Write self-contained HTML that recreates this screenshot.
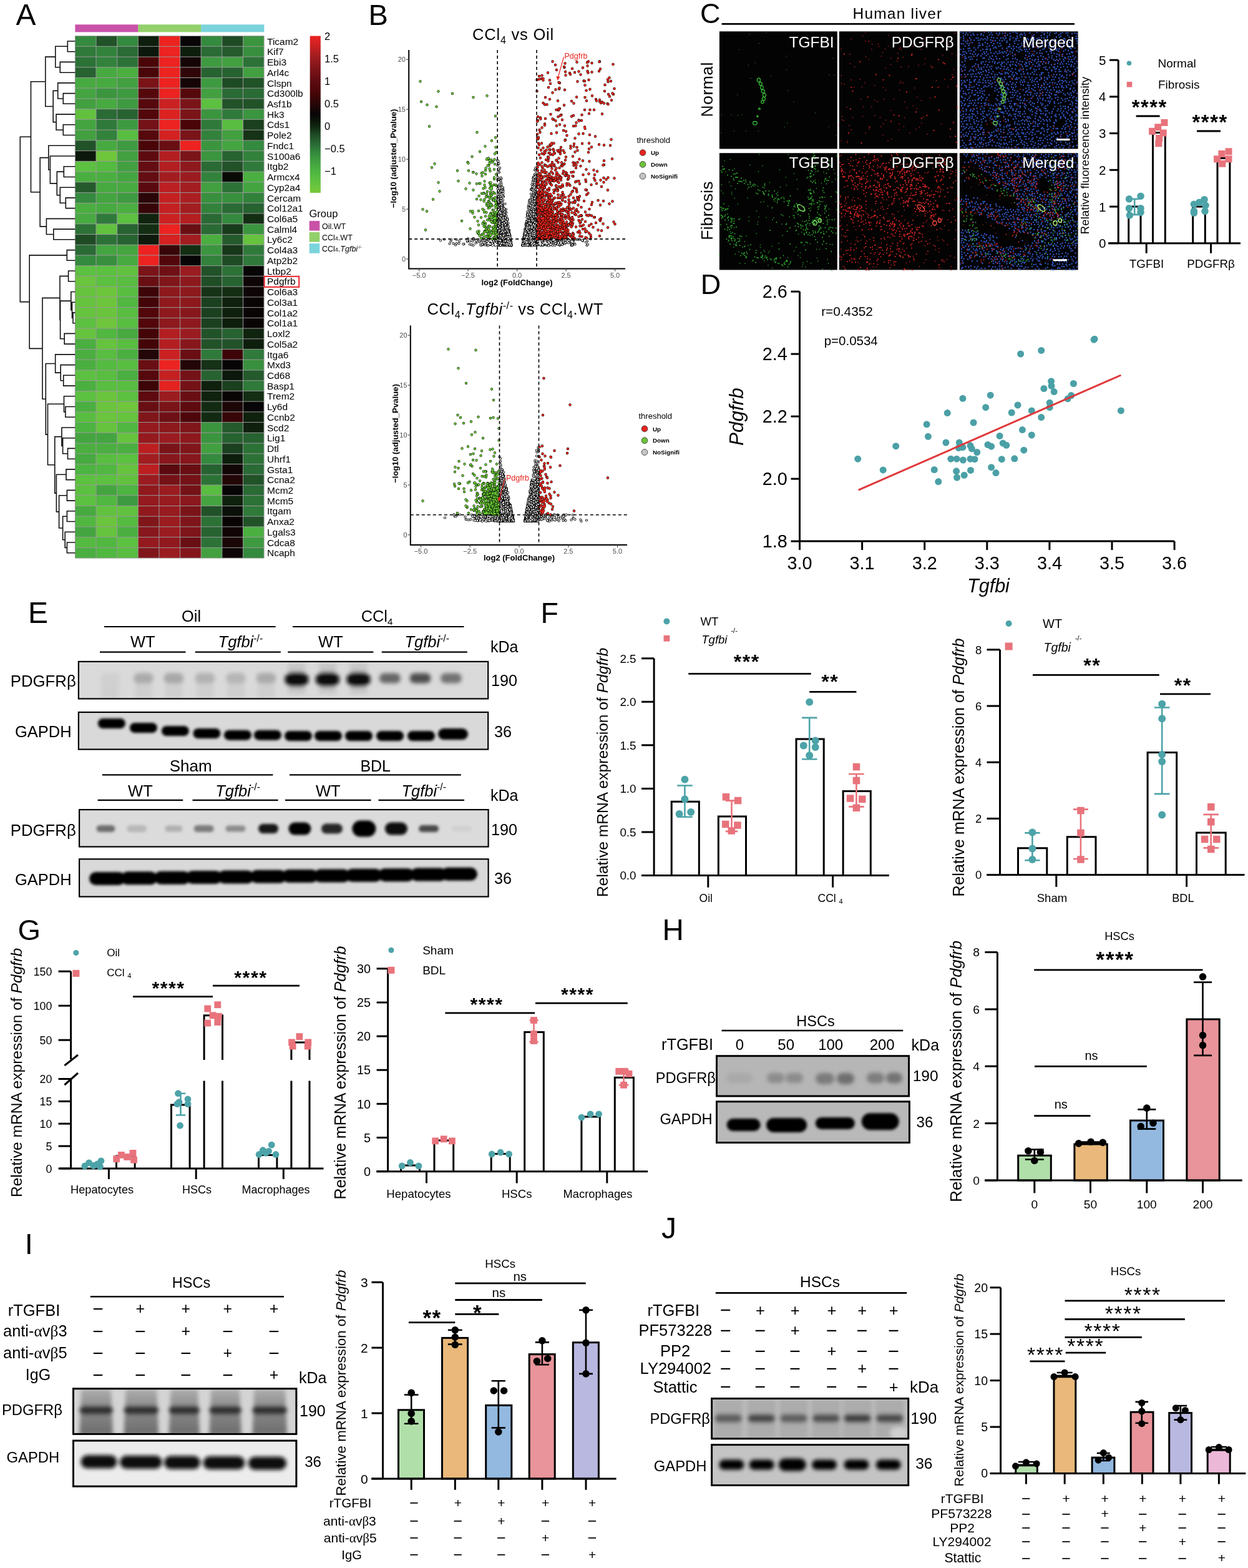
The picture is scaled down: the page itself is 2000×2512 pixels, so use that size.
<!DOCTYPE html>
<html><head><meta charset="utf-8"><title>Figure</title>
<style>html,body{margin:0;padding:0;background:#fff;}svg{display:block;}text{font-family:'Liberation Sans', Arial, sans-serif;}</style>
</head><body>
<svg width="2000" height="2512" viewBox="0 0 2000 2512" font-family="'Liberation Sans', Arial, sans-serif">
<rect width="2000" height="2512" fill="#fff"/>
<text x="25.4" y="40.3" font-size="48">A</text>
<rect x="120.4" y="39.3" width="101.2" height="12.1" fill="#c952a8"/>
<rect x="221.3" y="39.3" width="101.2" height="12.1" fill="#92d06a"/>
<rect x="322.2" y="39.3" width="101.2" height="12.1" fill="#7bd3dc"/>
<g shape-rendering="crispEdges">
<rect x="120.4" y="57.6" width="33.8" height="16.9" fill="#348a3e"/>
<rect x="154" y="57.6" width="33.8" height="16.9" fill="#215228"/>
<rect x="187.7" y="57.6" width="33.8" height="16.9" fill="#348a3e"/>
<rect x="221.3" y="57.6" width="33.8" height="16.9" fill="#0e1e0d"/>
<rect x="254.9" y="57.6" width="33.8" height="16.9" fill="#ec2320"/>
<rect x="288.6" y="57.6" width="33.8" height="16.9" fill="#070505"/>
<rect x="322.2" y="57.6" width="33.8" height="16.9" fill="#348a3e"/>
<rect x="355.8" y="57.6" width="33.8" height="16.9" fill="#1e4a24"/>
<rect x="389.5" y="57.6" width="33.8" height="16.9" fill="#3b953f"/>
<rect x="120.4" y="74.3" width="33.8" height="16.9" fill="#2f7a3a"/>
<rect x="154" y="74.3" width="33.8" height="16.9" fill="#32823c"/>
<rect x="187.7" y="74.3" width="33.8" height="16.9" fill="#2a6a35"/>
<rect x="221.3" y="74.3" width="33.8" height="16.9" fill="#0c180b"/>
<rect x="254.9" y="74.3" width="33.8" height="16.9" fill="#ec2320"/>
<rect x="288.6" y="74.3" width="33.8" height="16.9" fill="#0e1e0d"/>
<rect x="322.2" y="74.3" width="33.8" height="16.9" fill="#2a6a35"/>
<rect x="355.8" y="74.3" width="33.8" height="16.9" fill="#245a2c"/>
<rect x="389.5" y="74.3" width="33.8" height="16.9" fill="#38903e"/>
<rect x="120.4" y="91.1" width="33.8" height="16.9" fill="#2c7237"/>
<rect x="154" y="91.1" width="33.8" height="16.9" fill="#32823c"/>
<rect x="187.7" y="91.1" width="33.8" height="16.9" fill="#2c7237"/>
<rect x="221.3" y="91.1" width="33.8" height="16.9" fill="#4a0508"/>
<rect x="254.9" y="91.1" width="33.8" height="16.9" fill="#ec2320"/>
<rect x="288.6" y="91.1" width="33.8" height="16.9" fill="#150506"/>
<rect x="322.2" y="91.1" width="33.8" height="16.9" fill="#3e9a40"/>
<rect x="355.8" y="91.1" width="33.8" height="16.9" fill="#42a040"/>
<rect x="389.5" y="91.1" width="33.8" height="16.9" fill="#2c7237"/>
<rect x="120.4" y="107.8" width="33.8" height="16.9" fill="#276231"/>
<rect x="154" y="107.8" width="33.8" height="16.9" fill="#47aa40"/>
<rect x="187.7" y="107.8" width="33.8" height="16.9" fill="#4aaf40"/>
<rect x="221.3" y="107.8" width="33.8" height="16.9" fill="#4a0508"/>
<rect x="254.9" y="107.8" width="33.8" height="16.9" fill="#ec2320"/>
<rect x="288.6" y="107.8" width="33.8" height="16.9" fill="#300608"/>
<rect x="322.2" y="107.8" width="33.8" height="16.9" fill="#276231"/>
<rect x="355.8" y="107.8" width="33.8" height="16.9" fill="#276231"/>
<rect x="389.5" y="107.8" width="33.8" height="16.9" fill="#42a040"/>
<rect x="120.4" y="124.5" width="33.8" height="16.9" fill="#47aa40"/>
<rect x="154" y="124.5" width="33.8" height="16.9" fill="#47aa40"/>
<rect x="187.7" y="124.5" width="33.8" height="16.9" fill="#42a040"/>
<rect x="221.3" y="124.5" width="33.8" height="16.9" fill="#7a1419"/>
<rect x="254.9" y="124.5" width="33.8" height="16.9" fill="#ec2320"/>
<rect x="288.6" y="124.5" width="33.8" height="16.9" fill="#150506"/>
<rect x="322.2" y="124.5" width="33.8" height="16.9" fill="#3e9a40"/>
<rect x="355.8" y="124.5" width="33.8" height="16.9" fill="#1e4a24"/>
<rect x="389.5" y="124.5" width="33.8" height="16.9" fill="#215228"/>
<rect x="120.4" y="141.2" width="33.8" height="16.9" fill="#44a540"/>
<rect x="154" y="141.2" width="33.8" height="16.9" fill="#3b953f"/>
<rect x="187.7" y="141.2" width="33.8" height="16.9" fill="#3e9a40"/>
<rect x="221.3" y="141.2" width="33.8" height="16.9" fill="#56090d"/>
<rect x="254.9" y="141.2" width="33.8" height="16.9" fill="#ec2320"/>
<rect x="288.6" y="141.2" width="33.8" height="16.9" fill="#56090d"/>
<rect x="322.2" y="141.2" width="33.8" height="16.9" fill="#42a040"/>
<rect x="355.8" y="141.2" width="33.8" height="16.9" fill="#2a6a35"/>
<rect x="389.5" y="141.2" width="33.8" height="16.9" fill="#2a6a35"/>
<rect x="120.4" y="158" width="33.8" height="16.9" fill="#42a040"/>
<rect x="154" y="158" width="33.8" height="16.9" fill="#47aa40"/>
<rect x="187.7" y="158" width="33.8" height="16.9" fill="#3e9a40"/>
<rect x="221.3" y="158" width="33.8" height="16.9" fill="#56090d"/>
<rect x="254.9" y="158" width="33.8" height="16.9" fill="#cc2122"/>
<rect x="288.6" y="158" width="33.8" height="16.9" fill="#7a1419"/>
<rect x="322.2" y="158" width="33.8" height="16.9" fill="#5cc040"/>
<rect x="355.8" y="158" width="33.8" height="16.9" fill="#215228"/>
<rect x="389.5" y="158" width="33.8" height="16.9" fill="#215228"/>
<rect x="120.4" y="174.7" width="33.8" height="16.9" fill="#61c13f"/>
<rect x="154" y="174.7" width="33.8" height="16.9" fill="#2a6a35"/>
<rect x="187.7" y="174.7" width="33.8" height="16.9" fill="#276231"/>
<rect x="221.3" y="174.7" width="33.8" height="16.9" fill="#52070b"/>
<rect x="254.9" y="174.7" width="33.8" height="16.9" fill="#dc2221"/>
<rect x="288.6" y="174.7" width="33.8" height="16.9" fill="#7a1419"/>
<rect x="322.2" y="174.7" width="33.8" height="16.9" fill="#3b953f"/>
<rect x="355.8" y="174.7" width="33.8" height="16.9" fill="#2f7a3a"/>
<rect x="389.5" y="174.7" width="33.8" height="16.9" fill="#3b953f"/>
<rect x="120.4" y="191.4" width="33.8" height="16.9" fill="#44a540"/>
<rect x="154" y="191.4" width="33.8" height="16.9" fill="#2f7a3a"/>
<rect x="187.7" y="191.4" width="33.8" height="16.9" fill="#3e9a40"/>
<rect x="221.3" y="191.4" width="33.8" height="16.9" fill="#741217"/>
<rect x="254.9" y="191.4" width="33.8" height="16.9" fill="#ec2320"/>
<rect x="288.6" y="191.4" width="33.8" height="16.9" fill="#4a0508"/>
<rect x="322.2" y="191.4" width="33.8" height="16.9" fill="#2f7a3a"/>
<rect x="355.8" y="191.4" width="33.8" height="16.9" fill="#58bd40"/>
<rect x="389.5" y="191.4" width="33.8" height="16.9" fill="#1a401f"/>
<rect x="120.4" y="208.2" width="33.8" height="16.9" fill="#42a040"/>
<rect x="154" y="208.2" width="33.8" height="16.9" fill="#32823c"/>
<rect x="187.7" y="208.2" width="33.8" height="16.9" fill="#58bd40"/>
<rect x="221.3" y="208.2" width="33.8" height="16.9" fill="#56090d"/>
<rect x="254.9" y="208.2" width="33.8" height="16.9" fill="#d42121"/>
<rect x="288.6" y="208.2" width="33.8" height="16.9" fill="#7a1419"/>
<rect x="322.2" y="208.2" width="33.8" height="16.9" fill="#32823c"/>
<rect x="355.8" y="208.2" width="33.8" height="16.9" fill="#42a040"/>
<rect x="389.5" y="208.2" width="33.8" height="16.9" fill="#163317"/>
<rect x="120.4" y="224.9" width="33.8" height="16.9" fill="#215228"/>
<rect x="154" y="224.9" width="33.8" height="16.9" fill="#47aa40"/>
<rect x="187.7" y="224.9" width="33.8" height="16.9" fill="#3e9a40"/>
<rect x="221.3" y="224.9" width="33.8" height="16.9" fill="#4a0508"/>
<rect x="254.9" y="224.9" width="33.8" height="16.9" fill="#690f14"/>
<rect x="288.6" y="224.9" width="33.8" height="16.9" fill="#ec2320"/>
<rect x="322.2" y="224.9" width="33.8" height="16.9" fill="#3b953f"/>
<rect x="355.8" y="224.9" width="33.8" height="16.9" fill="#44a540"/>
<rect x="389.5" y="224.9" width="33.8" height="16.9" fill="#348a3e"/>
<rect x="120.4" y="241.6" width="33.8" height="16.9" fill="#0c180b"/>
<rect x="154" y="241.6" width="33.8" height="16.9" fill="#6fc63c"/>
<rect x="187.7" y="241.6" width="33.8" height="16.9" fill="#42a040"/>
<rect x="221.3" y="241.6" width="33.8" height="16.9" fill="#5e0b10"/>
<rect x="254.9" y="241.6" width="33.8" height="16.9" fill="#b31e21"/>
<rect x="288.6" y="241.6" width="33.8" height="16.9" fill="#7a1419"/>
<rect x="322.2" y="241.6" width="33.8" height="16.9" fill="#3b953f"/>
<rect x="355.8" y="241.6" width="33.8" height="16.9" fill="#276231"/>
<rect x="389.5" y="241.6" width="33.8" height="16.9" fill="#32823c"/>
<rect x="120.4" y="258.4" width="33.8" height="16.9" fill="#5cc040"/>
<rect x="154" y="258.4" width="33.8" height="16.9" fill="#54ba40"/>
<rect x="187.7" y="258.4" width="33.8" height="16.9" fill="#42a040"/>
<rect x="221.3" y="258.4" width="33.8" height="16.9" fill="#640d12"/>
<rect x="254.9" y="258.4" width="33.8" height="16.9" fill="#b31e21"/>
<rect x="288.6" y="258.4" width="33.8" height="16.9" fill="#8d191d"/>
<rect x="322.2" y="258.4" width="33.8" height="16.9" fill="#2a6a35"/>
<rect x="355.8" y="258.4" width="33.8" height="16.9" fill="#215228"/>
<rect x="389.5" y="258.4" width="33.8" height="16.9" fill="#2f7a3a"/>
<rect x="120.4" y="275.1" width="33.8" height="16.9" fill="#4aaf40"/>
<rect x="154" y="275.1" width="33.8" height="16.9" fill="#4aaf40"/>
<rect x="187.7" y="275.1" width="33.8" height="16.9" fill="#44a540"/>
<rect x="221.3" y="275.1" width="33.8" height="16.9" fill="#640d12"/>
<rect x="254.9" y="275.1" width="33.8" height="16.9" fill="#a21d20"/>
<rect x="288.6" y="275.1" width="33.8" height="16.9" fill="#9a1c20"/>
<rect x="322.2" y="275.1" width="33.8" height="16.9" fill="#32823c"/>
<rect x="355.8" y="275.1" width="33.8" height="16.9" fill="#090b07"/>
<rect x="389.5" y="275.1" width="33.8" height="16.9" fill="#4aaf40"/>
<rect x="120.4" y="291.8" width="33.8" height="16.9" fill="#245a2c"/>
<rect x="154" y="291.8" width="33.8" height="16.9" fill="#47aa40"/>
<rect x="187.7" y="291.8" width="33.8" height="16.9" fill="#47aa40"/>
<rect x="221.3" y="291.8" width="33.8" height="16.9" fill="#5a0a0e"/>
<rect x="254.9" y="291.8" width="33.8" height="16.9" fill="#bc1f22"/>
<rect x="288.6" y="291.8" width="33.8" height="16.9" fill="#a21d20"/>
<rect x="322.2" y="291.8" width="33.8" height="16.9" fill="#42a040"/>
<rect x="355.8" y="291.8" width="33.8" height="16.9" fill="#2c7237"/>
<rect x="389.5" y="291.8" width="33.8" height="16.9" fill="#44a540"/>
<rect x="120.4" y="308.6" width="33.8" height="16.9" fill="#348a3e"/>
<rect x="154" y="308.6" width="33.8" height="16.9" fill="#44a540"/>
<rect x="187.7" y="308.6" width="33.8" height="16.9" fill="#3e9a40"/>
<rect x="221.3" y="308.6" width="33.8" height="16.9" fill="#2a0608"/>
<rect x="254.9" y="308.6" width="33.8" height="16.9" fill="#c42022"/>
<rect x="288.6" y="308.6" width="33.8" height="16.9" fill="#ab1e21"/>
<rect x="322.2" y="308.6" width="33.8" height="16.9" fill="#38903e"/>
<rect x="355.8" y="308.6" width="33.8" height="16.9" fill="#38903e"/>
<rect x="389.5" y="308.6" width="33.8" height="16.9" fill="#32823c"/>
<rect x="120.4" y="325.3" width="33.8" height="16.9" fill="#4aaf40"/>
<rect x="154" y="325.3" width="33.8" height="16.9" fill="#47aa40"/>
<rect x="187.7" y="325.3" width="33.8" height="16.9" fill="#4aaf40"/>
<rect x="221.3" y="325.3" width="33.8" height="16.9" fill="#370608"/>
<rect x="254.9" y="325.3" width="33.8" height="16.9" fill="#c42022"/>
<rect x="288.6" y="325.3" width="33.8" height="16.9" fill="#a21d20"/>
<rect x="322.2" y="325.3" width="33.8" height="16.9" fill="#32823c"/>
<rect x="355.8" y="325.3" width="33.8" height="16.9" fill="#2a6a35"/>
<rect x="389.5" y="325.3" width="33.8" height="16.9" fill="#276231"/>
<rect x="120.4" y="342" width="33.8" height="16.9" fill="#47aa40"/>
<rect x="154" y="342" width="33.8" height="16.9" fill="#2f7a3a"/>
<rect x="187.7" y="342" width="33.8" height="16.9" fill="#5cc040"/>
<rect x="221.3" y="342" width="33.8" height="16.9" fill="#10240f"/>
<rect x="254.9" y="342" width="33.8" height="16.9" fill="#cc2122"/>
<rect x="288.6" y="342" width="33.8" height="16.9" fill="#b31e21"/>
<rect x="322.2" y="342" width="33.8" height="16.9" fill="#2a6a35"/>
<rect x="355.8" y="342" width="33.8" height="16.9" fill="#348a3e"/>
<rect x="389.5" y="342" width="33.8" height="16.9" fill="#142e14"/>
<rect x="120.4" y="358.7" width="33.8" height="16.9" fill="#2c7237"/>
<rect x="154" y="358.7" width="33.8" height="16.9" fill="#61c13f"/>
<rect x="187.7" y="358.7" width="33.8" height="16.9" fill="#276231"/>
<rect x="221.3" y="358.7" width="33.8" height="16.9" fill="#142e14"/>
<rect x="254.9" y="358.7" width="33.8" height="16.9" fill="#ec2320"/>
<rect x="288.6" y="358.7" width="33.8" height="16.9" fill="#690f14"/>
<rect x="322.2" y="358.7" width="33.8" height="16.9" fill="#2a6a35"/>
<rect x="355.8" y="358.7" width="33.8" height="16.9" fill="#183b1c"/>
<rect x="389.5" y="358.7" width="33.8" height="16.9" fill="#3b953f"/>
<rect x="120.4" y="375.5" width="33.8" height="16.9" fill="#1e4a24"/>
<rect x="154" y="375.5" width="33.8" height="16.9" fill="#2c7237"/>
<rect x="187.7" y="375.5" width="33.8" height="16.9" fill="#276231"/>
<rect x="221.3" y="375.5" width="33.8" height="16.9" fill="#0d1a0c"/>
<rect x="254.9" y="375.5" width="33.8" height="16.9" fill="#d42121"/>
<rect x="288.6" y="375.5" width="33.8" height="16.9" fill="#a21d20"/>
<rect x="322.2" y="375.5" width="33.8" height="16.9" fill="#4aaf40"/>
<rect x="355.8" y="375.5" width="33.8" height="16.9" fill="#245a2c"/>
<rect x="389.5" y="375.5" width="33.8" height="16.9" fill="#66c33e"/>
<rect x="120.4" y="392.2" width="33.8" height="16.9" fill="#2a6a35"/>
<rect x="154" y="392.2" width="33.8" height="16.9" fill="#44a540"/>
<rect x="187.7" y="392.2" width="33.8" height="16.9" fill="#44a540"/>
<rect x="221.3" y="392.2" width="33.8" height="16.9" fill="#ec2320"/>
<rect x="254.9" y="392.2" width="33.8" height="16.9" fill="#370608"/>
<rect x="288.6" y="392.2" width="33.8" height="16.9" fill="#142e14"/>
<rect x="322.2" y="392.2" width="33.8" height="16.9" fill="#3b953f"/>
<rect x="355.8" y="392.2" width="33.8" height="16.9" fill="#17371a"/>
<rect x="389.5" y="392.2" width="33.8" height="16.9" fill="#2f7a3a"/>
<rect x="120.4" y="408.9" width="33.8" height="16.9" fill="#348a3e"/>
<rect x="154" y="408.9" width="33.8" height="16.9" fill="#38903e"/>
<rect x="187.7" y="408.9" width="33.8" height="16.9" fill="#47aa40"/>
<rect x="221.3" y="408.9" width="33.8" height="16.9" fill="#ec2320"/>
<rect x="254.9" y="408.9" width="33.8" height="16.9" fill="#52070b"/>
<rect x="288.6" y="408.9" width="33.8" height="16.9" fill="#070505"/>
<rect x="322.2" y="408.9" width="33.8" height="16.9" fill="#32823c"/>
<rect x="355.8" y="408.9" width="33.8" height="16.9" fill="#1e4a24"/>
<rect x="389.5" y="408.9" width="33.8" height="16.9" fill="#2f7a3a"/>
<rect x="120.4" y="425.7" width="33.8" height="16.9" fill="#5cc040"/>
<rect x="154" y="425.7" width="33.8" height="16.9" fill="#5cc040"/>
<rect x="187.7" y="425.7" width="33.8" height="16.9" fill="#61c13f"/>
<rect x="221.3" y="425.7" width="33.8" height="16.9" fill="#7a1419"/>
<rect x="254.9" y="425.7" width="33.8" height="16.9" fill="#6f1015"/>
<rect x="288.6" y="425.7" width="33.8" height="16.9" fill="#9a1c20"/>
<rect x="322.2" y="425.7" width="33.8" height="16.9" fill="#215228"/>
<rect x="355.8" y="425.7" width="33.8" height="16.9" fill="#2c7237"/>
<rect x="389.5" y="425.7" width="33.8" height="16.9" fill="#070505"/>
<rect x="120.4" y="442.4" width="33.8" height="16.9" fill="#6ac43d"/>
<rect x="154" y="442.4" width="33.8" height="16.9" fill="#5cc040"/>
<rect x="187.7" y="442.4" width="33.8" height="16.9" fill="#58bd40"/>
<rect x="221.3" y="442.4" width="33.8" height="16.9" fill="#690f14"/>
<rect x="254.9" y="442.4" width="33.8" height="16.9" fill="#80161a"/>
<rect x="288.6" y="442.4" width="33.8" height="16.9" fill="#8d191d"/>
<rect x="322.2" y="442.4" width="33.8" height="16.9" fill="#1f4d26"/>
<rect x="355.8" y="442.4" width="33.8" height="16.9" fill="#276231"/>
<rect x="389.5" y="442.4" width="33.8" height="16.9" fill="#0e0506"/>
<rect x="120.4" y="459.1" width="33.8" height="16.9" fill="#66c33e"/>
<rect x="154" y="459.1" width="33.8" height="16.9" fill="#6dc53c"/>
<rect x="187.7" y="459.1" width="33.8" height="16.9" fill="#58bd40"/>
<rect x="221.3" y="459.1" width="33.8" height="16.9" fill="#3d0508"/>
<rect x="254.9" y="459.1" width="33.8" height="16.9" fill="#8d191d"/>
<rect x="288.6" y="459.1" width="33.8" height="16.9" fill="#8d191d"/>
<rect x="322.2" y="459.1" width="33.8" height="16.9" fill="#163317"/>
<rect x="355.8" y="459.1" width="33.8" height="16.9" fill="#142e14"/>
<rect x="389.5" y="459.1" width="33.8" height="16.9" fill="#0e0506"/>
<rect x="120.4" y="475.9" width="33.8" height="16.9" fill="#66c33e"/>
<rect x="154" y="475.9" width="33.8" height="16.9" fill="#6dc53c"/>
<rect x="187.7" y="475.9" width="33.8" height="16.9" fill="#50b740"/>
<rect x="221.3" y="475.9" width="33.8" height="16.9" fill="#440508"/>
<rect x="254.9" y="475.9" width="33.8" height="16.9" fill="#90191e"/>
<rect x="288.6" y="475.9" width="33.8" height="16.9" fill="#8d191d"/>
<rect x="322.2" y="475.9" width="33.8" height="16.9" fill="#1a401f"/>
<rect x="355.8" y="475.9" width="33.8" height="16.9" fill="#0f200e"/>
<rect x="389.5" y="475.9" width="33.8" height="16.9" fill="#0a0505"/>
<rect x="120.4" y="492.6" width="33.8" height="16.9" fill="#66c33e"/>
<rect x="154" y="492.6" width="33.8" height="16.9" fill="#6ac43d"/>
<rect x="187.7" y="492.6" width="33.8" height="16.9" fill="#58bd40"/>
<rect x="221.3" y="492.6" width="33.8" height="16.9" fill="#52070b"/>
<rect x="254.9" y="492.6" width="33.8" height="16.9" fill="#8d191d"/>
<rect x="288.6" y="492.6" width="33.8" height="16.9" fill="#87171c"/>
<rect x="322.2" y="492.6" width="33.8" height="16.9" fill="#1a401f"/>
<rect x="355.8" y="492.6" width="33.8" height="16.9" fill="#0f200e"/>
<rect x="389.5" y="492.6" width="33.8" height="16.9" fill="#0a0505"/>
<rect x="120.4" y="509.3" width="33.8" height="16.9" fill="#5cc040"/>
<rect x="154" y="509.3" width="33.8" height="16.9" fill="#6fc63c"/>
<rect x="187.7" y="509.3" width="33.8" height="16.9" fill="#58bd40"/>
<rect x="221.3" y="509.3" width="33.8" height="16.9" fill="#52070b"/>
<rect x="254.9" y="509.3" width="33.8" height="16.9" fill="#8d191d"/>
<rect x="288.6" y="509.3" width="33.8" height="16.9" fill="#8d191d"/>
<rect x="322.2" y="509.3" width="33.8" height="16.9" fill="#1a401f"/>
<rect x="355.8" y="509.3" width="33.8" height="16.9" fill="#0e1e0d"/>
<rect x="389.5" y="509.3" width="33.8" height="16.9" fill="#0a0505"/>
<rect x="120.4" y="526" width="33.8" height="16.9" fill="#66c33e"/>
<rect x="154" y="526" width="33.8" height="16.9" fill="#50b740"/>
<rect x="187.7" y="526" width="33.8" height="16.9" fill="#47aa40"/>
<rect x="221.3" y="526" width="33.8" height="16.9" fill="#440508"/>
<rect x="254.9" y="526" width="33.8" height="16.9" fill="#b31e21"/>
<rect x="288.6" y="526" width="33.8" height="16.9" fill="#9a1c20"/>
<rect x="322.2" y="526" width="33.8" height="16.9" fill="#215228"/>
<rect x="355.8" y="526" width="33.8" height="16.9" fill="#276231"/>
<rect x="389.5" y="526" width="33.8" height="16.9" fill="#10240f"/>
<rect x="120.4" y="542.8" width="33.8" height="16.9" fill="#4aaf40"/>
<rect x="154" y="542.8" width="33.8" height="16.9" fill="#66c33e"/>
<rect x="187.7" y="542.8" width="33.8" height="16.9" fill="#58bd40"/>
<rect x="221.3" y="542.8" width="33.8" height="16.9" fill="#440508"/>
<rect x="254.9" y="542.8" width="33.8" height="16.9" fill="#b31e21"/>
<rect x="288.6" y="542.8" width="33.8" height="16.9" fill="#87171c"/>
<rect x="322.2" y="542.8" width="33.8" height="16.9" fill="#215228"/>
<rect x="355.8" y="542.8" width="33.8" height="16.9" fill="#215228"/>
<rect x="389.5" y="542.8" width="33.8" height="16.9" fill="#0e1e0d"/>
<rect x="120.4" y="559.5" width="33.8" height="16.9" fill="#4aaf40"/>
<rect x="154" y="559.5" width="33.8" height="16.9" fill="#58bd40"/>
<rect x="187.7" y="559.5" width="33.8" height="16.9" fill="#4aaf40"/>
<rect x="221.3" y="559.5" width="33.8" height="16.9" fill="#230607"/>
<rect x="254.9" y="559.5" width="33.8" height="16.9" fill="#cc2122"/>
<rect x="288.6" y="559.5" width="33.8" height="16.9" fill="#690f14"/>
<rect x="322.2" y="559.5" width="33.8" height="16.9" fill="#2f7a3a"/>
<rect x="355.8" y="559.5" width="33.8" height="16.9" fill="#3d0508"/>
<rect x="389.5" y="559.5" width="33.8" height="16.9" fill="#2f7a3a"/>
<rect x="120.4" y="576.2" width="33.8" height="16.9" fill="#4aaf40"/>
<rect x="154" y="576.2" width="33.8" height="16.9" fill="#54ba40"/>
<rect x="187.7" y="576.2" width="33.8" height="16.9" fill="#58bd40"/>
<rect x="221.3" y="576.2" width="33.8" height="16.9" fill="#690f14"/>
<rect x="254.9" y="576.2" width="33.8" height="16.9" fill="#ec2320"/>
<rect x="288.6" y="576.2" width="33.8" height="16.9" fill="#230607"/>
<rect x="322.2" y="576.2" width="33.8" height="16.9" fill="#153116"/>
<rect x="355.8" y="576.2" width="33.8" height="16.9" fill="#070505"/>
<rect x="389.5" y="576.2" width="33.8" height="16.9" fill="#38903e"/>
<rect x="120.4" y="593" width="33.8" height="16.9" fill="#5cc040"/>
<rect x="154" y="593" width="33.8" height="16.9" fill="#58bd40"/>
<rect x="187.7" y="593" width="33.8" height="16.9" fill="#4aaf40"/>
<rect x="221.3" y="593" width="33.8" height="16.9" fill="#56090d"/>
<rect x="254.9" y="593" width="33.8" height="16.9" fill="#c42022"/>
<rect x="288.6" y="593" width="33.8" height="16.9" fill="#741217"/>
<rect x="322.2" y="593" width="33.8" height="16.9" fill="#276231"/>
<rect x="355.8" y="593" width="33.8" height="16.9" fill="#0c180b"/>
<rect x="389.5" y="593" width="33.8" height="16.9" fill="#245a2c"/>
<rect x="120.4" y="609.7" width="33.8" height="16.9" fill="#4aaf40"/>
<rect x="154" y="609.7" width="33.8" height="16.9" fill="#58bd40"/>
<rect x="187.7" y="609.7" width="33.8" height="16.9" fill="#58bd40"/>
<rect x="221.3" y="609.7" width="33.8" height="16.9" fill="#3d0508"/>
<rect x="254.9" y="609.7" width="33.8" height="16.9" fill="#e42220"/>
<rect x="288.6" y="609.7" width="33.8" height="16.9" fill="#741217"/>
<rect x="322.2" y="609.7" width="33.8" height="16.9" fill="#0f200e"/>
<rect x="355.8" y="609.7" width="33.8" height="16.9" fill="#1a401f"/>
<rect x="389.5" y="609.7" width="33.8" height="16.9" fill="#2f7a3a"/>
<rect x="120.4" y="626.4" width="33.8" height="16.9" fill="#5cc040"/>
<rect x="154" y="626.4" width="33.8" height="16.9" fill="#6ac43d"/>
<rect x="187.7" y="626.4" width="33.8" height="16.9" fill="#5cc040"/>
<rect x="221.3" y="626.4" width="33.8" height="16.9" fill="#5e0b10"/>
<rect x="254.9" y="626.4" width="33.8" height="16.9" fill="#9a1c20"/>
<rect x="288.6" y="626.4" width="33.8" height="16.9" fill="#690f14"/>
<rect x="322.2" y="626.4" width="33.8" height="16.9" fill="#0f220e"/>
<rect x="355.8" y="626.4" width="33.8" height="16.9" fill="#0a0505"/>
<rect x="389.5" y="626.4" width="33.8" height="16.9" fill="#142e14"/>
<rect x="120.4" y="643.2" width="33.8" height="16.9" fill="#4aaf40"/>
<rect x="154" y="643.2" width="33.8" height="16.9" fill="#6ac43d"/>
<rect x="187.7" y="643.2" width="33.8" height="16.9" fill="#6fc63c"/>
<rect x="221.3" y="643.2" width="33.8" height="16.9" fill="#690f14"/>
<rect x="254.9" y="643.2" width="33.8" height="16.9" fill="#7a1419"/>
<rect x="288.6" y="643.2" width="33.8" height="16.9" fill="#5e0b10"/>
<rect x="322.2" y="643.2" width="33.8" height="16.9" fill="#122a12"/>
<rect x="355.8" y="643.2" width="33.8" height="16.9" fill="#1c0607"/>
<rect x="389.5" y="643.2" width="33.8" height="16.9" fill="#070505"/>
<rect x="120.4" y="659.9" width="33.8" height="16.9" fill="#58bd40"/>
<rect x="154" y="659.9" width="33.8" height="16.9" fill="#6ac43d"/>
<rect x="187.7" y="659.9" width="33.8" height="16.9" fill="#66c33e"/>
<rect x="221.3" y="659.9" width="33.8" height="16.9" fill="#80161a"/>
<rect x="254.9" y="659.9" width="33.8" height="16.9" fill="#6f1015"/>
<rect x="288.6" y="659.9" width="33.8" height="16.9" fill="#4e060a"/>
<rect x="322.2" y="659.9" width="33.8" height="16.9" fill="#122a12"/>
<rect x="355.8" y="659.9" width="33.8" height="16.9" fill="#370608"/>
<rect x="389.5" y="659.9" width="33.8" height="16.9" fill="#0f220e"/>
<rect x="120.4" y="676.6" width="33.8" height="16.9" fill="#4cb440"/>
<rect x="154" y="676.6" width="33.8" height="16.9" fill="#66c33e"/>
<rect x="187.7" y="676.6" width="33.8" height="16.9" fill="#50b740"/>
<rect x="221.3" y="676.6" width="33.8" height="16.9" fill="#941a1f"/>
<rect x="254.9" y="676.6" width="33.8" height="16.9" fill="#8d191d"/>
<rect x="288.6" y="676.6" width="33.8" height="16.9" fill="#80161a"/>
<rect x="322.2" y="676.6" width="33.8" height="16.9" fill="#3b953f"/>
<rect x="355.8" y="676.6" width="33.8" height="16.9" fill="#245a2c"/>
<rect x="389.5" y="676.6" width="33.8" height="16.9" fill="#0f200e"/>
<rect x="120.4" y="693.3" width="33.8" height="16.9" fill="#44a540"/>
<rect x="154" y="693.3" width="33.8" height="16.9" fill="#44a540"/>
<rect x="187.7" y="693.3" width="33.8" height="16.9" fill="#66c33e"/>
<rect x="221.3" y="693.3" width="33.8" height="16.9" fill="#941a1f"/>
<rect x="254.9" y="693.3" width="33.8" height="16.9" fill="#9a1c20"/>
<rect x="288.6" y="693.3" width="33.8" height="16.9" fill="#8d191d"/>
<rect x="322.2" y="693.3" width="33.8" height="16.9" fill="#3b953f"/>
<rect x="355.8" y="693.3" width="33.8" height="16.9" fill="#276231"/>
<rect x="389.5" y="693.3" width="33.8" height="16.9" fill="#276231"/>
<rect x="120.4" y="710.1" width="33.8" height="16.9" fill="#4aaf40"/>
<rect x="154" y="710.1" width="33.8" height="16.9" fill="#4aaf40"/>
<rect x="187.7" y="710.1" width="33.8" height="16.9" fill="#4aaf40"/>
<rect x="221.3" y="710.1" width="33.8" height="16.9" fill="#bc1f22"/>
<rect x="254.9" y="710.1" width="33.8" height="16.9" fill="#7a1419"/>
<rect x="288.6" y="710.1" width="33.8" height="16.9" fill="#80161a"/>
<rect x="322.2" y="710.1" width="33.8" height="16.9" fill="#42a040"/>
<rect x="355.8" y="710.1" width="33.8" height="16.9" fill="#1a401f"/>
<rect x="389.5" y="710.1" width="33.8" height="16.9" fill="#2c7237"/>
<rect x="120.4" y="726.8" width="33.8" height="16.9" fill="#47aa40"/>
<rect x="154" y="726.8" width="33.8" height="16.9" fill="#58bd40"/>
<rect x="187.7" y="726.8" width="33.8" height="16.9" fill="#5cc040"/>
<rect x="221.3" y="726.8" width="33.8" height="16.9" fill="#a21d20"/>
<rect x="254.9" y="726.8" width="33.8" height="16.9" fill="#87171c"/>
<rect x="288.6" y="726.8" width="33.8" height="16.9" fill="#87171c"/>
<rect x="322.2" y="726.8" width="33.8" height="16.9" fill="#348a3e"/>
<rect x="355.8" y="726.8" width="33.8" height="16.9" fill="#0e1e0d"/>
<rect x="389.5" y="726.8" width="33.8" height="16.9" fill="#2c7237"/>
<rect x="120.4" y="743.5" width="33.8" height="16.9" fill="#4cb440"/>
<rect x="154" y="743.5" width="33.8" height="16.9" fill="#50b740"/>
<rect x="187.7" y="743.5" width="33.8" height="16.9" fill="#66c33e"/>
<rect x="221.3" y="743.5" width="33.8" height="16.9" fill="#bc1f22"/>
<rect x="254.9" y="743.5" width="33.8" height="16.9" fill="#5a0a0e"/>
<rect x="288.6" y="743.5" width="33.8" height="16.9" fill="#690f14"/>
<rect x="322.2" y="743.5" width="33.8" height="16.9" fill="#276231"/>
<rect x="355.8" y="743.5" width="33.8" height="16.9" fill="#110506"/>
<rect x="389.5" y="743.5" width="33.8" height="16.9" fill="#2a6a35"/>
<rect x="120.4" y="760.3" width="33.8" height="16.9" fill="#5cc040"/>
<rect x="154" y="760.3" width="33.8" height="16.9" fill="#5cc040"/>
<rect x="187.7" y="760.3" width="33.8" height="16.9" fill="#61c13f"/>
<rect x="221.3" y="760.3" width="33.8" height="16.9" fill="#9a1c20"/>
<rect x="254.9" y="760.3" width="33.8" height="16.9" fill="#741217"/>
<rect x="288.6" y="760.3" width="33.8" height="16.9" fill="#741217"/>
<rect x="322.2" y="760.3" width="33.8" height="16.9" fill="#2c7237"/>
<rect x="355.8" y="760.3" width="33.8" height="16.9" fill="#230607"/>
<rect x="389.5" y="760.3" width="33.8" height="16.9" fill="#215228"/>
<rect x="120.4" y="777" width="33.8" height="16.9" fill="#5cc040"/>
<rect x="154" y="777" width="33.8" height="16.9" fill="#44a540"/>
<rect x="187.7" y="777" width="33.8" height="16.9" fill="#4cb440"/>
<rect x="221.3" y="777" width="33.8" height="16.9" fill="#90191e"/>
<rect x="254.9" y="777" width="33.8" height="16.9" fill="#9a1c20"/>
<rect x="288.6" y="777" width="33.8" height="16.9" fill="#741217"/>
<rect x="322.2" y="777" width="33.8" height="16.9" fill="#58bd40"/>
<rect x="355.8" y="777" width="33.8" height="16.9" fill="#070505"/>
<rect x="389.5" y="777" width="33.8" height="16.9" fill="#2a6a35"/>
<rect x="120.4" y="793.7" width="33.8" height="16.9" fill="#5cc040"/>
<rect x="154" y="793.7" width="33.8" height="16.9" fill="#50b740"/>
<rect x="187.7" y="793.7" width="33.8" height="16.9" fill="#3e9a40"/>
<rect x="221.3" y="793.7" width="33.8" height="16.9" fill="#941a1f"/>
<rect x="254.9" y="793.7" width="33.8" height="16.9" fill="#971b1f"/>
<rect x="288.6" y="793.7" width="33.8" height="16.9" fill="#8b181d"/>
<rect x="322.2" y="793.7" width="33.8" height="16.9" fill="#44a540"/>
<rect x="355.8" y="793.7" width="33.8" height="16.9" fill="#0f220e"/>
<rect x="389.5" y="793.7" width="33.8" height="16.9" fill="#2c7237"/>
<rect x="120.4" y="810.5" width="33.8" height="16.9" fill="#47aa40"/>
<rect x="154" y="810.5" width="33.8" height="16.9" fill="#61c13f"/>
<rect x="187.7" y="810.5" width="33.8" height="16.9" fill="#61c13f"/>
<rect x="221.3" y="810.5" width="33.8" height="16.9" fill="#90191e"/>
<rect x="254.9" y="810.5" width="33.8" height="16.9" fill="#971b1f"/>
<rect x="288.6" y="810.5" width="33.8" height="16.9" fill="#7a1419"/>
<rect x="322.2" y="810.5" width="33.8" height="16.9" fill="#215228"/>
<rect x="355.8" y="810.5" width="33.8" height="16.9" fill="#0b1109"/>
<rect x="389.5" y="810.5" width="33.8" height="16.9" fill="#2f7a3a"/>
<rect x="120.4" y="827.2" width="33.8" height="16.9" fill="#50b740"/>
<rect x="154" y="827.2" width="33.8" height="16.9" fill="#6ac43d"/>
<rect x="187.7" y="827.2" width="33.8" height="16.9" fill="#54ba40"/>
<rect x="221.3" y="827.2" width="33.8" height="16.9" fill="#80161a"/>
<rect x="254.9" y="827.2" width="33.8" height="16.9" fill="#9a1c20"/>
<rect x="288.6" y="827.2" width="33.8" height="16.9" fill="#7e151a"/>
<rect x="322.2" y="827.2" width="33.8" height="16.9" fill="#2c7237"/>
<rect x="355.8" y="827.2" width="33.8" height="16.9" fill="#0a0505"/>
<rect x="389.5" y="827.2" width="33.8" height="16.9" fill="#215228"/>
<rect x="120.4" y="843.9" width="33.8" height="16.9" fill="#44a540"/>
<rect x="154" y="843.9" width="33.8" height="16.9" fill="#66c33e"/>
<rect x="187.7" y="843.9" width="33.8" height="16.9" fill="#4aaf40"/>
<rect x="221.3" y="843.9" width="33.8" height="16.9" fill="#87171c"/>
<rect x="254.9" y="843.9" width="33.8" height="16.9" fill="#9a1c20"/>
<rect x="288.6" y="843.9" width="33.8" height="16.9" fill="#7e151a"/>
<rect x="322.2" y="843.9" width="33.8" height="16.9" fill="#276231"/>
<rect x="355.8" y="843.9" width="33.8" height="16.9" fill="#110506"/>
<rect x="389.5" y="843.9" width="33.8" height="16.9" fill="#4aaf40"/>
<rect x="120.4" y="860.6" width="33.8" height="16.9" fill="#54ba40"/>
<rect x="154" y="860.6" width="33.8" height="16.9" fill="#50b740"/>
<rect x="187.7" y="860.6" width="33.8" height="16.9" fill="#5cc040"/>
<rect x="221.3" y="860.6" width="33.8" height="16.9" fill="#941a1f"/>
<rect x="254.9" y="860.6" width="33.8" height="16.9" fill="#90191e"/>
<rect x="288.6" y="860.6" width="33.8" height="16.9" fill="#690f14"/>
<rect x="322.2" y="860.6" width="33.8" height="16.9" fill="#2c7237"/>
<rect x="355.8" y="860.6" width="33.8" height="16.9" fill="#190607"/>
<rect x="389.5" y="860.6" width="33.8" height="16.9" fill="#3e9a40"/>
<rect x="120.4" y="877.4" width="33.8" height="16.9" fill="#4aaf40"/>
<rect x="154" y="877.4" width="33.8" height="16.9" fill="#50b740"/>
<rect x="187.7" y="877.4" width="33.8" height="16.9" fill="#58bd40"/>
<rect x="221.3" y="877.4" width="33.8" height="16.9" fill="#80161a"/>
<rect x="254.9" y="877.4" width="33.8" height="16.9" fill="#9a1c20"/>
<rect x="288.6" y="877.4" width="33.8" height="16.9" fill="#83161b"/>
<rect x="322.2" y="877.4" width="33.8" height="16.9" fill="#42a040"/>
<rect x="355.8" y="877.4" width="33.8" height="16.9" fill="#0e0506"/>
<rect x="389.5" y="877.4" width="33.8" height="16.9" fill="#348a3e"/>
</g>
<g stroke="#9a9a9a" stroke-width="1">
<line x1="120.4" y1="57.6" x2="120.4" y2="894.1"/>
<line x1="154" y1="57.6" x2="154" y2="894.1"/>
<line x1="187.7" y1="57.6" x2="187.7" y2="894.1"/>
<line x1="221.3" y1="57.6" x2="221.3" y2="894.1"/>
<line x1="254.9" y1="57.6" x2="254.9" y2="894.1"/>
<line x1="288.6" y1="57.6" x2="288.6" y2="894.1"/>
<line x1="322.2" y1="57.6" x2="322.2" y2="894.1"/>
<line x1="355.8" y1="57.6" x2="355.8" y2="894.1"/>
<line x1="389.5" y1="57.6" x2="389.5" y2="894.1"/>
<line x1="423.1" y1="57.6" x2="423.1" y2="894.1"/>
<line x1="120.4" y1="57.6" x2="423.1" y2="57.6"/>
<line x1="120.4" y1="74.3" x2="423.1" y2="74.3"/>
<line x1="120.4" y1="91.1" x2="423.1" y2="91.1"/>
<line x1="120.4" y1="107.8" x2="423.1" y2="107.8"/>
<line x1="120.4" y1="124.5" x2="423.1" y2="124.5"/>
<line x1="120.4" y1="141.2" x2="423.1" y2="141.2"/>
<line x1="120.4" y1="158" x2="423.1" y2="158"/>
<line x1="120.4" y1="174.7" x2="423.1" y2="174.7"/>
<line x1="120.4" y1="191.4" x2="423.1" y2="191.4"/>
<line x1="120.4" y1="208.2" x2="423.1" y2="208.2"/>
<line x1="120.4" y1="224.9" x2="423.1" y2="224.9"/>
<line x1="120.4" y1="241.6" x2="423.1" y2="241.6"/>
<line x1="120.4" y1="258.4" x2="423.1" y2="258.4"/>
<line x1="120.4" y1="275.1" x2="423.1" y2="275.1"/>
<line x1="120.4" y1="291.8" x2="423.1" y2="291.8"/>
<line x1="120.4" y1="308.6" x2="423.1" y2="308.6"/>
<line x1="120.4" y1="325.3" x2="423.1" y2="325.3"/>
<line x1="120.4" y1="342" x2="423.1" y2="342"/>
<line x1="120.4" y1="358.7" x2="423.1" y2="358.7"/>
<line x1="120.4" y1="375.5" x2="423.1" y2="375.5"/>
<line x1="120.4" y1="392.2" x2="423.1" y2="392.2"/>
<line x1="120.4" y1="408.9" x2="423.1" y2="408.9"/>
<line x1="120.4" y1="425.7" x2="423.1" y2="425.7"/>
<line x1="120.4" y1="442.4" x2="423.1" y2="442.4"/>
<line x1="120.4" y1="459.1" x2="423.1" y2="459.1"/>
<line x1="120.4" y1="475.9" x2="423.1" y2="475.9"/>
<line x1="120.4" y1="492.6" x2="423.1" y2="492.6"/>
<line x1="120.4" y1="509.3" x2="423.1" y2="509.3"/>
<line x1="120.4" y1="526" x2="423.1" y2="526"/>
<line x1="120.4" y1="542.8" x2="423.1" y2="542.8"/>
<line x1="120.4" y1="559.5" x2="423.1" y2="559.5"/>
<line x1="120.4" y1="576.2" x2="423.1" y2="576.2"/>
<line x1="120.4" y1="593" x2="423.1" y2="593"/>
<line x1="120.4" y1="609.7" x2="423.1" y2="609.7"/>
<line x1="120.4" y1="626.4" x2="423.1" y2="626.4"/>
<line x1="120.4" y1="643.2" x2="423.1" y2="643.2"/>
<line x1="120.4" y1="659.9" x2="423.1" y2="659.9"/>
<line x1="120.4" y1="676.6" x2="423.1" y2="676.6"/>
<line x1="120.4" y1="693.3" x2="423.1" y2="693.3"/>
<line x1="120.4" y1="710.1" x2="423.1" y2="710.1"/>
<line x1="120.4" y1="726.8" x2="423.1" y2="726.8"/>
<line x1="120.4" y1="743.5" x2="423.1" y2="743.5"/>
<line x1="120.4" y1="760.3" x2="423.1" y2="760.3"/>
<line x1="120.4" y1="777" x2="423.1" y2="777"/>
<line x1="120.4" y1="793.7" x2="423.1" y2="793.7"/>
<line x1="120.4" y1="810.5" x2="423.1" y2="810.5"/>
<line x1="120.4" y1="827.2" x2="423.1" y2="827.2"/>
<line x1="120.4" y1="843.9" x2="423.1" y2="843.9"/>
<line x1="120.4" y1="860.6" x2="423.1" y2="860.6"/>
<line x1="120.4" y1="877.4" x2="423.1" y2="877.4"/>
<line x1="120.4" y1="894.1" x2="423.1" y2="894.1"/>
</g>
<g font-size="15.5">
<text x="428" y="71.6">Ticam2</text>
<text x="428" y="88.3">Kif7</text>
<text x="428" y="105">Ebi3</text>
<text x="428" y="121.8">Arl4c</text>
<text x="428" y="138.5">Clspn</text>
<text x="428" y="155.2">Cd300lb</text>
<text x="428" y="171.9">Asf1b</text>
<text x="428" y="188.7">Hk3</text>
<text x="428" y="205.4">Cds1</text>
<text x="428" y="222.1">Pole2</text>
<text x="428" y="238.9">Fndc1</text>
<text x="428" y="255.6">S100a6</text>
<text x="428" y="272.3">Itgb2</text>
<text x="428" y="289.1">Armcx4</text>
<text x="428" y="305.8">Cyp2a4</text>
<text x="428" y="322.5">Cercam</text>
<text x="428" y="339.2">Col12a1</text>
<text x="428" y="356">Col6a5</text>
<text x="428" y="372.7">Calml4</text>
<text x="428" y="389.4">Ly6c2</text>
<text x="428" y="406.2">Col4a3</text>
<text x="428" y="422.9">Atp2b2</text>
<text x="428" y="439.6">Ltbp2</text>
<text x="428" y="456.4">Pdgfrb</text>
<text x="428" y="473.1">Col6a3</text>
<text x="428" y="489.8">Col3a1</text>
<text x="428" y="506.5">Col1a2</text>
<text x="428" y="523.3">Col1a1</text>
<text x="428" y="540">Loxl2</text>
<text x="428" y="556.7">Col5a2</text>
<text x="428" y="573.5">Itga6</text>
<text x="428" y="590.2">Mxd3</text>
<text x="428" y="606.9">Cd68</text>
<text x="428" y="623.7">Basp1</text>
<text x="428" y="640.4">Trem2</text>
<text x="428" y="657.1">Ly6d</text>
<text x="428" y="673.8">Ccnb2</text>
<text x="428" y="690.6">Scd2</text>
<text x="428" y="707.3">Lig1</text>
<text x="428" y="724">Dtl</text>
<text x="428" y="740.8">Uhrf1</text>
<text x="428" y="757.5">Gsta1</text>
<text x="428" y="774.2">Ccna2</text>
<text x="428" y="791">Mcm2</text>
<text x="428" y="807.7">Mcm5</text>
<text x="428" y="824.4">Itgam</text>
<text x="428" y="841.1">Anxa2</text>
<text x="428" y="857.9">Lgals3</text>
<text x="428" y="874.6">Cdca8</text>
<text x="428" y="891.3">Ncaph</text>
</g>
<rect x="423.6" y="442.8" width="55.6" height="17" fill="none" stroke="#e8202a" stroke-width="2"/>
<path d="M120.4 66H108.3V82.7H120.4M120.4 99.4H96.3V116.2H120.4M108.3 74.3H88.8V107.8H96.3M120.4 149.6H101.3V166.3H120.4M120.4 132.9H92.7V158H101.3M120.4 199.8H101.3V216.5H120.4M120.4 183.1H90.1V208.2H101.3M92.7 145.4H85.2V195.6H90.1M88.8 91.1H72.8V170.5H85.2M120.4 266.7H102.3V283.5H120.4M120.4 316.9H105.3V333.6H120.4M120.4 300.2H96.3V325.3H105.3M102.3 275.1H91.3V312.7H96.3M120.4 250H80.4V293.9H91.3M120.4 233.3H77.8V272H80.4M120.4 367.1H85.8V383.8H120.4M120.4 350.4H74.4V375.5H85.8M77.8 252.6H64.2V362.9H74.4M72.8 130.8H49.5V307.8H64.2M120.4 400.6H107.3V417.3H120.4M120.4 434H109.6V450.8H120.4M120.4 500.9H117V517.7H120.4M120.4 484.2H115.5V509.3H117M120.4 467.5H113.8V496.8H115.5M120.4 534.4H103.2V551.1H120.4M113.8 482.1H96.6V542.8H103.2M109.6 442.4H96V512.4H96.6M120.4 601.3H101.7V618.1H120.4M120.4 584.6H97.2V609.7H101.7M120.4 567.9H88.7V597.1H97.2M120.4 651.5H104.9V668.2H120.4M120.4 634.8H102.5V659.9H104.9M120.4 718.4H108.5V735.2H120.4M120.4 701.7H100.6V726.8H108.5M120.4 685H98.9V714.3H100.6M120.4 751.9H106V768.6H120.4M120.4 785.4H107.4V802.1H120.4M120.4 818.8H107.4V835.5H120.4M120.4 869H107.4V885.7H120.4M120.4 852.3H104.2V877.4H107.4M107.4 827.2H100.6V864.8H104.2M107.4 793.7H94.6V846H100.6M106 760.3H90.4V819.9H94.6M98.9 699.6H87.8V790.1H90.4M102.5 647.3H76.5V744.8H87.8M88.7 582.5H73.3V696.1H76.5M96 477.4H68V639.3H73.3M107.3 408.9H47.2V558.4H68M49.5 219.3H32.3V483.6H47.2" fill="none" stroke="#111" stroke-width="1.6"/>
<defs><linearGradient id="cbar" x1="0" y1="1" x2="0" y2="0">
<stop offset="0.000" stop-color="#78c83a"/>
<stop offset="0.083" stop-color="#5cc040"/>
<stop offset="0.140" stop-color="#4cb440"/>
<stop offset="0.198" stop-color="#42a040"/>
<stop offset="0.255" stop-color="#348a3e"/>
<stop offset="0.312" stop-color="#2a6a35"/>
<stop offset="0.370" stop-color="#1e4a24"/>
<stop offset="0.427" stop-color="#10240f"/>
<stop offset="0.499" stop-color="#070505"/>
<stop offset="0.570" stop-color="#2a0608"/>
<stop offset="0.642" stop-color="#4a0508"/>
<stop offset="0.713" stop-color="#5e0b10"/>
<stop offset="0.785" stop-color="#7a1419"/>
<stop offset="0.857" stop-color="#9a1c20"/>
<stop offset="0.928" stop-color="#c42022"/>
<stop offset="1.000" stop-color="#ec2320"/>
</linearGradient></defs>
<rect x="496.7" y="57.6" width="17.1" height="251.3" fill="url(#cbar)"/>
<text x="520" y="63.8" font-size="16.5">2</text>
<text x="520" y="99.8" font-size="16.5">1.5</text>
<text x="520" y="135.8" font-size="16.5">1</text>
<text x="520" y="171.8" font-size="16.5">0.5</text>
<text x="520" y="207.8" font-size="16.5">0</text>
<text x="520" y="243.8" font-size="16.5">−0.5</text>
<text x="520" y="279.8" font-size="16.5">−1</text>
<text x="495.5" y="347.5" font-size="16.5">Group</text>
<rect x="495.7" y="353.9" width="16.6" height="15.6" fill="#c952a8"/>
<text x="516" y="366.5" font-size="12.5">Oil.WT</text>
<rect x="495.7" y="372" width="16.6" height="15.6" fill="#92d06a"/>
<text x="516" y="384.6" font-size="12.5">CCl<tspan font-size="9">4</tspan>.WT</text>
<rect x="495.7" y="390.1" width="16.6" height="15.6" fill="#7bd3dc"/>
<text x="516" y="402.7" font-size="12.5">CCl<tspan font-size="9">4</tspan>.<tspan font-style="italic">Tgfbi</tspan><tspan font-size="7" dy="-5">-/-</tspan></text>
<text x="590.4" y="40" font-size="47">B</text>
<text x="757" y="63.6" font-size="25.5" letter-spacing="0.8">CCl<tspan font-size="16" dy="6">4</tspan><tspan dy="-6"> vs Oil</tspan></text>
<g fill="none" stroke-linecap="round">
<path d="M808 371h0m50.5-4.5h0m-52 1h0m36.5 13.5h0m-39-40.5h0m37 48h0m-24.5-10.5h0m22.5 4h0m-35.5-21.5h0m39 32.5h0m-36.5-1.5h0m37.5-3h0m-25-1.5h0m30.5-43.5h0m-42.5 19.5h0m44-1.5h0m-43 23h0m52.5-116.5h0m-57.5 111.5h0m42 7h0m-27.5-0.5h0m40-12.5h0m-59-62h0m39.5 81.5h0m-30-32h0m32.5 20h0m-38.5 0.5h0m39 6.5h0m-42.5-56.5h0m43.5 57.5h0m-25.5 3.5h0m40-6.5h0m-50.5-11h0m38-5h0m-28 7.5h0m26 8h0m-28 2h0m46-65.5h0m-48.5 23.5h0m33 38.5h0" stroke="#000" stroke-width="4.2"/><path d="M808 371h0m50.5-4.5h0m-52 1h0m36.5 13.5h0m-39-40.5h0m37 48h0m-24.5-10.5h0m22.5 4h0m-35.5-21.5h0m39 32.5h0m-36.5-1.5h0m37.5-3h0m-25-1.5h0m30.5-43.5h0m-42.5 19.5h0m44-1.5h0m-43 23h0m52.5-116.5h0m-57.5 111.5h0m42 7h0m-27.5-0.5h0m40-12.5h0m-59-62h0m39.5 81.5h0m-30-32h0m32.5 20h0m-38.5 0.5h0m39 6.5h0m-42.5-56.5h0m43.5 57.5h0m-25.5 3.5h0m40-6.5h0m-50.5-11h0m38-5h0m-28 7.5h0m26 8h0m-28 2h0m46-65.5h0m-48.5 23.5h0m33 38.5h0" stroke="#f4f4f4" stroke-width="2.4"/>
<path d="M800 352h0m41 36.5h0m-29-25.5h0m34.5 22h0m-29.5 7h0m35-7.5h0m-47-6.5h0m44.5-23h0m-44-25.5h0m37.5 61h0m-44-69h0m46 67.5h0m-43-100h0m41.5 68.5h0m-39 18h0m36.5 17.5h0m-43-11.5h0m56.5 1h0m-54-25h0m45.5 31.5h0m-43.5 1.5h0m42-13h0m-44.5-22.5h0m45.5-15h0m-32 53h0m32-12h0m-28 10h0m30-18.5h0m-32 14h0m42.5-83h0m-55 58.5h0m39 31h0m-23-4h0m40.5 3.5h0m-55.5-21.5h0m51 8.5h0m-58 10.5h0m54.5-37.5h0m-52.5-15h0m55.5-0.5h0" stroke="#000" stroke-width="4.2"/><path d="M800 352h0m41 36.5h0m-29-25.5h0m34.5 22h0m-29.5 7h0m35-7.5h0m-47-6.5h0m44.5-23h0m-44-25.5h0m37.5 61h0m-44-69h0m46 67.5h0m-43-100h0m41.5 68.5h0m-39 18h0m36.5 17.5h0m-43-11.5h0m56.5 1h0m-54-25h0m45.5 31.5h0m-43.5 1.5h0m42-13h0m-44.5-22.5h0m45.5-15h0m-32 53h0m32-12h0m-28 10h0m30-18.5h0m-32 14h0m42.5-83h0m-55 58.5h0m39 31h0m-23-4h0m40.5 3.5h0m-55.5-21.5h0m51 8.5h0m-58 10.5h0m54.5-37.5h0m-52.5-15h0m55.5-0.5h0" stroke="#f4f4f4" stroke-width="2.4"/>
<path d="M799 375h0m55-63h0m-54.5 59h0m56.5-54.5h0m-50.5 46h0m42.5 9h0m-43.5 19h0m48.5-89h0m-50.5 74h0m52.5-14h0m-47-17.5h0m32.5 31h0m-22 14h0m26-19h0m-37.5-4.5h0m51.5 15.5h0m-39.5 9h0m35-4.5h0m-39.5-16h0m34.5-36.5h0m-38.5 35h0m33 15h0m-42.5-85.5h0m57 76h0m-53 7.5h0m37 1.5h0m-42-64.5h0m54.5-32.5h0m-43 104h0m38-5h0m-36.5-1h0m40-13h0m-42-18.5h0m48.5 14.5h0m-42.5 26.5h0m40.5-1.5h0m-55-28.5h0m43.5-5h0m-27 34h0m30.5 0.5h0" stroke="#000" stroke-width="4.2"/><path d="M799 375h0m55-63h0m-54.5 59h0m56.5-54.5h0m-50.5 46h0m42.5 9h0m-43.5 19h0m48.5-89h0m-50.5 74h0m52.5-14h0m-47-17.5h0m32.5 31h0m-22 14h0m26-19h0m-37.5-4.5h0m51.5 15.5h0m-39.5 9h0m35-4.5h0m-39.5-16h0m34.5-36.5h0m-38.5 35h0m33 15h0m-42.5-85.5h0m57 76h0m-53 7.5h0m37 1.5h0m-42-64.5h0m54.5-32.5h0m-43 104h0m38-5h0m-36.5-1h0m40-13h0m-42-18.5h0m48.5 14.5h0m-42.5 26.5h0m40.5-1.5h0m-55-28.5h0m43.5-5h0m-27 34h0m30.5 0.5h0" stroke="#f4f4f4" stroke-width="2.4"/>
<path d="M800.5 382.5h0m41.5 10h0m-38-19h0m49-16h0m-52-88.5h0m53 116.5h0m-46.5 2.5h0m30.5 2.5h0m-24-2.5h0m33-23h0m-40.5 0h0m49 9.5h0m-54.5-72.5h0m39.5 76h0m-25 6h0m37.5-71h0m-43.5 59.5h0m48.5-45h0m-60 39h0m55.5 19h0m-51-54h0m50.5 19h0m-40 0h0m46.5-36h0m-58.5 64h0m57.5-67h0m-48.5 80h0m39-20h0m-47.5-3.5h0m37 25h0m-37.5-7h0m46-29h0m-32 34h0m35.5-36h0m-50.5-8.5h0m59 17.5h0m-61 25.5h0m46-10.5h0m-32.5-14h0m41.5 3.5h0" stroke="#000" stroke-width="4.2"/><path d="M800.5 382.5h0m41.5 10h0m-38-19h0m49-16h0m-52-88.5h0m53 116.5h0m-46.5 2.5h0m30.5 2.5h0m-24-2.5h0m33-23h0m-40.5 0h0m49 9.5h0m-54.5-72.5h0m39.5 76h0m-25 6h0m37.5-71h0m-43.5 59.5h0m48.5-45h0m-60 39h0m55.5 19h0m-51-54h0m50.5 19h0m-40 0h0m46.5-36h0m-58.5 64h0m57.5-67h0m-48.5 80h0m39-20h0m-47.5-3.5h0m37 25h0m-37.5-7h0m46-29h0m-32 34h0m35.5-36h0m-50.5-8.5h0m59 17.5h0m-61 25.5h0m46-10.5h0m-32.5-14h0m41.5 3.5h0" stroke="#f4f4f4" stroke-width="2.4"/>
<path d="M800 360.5h0m46.5 22h0m-46.5-82h0m44 57.5h0m-46 2.5h0m54 25.5h0m-46-14h0m46.5 20.5h0m-54.5-31h0m50.5-9.5h0m-43 20h0m48.5 19h0m-48-14h0m53-95.5h0m-47 98.5h0m29.5 5h0m-41-82.5h0m49.5 80h0m-36-6.5h0m44.5 11.5h0m-57 5h0m42-4h0m-40.5-9h0m44.5-9.5h0m-31.5 5h0m25.5 7.5h0m-29 6.5h0m38.5-13h0m-41.5 4h0m41.5 8h0m-37.5-13h0m39.5-7h0m-53-13h0m57.5 27.5h0m-55.5-50.5h0m56 45.5h0m-47-42h0m33 18.5h0m-28.5 35h0m39.5-6.5h0" stroke="#000" stroke-width="4.2"/><path d="M800 360.5h0m46.5 22h0m-46.5-82h0m44 57.5h0m-46 2.5h0m54 25.5h0m-46-14h0m46.5 20.5h0m-54.5-31h0m50.5-9.5h0m-43 20h0m48.5 19h0m-48-14h0m53-95.5h0m-47 98.5h0m29.5 5h0m-41-82.5h0m49.5 80h0m-36-6.5h0m44.5 11.5h0m-57 5h0m42-4h0m-40.5-9h0m44.5-9.5h0m-31.5 5h0m25.5 7.5h0m-29 6.5h0m38.5-13h0m-41.5 4h0m41.5 8h0m-37.5-13h0m39.5-7h0m-53-13h0m57.5 27.5h0m-55.5-50.5h0m56 45.5h0m-47-42h0m33 18.5h0m-28.5 35h0m39.5-6.5h0" stroke="#f4f4f4" stroke-width="2.4"/>
<path d="M816.5 383.5h0m39.5 4.5h0m-47-24.5h0m29.5 27.5h0m-35.5-83h0m56.5 80h0m-53-36.5h0m44 8h0m-36.5 32.5h0m27 1h0m-35-22h0m46 17.5h0m-38 1h0m43-117h0m-40.5 120h0m42.5-26h0m-57.5 12h0m48-5.5h0m-41-4h0m29.5 20.5h0m-24-6.5h0m41-9h0m-41.5 16h0m37 3h0m-51.5-67h0m55.5-3.5h0m-50.5 53.5h0m48.5-5.5h0m-55-49.5h0m47.5 23h0m-43-6.5h0m54.5 35.5h0m-57.5-68h0m55.5 36.5h0m-53 32h0m53.5 17h0m-45-12h0m28 12.5h0m-33.5-6.5h0m54.5-38.5h0" stroke="#000" stroke-width="4.2"/><path d="M816.5 383.5h0m39.5 4.5h0m-47-24.5h0m29.5 27.5h0m-35.5-83h0m56.5 80h0m-53-36.5h0m44 8h0m-36.5 32.5h0m27 1h0m-35-22h0m46 17.5h0m-38 1h0m43-117h0m-40.5 120h0m42.5-26h0m-57.5 12h0m48-5.5h0m-41-4h0m29.5 20.5h0m-24-6.5h0m41-9h0m-41.5 16h0m37 3h0m-51.5-67h0m55.5-3.5h0m-50.5 53.5h0m48.5-5.5h0m-55-49.5h0m47.5 23h0m-43-6.5h0m54.5 35.5h0m-57.5-68h0m55.5 36.5h0m-53 32h0m53.5 17h0m-45-12h0m28 12.5h0m-33.5-6.5h0m54.5-38.5h0" stroke="#f4f4f4" stroke-width="2.4"/>
<path d="M810.5 368h0m41.5 1.5h0m-43-21.5h0m45.5-6h0m-57 50.5h0m55-43.5h0m-40.5 34h0m27.5 8h0m-30 0h0m35.5-45.5h0m-39 26h0m53.5-15h0m-62-8.5h0m59 42h0m-51.5-43h0m34.5 44.5h0m-32-3.5h0m43-22h0m-33 21h0m33.5-21h0m-41.5 19h0m44-20h0m-42 1.5h0m34.5 26.5h0m-33.5-0.5h0m30-22h0m-33.5-35h0m46.5 56h0m-58-126.5h0m42.5 120.5h0m-32.5-12.5h0m43.5-62.5h0m-48.5 60h0m57-52h0m-55 71h0m48.5-16.5h0m-39.5 19.5h0m37.5-3h0m-43-26h0m41.5 21.5h0" stroke="#000" stroke-width="4.2"/><path d="M810.5 368h0m41.5 1.5h0m-43-21.5h0m45.5-6h0m-57 50.5h0m55-43.5h0m-40.5 34h0m27.5 8h0m-30 0h0m35.5-45.5h0m-39 26h0m53.5-15h0m-62-8.5h0m59 42h0m-51.5-43h0m34.5 44.5h0m-32-3.5h0m43-22h0m-33 21h0m33.5-21h0m-41.5 19h0m44-20h0m-42 1.5h0m34.5 26.5h0m-33.5-0.5h0m30-22h0m-33.5-35h0m46.5 56h0m-58-126.5h0m42.5 120.5h0m-32.5-12.5h0m43.5-62.5h0m-48.5 60h0m57-52h0m-55 71h0m48.5-16.5h0m-39.5 19.5h0m37.5-3h0m-43-26h0m41.5 21.5h0" stroke="#f4f4f4" stroke-width="2.4"/>
<path d="M805 376h0m51-11.5h0m-59-107.5h0m58 126.5h0m-39-11h0m37 6h0m-41-9.5h0m39.5-3.5h0m-47.5-19h0m39.5 41.5h0m-46-104h0m60.5 107.5h0m-40.5-2h0m31.5-22h0m-33 15h0m24 9.5h0m-36.5-26.5h0m49.5 12h0m-45.5 9h0m39.5-25.5h0m-47 29h0m41.5-21h0m-37-24.5h0m39.5 38.5h0m-32-23.5h0m35.5 8h0m-50 8.5h0m54-25h0m-53 18.5h0m49 21.5h0m-48-1h0m41-7.5h0m-33.5-22.5h0m39 0.5h0m-29 30h0m36.5 0h0m-42.5-26h0m43.5 17h0m-39.5 5h0m40-10h0" stroke="#000" stroke-width="4.2"/><path d="M805 376h0m51-11.5h0m-59-107.5h0m58 126.5h0m-39-11h0m37 6h0m-41-9.5h0m39.5-3.5h0m-47.5-19h0m39.5 41.5h0m-46-104h0m60.5 107.5h0m-40.5-2h0m31.5-22h0m-33 15h0m24 9.5h0m-36.5-26.5h0m49.5 12h0m-45.5 9h0m39.5-25.5h0m-47 29h0m41.5-21h0m-37-24.5h0m39.5 38.5h0m-32-23.5h0m35.5 8h0m-50 8.5h0m54-25h0m-53 18.5h0m49 21.5h0m-48-1h0m41-7.5h0m-33.5-22.5h0m39 0.5h0m-29 30h0m36.5 0h0m-42.5-26h0m43.5 17h0m-39.5 5h0m40-10h0" stroke="#f4f4f4" stroke-width="2.4"/>
<path d="M815.5 375.5h0m36.5-61h0m-53.5-26.5h0m50.5 61.5h0m-38 35.5h0m37-61.5h0m-49 58h0m48.5 1h0m-37.5-1.5h0m38 7h0m-42.5-44.5h0m45.5-5.5h0m-45.5 49.5h0m50-74h0m-44 79.5h0m39-23h0m-45-38.5h0m51 59.5h0m-50.5-45.5h0m34.5 46.5h0m-38.5-83h0m38.5 71h0m-25.5-8.5h0m38.5 12h0m-40.5-17.5h0m38-16h0m-42 33h0m50.5-38.5h0m-52.5 26.5h0m48-22.5h0m-56 22.5h0m58-21h0m-57-23h0m57-21h0m-59 43h0m53 7.5h0m-50 15.5h0m47.5 17h0m-46.5-40h0m41 40.5h0" stroke="#000" stroke-width="4.2"/><path d="M815.5 375.5h0m36.5-61h0m-53.5-26.5h0m50.5 61.5h0m-38 35.5h0m37-61.5h0m-49 58h0m48.5 1h0m-37.5-1.5h0m38 7h0m-42.5-44.5h0m45.5-5.5h0m-45.5 49.5h0m50-74h0m-44 79.5h0m39-23h0m-45-38.5h0m51 59.5h0m-50.5-45.5h0m34.5 46.5h0m-38.5-83h0m38.5 71h0m-25.5-8.5h0m38.5 12h0m-40.5-17.5h0m38-16h0m-42 33h0m50.5-38.5h0m-52.5 26.5h0m48-22.5h0m-56 22.5h0m58-21h0m-57-23h0m57-21h0m-59 43h0m53 7.5h0m-50 15.5h0m47.5 17h0m-46.5-40h0m41 40.5h0" stroke="#f4f4f4" stroke-width="2.4"/>
<path d="M808.5 384h0m51 6.5h0m-48.5 0h0m42.5-48h0m-39.5 49.5h0m35.5-23h0m-50.5 23h0m42-1.5h0m-28-2h0m41.5-28h0m-41.5 29h0m32.5 0h0m-44-10h0m50-38.5h0m-44 43.5h0m50.5-93h0m-48 83h0m49-10h0m-46 28h0m46-69h0m-49.5 51h0m41 9.5h0m-53-38.5h0m47 47.5h0m-37-13h0m48.5-35h0m-51.5 42.5h0m38-0.5h0m-30.5-35.5h0m38.5 12h0m-53 16h0m53.5 9h0m-49.5 5h0m55-74h0m-56 70.5h0m45-23h0m-29 17.5h0m33-39h0m-49.5 33h0m56-6h0" stroke="#000" stroke-width="4.2"/><path d="M808.5 384h0m51 6.5h0m-48.5 0h0m42.5-48h0m-39.5 49.5h0m35.5-23h0m-50.5 23h0m42-1.5h0m-28-2h0m41.5-28h0m-41.5 29h0m32.5 0h0m-44-10h0m50-38.5h0m-44 43.5h0m50.5-93h0m-48 83h0m49-10h0m-46 28h0m46-69h0m-49.5 51h0m41 9.5h0m-53-38.5h0m47 47.5h0m-37-13h0m48.5-35h0m-51.5 42.5h0m38-0.5h0m-30.5-35.5h0m38.5 12h0m-53 16h0m53.5 9h0m-49.5 5h0m55-74h0m-56 70.5h0m45-23h0m-29 17.5h0m33-39h0m-49.5 33h0m56-6h0" stroke="#f4f4f4" stroke-width="2.4"/>
<path d="M798.5 389.5h0m58.5-5.5h0m-51-13.5h0m36.5-6.5h0m-31.5 21h0m29.5 3.5h0m-33-30.5h0m40 7h0m-31.5 21.5h0m33.5-60h0m-46 66.5h0m44.5-30.5h0m-35.5 14.5h0m37 16h0m-52-71.5h0m46.5 54h0m-32.5 7.5h0m39.5-0.5h0m-40.5-1h0m43 1.5h0m-40-13.5h0m33-11h0m-44 20h0m54.5 11h0m-42 2.5h0m39-41.5h0m-40 34h0m43-27h0m-40.5 32.5h0m26 1h0m-33.5 0.5h0m49.5-22h0m-52-7h0m49-34h0m-46 54.5h0m39 10h0m-39.5-30.5h0m50.5-38h0m-56 36.5h0m35 28.5h0" stroke="#000" stroke-width="4.2"/><path d="M798.5 389.5h0m58.5-5.5h0m-51-13.5h0m36.5-6.5h0m-31.5 21h0m29.5 3.5h0m-33-30.5h0m40 7h0m-31.5 21.5h0m33.5-60h0m-46 66.5h0m44.5-30.5h0m-35.5 14.5h0m37 16h0m-52-71.5h0m46.5 54h0m-32.5 7.5h0m39.5-0.5h0m-40.5-1h0m43 1.5h0m-40-13.5h0m33-11h0m-44 20h0m54.5 11h0m-42 2.5h0m39-41.5h0m-40 34h0m43-27h0m-40.5 32.5h0m26 1h0m-33.5 0.5h0m49.5-22h0m-52-7h0m49-34h0m-46 54.5h0m39 10h0m-39.5-30.5h0m50.5-38h0m-56 36.5h0m35 28.5h0" stroke="#f4f4f4" stroke-width="2.4"/>
<path d="M810 368.5h0m31 18h0m-34.5-39h0m50.5 8.5h0m-42.5 13.5h0m43.5-9.5h0m-48 16.5h0m32-3h0m-44.5-12.5h0m57-33h0m-41 39.5h0m30 24.5h0m-31-16h0m42 3h0m-56-5h0m51 15.5h0m-52-2.5h0m60.5-26.5h0m-52.5 7h0m39.5-24h0m-47.5-26h0m55 71.5h0m-52-9h0m57.5 2h0m-52.5-45h0m38 42.5h0m-26.5 13.5h0m26-35.5h0m-39.5 23h0m50.5-33.5h0m-44.5 24h0m47 21.5h0m-43-10.5h0m28.5 3.5h0m-36.5 2h0m45.5-3.5h0m-45.5-3.5h0m47.5 11.5h0m-49.5-4h0m56-34.5h0" stroke="#000" stroke-width="4.2"/><path d="M810 368.5h0m31 18h0m-34.5-39h0m50.5 8.5h0m-42.5 13.5h0m43.5-9.5h0m-48 16.5h0m32-3h0m-44.5-12.5h0m57-33h0m-41 39.5h0m30 24.5h0m-31-16h0m42 3h0m-56-5h0m51 15.5h0m-52-2.5h0m60.5-26.5h0m-52.5 7h0m39.5-24h0m-47.5-26h0m55 71.5h0m-52-9h0m57.5 2h0m-52.5-45h0m38 42.5h0m-26.5 13.5h0m26-35.5h0m-39.5 23h0m50.5-33.5h0m-44.5 24h0m47 21.5h0m-43-10.5h0m28.5 3.5h0m-36.5 2h0m45.5-3.5h0m-45.5-3.5h0m47.5 11.5h0m-49.5-4h0m56-34.5h0" stroke="#f4f4f4" stroke-width="2.4"/>
<path d="M807.5 378.5h0m45.5-24h0m-51.5-13.5h0m48.5-18h0m-50 49h0m49-1h0m-50-9h0m52 14.5h0m-52 0.5h0m40.5 3h0m-37.5-20h0m53.5 20h0m-50.5 11h0m36.5-6.5h0m-34.5-6h0m32.5 1h0m-33 5.5h0m39.5-3h0m-33.5 10h0m46-91h0m-59 70h0m57 12.5h0m-54.5-21h0m56 26.5h0m-57-1h0m50 5.5h0m-38.5-7h0m34 5.5h0m-47.5-69h0m49 59h0m-43 10h0m34-1.5h0m-32-76h0m52.5 50.5h0m-46 22h0m45-90h0m-45 63.5h0m33.5 17.5h0m-32.5-20.5h0m45.5 25.5h0" stroke="#000" stroke-width="4.2"/><path d="M807.5 378.5h0m45.5-24h0m-51.5-13.5h0m48.5-18h0m-50 49h0m49-1h0m-50-9h0m52 14.5h0m-52 0.5h0m40.5 3h0m-37.5-20h0m53.5 20h0m-50.5 11h0m36.5-6.5h0m-34.5-6h0m32.5 1h0m-33 5.5h0m39.5-3h0m-33.5 10h0m46-91h0m-59 70h0m57 12.5h0m-54.5-21h0m56 26.5h0m-57-1h0m50 5.5h0m-38.5-7h0m34 5.5h0m-47.5-69h0m49 59h0m-43 10h0m34-1.5h0m-32-76h0m52.5 50.5h0m-46 22h0m45-90h0m-45 63.5h0m33.5 17.5h0m-32.5-20.5h0m45.5 25.5h0" stroke="#f4f4f4" stroke-width="2.4"/>
<path d="M804 386h0m54 5h0m-42-16h0m30.5-33.5h0m-47 0.5h0m42.5 33h0m-43.5-7h0m42 22h0m-29.5-24.5h0m32.5 24h0m-31-17.5h0m43.5 3.5h0m-52.5-56.5h0m48.5 66h0m-41-30h0m34.5 16.5h0m-29 12h0m34.5-13h0m-33 12.5h0m27.5 4h0m-44.5 3h0m44.5-27h0m-33 24h0m39 0h0m-52.5 1.5h0m50.5-34h0m-40-28h0m41 61h0m-45-26.5h0m42 6.5h0m-46.5-2h0m49.5-27h0m-47.5 29h0m56 17.5h0m-57.5 1.5h0m51-2h0m-44.5-31.5h0m48-20h0m-43.5 47h0m31.5-3h0" stroke="#000" stroke-width="4.2"/><path d="M804 386h0m54 5h0m-42-16h0m30.5-33.5h0m-47 0.5h0m42.5 33h0m-43.5-7h0m42 22h0m-29.5-24.5h0m32.5 24h0m-31-17.5h0m43.5 3.5h0m-52.5-56.5h0m48.5 66h0m-41-30h0m34.5 16.5h0m-29 12h0m34.5-13h0m-33 12.5h0m27.5 4h0m-44.5 3h0m44.5-27h0m-33 24h0m39 0h0m-52.5 1.5h0m50.5-34h0m-40-28h0m41 61h0m-45-26.5h0m42 6.5h0m-46.5-2h0m49.5-27h0m-47.5 29h0m56 17.5h0m-57.5 1.5h0m51-2h0m-44.5-31.5h0m48-20h0m-43.5 47h0m31.5-3h0" stroke="#f4f4f4" stroke-width="2.4"/>
<path d="M807 392.5h0m45.5-40h0m-47-24.5h0m37.5 62.5h0m-24 0h0m30-5.5h0m-48 5.5h0m57.5-32.5h0m-52.5-12.5h0m38.5 44.5h0m-33.5 2.5h0m35.5-21h0m-40 12.5h0m45.5 6.5h0m-51.5-4.5h0m44.5 4h0m-42-59.5h0m53 60.5h0m-47.5-9.5h0m35.5 10h0m-37-39.5h0m52.5 34.5h0m-51.5-31h0m31 35h0m-40-3.5h0m49-2.5h0m-39.5 6.5h0m30.5-5.5h0m-37-2h0m43-6.5h0m-32.5 4h0m46.5-7h0m-48.5-19h0m28.5 33h0m-35 3.5h0m43-26h0m-47.5-8.5h0m58.5 10.5h0m-49-21.5h0m39 9.5h0" stroke="#000" stroke-width="4.2"/><path d="M807 392.5h0m45.5-40h0m-47-24.5h0m37.5 62.5h0m-24 0h0m30-5.5h0m-48 5.5h0m57.5-32.5h0m-52.5-12.5h0m38.5 44.5h0m-33.5 2.5h0m35.5-21h0m-40 12.5h0m45.5 6.5h0m-51.5-4.5h0m44.5 4h0m-42-59.5h0m53 60.5h0m-47.5-9.5h0m35.5 10h0m-37-39.5h0m52.5 34.5h0m-51.5-31h0m31 35h0m-40-3.5h0m49-2.5h0m-39.5 6.5h0m30.5-5.5h0m-37-2h0m43-6.5h0m-32.5 4h0m46.5-7h0m-48.5-19h0m28.5 33h0m-35 3.5h0m43-26h0m-47.5-8.5h0m58.5 10.5h0m-49-21.5h0m39 9.5h0" stroke="#f4f4f4" stroke-width="2.4"/>
<path d="M813 385.5h0m30-6h0m-28.5 10h0m29.5-8h0m-33-1.5h0m49-37.5h0m-60.5 41.5h0m48.5 7.5h0m-45-14h0m42.5 15.5h0m-31.5-5h0m34-60h0m-45.5 54h0m45 7.5h0m-49-15.5h0m57-29h0m-56.5 47.5h0m47.5-10.5h0m-30 4.5h0m39-21h0m-38 22h0m27 5h0m-29.5-13.5h0m24 10.5h0m-30.5-17h0m33.5 2h0m-30-7.5h0m41.5 21h0m-40-0.5h0m41-13h0m-45.5-32h0m35.5 44h0m-34.5 1h0m29 5.5h0m-35-27.5h0m52.5-10h0m-53-49.5h0m40.5 65.5h0m-40.5-85.5h0m54 96.5h0" stroke="#000" stroke-width="4.2"/><path d="M813 385.5h0m30-6h0m-28.5 10h0m29.5-8h0m-33-1.5h0m49-37.5h0m-60.5 41.5h0m48.5 7.5h0m-45-14h0m42.5 15.5h0m-31.5-5h0m34-60h0m-45.5 54h0m45 7.5h0m-49-15.5h0m57-29h0m-56.5 47.5h0m47.5-10.5h0m-30 4.5h0m39-21h0m-38 22h0m27 5h0m-29.5-13.5h0m24 10.5h0m-30.5-17h0m33.5 2h0m-30-7.5h0m41.5 21h0m-40-0.5h0m41-13h0m-45.5-32h0m35.5 44h0m-34.5 1h0m29 5.5h0m-35-27.5h0m52.5-10h0m-53-49.5h0m40.5 65.5h0m-40.5-85.5h0m54 96.5h0" stroke="#f4f4f4" stroke-width="2.4"/>
<path d="M804 390h0m45-10h0m-31.5 7.5h0m29-10h0m-35 12h0m37-13h0m-34-1.5h0m30 16.5h0m-34.5-11h0m32.5-1h0m-39.5-15h0m51.5 28h0m-45.5-10.5h0m31 5h0m-22.5-1.5h0m34.5-12.5h0m-41.5 13.5h0m28 2.5h0m-39.5-30.5h0m46 12h0m-31 11.5h0m38.5-25.5h0m-47-53.5h0m50.5 53h0m-51.5 20h0m44 9h0m-48-76h0m47.5 24h0m-30 59h0m32.5-9.5h0m-40.5 1h0m33.5 5h0m-40.5-4.5h0m34.5 9h0m-25-13h0m41-13.5h0m-49-0.5h0m52.5-15.5h0m-47-9h0m36.5 23.5h0" stroke="#000" stroke-width="4.2"/><path d="M804 390h0m45-10h0m-31.5 7.5h0m29-10h0m-35 12h0m37-13h0m-34-1.5h0m30 16.5h0m-34.5-11h0m32.5-1h0m-39.5-15h0m51.5 28h0m-45.5-10.5h0m31 5h0m-22.5-1.5h0m34.5-12.5h0m-41.5 13.5h0m28 2.5h0m-39.5-30.5h0m46 12h0m-31 11.5h0m38.5-25.5h0m-47-53.5h0m50.5 53h0m-51.5 20h0m44 9h0m-48-76h0m47.5 24h0m-30 59h0m32.5-9.5h0m-40.5 1h0m33.5 5h0m-40.5-4.5h0m34.5 9h0m-25-13h0m41-13.5h0m-49-0.5h0m52.5-15.5h0m-47-9h0m36.5 23.5h0" stroke="#f4f4f4" stroke-width="2.4"/>
<path d="M803 352h0m56.5-35h0m-45 60.5h0m35.5-8h0m-40.5 15.5h0m46-20h0m-43 22.5h0m34 1.5h0m-40 0.5h0m33.5 3h0m-24-16h0m25.5 8h0m-40-16h0m41-8.5h0m-43 31h0m45.5-12h0m-44-5h0m53.5 9h0m-52-4h0m44.5-19h0m-47-37.5h0m52 53.5h0m-49.5-17.5h0m54.5-29.5h0m-41.5 57h0m38.5-2h0m-40 9h0m38-90h0m-54.5 84h0m56.5-13h0m-50 2.5h0m55 10h0m-56.5 2.5h0m36.5 0.5h0m-37-10h0m44.5 13h0m-40.5-19.5h0m41.5 11h0m-46.5-61.5h0m44.5 60h0" stroke="#000" stroke-width="4.2"/><path d="M803 352h0m56.5-35h0m-45 60.5h0m35.5-8h0m-40.5 15.5h0m46-20h0m-43 22.5h0m34 1.5h0m-40 0.5h0m33.5 3h0m-24-16h0m25.5 8h0m-40-16h0m41-8.5h0m-43 31h0m45.5-12h0m-44-5h0m53.5 9h0m-52-4h0m44.5-19h0m-47-37.5h0m52 53.5h0m-49.5-17.5h0m54.5-29.5h0m-41.5 57h0m38.5-2h0m-40 9h0m38-90h0m-54.5 84h0m56.5-13h0m-50 2.5h0m55 10h0m-56.5 2.5h0m36.5 0.5h0m-37-10h0m44.5 13h0m-40.5-19.5h0m41.5 11h0m-46.5-61.5h0m44.5 60h0" stroke="#f4f4f4" stroke-width="2.4"/>
<path d="M804.5 345.5h0m55 26h0m-56.5-6h0m53.5 21.5h0m-42.5 4.5h0m45-10.5h0m-52 8.5h0m39.5 3.5h0m-41-4.5h0m47.5-6h0m-40-2h0m34.5 5.5h0m-30 6.5h0m40.5-14.5h0m-41 12.5h0m33-14h0m-50.5-10h0m49-16.5h0m-39.5 42h0m42.5-31.5h0m-47 22h0m54.5-75h0m-61.5 59.5h0m59.5-25h0m-43 51h0m29-2h0m-26-3.5h0m38.5-8h0m-49 13.5h0m37.5 0h0m-37.5-49.5h0m49.5-1.5h0m-47 9.5h0m48-16h0m-59.5 53h0m61.5-17.5h0m-56.5 12h0m56 9.5h0m-53-7.5h0m42.5-3.5h0" stroke="#000" stroke-width="4.2"/><path d="M804.5 345.5h0m55 26h0m-56.5-6h0m53.5 21.5h0m-42.5 4.5h0m45-10.5h0m-52 8.5h0m39.5 3.5h0m-41-4.5h0m47.5-6h0m-40-2h0m34.5 5.5h0m-30 6.5h0m40.5-14.5h0m-41 12.5h0m33-14h0m-50.5-10h0m49-16.5h0m-39.5 42h0m42.5-31.5h0m-47 22h0m54.5-75h0m-61.5 59.5h0m59.5-25h0m-43 51h0m29-2h0m-26-3.5h0m38.5-8h0m-49 13.5h0m37.5 0h0m-37.5-49.5h0m49.5-1.5h0m-47 9.5h0m48-16h0m-59.5 53h0m61.5-17.5h0m-56.5 12h0m56 9.5h0m-53-7.5h0m42.5-3.5h0" stroke="#f4f4f4" stroke-width="2.4"/>
<path d="M803.5 336h0m44 32.5h0m-37.5 17h0m48.5-8.5h0m-42 11h0m38.5-3.5h0m-53-20.5h0m52 22.5h0m-38 4.5h0m31-11h0m-27.5 12h0m27-16.5h0m-48.5 8h0m60-6h0m-56 11.5h0m58-20.5h0m-62 14h0m50.5-21h0m-34.5 26.5h0m40-98h0m-43.5 98.5h0m37-5h0m-43.5-6h0m49.5 7.5h0m-49-64h0m53 32h0m-51 16h0m35-2h0m-38.5 5h0m50.5 2.5h0m-44 12.5h0m43-21.5h0m-46 27h0m46.5-19h0m-48-9.5h0m54 22.5h0m-51.5-53.5h0m39 30.5h0m-49 7h0m60 17.5h0" stroke="#000" stroke-width="4.2"/><path d="M803.5 336h0m44 32.5h0m-37.5 17h0m48.5-8.5h0m-42 11h0m38.5-3.5h0m-53-20.5h0m52 22.5h0m-38 4.5h0m31-11h0m-27.5 12h0m27-16.5h0m-48.5 8h0m60-6h0m-56 11.5h0m58-20.5h0m-62 14h0m50.5-21h0m-34.5 26.5h0m40-98h0m-43.5 98.5h0m37-5h0m-43.5-6h0m49.5 7.5h0m-49-64h0m53 32h0m-51 16h0m35-2h0m-38.5 5h0m50.5 2.5h0m-44 12.5h0m43-21.5h0m-46 27h0m46.5-19h0m-48-9.5h0m54 22.5h0m-51.5-53.5h0m39 30.5h0m-49 7h0m60 17.5h0" stroke="#f4f4f4" stroke-width="2.4"/>
<path d="M797.5 363.5h0m47-6h0m-40.5-58.5h0m53 31h0m-50.5 57.5h0m51-45h0m-45 17.5h0m37 12h0m-50 12.5h0m46-13h0m-28.5 11.5h0m39-15.5h0m-43.5-6h0m45-28h0m-51.5-13h0m50 66.5h0m-46.5 3.5h0m29.5-1.5h0m-39.5-69h0m42 70.5h0m-32.5-45h0m44-29h0m-36 73h0m36-66h0m-50.5 62h0m51.5-11.5h0m-35 15.5h0m27.5-18.5h0m-35 2.5h0m43 13h0m-39-11h0m34 14h0m-33.5-12.5h0m31.5 11h0m-50-47h0m57.5 36h0m-44 4.5h0m31-4h0m-33.5-29.5h0m40 29.5h0" stroke="#000" stroke-width="4.2"/><path d="M797.5 363.5h0m47-6h0m-40.5-58.5h0m53 31h0m-50.5 57.5h0m51-45h0m-45 17.5h0m37 12h0m-50 12.5h0m46-13h0m-28.5 11.5h0m39-15.5h0m-43.5-6h0m45-28h0m-51.5-13h0m50 66.5h0m-46.5 3.5h0m29.5-1.5h0m-39.5-69h0m42 70.5h0m-32.5-45h0m44-29h0m-36 73h0m36-66h0m-50.5 62h0m51.5-11.5h0m-35 15.5h0m27.5-18.5h0m-35 2.5h0m43 13h0m-39-11h0m34 14h0m-33.5-12.5h0m31.5 11h0m-50-47h0m57.5 36h0m-44 4.5h0m31-4h0m-33.5-29.5h0m40 29.5h0" stroke="#f4f4f4" stroke-width="2.4"/>
<path d="M806.5 310h0m40.5 54.5h0m-34.5 12h0m33-27.5h0m-34 3h0m42.5 20h0m-55.5 0.5h0m56.5-13h0m-47 32h0m40.5-7h0m-40.5-14h0m46.5-17h0m-42 29.5h0m29.5 3h0m-33.5-3.5h0m48-64h0m-51.5 49.5h0m36 23h0m-31.5-9h0m45.5-29h0m-45-13.5h0m49 53h0m-55-20.5h0m43.5 6h0m-36.5-10h0m41.5-72.5h0m-55 75.5h0m59.5-19.5h0m-54 34.5h0m46.5-7h0m-46 6h0m56.5-2h0m-50.5 6.5h0m38.5-30.5h0m-31.5 32h0m37-31h0m-51.5 22.5h0m54.5-40.5h0m-55 46.5h0m48 4.5h0" stroke="#000" stroke-width="4.2"/><path d="M806.5 310h0m40.5 54.5h0m-34.5 12h0m33-27.5h0m-34 3h0m42.5 20h0m-55.5 0.5h0m56.5-13h0m-47 32h0m40.5-7h0m-40.5-14h0m46.5-17h0m-42 29.5h0m29.5 3h0m-33.5-3.5h0m48-64h0m-51.5 49.5h0m36 23h0m-31.5-9h0m45.5-29h0m-45-13.5h0m49 53h0m-55-20.5h0m43.5 6h0m-36.5-10h0m41.5-72.5h0m-55 75.5h0m59.5-19.5h0m-54 34.5h0m46.5-7h0m-46 6h0m56.5-2h0m-50.5 6.5h0m38.5-30.5h0m-31.5 32h0m37-31h0m-51.5 22.5h0m54.5-40.5h0m-55 46.5h0m48 4.5h0" stroke="#f4f4f4" stroke-width="2.4"/>
<path d="M800 276h0m58 116.5h0m-48-17.5h0m41 15h0m-50-10.5h0m49.5 10h0m-45-0.5h0m35-5h0m-29-23.5h0m33.5 22h0m-27.5 8h0m32-19.5h0m-42-30.5h0m33.5 49h0m-43.5-29h0m51 8.5h0m-49-30.5h0m38.5 53.5h0m-37.5-51h0m54 46h0m-48.5 5.5h0m35.5-4.5h0m-43.5-40h0m59 43.5h0m-48.5-0.5h0m36.5 0h0m-46.5-14.5h0m51.5-13.5h0m-50.5-91h0m52.5 99.5h0m-53 1h0m47-9h0m-34 20.5h0m37-8h0m-39 3.5h0m39.5 12.5h0m-49.5-1h0m51-21.5h0m-42 17.5h0m32 0h0" stroke="#000" stroke-width="4.2"/><path d="M800 276h0m58 116.5h0m-48-17.5h0m41 15h0m-50-10.5h0m49.5 10h0m-45-0.5h0m35-5h0m-29-23.5h0m33.5 22h0m-27.5 8h0m32-19.5h0m-42-30.5h0m33.5 49h0m-43.5-29h0m51 8.5h0m-49-30.5h0m38.5 53.5h0m-37.5-51h0m54 46h0m-48.5 5.5h0m35.5-4.5h0m-43.5-40h0m59 43.5h0m-48.5-0.5h0m36.5 0h0m-46.5-14.5h0m51.5-13.5h0m-50.5-91h0m52.5 99.5h0m-53 1h0m47-9h0m-34 20.5h0m37-8h0m-39 3.5h0m39.5 12.5h0m-49.5-1h0m51-21.5h0m-42 17.5h0m32 0h0" stroke="#f4f4f4" stroke-width="2.4"/>
<path d="M811 378.5h0m33.5-12h0m-37.5 26.5h0m41.5 0h0m-43.5-35.5h0m47.5 21h0m-41.5-6h0m41 8.5h0m-45-9h0m48.5 19.5h0m-39-2h0m29-29.5h0m-37-19h0m40 43.5h0m-45.5 5.5h0m56.5-75.5h0m-49 70h0m46-52.5h0m-52.5 59.5h0m51.5 0h0m-51-25h0m54-16.5h0m-40 38h0m33.5 5h0m-50-19.5h0m52-81h0m-37 92.5h0m38.5-9.5h0m-47.5 2h0m33.5 10h0m-39.5 3h0m39.5-23.5h0m-38-1h0m38 25.5h0m-30.5-31h0m47.5 22.5h0m-50-10h0m48.5 15h0m-57.5-21h0m39.5 20.5h0" stroke="#000" stroke-width="4.2"/><path d="M811 378.5h0m33.5-12h0m-37.5 26.5h0m41.5 0h0m-43.5-35.5h0m47.5 21h0m-41.5-6h0m41 8.5h0m-45-9h0m48.5 19.5h0m-39-2h0m29-29.5h0m-37-19h0m40 43.5h0m-45.5 5.5h0m56.5-75.5h0m-49 70h0m46-52.5h0m-52.5 59.5h0m51.5 0h0m-51-25h0m54-16.5h0m-40 38h0m33.5 5h0m-50-19.5h0m52-81h0m-37 92.5h0m38.5-9.5h0m-47.5 2h0m33.5 10h0m-39.5 3h0m39.5-23.5h0m-38-1h0m38 25.5h0m-30.5-31h0m47.5 22.5h0m-50-10h0m48.5 15h0m-57.5-21h0m39.5 20.5h0" stroke="#f4f4f4" stroke-width="2.4"/>
<path d="M809.5 365.5h0m49-1h0m-55.5 11.5h0m53 13h0m-54-2.5h0m50-0.5h0m-42 3h0m37-17h0m-40.5 6.5h0m45.5-43.5h0m-42 37h0m40-6h0m-47 18h0m42-17.5h0m-39.5 17.5h0m34.5 3h0m-37.5-14h0m50.5-7h0m-55.5-78.5h0m52 87.5h0m-36.5-9h0m28 22h0m-41 4h0m54.5-28.5h0m-48.5 17.5h0m36.5-13h0m-41.5 21.5h0m55-5.5h0m-42.5-4.5h0m39 9.5h0m-51-28.5h0m56.5-75h0m-55 92h0m56-39h0m-47.5 12.5h0m43.5 31h0m-42.5 11h0m38.5-8.5h0m-39.5 2.5h0m30.5-4h0" stroke="#000" stroke-width="4.2"/><path d="M809.5 365.5h0m49-1h0m-55.5 11.5h0m53 13h0m-54-2.5h0m50-0.5h0m-42 3h0m37-17h0m-40.5 6.5h0m45.5-43.5h0m-42 37h0m40-6h0m-47 18h0m42-17.5h0m-39.5 17.5h0m34.5 3h0m-37.5-14h0m50.5-7h0m-55.5-78.5h0m52 87.5h0m-36.5-9h0m28 22h0m-41 4h0m54.5-28.5h0m-48.5 17.5h0m36.5-13h0m-41.5 21.5h0m55-5.5h0m-42.5-4.5h0m39 9.5h0m-51-28.5h0m56.5-75h0m-55 92h0m56-39h0m-47.5 12.5h0m43.5 31h0m-42.5 11h0m38.5-8.5h0m-39.5 2.5h0m30.5-4h0" stroke="#f4f4f4" stroke-width="2.4"/>
<path d="M812 386.5h0m33.5-8.5h0m-46 8h0m58-71h0m-53 52.5h0m50.5-2.5h0m-51.5-58h0m52.5 75h0m-38.5 6h0m38.5-5h0m-48-2.5h0m47-92.5h0m-48.5 81h0m40.5 18h0m-49 1.5h0m61-41h0m-42 44h0m34.5-2h0m-54-12.5h0m60 13.5h0m-54 0.5h0m35-6.5h0m-41-42.5h0m60-11h0m-51 60h0m44.5-4h0m-44.5-7h0m44 7h0m-48-13h0m47.5 17h0m-43-21h0m52.5-13h0m-44 31h0m31.5-23h0m-48.5-107h0m60 52h0m-60 82.5h0m51.5-25h0m-47-7.5h0m49.5-55.5h0" stroke="#000" stroke-width="4.2"/><path d="M812 386.5h0m33.5-8.5h0m-46 8h0m58-71h0m-53 52.5h0m50.5-2.5h0m-51.5-58h0m52.5 75h0m-38.5 6h0m38.5-5h0m-48-2.5h0m47-92.5h0m-48.5 81h0m40.5 18h0m-49 1.5h0m61-41h0m-42 44h0m34.5-2h0m-54-12.5h0m60 13.5h0m-54 0.5h0m35-6.5h0m-41-42.5h0m60-11h0m-51 60h0m44.5-4h0m-44.5-7h0m44 7h0m-48-13h0m47.5 17h0m-43-21h0m52.5-13h0m-44 31h0m31.5-23h0m-48.5-107h0m60 52h0m-60 82.5h0m51.5-25h0m-47-7.5h0m49.5-55.5h0" stroke="#f4f4f4" stroke-width="2.4"/>
<path d="M816.5 383.5h0m43 8.5h0m-43.5-23.5h0m22.5 24.5h0m-38-46h0m50.5 20.5h0m-49.5-36h0m36 61.5h0m-40-78.5h0m51 68h0m-38.5 10.5h0m45.5-11h0m-50.5-12.5h0m42-2.5h0m-39 19h0m50-0.5h0m-43 3h0m35-38.5h0m-39.5 37h0m43-4h0m-47 1.5h0m51 0.5h0m-44.5 1.5h0m33.5-23h0m-43-24.5h0m47.5 52h0m-49.5-8h0m42.5 0h0m-46.5-10.5h0m50-37.5h0m-50 36.5h0m44.5-2h0m-41 8h0m55-2.5h0m-44.5-1h0m43.5-4.5h0m-54.5 23.5h0m50-13.5h0m-33 11.5h0m26.5-36.5h0" stroke="#000" stroke-width="4.2"/><path d="M816.5 383.5h0m43 8.5h0m-43.5-23.5h0m22.5 24.5h0m-38-46h0m50.5 20.5h0m-49.5-36h0m36 61.5h0m-40-78.5h0m51 68h0m-38.5 10.5h0m45.5-11h0m-50.5-12.5h0m42-2.5h0m-39 19h0m50-0.5h0m-43 3h0m35-38.5h0m-39.5 37h0m43-4h0m-47 1.5h0m51 0.5h0m-44.5 1.5h0m33.5-23h0m-43-24.5h0m47.5 52h0m-49.5-8h0m42.5 0h0m-46.5-10.5h0m50-37.5h0m-50 36.5h0m44.5-2h0m-41 8h0m55-2.5h0m-44.5-1h0m43.5-4.5h0m-54.5 23.5h0m50-13.5h0m-33 11.5h0m26.5-36.5h0" stroke="#f4f4f4" stroke-width="2.4"/>
<path d="M798 276.5h0m49 54h0m-32 43h0m44 10.5h0m-44-8h0m43-36h0m-60 27h0m49.5 23h0m-35.5-0.5h0m31-3.5h0m-25 3h0m25 2h0m-36.5-21h0m45.5-22h0m-45.5-43h0m34 85h0m-23.5-1.5h0m38.5-92h0m-49 91.5h0m40-14h0m-35-15h0m48 7h0m-55-33.5h0m45 55h0m-51.5 2.5h0m57.5-16h0m-38 17.5h0m25.5-21h0m-29.5 22.5h0m30.5-30h0m-37-0.5h0m42.5 25h0m-30.5 2.5h0m20 0h0m-34.5-12h0m45.5-12.5h0m-39 18h0m47-26h0m-49.5 15.5h0m41 9h0" stroke="#000" stroke-width="4.2"/><path d="M798 276.5h0m49 54h0m-32 43h0m44 10.5h0m-44-8h0m43-36h0m-60 27h0m49.5 23h0m-35.5-0.5h0m31-3.5h0m-25 3h0m25 2h0m-36.5-21h0m45.5-22h0m-45.5-43h0m34 85h0m-23.5-1.5h0m38.5-92h0m-49 91.5h0m40-14h0m-35-15h0m48 7h0m-55-33.5h0m45 55h0m-51.5 2.5h0m57.5-16h0m-38 17.5h0m25.5-21h0m-29.5 22.5h0m30.5-30h0m-37-0.5h0m42.5 25h0m-30.5 2.5h0m20 0h0m-34.5-12h0m45.5-12.5h0m-39 18h0m47-26h0m-49.5 15.5h0m41 9h0" stroke="#f4f4f4" stroke-width="2.4"/>
<path d="M799 382h0m60-71h0m-59.5 75h0m51-18h0m-36 3.5h0m30 4.5h0m-30 7.5h0m26.5-6h0m-31-3.5h0m40.5-55h0m-44 60h0m31 14h0m-32-31.5h0m44 29h0m-42.5-16.5h0m46-10h0m-45 27h0m48.5-8h0m-56-53h0m44.5 16h0m-38.5 31h0m45-74h0m-44.5 71.5h0m39-21h0m-39 27.5h0m36.5 8h0m-43-60.5h0m59-45h0m-56.5 53.5h0m51.5-3.5h0m-53.5 52.5h0m55.5-7h0m-44 13h0m38-11h0m-49.5-24h0m57.5-77.5h0m-54.5 111.5h0m49.5-1.5h0m-56-87h0m49 86h0" stroke="#000" stroke-width="4.2"/><path d="M799 382h0m60-71h0m-59.5 75h0m51-18h0m-36 3.5h0m30 4.5h0m-30 7.5h0m26.5-6h0m-31-3.5h0m40.5-55h0m-44 60h0m31 14h0m-32-31.5h0m44 29h0m-42.5-16.5h0m46-10h0m-45 27h0m48.5-8h0m-56-53h0m44.5 16h0m-38.5 31h0m45-74h0m-44.5 71.5h0m39-21h0m-39 27.5h0m36.5 8h0m-43-60.5h0m59-45h0m-56.5 53.5h0m51.5-3.5h0m-53.5 52.5h0m55.5-7h0m-44 13h0m38-11h0m-49.5-24h0m57.5-77.5h0m-54.5 111.5h0m49.5-1.5h0m-56-87h0m49 86h0" stroke="#f4f4f4" stroke-width="2.4"/>
<path d="M803 343h0m56.5 7h0m-44 24h0m24 7.5h0m-38.5-67.5h0m51-11h0m-48 67.5h0m44 12h0m-29.5 9h0m37.5-8h0m-52.5-41h0m51 25h0m-43.5 18.5h0m32.5-11h0m-40.5-82h0m43.5 39.5h0m-47.5 46.5h0m60-27.5h0m-61-23h0m49 57h0m-40.5-12h0m32.5 14.5h0m-31.5-33h0m37.5 34h0m-40-4.5h0m41.5 7h0m-29-3h0m33.5-84.5h0m-47 71.5h0m44.5 11h0m-41-3h0m41.5-21h0m-47.5 0.5h0m51.5-64h0m-54 82h0m52-36h0m-37 22.5h0m25.5 24h0m-33.5-8h0m49-37.5h0" stroke="#000" stroke-width="4.2"/><path d="M803 343h0m56.5 7h0m-44 24h0m24 7.5h0m-38.5-67.5h0m51-11h0m-48 67.5h0m44 12h0m-29.5 9h0m37.5-8h0m-52.5-41h0m51 25h0m-43.5 18.5h0m32.5-11h0m-40.5-82h0m43.5 39.5h0m-47.5 46.5h0m60-27.5h0m-61-23h0m49 57h0m-40.5-12h0m32.5 14.5h0m-31.5-33h0m37.5 34h0m-40-4.5h0m41.5 7h0m-29-3h0m33.5-84.5h0m-47 71.5h0m44.5 11h0m-41-3h0m41.5-21h0m-47.5 0.5h0m51.5-64h0m-54 82h0m52-36h0m-37 22.5h0m25.5 24h0m-33.5-8h0m49-37.5h0" stroke="#f4f4f4" stroke-width="2.4"/>
<path d="M810.5 360h0m43-8.5h0m-46 26h0m33.5 6.5h0m-43-86h0m41.5 94.5h0m-27.5-24h0m37 21h0m-40.5-19h0m46.5 3.5h0m-51-19.5h0m48.5 37.5h0m-50-3.5h0m37-2.5h0m-20.5 6.5h0m29-15h0m-32-5.5h0m34-4h0m-39 18h0m35 2h0m-46.5-23.5h0m49 15.5h0m-49 1h0m56.5-35h0m-48 35h0m41-4h0m-38-6h0m37.5 13h0m-47-13.5h0m48.5-37h0m-42 47h0m50-95h0m-49 79h0m46 16h0m-52.5-96h0m51 71h0m-45.5 9.5h0m36.5 0h0m-38.5-3h0m48.5 30.5h0" stroke="#000" stroke-width="4.2"/><path d="M810.5 360h0m43-8.5h0m-46 26h0m33.5 6.5h0m-43-86h0m41.5 94.5h0m-27.5-24h0m37 21h0m-40.5-19h0m46.5 3.5h0m-51-19.5h0m48.5 37.5h0m-50-3.5h0m37-2.5h0m-20.5 6.5h0m29-15h0m-32-5.5h0m34-4h0m-39 18h0m35 2h0m-46.5-23.5h0m49 15.5h0m-49 1h0m56.5-35h0m-48 35h0m41-4h0m-38-6h0m37.5 13h0m-47-13.5h0m48.5-37h0m-42 47h0m50-95h0m-49 79h0m46 16h0m-52.5-96h0m51 71h0m-45.5 9.5h0m36.5 0h0m-38.5-3h0m48.5 30.5h0" stroke="#f4f4f4" stroke-width="2.4"/>
<path d="M808.5 355h0m36.5 19h0m-32 9.5h0m47 0h0m-61 7h0m53-52h0m-52 35h0m52-20h0m-50.5-12h0m50.5 42.5h0m-49.5-20h0m49 17h0m-50-2.5h0m53.5-95h0m-43 92h0m39-2.5h0m-36.5 4h0m43.5-29h0m-46.5 10h0m37 31h0m-44-16h0m46.5-31h0m-53 32.5h0m57.5 16h0m-44.5-23h0m43-36.5h0m-44.5 54.5h0m38-11h0m-29 14h0m35-0.5h0m-42.5-41h0m48 34h0m-45 10h0m26.5-18.5h0m-38.5 9.5h0m48-23h0m-31.5 27h0m25.5-15.5h0m-41 8h0m55 4.5h0" stroke="#000" stroke-width="4.2"/><path d="M808.5 355h0m36.5 19h0m-32 9.5h0m47 0h0m-61 7h0m53-52h0m-52 35h0m52-20h0m-50.5-12h0m50.5 42.5h0m-49.5-20h0m49 17h0m-50-2.5h0m53.5-95h0m-43 92h0m39-2.5h0m-36.5 4h0m43.5-29h0m-46.5 10h0m37 31h0m-44-16h0m46.5-31h0m-53 32.5h0m57.5 16h0m-44.5-23h0m43-36.5h0m-44.5 54.5h0m38-11h0m-29 14h0m35-0.5h0m-42.5-41h0m48 34h0m-45 10h0m26.5-18.5h0m-38.5 9.5h0m48-23h0m-31.5 27h0m25.5-15.5h0m-41 8h0m55 4.5h0" stroke="#f4f4f4" stroke-width="2.4"/>
<path d="M807.5 382.5h0m41.5-34.5h0m-43.5 15.5h0m54.5 18.5h0m-47-7h0m29.5 7h0m-34.5-4h0m49-82.5h0m-53.5 91.5h0m44-23h0m-34.5-11h0m44.5 30h0m-48 4h0m45 4.5h0m-51.5-0.5h0m54-29h0m-52 28h0m34.5-1.5h0m-42-36h0m60 38h0m-41.5 2.5h0m38.5-6.5h0m-42.5-16.5h0m42.5 9.5h0m-47 4.5h0m44-4.5h0m-41.5 7h0m36 0.5h0m-27 3h0m33.5-6.5h0m-36.5-2.5h0m34.5 1.5h0m-51-47.5h0m53.5 22.5h0m-50 11h0m45.5 12h0m-42-5.5h0m44.5-4.5h0m-50-63h0m43 85.5h0" stroke="#000" stroke-width="4.2"/><path d="M807.5 382.5h0m41.5-34.5h0m-43.5 15.5h0m54.5 18.5h0m-47-7h0m29.5 7h0m-34.5-4h0m49-82.5h0m-53.5 91.5h0m44-23h0m-34.5-11h0m44.5 30h0m-48 4h0m45 4.5h0m-51.5-0.5h0m54-29h0m-52 28h0m34.5-1.5h0m-42-36h0m60 38h0m-41.5 2.5h0m38.5-6.5h0m-42.5-16.5h0m42.5 9.5h0m-47 4.5h0m44-4.5h0m-41.5 7h0m36 0.5h0m-27 3h0m33.5-6.5h0m-36.5-2.5h0m34.5 1.5h0m-51-47.5h0m53.5 22.5h0m-50 11h0m45.5 12h0m-42-5.5h0m44.5-4.5h0m-50-63h0m43 85.5h0" stroke="#f4f4f4" stroke-width="2.4"/>
<path d="M811 392.5h0m45-36.5h0m-44.5 33h0m46-69.5h0m-54.5 32.5h0m52 19h0m-46 1.5h0m49-103h0m-58 120.5h0m45-23h0m-38.5 15.5h0m51-19h0m-60 26.5h0m62.5 2.5h0m-45-7h0m38 4h0m-47.5-83.5h0m43.5 48.5h0m-44 10.5h0m38 17.5h0m-44-36h0m45 35.5h0m-38-1h0m46-19.5h0m-33 29.5h0m34.5-6h0m-36.5-9.5h0m30-17h0m-31 21h0m29-21h0m-42.5-17h0m37 51.5h0m-38.5-5.5h0m42.5 5.5h0m-29-10.5h0m44.5-6h0m-47-19h0m31 18h0m-38.5-72.5h0m34.5 81h0" stroke="#000" stroke-width="4.2"/><path d="M811 392.5h0m45-36.5h0m-44.5 33h0m46-69.5h0m-54.5 32.5h0m52 19h0m-46 1.5h0m49-103h0m-58 120.5h0m45-23h0m-38.5 15.5h0m51-19h0m-60 26.5h0m62.5 2.5h0m-45-7h0m38 4h0m-47.5-83.5h0m43.5 48.5h0m-44 10.5h0m38 17.5h0m-44-36h0m45 35.5h0m-38-1h0m46-19.5h0m-33 29.5h0m34.5-6h0m-36.5-9.5h0m30-17h0m-31 21h0m29-21h0m-42.5-17h0m37 51.5h0m-38.5-5.5h0m42.5 5.5h0m-29-10.5h0m44.5-6h0m-47-19h0m31 18h0m-38.5-72.5h0m34.5 81h0" stroke="#f4f4f4" stroke-width="2.4"/>
<path d="M809.5 350h0m35.5 18h0m-31 13.5h0m45.5 0h0m-48-41h0m42.5 50.5h0m-40-2.5h0m32-35.5h0m-43-35h0m50 59h0m-50.5-8.5h0m37 17h0m-30-11h0m30 18.5h0m-42-20h0m49 16.5h0m-41.5-75.5h0m38 67.5h0m-36-30.5h0m44.5 34h0m-37.5-14.5h0m26.5 22h0m-26.5-10.5h0m43-27.5h0m-55-14.5h0m53 51.5h0m-54.5-4.5h0m42 5.5h0m-24-2.5h0m22 2.5h0m-40.5-36h0m58.5 35h0m-42.5-3h0m27.5 2.5h0m-30-16.5h0m29.5 15.5h0m-37-11h0m36.5 1h0m-36-1h0m43.5 13h0" stroke="#000" stroke-width="4.2"/><path d="M809.5 350h0m35.5 18h0m-31 13.5h0m45.5 0h0m-48-41h0m42.5 50.5h0m-40-2.5h0m32-35.5h0m-43-35h0m50 59h0m-50.5-8.5h0m37 17h0m-30-11h0m30 18.5h0m-42-20h0m49 16.5h0m-41.5-75.5h0m38 67.5h0m-36-30.5h0m44.5 34h0m-37.5-14.5h0m26.5 22h0m-26.5-10.5h0m43-27.5h0m-55-14.5h0m53 51.5h0m-54.5-4.5h0m42 5.5h0m-24-2.5h0m22 2.5h0m-40.5-36h0m58.5 35h0m-42.5-3h0m27.5 2.5h0m-30-16.5h0m29.5 15.5h0m-37-11h0m36.5 1h0m-36-1h0m43.5 13h0" stroke="#f4f4f4" stroke-width="2.4"/>
<path d="M804.5 386h0m42.5 7h0m-47.5-36.5h0m48.5 17h0m-49.5 13.5h0m49.5-24.5h0m-38.5 0.5h0m49 28.5h0m-47-5.5h0m44-50h0m-52.5-35h0m40.5 83.5h0m-43.5-50h0m41.5 39.5h0m-42 1h0m53-71.5h0m-47.5 20h0m55-12h0m-56.5 66.5h0m45-6h0m-33-2h0m24.5 11.5h0m-28.5 3.5h0m41 1.5h0m-44.5-46.5h0m52 40h0m-50.5-15.5h0m34-4.5h0m-30 18.5h0m33.5 15h0m-27.5 0h0m27-7.5h0m-49-38h0m42.5 30h0m-27 2.5h0m42-58h0m-56.5 47.5h0m48 12h0m-35.5-19h0m38.5-2h0" stroke="#000" stroke-width="4.2"/><path d="M804.5 386h0m42.5 7h0m-47.5-36.5h0m48.5 17h0m-49.5 13.5h0m49.5-24.5h0m-38.5 0.5h0m49 28.5h0m-47-5.5h0m44-50h0m-52.5-35h0m40.5 83.5h0m-43.5-50h0m41.5 39.5h0m-42 1h0m53-71.5h0m-47.5 20h0m55-12h0m-56.5 66.5h0m45-6h0m-33-2h0m24.5 11.5h0m-28.5 3.5h0m41 1.5h0m-44.5-46.5h0m52 40h0m-50.5-15.5h0m34-4.5h0m-30 18.5h0m33.5 15h0m-27.5 0h0m27-7.5h0m-49-38h0m42.5 30h0m-27 2.5h0m42-58h0m-56.5 47.5h0m48 12h0m-35.5-19h0m38.5-2h0" stroke="#f4f4f4" stroke-width="2.4"/>
<path d="M815 368.5h0m44.5 15h0m-55 4h0m34.5 0h0m-25-17h0m38-12.5h0m-54 32.5h0m43 2.5h0m-33.5-48h0m46.5 20.5h0m-54 9h0m41.5 4h0m-23 12h0m20.5 1h0m-21.5-7.5h0m24.5-4.5h0m-41.5-3h0m41 0.5h0m-39-62.5h0m49 52h0m-52-19h0m60 31h0m-58-23h0m48 37.5h0m-42-8.5h0m45-14.5h0m-46 21.5h0m35.5-12.5h0m-39-73h0m43 74h0m-39.5-34.5h0m41.5-16.5h0m-41 50h0m43 1.5h0m-53 10.5h0m51 0h0m-45-3.5h0m39.5-3h0m-38-38h0m44.5 37.5h0" stroke="#000" stroke-width="4.2"/><path d="M815 368.5h0m44.5 15h0m-55 4h0m34.5 0h0m-25-17h0m38-12.5h0m-54 32.5h0m43 2.5h0m-33.5-48h0m46.5 20.5h0m-54 9h0m41.5 4h0m-23 12h0m20.5 1h0m-21.5-7.5h0m24.5-4.5h0m-41.5-3h0m41 0.5h0m-39-62.5h0m49 52h0m-52-19h0m60 31h0m-58-23h0m48 37.5h0m-42-8.5h0m45-14.5h0m-46 21.5h0m35.5-12.5h0m-39-73h0m43 74h0m-39.5-34.5h0m41.5-16.5h0m-41 50h0m43 1.5h0m-53 10.5h0m51 0h0m-45-3.5h0m39.5-3h0m-38-38h0m44.5 37.5h0" stroke="#f4f4f4" stroke-width="2.4"/>
<path d="M809.5 339.5h0m34.5 53.5h0m-44.5-27h0m42.5 25h0m-43-55h0m41 43.5h0m-27 3h0m39.5 9h0m-54-15.5h0m43.5-6.5h0m-26 23.5h0m37.5-21.5h0m-54.5-43.5h0m45 64.5h0m-39.5-20h0m41.5-34h0m-32.5 36h0m26.5 1h0m-35.5 5h0m50.5-72.5h0m-54 83.5h0m49.5-2.5h0m-44.5-87.5h0m51.5 80h0m-51.5 0h0m37-11h0m-41.5 7.5h0m47-16h0m-46 8.5h0m39 21.5h0m-27-28h0m36-0.5h0m-41 18.5h0m33.5-11h0m-27.5 4h0m37-12.5h0m-51-4.5h0m56-19.5h0m-53.5 39h0m44.5 4h0" stroke="#000" stroke-width="4.2"/><path d="M809.5 339.5h0m34.5 53.5h0m-44.5-27h0m42.5 25h0m-43-55h0m41 43.5h0m-27 3h0m39.5 9h0m-54-15.5h0m43.5-6.5h0m-26 23.5h0m37.5-21.5h0m-54.5-43.5h0m45 64.5h0m-39.5-20h0m41.5-34h0m-32.5 36h0m26.5 1h0m-35.5 5h0m50.5-72.5h0m-54 83.5h0m49.5-2.5h0m-44.5-87.5h0m51.5 80h0m-51.5 0h0m37-11h0m-41.5 7.5h0m47-16h0m-46 8.5h0m39 21.5h0m-27-28h0m36-0.5h0m-41 18.5h0m33.5-11h0m-27.5 4h0m37-12.5h0m-51-4.5h0m56-19.5h0m-53.5 39h0m44.5 4h0" stroke="#f4f4f4" stroke-width="2.4"/>
<path d="M804 378.5h0m43-30h0m-46 1h0m56 24.5h0m-53 9.5h0m42.5 7.5h0m-45.5-96h0m45 88h0m-30.5 8h0m37.5-72.5h0m-36.5 71h0m39-6h0m-56-8h0m50.5 11.5h0m-38.5-5.5h0m34-16h0m-27 20.5h0m28 2.5h0m-31 3.5h0m40.5-34.5h0m-37 32.5h0m27.5 2.5h0m-38-10.5h0m51-8.5h0m-61-66.5h0m53.5 82h0m-51.5 0.5h0m51 0.5h0m-35-4h0m26-12.5h0m-43.5-111h0m56.5 92h0m-48-3.5h0m46.5 36.5h0m-48-10.5h0m44.5-20.5h0m-47.5 7h0m53-37h0m-39.5 64.5h0m23 0.5h0" stroke="#000" stroke-width="4.2"/><path d="M804 378.5h0m43-30h0m-46 1h0m56 24.5h0m-53 9.5h0m42.5 7.5h0m-45.5-96h0m45 88h0m-30.5 8h0m37.5-72.5h0m-36.5 71h0m39-6h0m-56-8h0m50.5 11.5h0m-38.5-5.5h0m34-16h0m-27 20.5h0m28 2.5h0m-31 3.5h0m40.5-34.5h0m-37 32.5h0m27.5 2.5h0m-38-10.5h0m51-8.5h0m-61-66.5h0m53.5 82h0m-51.5 0.5h0m51 0.5h0m-35-4h0m26-12.5h0m-43.5-111h0m56.5 92h0m-48-3.5h0m46.5 36.5h0m-48-10.5h0m44.5-20.5h0m-47.5 7h0m53-37h0m-39.5 64.5h0m23 0.5h0" stroke="#f4f4f4" stroke-width="2.4"/>
<path d="M798 377h0m51-0.5h0m-43.5 6.5h0m50.5-5h0m-56-50h0m37.5 65.5h0m-38-3h0m46-27.5h0m-40.5-5h0m43.5 16h0m-35 8h0m31.5-11.5h0m-29 20.5h0m27.5-11.5h0m-38.5 13.5h0m55-80h0m-50.5 76h0m47.5-18.5h0m-55.5-41h0m57.5 54h0m-43.5 7h0m29-42h0m-45.5 18h0m42.5 20.5h0m-29-14.5h0m42.5-33.5h0m-47 38h0m41.5 3.5h0m-41.5-19h0m46.5 17.5h0m-49 9.5h0m34-0.5h0m-29.5 4.5h0m30.5-6.5h0m-42-71h0m40.5 74.5h0m-29.5-5.5h0m32.5-4.5h0m-42-5.5h0m43 17.5h0" stroke="#000" stroke-width="4.2"/><path d="M798 377h0m51-0.5h0m-43.5 6.5h0m50.5-5h0m-56-50h0m37.5 65.5h0m-38-3h0m46-27.5h0m-40.5-5h0m43.5 16h0m-35 8h0m31.5-11.5h0m-29 20.5h0m27.5-11.5h0m-38.5 13.5h0m55-80h0m-50.5 76h0m47.5-18.5h0m-55.5-41h0m57.5 54h0m-43.5 7h0m29-42h0m-45.5 18h0m42.5 20.5h0m-29-14.5h0m42.5-33.5h0m-47 38h0m41.5 3.5h0m-41.5-19h0m46.5 17.5h0m-49 9.5h0m34-0.5h0m-29.5 4.5h0m30.5-6.5h0m-42-71h0m40.5 74.5h0m-29.5-5.5h0m32.5-4.5h0m-42-5.5h0m43 17.5h0" stroke="#f4f4f4" stroke-width="2.4"/>
<path d="M819 392h0m36-55.5h0m-38.5 54h0m30-30.5h0m-44.5 20h0m47.5 1.5h0m-42-32.5h0m37.5 10h0m-46.5-4.5h0m61-82.5h0m-45 114h0m42 2.5h0m-45.5-8h0m46-33h0m-43.5 4h0m44 12.5h0m-40 25.5h0m28.5-8h0m-48-27h0m58.5 36h0m-44-23.5h0m34.5 20.5h0m-29.5 5h0m31-20h0m-39.5-0.5h0m37 21h0m-42.5-14h0m46.5 0.5h0m-38 12.5h0m34-6.5h0m-30 7.5h0m34 0h0m-50.5-18h0m49.5-2h0m-30.5 19.5h0m37.5-30.5h0m-49 19h0m48.5-13.5h0m-54.5-44h0m57 16h0" stroke="#000" stroke-width="4.2"/><path d="M819 392h0m36-55.5h0m-38.5 54h0m30-30.5h0m-44.5 20h0m47.5 1.5h0m-42-32.5h0m37.5 10h0m-46.5-4.5h0m61-82.5h0m-45 114h0m42 2.5h0m-45.5-8h0m46-33h0m-43.5 4h0m44 12.5h0m-40 25.5h0m28.5-8h0m-48-27h0m58.5 36h0m-44-23.5h0m34.5 20.5h0m-29.5 5h0m31-20h0m-39.5-0.5h0m37 21h0m-42.5-14h0m46.5 0.5h0m-38 12.5h0m34-6.5h0m-30 7.5h0m34 0h0m-50.5-18h0m49.5-2h0m-30.5 19.5h0m37.5-30.5h0m-49 19h0m48.5-13.5h0m-54.5-44h0m57 16h0" stroke="#f4f4f4" stroke-width="2.4"/>
<path d="M803.5 372h0m47.5-5h0m-44.5-25h0m51 49h0m-55.5-33.5h0m50.5-41.5h0m-34.5 70h0m29.5-4h0m-42 6.5h0m50-20.5h0m-53.5 12h0m56 13h0m-45-25h0m45-36.5h0m-46 60h0m42.5-45.5h0m-37 39h0m21.5 1.5h0m-28.5 4h0m47.5-110h0m-42.5 104h0m30-14.5h0m-29.5 17.5h0m32.5-11h0m-40.5-7.5h0m51-91h0m-60 41h0m45.5 69h0m-37-23.5h0m45 15h0m-55-3h0m41 16h0m-25-23.5h0m43.5 22.5h0m-44.5-3.5h0m43.5-82h0m-44 85h0m47.5-102h0m-52 65.5h0m48 12h0" stroke="#000" stroke-width="4.2"/><path d="M803.5 372h0m47.5-5h0m-44.5-25h0m51 49h0m-55.5-33.5h0m50.5-41.5h0m-34.5 70h0m29.5-4h0m-42 6.5h0m50-20.5h0m-53.5 12h0m56 13h0m-45-25h0m45-36.5h0m-46 60h0m42.5-45.5h0m-37 39h0m21.5 1.5h0m-28.5 4h0m47.5-110h0m-42.5 104h0m30-14.5h0m-29.5 17.5h0m32.5-11h0m-40.5-7.5h0m51-91h0m-60 41h0m45.5 69h0m-37-23.5h0m45 15h0m-55-3h0m41 16h0m-25-23.5h0m43.5 22.5h0m-44.5-3.5h0m43.5-82h0m-44 85h0m47.5-102h0m-52 65.5h0m48 12h0" stroke="#f4f4f4" stroke-width="2.4"/>
<path d="M812 377.5h0m41.5 2.5h0m-49.5 8h0m55.5-5h0m-46.5-33h0m45.5-35h0m-58.5 9h0m51.5 67h0m-49.5-64h0m55 64.5h0m-39.5-14h0m32.5-48.5h0m-52.5 38h0m56.5-12h0m-51 22h0m50 14h0m-54-51.5h0m57.5 29.5h0m-43 13.5h0m40.5-17h0m-38 28h0m32-7.5h0m-35 2.5h0m35.5-26.5h0m-49.5-16.5h0m39.5 43.5h0m-36.5-30.5h0m45 25h0m-30-3.5h0m22.5 0h0m-40.5-33h0m53.5-7.5h0m-54.5-19h0m62 45.5h0m-41 24h0m38.5-35h0m-48 38h0m47.5-38.5h0m-59.5-1h0m60-20h0" stroke="#000" stroke-width="4.2"/><path d="M812 377.5h0m41.5 2.5h0m-49.5 8h0m55.5-5h0m-46.5-33h0m45.5-35h0m-58.5 9h0m51.5 67h0m-49.5-64h0m55 64.5h0m-39.5-14h0m32.5-48.5h0m-52.5 38h0m56.5-12h0m-51 22h0m50 14h0m-54-51.5h0m57.5 29.5h0m-43 13.5h0m40.5-17h0m-38 28h0m32-7.5h0m-35 2.5h0m35.5-26.5h0m-49.5-16.5h0m39.5 43.5h0m-36.5-30.5h0m45 25h0m-30-3.5h0m22.5 0h0m-40.5-33h0m53.5-7.5h0m-54.5-19h0m62 45.5h0m-41 24h0m38.5-35h0m-48 38h0m47.5-38.5h0m-59.5-1h0m60-20h0" stroke="#f4f4f4" stroke-width="2.4"/>
<path d="M797.5 365.5h0m60.5 6.5h0m-39 18h0m28-22.5h0m-35 1h0m29 20h0m-32 1.5h0m43.5-14.5h0m-51.5 1.5h0m58.5 6.5h0m-53.5 2h0m32 4.5h0m-39-11h0m51-7h0m-38 5.5h0m28 10.5h0m-28.5-31h0m44-9.5h0m-50.5-19h0m50 62.5h0m-39.5-18.5h0m41.5-80h0m-42.5 87h0m38.5-17h0m-37.5 15.5h0m30-5h0m-28.5 6.5h0m28 9h0m-34-16h0m35.5-4h0m-47.5-98h0m59.5 110.5h0m-58 8.5h0m51.5 1.5h0m-36-0.5h0m38.5-24.5h0m-35 27.5h0m38.5-71h0m-51 53.5h0m31.5 17h0" stroke="#000" stroke-width="4.2"/><path d="M797.5 365.5h0m60.5 6.5h0m-39 18h0m28-22.5h0m-35 1h0m29 20h0m-32 1.5h0m43.5-14.5h0m-51.5 1.5h0m58.5 6.5h0m-53.5 2h0m32 4.5h0m-39-11h0m51-7h0m-38 5.5h0m28 10.5h0m-28.5-31h0m44-9.5h0m-50.5-19h0m50 62.5h0m-39.5-18.5h0m41.5-80h0m-42.5 87h0m38.5-17h0m-37.5 15.5h0m30-5h0m-28.5 6.5h0m28 9h0m-34-16h0m35.5-4h0m-47.5-98h0m59.5 110.5h0m-58 8.5h0m51.5 1.5h0m-36-0.5h0m38.5-24.5h0m-35 27.5h0m38.5-71h0m-51 53.5h0m31.5 17h0" stroke="#f4f4f4" stroke-width="2.4"/>
<path d="M806.5 315.5h0m47.5 73.5h0m-51.5-39.5h0m44 9.5h0m-41.5 17.5h0m46 7h0m-39.5-37.5h0m35.5 12h0m-37.5 30h0m28 4.5h0m-40-38.5h0m42.5 37h0m-22-8.5h0m35-19.5h0m-40 25.5h0m29.5 4.5h0m-35.5-15.5h0m40.5-5.5h0m-47-9h0m40.5 30h0m-36.5-67.5h0m35 64.5h0m-36.5-60h0m52 53h0m-40.5-20.5h0m44-2.5h0m-41 28h0m41 2.5h0m-47 2h0m46.5-17h0m-41.5 12h0m27-4.5h0m-39-25h0m36.5 25h0m-23.5 3.5h0m39-5h0m-56 1h0m47.5-29h0m-28.5 39h0m35-106h0" stroke="#000" stroke-width="4.2"/><path d="M806.5 315.5h0m47.5 73.5h0m-51.5-39.5h0m44 9.5h0m-41.5 17.5h0m46 7h0m-39.5-37.5h0m35.5 12h0m-37.5 30h0m28 4.5h0m-40-38.5h0m42.5 37h0m-22-8.5h0m35-19.5h0m-40 25.5h0m29.5 4.5h0m-35.5-15.5h0m40.5-5.5h0m-47-9h0m40.5 30h0m-36.5-67.5h0m35 64.5h0m-36.5-60h0m52 53h0m-40.5-20.5h0m44-2.5h0m-41 28h0m41 2.5h0m-47 2h0m46.5-17h0m-41.5 12h0m27-4.5h0m-39-25h0m36.5 25h0m-23.5 3.5h0m39-5h0m-56 1h0m47.5-29h0m-28.5 39h0m35-106h0" stroke="#f4f4f4" stroke-width="2.4"/>
<path d="M803 384.5h0m40.5-3h0m-32-5.5h0m29 1.5h0m-32 14.5h0m33-22h0m-42 3h0m60 12h0m-57-95.5h0m41.5 103.5h0m-28.5-1h0m41-35h0m-49 33h0m46-1.5h0m-38-9h0m38-41h0m-53 49h0m45.5 2.5h0m-39 2.5h0m50.5-46h0m-57 20.5h0m58-49.5h0m-58 11h0m43.5 57h0m-26.5 0.5h0m42.5-8h0m-51.5-38.5h0m51-8h0m-60-44.5h0m46 86h0m-28 6.5h0m41.5-17h0m-44 17.5h0m25 6h0m-23 0.5h0m39.5-46h0m-56.5 28h0m49 23.5h0m-48-31h0m47.5 28.5h0" stroke="#000" stroke-width="4.2"/><path d="M803 384.5h0m40.5-3h0m-32-5.5h0m29 1.5h0m-32 14.5h0m33-22h0m-42 3h0m60 12h0m-57-95.5h0m41.5 103.5h0m-28.5-1h0m41-35h0m-49 33h0m46-1.5h0m-38-9h0m38-41h0m-53 49h0m45.5 2.5h0m-39 2.5h0m50.5-46h0m-57 20.5h0m58-49.5h0m-58 11h0m43.5 57h0m-26.5 0.5h0m42.5-8h0m-51.5-38.5h0m51-8h0m-60-44.5h0m46 86h0m-28 6.5h0m41.5-17h0m-44 17.5h0m25 6h0m-23 0.5h0m39.5-46h0m-56.5 28h0m49 23.5h0m-48-31h0m47.5 28.5h0" stroke="#f4f4f4" stroke-width="2.4"/>
<path d="M807.5 391.5h0m34 0.5h0m-33-2.5h0m48.5-33.5h0m-57.5 4.5h0m43 27.5h0m-42.5-30h0m53.5 1.5h0m-35.5 31.5h0m31-47.5h0m-51 11.5h0m47 37.5h0m-39.5-15.5h0m53 6.5h0m-45 9.5h0m25-7.5h0m-23.5 7.5h0m37-8.5h0m-47.5-71h0m51 67.5h0m-51 1h0m51 0h0m-56-35h0m58.5 28.5h0m-60-20h0m47 16.5h0m-34 18.5h0m28-7.5h0m-26.5 8h0m43.5-3.5h0m-54-6h0m45.5-54h0m-47-5.5h0m59 30.5h0m-61-1h0m53.5 29.5h0m-42.5-8.5h0m35.5 0.5h0m-45.5-31.5h0m44.5 51.5h0" stroke="#000" stroke-width="4.2"/><path d="M807.5 391.5h0m34 0.5h0m-33-2.5h0m48.5-33.5h0m-57.5 4.5h0m43 27.5h0m-42.5-30h0m53.5 1.5h0m-35.5 31.5h0m31-47.5h0m-51 11.5h0m47 37.5h0m-39.5-15.5h0m53 6.5h0m-45 9.5h0m25-7.5h0m-23.5 7.5h0m37-8.5h0m-47.5-71h0m51 67.5h0m-51 1h0m51 0h0m-56-35h0m58.5 28.5h0m-60-20h0m47 16.5h0m-34 18.5h0m28-7.5h0m-26.5 8h0m43.5-3.5h0m-54-6h0m45.5-54h0m-47-5.5h0m59 30.5h0m-61-1h0m53.5 29.5h0m-42.5-8.5h0m35.5 0.5h0m-45.5-31.5h0m44.5 51.5h0" stroke="#f4f4f4" stroke-width="2.4"/>
<path d="M809.5 379.5h0m47.5-18h0m-50.5 4h0m45-7h0m-46 10h0m39 22h0m-36.5-56h0m51 44h0m-53.5-8.5h0m44 18h0m-48.5 2h0m43.5-3h0m-31 2.5h0m27-5.5h0m-26-8h0m38-14.5h0m-45.5 5h0m39 13h0m-43 5.5h0m52-24h0m-57.5-10h0m54-2.5h0m-40 35h0m37.5-25.5h0m-46.5 28h0m56.5-64h0m-61.5 28h0m50.5 41h0m-29-2h0m33.5-46h0m-44.5 14h0m44.5 3.5h0m-46.5-1h0m45.5 31h0m-48-39.5h0m45.5 6h0m-34.5 24.5h0m33 7.5h0m-48.5-4h0m55.5 1.5h0" stroke="#000" stroke-width="4.2"/><path d="M809.5 379.5h0m47.5-18h0m-50.5 4h0m45-7h0m-46 10h0m39 22h0m-36.5-56h0m51 44h0m-53.5-8.5h0m44 18h0m-48.5 2h0m43.5-3h0m-31 2.5h0m27-5.5h0m-26-8h0m38-14.5h0m-45.5 5h0m39 13h0m-43 5.5h0m52-24h0m-57.5-10h0m54-2.5h0m-40 35h0m37.5-25.5h0m-46.5 28h0m56.5-64h0m-61.5 28h0m50.5 41h0m-29-2h0m33.5-46h0m-44.5 14h0m44.5 3.5h0m-46.5-1h0m45.5 31h0m-48-39.5h0m45.5 6h0m-34.5 24.5h0m33 7.5h0m-48.5-4h0m55.5 1.5h0" stroke="#f4f4f4" stroke-width="2.4"/>
<path d="M806.5 385.5h0m51 7.5h0m-60-105h0m52 77.5h0m-42 23h0m40-9h0m-48 9h0m51.5-14.5h0m-45.5-29h0m47 35.5h0m-54.5-27h0m47.5 23h0m-46 15h0m54-21h0m-42 19h0m33-7.5h0m-36-13h0m37 4h0m-38-24.5h0m49 34.5h0m-59-24.5h0m49.5 28h0m-44.5-14h0m51.5 10.5h0m-54-2h0m57.5-11.5h0m-48.5 1.5h0m42-1.5h0m-45.5-69.5h0m49.5 89.5h0m-57.5 3h0m42-3h0m-21 2h0m32-52h0m-31.5 52h0m19 1.5h0m-27-15h0m48.5-30.5h0m-59.5 9.5h0m58.5-11h0" stroke="#000" stroke-width="4.2"/><path d="M806.5 385.5h0m51 7.5h0m-60-105h0m52 77.5h0m-42 23h0m40-9h0m-48 9h0m51.5-14.5h0m-45.5-29h0m47 35.5h0m-54.5-27h0m47.5 23h0m-46 15h0m54-21h0m-42 19h0m33-7.5h0m-36-13h0m37 4h0m-38-24.5h0m49 34.5h0m-59-24.5h0m49.5 28h0m-44.5-14h0m51.5 10.5h0m-54-2h0m57.5-11.5h0m-48.5 1.5h0m42-1.5h0m-45.5-69.5h0m49.5 89.5h0m-57.5 3h0m42-3h0m-21 2h0m32-52h0m-31.5 52h0m19 1.5h0m-27-15h0m48.5-30.5h0m-59.5 9.5h0m58.5-11h0" stroke="#f4f4f4" stroke-width="2.4"/>
<path d="M812.5 384h0m37.5 6h0m-51.5-24.5h0m45 15.5h0m-42.5 0h0m51 9h0m-39.5-1h0m38-30h0m-37.5 12h0m39-22h0m-54.5 26h0m62.5-9h0m-53.5 21.5h0m34-8h0m-24.5 13.5h0m24.5-10h0m-27 5h0m42-17h0m-40.5 4h0m45-25h0m-52 22.5h0m46.5-44.5h0m-53.5 54.5h0m55 6.5h0m-40.5-6.5h0m27.5-3.5h0m-31.5-9.5h0m45-90h0m-48.5 73.5h0m42 25.5h0m-34.5-1h0m43-33.5h0m-47.5 32.5h0m36.5 5h0m-46 11.5h0m48.5-20h0m-35-0.5h0m30 10.5h0m-32.5-8h0m36.5-12.5h0" stroke="#000" stroke-width="4.2"/><path d="M812.5 384h0m37.5 6h0m-51.5-24.5h0m45 15.5h0m-42.5 0h0m51 9h0m-39.5-1h0m38-30h0m-37.5 12h0m39-22h0m-54.5 26h0m62.5-9h0m-53.5 21.5h0m34-8h0m-24.5 13.5h0m24.5-10h0m-27 5h0m42-17h0m-40.5 4h0m45-25h0m-52 22.5h0m46.5-44.5h0m-53.5 54.5h0m55 6.5h0m-40.5-6.5h0m27.5-3.5h0m-31.5-9.5h0m45-90h0m-48.5 73.5h0m42 25.5h0m-34.5-1h0m43-33.5h0m-47.5 32.5h0m36.5 5h0m-46 11.5h0m48.5-20h0m-35-0.5h0m30 10.5h0m-32.5-8h0m36.5-12.5h0" stroke="#f4f4f4" stroke-width="2.4"/>
<path d="M808.5 352.5h0m43 37.5h0m-44.5-5h0m39-19h0m-44 21h0m51 2h0m-40 1.5h0m25.5-4.5h0m-29 7h0m45.5-39.5h0m-37 39h0m26.5-28.5h0m-43 19.5h0m49-37.5h0m-46 23h0m39 23h0m-29.5-12h0m38.5-6.5h0m-48.5-8h0m49.5 10h0m-53.5-12.5h0m58-81.5h0m-56.5 67.5h0m50 35.5h0m-35.5-6h0m29-4h0m-39-10h0m43 21.5h0m-38-19h0m47 10.5h0m-47 2.5h0m38-13.5h0m-47.5-28h0m55 4.5h0m-59 24h0m52-2.5h0m-38.5-11h0m37.5 18.5h0m-42 8h0m31.5 10.5h0" stroke="#000" stroke-width="4.2"/><path d="M808.5 352.5h0m43 37.5h0m-44.5-5h0m39-19h0m-44 21h0m51 2h0m-40 1.5h0m25.5-4.5h0m-29 7h0m45.5-39.5h0m-37 39h0m26.5-28.5h0m-43 19.5h0m49-37.5h0m-46 23h0m39 23h0m-29.5-12h0m38.5-6.5h0m-48.5-8h0m49.5 10h0m-53.5-12.5h0m58-81.5h0m-56.5 67.5h0m50 35.5h0m-35.5-6h0m29-4h0m-39-10h0m43 21.5h0m-38-19h0m47 10.5h0m-47 2.5h0m38-13.5h0m-47.5-28h0m55 4.5h0m-59 24h0m52-2.5h0m-38.5-11h0m37.5 18.5h0m-42 8h0m31.5 10.5h0" stroke="#f4f4f4" stroke-width="2.4"/>
<path d="M807.5 382h0m50.5-97.5h0m-46.5 108.5h0m46.5-2.5h0m-47-35.5h0m46-32.5h0m-43 58.5h0m27 6h0m-34-43h0m39 25.5h0m-31 19h0m24.5-5.5h0m-34.5-29.5h0m43.5-33h0m-46 42.5h0m55 22h0m-46-9h0m41-50h0m-34.5 61.5h0m26-20.5h0m-40-38h0m47.5 55h0m-44-8.5h0m39.5-3h0m-32 16h0m26.5 4.5h0m-35-40h0m42-19.5h0m-44 24.5h0m41-14h0m-35.5 5h0m34.5 11.5h0m-30.5 10h0m28.5 15h0m-33-2.5h0m38 6h0m-38.5 2h0m47-14.5h0m-53.5-3.5h0m57-73h0" stroke="#000" stroke-width="4.2"/><path d="M807.5 382h0m50.5-97.5h0m-46.5 108.5h0m46.5-2.5h0m-47-35.5h0m46-32.5h0m-43 58.5h0m27 6h0m-34-43h0m39 25.5h0m-31 19h0m24.5-5.5h0m-34.5-29.5h0m43.5-33h0m-46 42.5h0m55 22h0m-46-9h0m41-50h0m-34.5 61.5h0m26-20.5h0m-40-38h0m47.5 55h0m-44-8.5h0m39.5-3h0m-32 16h0m26.5 4.5h0m-35-40h0m42-19.5h0m-44 24.5h0m41-14h0m-35.5 5h0m34.5 11.5h0m-30.5 10h0m28.5 15h0m-33-2.5h0m38 6h0m-38.5 2h0m47-14.5h0m-53.5-3.5h0m57-73h0" stroke="#f4f4f4" stroke-width="2.4"/>
<path d="M802.5 327.5h0m56-46.5h0m-50 89h0m31.5 17.5h0m-29.5-16.5h0m27.5 22h0m-29.5-17h0m48.5-23h0m-42 23h0m29.5-1.5h0m-36-14.5h0m37 25.5h0m-47.5-11h0m46.5 3.5h0m-41-82.5h0m37 92.5h0m-38-19.5h0m51.5-15h0m-37.5 39h0m26.5-5.5h0m-29 0.5h0m27.5 5.5h0m-35-42h0m36 40.5h0m-40-1h0m39.5-7.5h0m-31-23.5h0m39.5 12h0m-41 21h0m47-18.5h0m-56 15h0m48.5-16.5h0m-34.5 19.5h0m44.5-118.5h0m-62 84.5h0m58 1.5h0m-47.5 28.5h0m46-14.5h0m-50.5 18.5h0m43-1.5h0" stroke="#000" stroke-width="4.2"/><path d="M802.5 327.5h0m56-46.5h0m-50 89h0m31.5 17.5h0m-29.5-16.5h0m27.5 22h0m-29.5-17h0m48.5-23h0m-42 23h0m29.5-1.5h0m-36-14.5h0m37 25.5h0m-47.5-11h0m46.5 3.5h0m-41-82.5h0m37 92.5h0m-38-19.5h0m51.5-15h0m-37.5 39h0m26.5-5.5h0m-29 0.5h0m27.5 5.5h0m-35-42h0m36 40.5h0m-40-1h0m39.5-7.5h0m-31-23.5h0m39.5 12h0m-41 21h0m47-18.5h0m-56 15h0m48.5-16.5h0m-34.5 19.5h0m44.5-118.5h0m-62 84.5h0m58 1.5h0m-47.5 28.5h0m46-14.5h0m-50.5 18.5h0m43-1.5h0" stroke="#f4f4f4" stroke-width="2.4"/>
<path d="M801.5 369h0m44-8.5h0m-39 22.5h0m41.5 10.5h0m-30.5-0.5h0m42-91.5h0m-53.5 5h0m45 52h0m-35 27h0m36.5-9.5h0m-49 3h0m50 6.5h0m-46.5-8.5h0m44 14.5h0m-38.5-23h0m30.5 14h0m-45.5-31h0m57.5-12.5h0m-57 33h0m50-14.5h0m-29.5 29.5h0m27-10.5h0m-43.5-55.5h0m48.5 38h0m-33.5 20.5h0m41.5-27h0m-51.5 20h0m41.5 15.5h0m-35-23h0m37 27h0m-46-57h0m49 51.5h0m-55.5-2h0m52.5-9.5h0m-36 13h0m29 2h0m-25.5-8h0m35.5 1.5h0m-55.5-14h0m51.5-48.5h0" stroke="#000" stroke-width="4.2"/><path d="M801.5 369h0m44-8.5h0m-39 22.5h0m41.5 10.5h0m-30.5-0.5h0m42-91.5h0m-53.5 5h0m45 52h0m-35 27h0m36.5-9.5h0m-49 3h0m50 6.5h0m-46.5-8.5h0m44 14.5h0m-38.5-23h0m30.5 14h0m-45.5-31h0m57.5-12.5h0m-57 33h0m50-14.5h0m-29.5 29.5h0m27-10.5h0m-43.5-55.5h0m48.5 38h0m-33.5 20.5h0m41.5-27h0m-51.5 20h0m41.5 15.5h0m-35-23h0m37 27h0m-46-57h0m49 51.5h0m-55.5-2h0m52.5-9.5h0m-36 13h0m29 2h0m-25.5-8h0m35.5 1.5h0m-55.5-14h0m51.5-48.5h0" stroke="#f4f4f4" stroke-width="2.4"/>
<path d="M804 372h0m51.5-29h0m-44.5 48.5h0m44-48.5h0m-50 46.5h0m50-3.5h0m-54-30.5h0m52 35h0m-43.5-29.5h0m32 32h0m-33-49.5h0m44.5 41h0m-36-8h0m37.5 8.5h0m-52.5 8h0m41-6h0m-45 5h0m44.5-20.5h0m-41 10h0m39-6.5h0m-41.5-17h0m41.5 17.5h0m-36.5-43h0m51.5 34.5h0m-58-1h0m51.5-0.5h0m-48-6h0m58 20h0m-60-74h0m48 87h0m-42-30.5h0m54.5-4.5h0m-57-16h0m40.5 33.5h0m-35 11.5h0m37.5-2.5h0m-43.5-20h0m44.5 28h0m-45.5-52.5h0m56-7.5h0" stroke="#000" stroke-width="4.2"/><path d="M804 372h0m51.5-29h0m-44.5 48.5h0m44-48.5h0m-50 46.5h0m50-3.5h0m-54-30.5h0m52 35h0m-43.5-29.5h0m32 32h0m-33-49.5h0m44.5 41h0m-36-8h0m37.5 8.5h0m-52.5 8h0m41-6h0m-45 5h0m44.5-20.5h0m-41 10h0m39-6.5h0m-41.5-17h0m41.5 17.5h0m-36.5-43h0m51.5 34.5h0m-58-1h0m51.5-0.5h0m-48-6h0m58 20h0m-60-74h0m48 87h0m-42-30.5h0m54.5-4.5h0m-57-16h0m40.5 33.5h0m-35 11.5h0m37.5-2.5h0m-43.5-20h0m44.5 28h0m-45.5-52.5h0m56-7.5h0" stroke="#f4f4f4" stroke-width="2.4"/>
<path d="M817.5 389.5h0m32-6h0m-49 1h0m37.5 8.5h0m-19.5-5h0m32.5 3h0m-45.5-20.5h0m40.5 17h0m-31.5-5h0m33-10.5h0m-44 10h0m49 1.5h0m-50.5 1.5h0m50.5-34.5h0m-51.5 13.5h0m57.5-81h0m-48.5 103h0m43 2.5h0m-39 3h0m39.5-15h0m-55-53h0m52.5 57.5h0m-40.5 11h0m31-6.5h0m-22 6.5h0m36.5-21.5h0m-58 19h0m52-25.5h0m-31.5 26.5h0m35.5 0h0m-37 1.5h0m39-108h0m-57.5 77.5h0m42 11.5h0m-34-24.5h0m46.5 17h0m-38.5 25h0m26-4.5h0m-29 4.5h0m44-2h0" stroke="#000" stroke-width="4.2"/><path d="M817.5 389.5h0m32-6h0m-49 1h0m37.5 8.5h0m-19.5-5h0m32.5 3h0m-45.5-20.5h0m40.5 17h0m-31.5-5h0m33-10.5h0m-44 10h0m49 1.5h0m-50.5 1.5h0m50.5-34.5h0m-51.5 13.5h0m57.5-81h0m-48.5 103h0m43 2.5h0m-39 3h0m39.5-15h0m-55-53h0m52.5 57.5h0m-40.5 11h0m31-6.5h0m-22 6.5h0m36.5-21.5h0m-58 19h0m52-25.5h0m-31.5 26.5h0m35.5 0h0m-37 1.5h0m39-108h0m-57.5 77.5h0m42 11.5h0m-34-24.5h0m46.5 17h0m-38.5 25h0m26-4.5h0m-29 4.5h0m44-2h0" stroke="#f4f4f4" stroke-width="2.4"/>
<path d="M816 388h0m36.5-23h0m-43.5 17.5h0m33-8h0m-32.5-4h0m47 19.5h0m-48-8h0m50.5-30h0m-45.5 30.5h0m24.5 10.5h0m-23-10.5h0m36 3.5h0m-46-4.5h0m49.5 10h0m-54.5-22h0m43 18h0m-39 2.5h0m54.5-7h0m-50 8.5h0m41-13h0m-35.5 1h0m39 8.5h0m-40-12h0m31.5 17h0m-41.5-71.5h0m53.5-3.5h0m-43 68.5h0m39-24h0m-48 4h0m40 21.5h0m-28 4.5h0m35.5-2h0m-52.5-128.5h0m43 111.5h0m-23 19h0m26.5-0.5h0m-33.5 1h0m37-17.5h0m-36.5-23.5h0m37.5-6h0" stroke="#000" stroke-width="4.2"/><path d="M816 388h0m36.5-23h0m-43.5 17.5h0m33-8h0m-32.5-4h0m47 19.5h0m-48-8h0m50.5-30h0m-45.5 30.5h0m24.5 10.5h0m-23-10.5h0m36 3.5h0m-46-4.5h0m49.5 10h0m-54.5-22h0m43 18h0m-39 2.5h0m54.5-7h0m-50 8.5h0m41-13h0m-35.5 1h0m39 8.5h0m-40-12h0m31.5 17h0m-41.5-71.5h0m53.5-3.5h0m-43 68.5h0m39-24h0m-48 4h0m40 21.5h0m-28 4.5h0m35.5-2h0m-52.5-128.5h0m43 111.5h0m-23 19h0m26.5-0.5h0m-33.5 1h0m37-17.5h0m-36.5-23.5h0m37.5-6h0" stroke="#f4f4f4" stroke-width="2.4"/>
<path d="M810 360h0m46 17h0m-54 0.5h0m41 6.5h0m-27-9h0m29 4.5h0m-44.5-22h0m58-18.5h0m-55.5 6.5h0m51-41h0m-49 54h0m46.5 11.5h0m-53 8h0m45 3h0m-32.5-16h0m42 28.5h0m-39.5-18h0m34.5-11.5h0m-40.5 26h0m46.5-7h0m-86 3.5h0m3 1h0m-59-4h0m81.5 5h0m-12.5-4h0m-22.5-2.5h0m21 8.5h0m9-6.5h0m-9.5 4h0m9-4.5h0m2.5 0h0m-30.5-0.5h0m-24.5 7h0m22-3.5h0m39 3.5h0m-23-7h0m4 9.5h0m-55-6h0m70-1.5h0m-66 5h0" stroke="#000" stroke-width="4.2"/><path d="M810 360h0m46 17h0m-54 0.5h0m41 6.5h0m-27-9h0m29 4.5h0m-44.5-22h0m58-18.5h0m-55.5 6.5h0m51-41h0m-49 54h0m46.5 11.5h0m-53 8h0m45 3h0m-32.5-16h0m42 28.5h0m-39.5-18h0m34.5-11.5h0m-40.5 26h0m46.5-7h0m-86 3.5h0m3 1h0m-59-4h0m81.5 5h0m-12.5-4h0m-22.5-2.5h0m21 8.5h0m9-6.5h0m-9.5 4h0m9-4.5h0m2.5 0h0m-30.5-0.5h0m-24.5 7h0m22-3.5h0m39 3.5h0m-23-7h0m4 9.5h0m-55-6h0m70-1.5h0m-66 5h0" stroke="#f4f4f4" stroke-width="2.4"/>
<path d="M783 390.5h0m4-3.5h0m3 5.5h0m-7-7h0m8.5 2h0m-7.5-5h0m-9 2h0m-4.5 8.5h0m-7.5-8h0m-0.5 4.5h0m-32.5 3h0m63.5 0h0m-40.5-1h0m-9.5-0.5h0m5.5-4h0m36-1h0m-5.5 1h0m11.5-2h0m-4 5h0m3.5-1.5h0m-2 4h0m-6.5-6.5h0m-23-3h0m26.5 9h0m-8.5-8h0m2.5 2.5h0m-29.5-4h0m6 9.5h0m30-5h0m6.5 4h0m-3.5 2h0m-17-9.5h0m9.5 4h0m0 5h0m9.5-0.5h0m-38-5.5h0m20 6h0m-1-2.5h0m-8.5-4h0m23-3h0" stroke="#000" stroke-width="4.2"/><path d="M783 390.5h0m4-3.5h0m3 5.5h0m-7-7h0m8.5 2h0m-7.5-5h0m-9 2h0m-4.5 8.5h0m-7.5-8h0m-0.5 4.5h0m-32.5 3h0m63.5 0h0m-40.5-1h0m-9.5-0.5h0m5.5-4h0m36-1h0m-5.5 1h0m11.5-2h0m-4 5h0m3.5-1.5h0m-2 4h0m-6.5-6.5h0m-23-3h0m26.5 9h0m-8.5-8h0m2.5 2.5h0m-29.5-4h0m6 9.5h0m30-5h0m6.5 4h0m-3.5 2h0m-17-9.5h0m9.5 4h0m0 5h0m9.5-0.5h0m-38-5.5h0m20 6h0m-1-2.5h0m-8.5-4h0m23-3h0" stroke="#f4f4f4" stroke-width="2.4"/>
<path d="M784 391h0m-9.5-6h0m9.5 6h0m-1-2.5h0m-1.5-4.5h0m-10.5 4h0m7.5 0.5h0m8-3.5h0m-16 5.5h0m11-0.5h0m6-3h0m-6.5 6h0m14.5-1.5h0m-20.5-7.5h0m-1 8h0m-31.5-1h0m41.5-7h0m-18 0h0m28 9h0m-1-3.5h0m1.5 0h0m1.5 2.5h0m-12.5-2h0m0 1.5h0m5.5-3h0m-3 2.5h0m9-5.5h0m-89-0.5h0m43.5-2.5h0m-13.5 3.5h0m60 1h0m-7.5 1h0m-57-4h0m-11 6.5h0m38 2.5h0m35-2h0m-45-6h0m36 1h0m-53 4h0m56-5.5h0" stroke="#000" stroke-width="4.2"/><path d="M784 391h0m-9.5-6h0m9.5 6h0m-1-2.5h0m-1.5-4.5h0m-10.5 4h0m7.5 0.5h0m8-3.5h0m-16 5.5h0m11-0.5h0m6-3h0m-6.5 6h0m14.5-1.5h0m-20.5-7.5h0m-1 8h0m-31.5-1h0m41.5-7h0m-18 0h0m28 9h0m-1-3.5h0m1.5 0h0m1.5 2.5h0m-12.5-2h0m0 1.5h0m5.5-3h0m-3 2.5h0m9-5.5h0m-89-0.5h0m43.5-2.5h0m-13.5 3.5h0m60 1h0m-7.5 1h0m-57-4h0m-11 6.5h0m38 2.5h0m35-2h0m-45-6h0m36 1h0m-53 4h0m56-5.5h0" stroke="#f4f4f4" stroke-width="2.4"/>
<path d="M765.5 387.5h0m23.5-4.5h0m-6 1h0m-10 7.5h0m9.5 1.5h0m-5.5-4h0m-54-5h0m73 4h0m-19-3.5h0m12 5.5h0m98.5-3h0m-9 5h0m10-7h0m-0.5 4h0m-4-4h0m-22.5 7.5h0m32.5-1h0m-14-7.5h0m-7.5-0.5h0m-1.5-1h0m23 3h0m9.5 1.5h0m-23-3h0m-3 0.5h0m-6.5 2.5h0m-7-1.5h0m-2.5-2h0m5 1h0m0 4h0m21-4.5h0m14.5 1.5h0m-14 2.5h0m14.5-4.5h0m-29.5 7.5h0m9-3h0m-7.5-3h0m54.5-1h0m-65.5-1.5h0m2 10h0m45.5-3.5h0" stroke="#000" stroke-width="4.2"/><path d="M765.5 387.5h0m23.5-4.5h0m-6 1h0m-10 7.5h0m9.5 1.5h0m-5.5-4h0m-54-5h0m73 4h0m-19-3.5h0m12 5.5h0m98.5-3h0m-9 5h0m10-7h0m-0.5 4h0m-4-4h0m-22.5 7.5h0m32.5-1h0m-14-7.5h0m-7.5-0.5h0m-1.5-1h0m23 3h0m9.5 1.5h0m-23-3h0m-3 0.5h0m-6.5 2.5h0m-7-1.5h0m-2.5-2h0m5 1h0m0 4h0m21-4.5h0m14.5 1.5h0m-14 2.5h0m14.5-4.5h0m-29.5 7.5h0m9-3h0m-7.5-3h0m54.5-1h0m-65.5-1.5h0m2 10h0m45.5-3.5h0" stroke="#f4f4f4" stroke-width="2.4"/>
<path d="M875 383h0m-14 6h0m-0.5-1.5h0m12.5 2h0m29-1h0m-28 3h0m31.5-5h0m-31 1.5h0m18-5h0m-31 9.5h0m5-2.5h0m49-0.5h0m-31.5-4.5h0m-13 7.5h0m35.5-3h0m-29.5-4.5h0m10 7h0m7.5-2h0m5.5-2h0m-24 5h0m45-2.5h0m-45.5 0.5h0m1 1h0m-1 0.5h0m30.5-8h0m0 2h0m-3 4h0m0-1.5h0m31-3h0m-61.5 0.5h0m-5 3h0m4 1h0m19.5-4h0m3-3.5h0m-12.5 9h0m-21.5-3h0m30-4.5h0m-12 7h0m16.5-1.5h0m10-5h0" stroke="#000" stroke-width="4.2"/><path d="M875 383h0m-14 6h0m-0.5-1.5h0m12.5 2h0m29-1h0m-28 3h0m31.5-5h0m-31 1.5h0m18-5h0m-31 9.5h0m5-2.5h0m49-0.5h0m-31.5-4.5h0m-13 7.5h0m35.5-3h0m-29.5-4.5h0m10 7h0m7.5-2h0m5.5-2h0m-24 5h0m45-2.5h0m-45.5 0.5h0m1 1h0m-1 0.5h0m30.5-8h0m0 2h0m-3 4h0m0-1.5h0m31-3h0m-61.5 0.5h0m-5 3h0m4 1h0m19.5-4h0m3-3.5h0m-12.5 9h0m-21.5-3h0m30-4.5h0m-12 7h0m16.5-1.5h0m10-5h0" stroke="#f4f4f4" stroke-width="2.4"/>
<path d="M897 393h0m-10-3.5h0m3.5 0.5h0m-27.5-8h0m38 6h0m-15-1.5h0m-6.5 3.5h0m-3.5 1h0m-11.5 1h0m8-4.5h0m42-1.5h0m-51-1h0m6.5 8h0m26-5.5h0m-21 4.5h0m-12-2.5h0m19 3h0m-18.5-0.5h0m83-9h0m-58.5 9h0m-8.5 1h0m42-1.5h0m-13.5-8.5h0m17.5 1h0m-44.5-1h0m25.5 0.5h0m6 1h0m-43 1h0m27-2.5h0m-17.5 4h0m15-3.5h0m-28.5 2h0m67.5-0.5h0m-65 6h0m11 2.5h0m41.5-10.5h0m-5 10h0m-30-3.5h0m-18-3.5h0m13.5-1.5h0" stroke="#000" stroke-width="4.2"/><path d="M897 393h0m-10-3.5h0m3.5 0.5h0m-27.5-8h0m38 6h0m-15-1.5h0m-6.5 3.5h0m-3.5 1h0m-11.5 1h0m8-4.5h0m42-1.5h0m-51-1h0m6.5 8h0m26-5.5h0m-21 4.5h0m-12-2.5h0m19 3h0m-18.5-0.5h0m83-9h0m-58.5 9h0m-8.5 1h0m42-1.5h0m-13.5-8.5h0m17.5 1h0m-44.5-1h0m25.5 0.5h0m6 1h0m-43 1h0m27-2.5h0m-17.5 4h0m15-3.5h0m-28.5 2h0m67.5-0.5h0m-65 6h0m11 2.5h0m41.5-10.5h0m-5 10h0m-30-3.5h0m-18-3.5h0m13.5-1.5h0" stroke="#f4f4f4" stroke-width="2.4"/>
<path d="M900.5 392h0m15-2h0m-10-5h0m-13-3h0m-5.5 3h0m0.5-1h0m19.5 0h0m-41 0h0m-1.5 1.5h0m2-1.5h0m16 1h0m34.5 6.5h0m-31-5h0m12 5h0m-19.5-7.5h0m-6.5-1.5h0m23.5 4.5h0m-2-4h0m-3 7.5h0m-19.5-6.5h0m18.5 9h0m33-9.5h0m-12.5-1h0m-44 7h0m21.5 3h0m-10-8.5h0m39 9h0m-54.5-1.5h0m5.5 1.5h0m50 0h0m-35-9h0m-1-0.5h0m-18 6h0m48-4.5h0m-45 3h0m3.5 0.5h0m28.5-3h0m-28.5 3.5h0m48.5-3.5h0m-51.5 5.5h0" stroke="#000" stroke-width="4.2"/><path d="M900.5 392h0m15-2h0m-10-5h0m-13-3h0m-5.5 3h0m0.5-1h0m19.5 0h0m-41 0h0m-1.5 1.5h0m2-1.5h0m16 1h0m34.5 6.5h0m-31-5h0m12 5h0m-19.5-7.5h0m-6.5-1.5h0m23.5 4.5h0m-2-4h0m-3 7.5h0m-19.5-6.5h0m18.5 9h0m33-9.5h0m-12.5-1h0m-44 7h0m21.5 3h0m-10-8.5h0m39 9h0m-54.5-1.5h0m5.5 1.5h0m50 0h0m-35-9h0m-1-0.5h0m-18 6h0m48-4.5h0m-45 3h0m3.5 0.5h0m28.5-3h0m-28.5 3.5h0m48.5-3.5h0m-51.5 5.5h0" stroke="#f4f4f4" stroke-width="2.4"/>
<path d="M876 382.5h0m3 6.5h0m40-3.5h0m-3 3.5h0m-55-6.5h0m36 5h0m-6-1h0m5 5h0m-6-6h0m-16-1h0m-6 6h0m21-8h0m5.5 0h0m-32.5 2h0m21.5 7.5h0m5.5-3h0m-1.5-0.5h0m-11.5-0.5h0m22.5 3.5h0m-33 0h0m10.5-3h0m18-0.5h0m6-1.5h0m-14.5 6.5h0m-1.5-6h0m-23.5 1h0m5-3h0m75.5 1.5h0m-65.5-1.5h0m-15 6h0m29.5-0.5h0m-1.5-7h0m52 9.5h0m-56.5-5h0m-6-2h0m19 0.5h0m-5.5 2.5h0m-19-4h0m11-2h0m-15 8h0" stroke="#000" stroke-width="4.2"/><path d="M876 382.5h0m3 6.5h0m40-3.5h0m-3 3.5h0m-55-6.5h0m36 5h0m-6-1h0m5 5h0m-6-6h0m-16-1h0m-6 6h0m21-8h0m5.5 0h0m-32.5 2h0m21.5 7.5h0m5.5-3h0m-1.5-0.5h0m-11.5-0.5h0m22.5 3.5h0m-33 0h0m10.5-3h0m18-0.5h0m6-1.5h0m-14.5 6.5h0m-1.5-6h0m-23.5 1h0m5-3h0m75.5 1.5h0m-65.5-1.5h0m-15 6h0m29.5-0.5h0m-1.5-7h0m52 9.5h0m-56.5-5h0m-6-2h0m19 0.5h0m-5.5 2.5h0m-19-4h0m11-2h0m-15 8h0" stroke="#f4f4f4" stroke-width="2.4"/>
<path d="M895 383h0m-17.5 1h0m0 3.5h0m22 2.5h0m-22-6h0m11.5 3h0m27 0h0m-49.5-0.5h0m53-2.5h0m-25.5 7.5h0m4.5-2h0m-11-4.5h0m15 2.5h0m-19.5-1h0m35 1.5h0m-26.5 1h0m-21.5 3.5h0m35.5-5h0m-37 4h0m36-1.5h0m-44-3h0m25-3.5h0m3 1.5h0m6.5 4h0m6 2h0m-21-6h0m37 7.5h0m-26-9.5h0m-28.5 3.5h0m14 3h0m2-2h0m20.5 0h0m4.5-3h0m-40.5 1h0m13 2.5h0m40.5-2h0m-46.5 2.5h0m-1.5-3h0m-1 4.5h0m71.5-2h0" stroke="#000" stroke-width="4.2"/><path d="M895 383h0m-17.5 1h0m0 3.5h0m22 2.5h0m-22-6h0m11.5 3h0m27 0h0m-49.5-0.5h0m53-2.5h0m-25.5 7.5h0m4.5-2h0m-11-4.5h0m15 2.5h0m-19.5-1h0m35 1.5h0m-26.5 1h0m-21.5 3.5h0m35.5-5h0m-37 4h0m36-1.5h0m-44-3h0m25-3.5h0m3 1.5h0m6.5 4h0m6 2h0m-21-6h0m37 7.5h0m-26-9.5h0m-28.5 3.5h0m14 3h0m2-2h0m20.5 0h0m4.5-3h0m-40.5 1h0m13 2.5h0m40.5-2h0m-46.5 2.5h0m-1.5-3h0m-1 4.5h0m71.5-2h0" stroke="#f4f4f4" stroke-width="2.4"/>
<path d="M942 391.5h0m-65.5-1h0m3.5-1h0m2 2.5h0m7.5-5h0m-12.5 3.5h0m-3.5-5h0m-7.5 7h0m21.5-10h0m-22 6h0m-1.5 2h0m2.5-8h0m-0.5 8h0m0.5-1h0m24 0.5h0m-25-2h0m14-0.5h0m-15.5-0.5h0m42 1.5h0m-23 2.5h0m-8.5-1h0m-9-1.5h0m13-5h0m-7 6.5h0m29.5 2h0m-28.5-3.5h0m14-3.5h0m2.5-1h0m-14.5 4h0m-9-2h0" stroke="#000" stroke-width="4.2"/><path d="M942 391.5h0m-65.5-1h0m3.5-1h0m2 2.5h0m7.5-5h0m-12.5 3.5h0m-3.5-5h0m-7.5 7h0m21.5-10h0m-22 6h0m-1.5 2h0m2.5-8h0m-0.5 8h0m0.5-1h0m24 0.5h0m-25-2h0m14-0.5h0m-15.5-0.5h0m42 1.5h0m-23 2.5h0m-8.5-1h0m-9-1.5h0m13-5h0m-7 6.5h0m29.5 2h0m-28.5-3.5h0m14-3.5h0m2.5-1h0m-14.5 4h0m-9-2h0" stroke="#f4f4f4" stroke-width="2.4"/>
</g>
<g fill="none" stroke-linecap="round">
<path d="M791.5 369h0m-27.5-74.5h0m18.5 39h0m1-68.5h0m0.5 86.5h0m-3-44.5h0m14.5 49.5h0m-19-66h0m18 42.5h0m-0.5-147h0m-89.5 120.5h0m72 13h0m19 11.5h0m-2 32.5h0m0-18h0m-16.5 24.5h0m17-149.5h0m-15.5 49h0m-11.5 68.5h0m18 33h0m11.5-43.5h0m-29 43h0m13-217h0m5 223.5h0m-0.5 0.5h0m6.5 3h0m0-84.5h0m-89-149.5h0m-27.5 16.5h0m120 219.5h0m-12-20h0m8.5 10.5h0m-3-2.5h0m2 0h0m1-27.5h0m-99.5-74.5h0m74 105.5h0m24.5-66h0m-0.5-49.5h0m-7.5 115h0" stroke="#000" stroke-width="4.3"/><path d="M791.5 369h0m-27.5-74.5h0m18.5 39h0m1-68.5h0m0.5 86.5h0m-3-44.5h0m14.5 49.5h0m-19-66h0m18 42.5h0m-0.5-147h0m-89.5 120.5h0m72 13h0m19 11.5h0m-2 32.5h0m0-18h0m-16.5 24.5h0m17-149.5h0m-15.5 49h0m-11.5 68.5h0m18 33h0m11.5-43.5h0m-29 43h0m13-217h0m5 223.5h0m-0.5 0.5h0m6.5 3h0m0-84.5h0m-89-149.5h0m-27.5 16.5h0m120 219.5h0m-12-20h0m8.5 10.5h0m-3-2.5h0m2 0h0m1-27.5h0m-99.5-74.5h0m74 105.5h0m24.5-66h0m-0.5-49.5h0m-7.5 115h0" stroke="#66c832" stroke-width="3.4"/>
<path d="M794.5 351.5h0m-16.5-5h0m17.5-20h0m-23.5 49.5h0m23.5-132h0m-2 123.5h0m-15.5-88.5h0m6 99h0m11.5-6h0m-15-57h0m13 51.5h0m1 6.5h0m-98-110.5h0m86-8h0m8.5 92.5h0m2-25.5h0m0-75h0m-6.5 53.5h0m-11 22.5h0m-11-110.5h0m13.5 146h0m12-37h0m-14 50.5h0m2.5-7.5h0m9.5-138.5h0m-5 105h0m6.5 6h0m4 40.5h0m-10 3h0m-1-1.5h0m-8-4h0m19.5-15h0m-3.5 7h0m-20-46.5h0m18-22h0m-2.5 9.5h0m2.5 22.5h0m2 37h0m-13-66.5h0m14.5-13.5h0" stroke="#000" stroke-width="4.3"/><path d="M794.5 351.5h0m-16.5-5h0m17.5-20h0m-23.5 49.5h0m23.5-132h0m-2 123.5h0m-15.5-88.5h0m6 99h0m11.5-6h0m-15-57h0m13 51.5h0m1 6.5h0m-98-110.5h0m86-8h0m8.5 92.5h0m2-25.5h0m0-75h0m-6.5 53.5h0m-11 22.5h0m-11-110.5h0m13.5 146h0m12-37h0m-14 50.5h0m2.5-7.5h0m9.5-138.5h0m-5 105h0m6.5 6h0m4 40.5h0m-10 3h0m-1-1.5h0m-8-4h0m19.5-15h0m-3.5 7h0m-20-46.5h0m18-22h0m-2.5 9.5h0m2.5 22.5h0m2 37h0m-13-66.5h0m14.5-13.5h0" stroke="#66c832" stroke-width="3.4"/>
<path d="M781 380h0m9-60.5h0m-14.5-10h0m10.5-13.5h0m-6 30h0m8 30h0m-27.5-8h0m30 8.5h0m-5-4.5h0m-8-117.5h0m14.5 106h0m1.5-24h0m-44-56.5h0m25.5 121.5h0m9.5-56.5h0m2 16.5h0m7.5-20h0m-7-65.5h0m-1 55h0m-10.5 26h0m13.5 35.5h0m-9-117h0m2.5 74h0m2-72h0m-8.5 82.5h0m-5 8.5h0m-2.5 29h0m11-11h0m15-7h0m-17 1h0m15-105h0m-8 6h0m-2.5 116h0m14.5-27.5h0m-11.5 19.5h0m4-15h0m-89.5-183.5h0m58 170.5h0m23-87h0m9.5 93h0" stroke="#000" stroke-width="4.3"/><path d="M781 380h0m9-60.5h0m-14.5-10h0m10.5-13.5h0m-6 30h0m8 30h0m-27.5-8h0m30 8.5h0m-5-4.5h0m-8-117.5h0m14.5 106h0m1.5-24h0m-44-56.5h0m25.5 121.5h0m9.5-56.5h0m2 16.5h0m7.5-20h0m-7-65.5h0m-1 55h0m-10.5 26h0m13.5 35.5h0m-9-117h0m2.5 74h0m2-72h0m-8.5 82.5h0m-5 8.5h0m-2.5 29h0m11-11h0m15-7h0m-17 1h0m15-105h0m-8 6h0m-2.5 116h0m14.5-27.5h0m-11.5 19.5h0m4-15h0m-89.5-183.5h0m58 170.5h0m23-87h0m9.5 93h0" stroke="#66c832" stroke-width="3.4"/>
<path d="M778.5 371.5h0m16.5-92h0m-1.5 50h0m-22.5 52h0m19-16.5h0m-1-8.5h0m7 19h0m-8-3h0m-8.5-32h0m9.5 42.5h0m-11-110h0m3 79.5h0m15 17h0m-2.5-14.5h0m-25-61h0m6 82.5h0m1-13.5h0m10 0h0m-83-70.5h0m71.5 65.5h0m-7 15.5h0m13.5-60h0m14 11h0m-11.5-71h0m-25.5 85h0m37 43.5h0m-11.5-59.5h0m11.5-86.5h0m-13 29.5h0m10.5 86.5h0m-4.5-8.5h0m4 13.5h0m2.5-12h0m-28.5 9.5h0m-92-224h0m85 145.5h0m-8-14.5h0m35 12.5h0m-2 89.5h0m-2.5 14.5h0" stroke="#000" stroke-width="4.3"/><path d="M778.5 371.5h0m16.5-92h0m-1.5 50h0m-22.5 52h0m19-16.5h0m-1-8.5h0m7 19h0m-8-3h0m-8.5-32h0m9.5 42.5h0m-11-110h0m3 79.5h0m15 17h0m-2.5-14.5h0m-25-61h0m6 82.5h0m1-13.5h0m10 0h0m-83-70.5h0m71.5 65.5h0m-7 15.5h0m13.5-60h0m14 11h0m-11.5-71h0m-25.5 85h0m37 43.5h0m-11.5-59.5h0m11.5-86.5h0m-13 29.5h0m10.5 86.5h0m-4.5-8.5h0m4 13.5h0m2.5-12h0m-28.5 9.5h0m-92-224h0m85 145.5h0m-8-14.5h0m35 12.5h0m-2 89.5h0m-2.5 14.5h0" stroke="#66c832" stroke-width="3.4"/>
<path d="M688 202.5h0m46.5 87.5h0m29.5 29h0m21.5-0.5h0m-39-16h0m39.5 9h0m1.5 43.5h0m0.5-54.5h0m-11.5-4h0m6 78h0m2.5 4h0m2-64.5h0m-13.5 44.5h0m5.5-43h0m0 63h0m9-75.5h0m-16.5-25.5h0m13.5 24.5h0m7 54h0m0.5-4.5h0m0.5-88.5h0m1 80h0m-5.5 6h0m4.5-39h0m-6.5 38.5h0m-1.5-16h0m6 4.5h0m-8 30.5h0m1.5-74.5h0m-10 9h0m-7 12h0m6 21h0m-40.5-61.5h0m7 80.5h0m47.5-26.5h0m-7.5 1.5h0m14.5-32h0m-112.5 71.5h0m101.5-45.5h0m5-11h0" stroke="#000" stroke-width="4.3"/><path d="M688 202.5h0m46.5 87.5h0m29.5 29h0m21.5-0.5h0m-39-16h0m39.5 9h0m1.5 43.5h0m0.5-54.5h0m-11.5-4h0m6 78h0m2.5 4h0m2-64.5h0m-13.5 44.5h0m5.5-43h0m0 63h0m9-75.5h0m-16.5-25.5h0m13.5 24.5h0m7 54h0m0.5-4.5h0m0.5-88.5h0m1 80h0m-5.5 6h0m4.5-39h0m-6.5 38.5h0m-1.5-16h0m6 4.5h0m-8 30.5h0m1.5-74.5h0m-10 9h0m-7 12h0m6 21h0m-40.5-61.5h0m7 80.5h0m47.5-26.5h0m-7.5 1.5h0m14.5-32h0m-112.5 71.5h0m101.5-45.5h0m5-11h0" stroke="#66c832" stroke-width="3.4"/>
<path d="M780.5 370.5h0m12.5-16.5h0m1-4h0m-18.5 31h0m21-42.5h0m-21 16.5h0m19.5-14h0m-36.5-36.5h0m-4.5 34h0m41 24.5h0m-3.5-13h0m-107.5-11.5h0m68.5-45h0m37.5 24.5h0m-11 49h0m16 2h0m-1.5-20.5h0m-42.5-75h0m44 23h0m-25.5-2.5h0m22.5 87h0m-28.5-102.5h0m22 65h0m-2 3.5h0m-16.5 13.5h0m-42-210.5h0m33 126h0m29 37.5h0m-109.5 22h0m113.5 28h0m-19-53.5h0m12 52h0m8-12h0m0-78.5h0m-2.5 71h0m-10-31.5h0m-10.5-68h0m-84.5-75h0m99.5 178.5h0m2.5-18h0" stroke="#000" stroke-width="4.3"/><path d="M780.5 370.5h0m12.5-16.5h0m1-4h0m-18.5 31h0m21-42.5h0m-21 16.5h0m19.5-14h0m-36.5-36.5h0m-4.5 34h0m41 24.5h0m-3.5-13h0m-107.5-11.5h0m68.5-45h0m37.5 24.5h0m-11 49h0m16 2h0m-1.5-20.5h0m-42.5-75h0m44 23h0m-25.5-2.5h0m22.5 87h0m-28.5-102.5h0m22 65h0m-2 3.5h0m-16.5 13.5h0m-42-210.5h0m33 126h0m29 37.5h0m-109.5 22h0m113.5 28h0m-19-53.5h0m12 52h0m8-12h0m0-78.5h0m-2.5 71h0m-10-31.5h0m-10.5-68h0m-84.5-75h0m99.5 178.5h0m2.5-18h0" stroke="#66c832" stroke-width="3.4"/>
<path d="M791 373.5h0m0-53h0m-7-4.5h0m8-31.5h0m-3.5-24.5h0m-3.5 65h0m-26.5-169h0m34 227h0m-20-101h0m-19 84.5h0m-59.5-47h0m91.5 57h0m-20.5-5h0m21.5-79h0m-2-22h0m-0.5 82h0m-9-42.5h0m12.5 66.5h0m-31-125.5h0m17.5 25.5h0" stroke="#000" stroke-width="4.3"/><path d="M791 373.5h0m0-53h0m-7-4.5h0m8-31.5h0m-3.5-24.5h0m-3.5 65h0m-26.5-169h0m34 227h0m-20-101h0m-19 84.5h0m-59.5-47h0m91.5 57h0m-20.5-5h0m21.5-79h0m-2-22h0m-0.5 82h0m-9-42.5h0m12.5 66.5h0m-31-125.5h0m17.5 25.5h0" stroke="#66c832" stroke-width="3.4"/>
</g>
<g fill="none" stroke-linecap="round">
<path d="M897 356h0m-6.5-0.5h0m-9.5-39.5h0m-18.5-2h0m14 65.5h0m23-114h0m-37.5 99h0m11.5-57h0m20.5 53.5h0m-19-23.5h0m15-48.5h0m26.5 91h0m-54-53h0m45 52h0m27-165h0m-45.5 165.5h0m-15.5-65.5h0m-11 6.5h0m10.5 21h0m44.5 17h0m-19-30.5h0m-17.5 34h0m-15 17h0m3.5-44h0m1.5 19h0m-1.5 12h0m66-236.5h0m-41 251h0m4-45h0m29 17.5h0m-39 27h0m19-9.5h0m18-110.5h0m-50-19.5h0m-3 96.5h0m28 22h0m0-6.5h0m-16-25.5h0m0.5 38h0m21 10h0" stroke="#000" stroke-width="4.4"/><path d="M897 356h0m-6.5-0.5h0m-9.5-39.5h0m-18.5-2h0m14 65.5h0m23-114h0m-37.5 99h0m11.5-57h0m20.5 53.5h0m-19-23.5h0m15-48.5h0m26.5 91h0m-54-53h0m45 52h0m27-165h0m-45.5 165.5h0m-15.5-65.5h0m-11 6.5h0m10.5 21h0m44.5 17h0m-19-30.5h0m-17.5 34h0m-15 17h0m3.5-44h0m1.5 19h0m-1.5 12h0m66-236.5h0m-41 251h0m4-45h0m29 17.5h0m-39 27h0m19-9.5h0m18-110.5h0m-50-19.5h0m-3 96.5h0m28 22h0m0-6.5h0m-16-25.5h0m0.5 38h0m21 10h0" stroke="#f0261c" stroke-width="3.5"/>
<path d="M920 301h0m-54-2h0m-1 27.5h0m6.5 50.5h0m-1-42.5h0m15-13h0m21.5 37.5h0m-44.5-63h0m24.5 32.5h0m3.5 23h0m12.5 14.5h0m-34.5-73h0m6 46h0m38.5 38h0m-44.5-172.5h0m15 141.5h0m30-49h0m-39.5 49h0m-8.5 23.5h0m19.5-109.5h0m8.5 117.5h0m80.5-250h0m-35.5 253h0m-45-90h0m-14.5 59h0m4.5-12.5h0m-7 25h0m18-75h0m-4.5-14.5h0m38.5-17.5h0m46 29.5h0m-38.5 37.5h0m-68.5 28.5h0m29.5 17.5h0m-18-228h0m-17.5 133h0m26 92.5h0m25.5-32h0m-42.5 30.5h0m16.5 14h0" stroke="#000" stroke-width="4.4"/><path d="M920 301h0m-54-2h0m-1 27.5h0m6.5 50.5h0m-1-42.5h0m15-13h0m21.5 37.5h0m-44.5-63h0m24.5 32.5h0m3.5 23h0m12.5 14.5h0m-34.5-73h0m6 46h0m38.5 38h0m-44.5-172.5h0m15 141.5h0m30-49h0m-39.5 49h0m-8.5 23.5h0m19.5-109.5h0m8.5 117.5h0m80.5-250h0m-35.5 253h0m-45-90h0m-14.5 59h0m4.5-12.5h0m-7 25h0m18-75h0m-4.5-14.5h0m38.5-17.5h0m46 29.5h0m-38.5 37.5h0m-68.5 28.5h0m29.5 17.5h0m-18-228h0m-17.5 133h0m26 92.5h0m25.5-32h0m-42.5 30.5h0m16.5 14h0" stroke="#f0261c" stroke-width="3.5"/>
<path d="M910 287.5h0m73.5 68h0m-107.5-12h0m-11.5 30h0m81-197.5h0m-84 92h0m25.5 109.5h0m-5-21h0m9-13.5h0m-0.5 26.5h0m-11.5-40.5h0m35.5-17.5h0m-44.5-2h0m38 46h0m-2-32.5h0m11 58.5h0m-27-54.5h0m-10.5-8h0m46.5 53h0m-32-68h0m-29 41h0m78-101h0m-65.5 42.5h0m-7 64.5h0m30 22h0m0.5-36h0m-6 16h0m8 12h0m2-221h0m-36.5 200h0m15-11h0m23-52.5h0m16 63.5h0m-3.5-68.5h0m34 4.5h0m-10.5 29.5h0m-61-17h0m5 74.5h0m-17-98h0m2.5 74h0" stroke="#000" stroke-width="4.4"/><path d="M910 287.5h0m73.5 68h0m-107.5-12h0m-11.5 30h0m81-197.5h0m-84 92h0m25.5 109.5h0m-5-21h0m9-13.5h0m-0.5 26.5h0m-11.5-40.5h0m35.5-17.5h0m-44.5-2h0m38 46h0m-2-32.5h0m11 58.5h0m-27-54.5h0m-10.5-8h0m46.5 53h0m-32-68h0m-29 41h0m78-101h0m-65.5 42.5h0m-7 64.5h0m30 22h0m0.5-36h0m-6 16h0m8 12h0m2-221h0m-36.5 200h0m15-11h0m23-52.5h0m16 63.5h0m-3.5-68.5h0m34 4.5h0m-10.5 29.5h0m-61-17h0m5 74.5h0m-17-98h0m2.5 74h0" stroke="#f0261c" stroke-width="3.5"/>
<path d="M870 341.5h0m31.5 38.5h0m-2-81h0m11 43h0m-24.5 37.5h0m54-218h0m-26.5 216.5h0m-1.5-30h0m20-2.5h0m-37.5 15.5h0m-17.5-51.5h0m44 33.5h0m-39-55.5h0m-8 76.5h0m39.5 11.5h0m-27.5-22h0m2-4h0m-16.5 20.5h0m108-146.5h0m-89 139.5h0m-6-79.5h0m34-23h0m-19 103.5h0m-30-1h0m11.5-72h0m83 78.5h0m-91-37.5h0m26.5-19h0m-27.5 69h0m-1.5-36h0m26.5-6.5h0m-12.5-16h0m-7.5-12.5h0m44-195h0m-45.5 177h0m32 88.5h0m23-115.5h0m-51.5 22.5h0m-11 52.5h0m-1 36.5h0" stroke="#000" stroke-width="4.4"/><path d="M870 341.5h0m31.5 38.5h0m-2-81h0m11 43h0m-24.5 37.5h0m54-218h0m-26.5 216.5h0m-1.5-30h0m20-2.5h0m-37.5 15.5h0m-17.5-51.5h0m44 33.5h0m-39-55.5h0m-8 76.5h0m39.5 11.5h0m-27.5-22h0m2-4h0m-16.5 20.5h0m108-146.5h0m-89 139.5h0m-6-79.5h0m34-23h0m-19 103.5h0m-30-1h0m11.5-72h0m83 78.5h0m-91-37.5h0m26.5-19h0m-27.5 69h0m-1.5-36h0m26.5-6.5h0m-12.5-16h0m-7.5-12.5h0m44-195h0m-45.5 177h0m32 88.5h0m23-115.5h0m-51.5 22.5h0m-11 52.5h0m-1 36.5h0" stroke="#f0261c" stroke-width="3.5"/>
<path d="M878 343h0m5.5-77h0m-14 53.5h0m12.5-34h0m62.5 49.5h0m-80.5 10h0m29.5-20.5h0m12-223h0m-36.5 281.5h0m27.5-57.5h0m-14.5 16.5h0m-5.5-4.5h0m-9-38h0m6 55h0m-4-69h0m3 77.5h0m-5.5 17h0m9.5-31.5h0m24.5 32h0m-4-181h0m1.5 101h0m47-157.5h0m-73 236.5h0m3-40h0m-9 14h0m23 24.5h0m-3-139h0m95 83.5h0m-77-60h0m12 117.5h0m-36.5-9.5h0m6-41.5h0m27.5 29.5h0m-8.5-157h0m56 176.5h0m-95.5-47.5h0m18.5-4.5h0m-9.5 15h0m8.5-109h0m-6.5 109h0" stroke="#000" stroke-width="4.4"/><path d="M878 343h0m5.5-77h0m-14 53.5h0m12.5-34h0m62.5 49.5h0m-80.5 10h0m29.5-20.5h0m12-223h0m-36.5 281.5h0m27.5-57.5h0m-14.5 16.5h0m-5.5-4.5h0m-9-38h0m6 55h0m-4-69h0m3 77.5h0m-5.5 17h0m9.5-31.5h0m24.5 32h0m-4-181h0m1.5 101h0m47-157.5h0m-73 236.5h0m3-40h0m-9 14h0m23 24.5h0m-3-139h0m95 83.5h0m-77-60h0m12 117.5h0m-36.5-9.5h0m6-41.5h0m27.5 29.5h0m-8.5-157h0m56 176.5h0m-95.5-47.5h0m18.5-4.5h0m-9.5 15h0m8.5-109h0m-6.5 109h0" stroke="#f0261c" stroke-width="3.5"/>
<path d="M912.5 336h0m-2 40h0m-28.5-128.5h0m0.5 47.5h0m57.5 49.5h0m-45.5-4.5h0m-31.5 16.5h0m12.5-18.5h0m27 41h0m-40-156.5h0m14 158.5h0m6.5-5h0m-5.5-22.5h0m2.5 21.5h0m-9.5 4h0m16.5-21h0m9 23.5h0m-22-48.5h0m25.5-149h0m-37.5 180.5h0m6.5-32.5h0m33 34.5h0m63.5-203h0m-69-21h0m7 66.5h0m-20.5-26h0m-20 187h0m24.5-178.5h0m10.5 125.5h0m33 39h0m-28.5-57.5h0m-33.5 68h0m28.5-84.5h0m-8 23h0m-3.5-15.5h0m100 69.5h0m-120-147h0m16.5 155.5h0m-1.5-89h0m-12-32.5h0" stroke="#000" stroke-width="4.4"/><path d="M912.5 336h0m-2 40h0m-28.5-128.5h0m0.5 47.5h0m57.5 49.5h0m-45.5-4.5h0m-31.5 16.5h0m12.5-18.5h0m27 41h0m-40-156.5h0m14 158.5h0m6.5-5h0m-5.5-22.5h0m2.5 21.5h0m-9.5 4h0m16.5-21h0m9 23.5h0m-22-48.5h0m25.5-149h0m-37.5 180.5h0m6.5-32.5h0m33 34.5h0m63.5-203h0m-69-21h0m7 66.5h0m-20.5-26h0m-20 187h0m24.5-178.5h0m10.5 125.5h0m33 39h0m-28.5-57.5h0m-33.5 68h0m28.5-84.5h0m-8 23h0m-3.5-15.5h0m100 69.5h0m-120-147h0m16.5 155.5h0m-1.5-89h0m-12-32.5h0" stroke="#f0261c" stroke-width="3.5"/>
<path d="M882 377h0m-2.5-58h0m4-44h0m77.5-112.5h0m-85.5 204.5h0m8.5 3h0m-20-122h0m21.5 117h0m7-63h0m47.5 2.5h0m-11-10h0m29.5 74h0m-11-9.5h0m-69-6.5h0m36-118.5h0m-8 47.5h0m-19 68.5h0m1.5-64h0m54-187.5h0m-37.5 249.5h0m-20-7h0m53-53h0m-24.5 64h0m55-206h0m-90 210h0m104-205h0m-122 71h0m59.5 119.5h0m-2.5-91h0m-39 125.5h0m-8-43h0m-9-3h0m6.5-209h0m9 251.5h0m40.5 1h0m-22-130.5h0m-23 56.5h0m12.5 60.5h0m9 15h0m-18.5-9.5h0" stroke="#000" stroke-width="4.4"/><path d="M882 377h0m-2.5-58h0m4-44h0m77.5-112.5h0m-85.5 204.5h0m8.5 3h0m-20-122h0m21.5 117h0m7-63h0m47.5 2.5h0m-11-10h0m29.5 74h0m-11-9.5h0m-69-6.5h0m36-118.5h0m-8 47.5h0m-19 68.5h0m1.5-64h0m54-187.5h0m-37.5 249.5h0m-20-7h0m53-53h0m-24.5 64h0m55-206h0m-90 210h0m104-205h0m-122 71h0m59.5 119.5h0m-2.5-91h0m-39 125.5h0m-8-43h0m-9-3h0m6.5-209h0m9 251.5h0m40.5 1h0m-22-130.5h0m-23 56.5h0m12.5 60.5h0m9 15h0m-18.5-9.5h0" stroke="#f0261c" stroke-width="3.5"/>
<path d="M941.5 105.5h0m-66 190h0m-2.5-31h0m-9 99h0m30-16.5h0m-7.5 32.5h0m2.5 0h0m4-7h0m27-142h0m-11 50.5h0m-30.5-23h0m29 107h0m-44.5-135.5h0m102-47h0m-48.5 158h0m15-8.5h0m-37 34h0m-13.5-37h0m-0.5-36.5h0m9 34.5h0m8.5 53h0m-29.5-119.5h0m70 43.5h0m-68.5 39h0m17.5-113.5h0m18.5 27h0m-37.5 122h0m49.5 4.5h0m-55.5-11h0m28.5-17.5h0m47.5 17h0m-28-3h0m-33-58.5h0m23 55h0m-22-50.5h0m59.5 40.5h0m-70-81.5h0m-5 53h0m11 45.5h0m-12.5-38h0" stroke="#000" stroke-width="4.4"/><path d="M941.5 105.5h0m-66 190h0m-2.5-31h0m-9 99h0m30-16.5h0m-7.5 32.5h0m2.5 0h0m4-7h0m27-142h0m-11 50.5h0m-30.5-23h0m29 107h0m-44.5-135.5h0m102-47h0m-48.5 158h0m15-8.5h0m-37 34h0m-13.5-37h0m-0.5-36.5h0m9 34.5h0m8.5 53h0m-29.5-119.5h0m70 43.5h0m-68.5 39h0m17.5-113.5h0m18.5 27h0m-37.5 122h0m49.5 4.5h0m-55.5-11h0m28.5-17.5h0m47.5 17h0m-28-3h0m-33-58.5h0m23 55h0m-22-50.5h0m59.5 40.5h0m-70-81.5h0m-5 53h0m11 45.5h0m-12.5-38h0" stroke="#f0261c" stroke-width="3.5"/>
<path d="M903 373h0m-39-141h0m38 79.5h0m-27-2h0m4 6.5h0m-9.5-10h0m-8.5-13h0m56.5 31.5h0m-35.5 52h0m20.5-42h0m-11.5 0h0m35.5 5h0m-37.5 10h0m-5 26.5h0m-4.5-64h0m26.5 34h0m-44-159h0m33 185.5h0m-25-58h0m108-81.5h0m-75 123.5h0m-29-42.5h0m-8-33.5h0m82.5-179.5h0m-62 267h0m57-240h0m-61.5 183h0m35 37h0m2-146h0m11.5-82.5h0m21.5 56.5h0m-45.5 187h0m-11 8.5h0m-4-91h0m5.5 70.5h0m-5-73.5h0m-31.5 103.5h0m10-144h0m49-71.5h0m-37 172h0" stroke="#000" stroke-width="4.4"/><path d="M903 373h0m-39-141h0m38 79.5h0m-27-2h0m4 6.5h0m-9.5-10h0m-8.5-13h0m56.5 31.5h0m-35.5 52h0m20.5-42h0m-11.5 0h0m35.5 5h0m-37.5 10h0m-5 26.5h0m-4.5-64h0m26.5 34h0m-44-159h0m33 185.5h0m-25-58h0m108-81.5h0m-75 123.5h0m-29-42.5h0m-8-33.5h0m82.5-179.5h0m-62 267h0m57-240h0m-61.5 183h0m35 37h0m2-146h0m11.5-82.5h0m21.5 56.5h0m-45.5 187h0m-11 8.5h0m-4-91h0m5.5 70.5h0m-5-73.5h0m-31.5 103.5h0m10-144h0m49-71.5h0m-37 172h0" stroke="#f0261c" stroke-width="3.5"/>
<path d="M862.5 347.5h0m11.5 9h0m-1-158h0m17-94.5h0m6.5 37h0m-34.5 52h0m85 187h0m-82-72.5h0m1 8.5h0m105.5-28.5h0m-23.5 58h0m-71.5 26h0m-12-10h0m33.5-77h0m-23.5 47.5h0m87.5-221.5h0m-56 113.5h0m-20.5 139h0m-9.5-10.5h0m6 23h0m-18.5-58.5h0m80.5 44.5h0m-42.5-40.5h0m28 52.5h0m-29.5-113h0m-3-127.5h0m24.5 110.5h0m-42 71h0m-18.5-14h0m2.5-23h0m31 49h0m4.5 20.5h0m-26 26.5h0m-3 6h0m70.5 2h0m-11-24.5h0m-64.5-46.5h0m2-70h0m6 60h0m-6.5 29h0" stroke="#000" stroke-width="4.4"/><path d="M862.5 347.5h0m11.5 9h0m-1-158h0m17-94.5h0m6.5 37h0m-34.5 52h0m85 187h0m-82-72.5h0m1 8.5h0m105.5-28.5h0m-23.5 58h0m-71.5 26h0m-12-10h0m33.5-77h0m-23.5 47.5h0m87.5-221.5h0m-56 113.5h0m-20.5 139h0m-9.5-10.5h0m6 23h0m-18.5-58.5h0m80.5 44.5h0m-42.5-40.5h0m28 52.5h0m-29.5-113h0m-3-127.5h0m24.5 110.5h0m-42 71h0m-18.5-14h0m2.5-23h0m31 49h0m4.5 20.5h0m-26 26.5h0m-3 6h0m70.5 2h0m-11-24.5h0m-64.5-46.5h0m2-70h0m6 60h0m-6.5 29h0" stroke="#f0261c" stroke-width="3.5"/>
<path d="M868 381.5h0m17.5-233h0m-19.5 204.5h0m-4.5-66h0m5.5 86.5h0m7.5-20h0m76 10.5h0m-79-14h0m-1-7.5h0m18.5-97h0m-11.5 115h0m-2.5-32.5h0m1.5-4.5h0m20.5-149.5h0m-22.5 168h0m62.5-166h0m-74.5 115.5h0m31.5 80h0m33.5-179h0m-20 174h0m60.5-102.5h0m-94 109h0m-8-184.5h0m15.5 152.5h0m-2.5 16.5h0m-16-7.5h0m74.5 16.5h0m-76 8h0m71.5-144.5h0m-27 135h0m49-8h0m-81-167h0m-8 137.5h0m32 35.5h0m-7-2.5h0m23.5-123h0m-49 114.5h0m53.5 28.5h0m-57-7h0m28 0.5h0" stroke="#000" stroke-width="4.4"/><path d="M868 381.5h0m17.5-233h0m-19.5 204.5h0m-4.5-66h0m5.5 86.5h0m7.5-20h0m76 10.5h0m-79-14h0m-1-7.5h0m18.5-97h0m-11.5 115h0m-2.5-32.5h0m1.5-4.5h0m20.5-149.5h0m-22.5 168h0m62.5-166h0m-74.5 115.5h0m31.5 80h0m33.5-179h0m-20 174h0m60.5-102.5h0m-94 109h0m-8-184.5h0m15.5 152.5h0m-2.5 16.5h0m-16-7.5h0m74.5 16.5h0m-76 8h0m71.5-144.5h0m-27 135h0m49-8h0m-81-167h0m-8 137.5h0m32 35.5h0m-7-2.5h0m23.5-123h0m-49 114.5h0m53.5 28.5h0m-57-7h0m28 0.5h0" stroke="#f0261c" stroke-width="3.5"/>
<path d="M885 339.5h0m1-91.5h0m10.5 132.5h0m37.5-13.5h0m-17.5-5h0m6-160.5h0m10-17.5h0m-39.5 182.5h0m-1-254.5h0m26.5 240h0m-56.5-37h0m4 46h0m22.5-9.5h0m-1-106h0m-8.5 8.5h0m0.5-9h0m21.5-53h0m17.5 90.5h0m-33-184h0m54 46.5h0m-35 219h0m-9.5-187.5h0m9 205h0m-38-29.5h0m45 7.5h0m-49-40.5h0m100 9.5h0m-55.5-208h0m-3.5 244h0m70.5-198.5h0m-102.5 183.5h0m-0.5-51h0m14.5 70.5h0m-11-213h0m35 219.5h0m-35.5-56h0m-8.5-10.5h0m-2-89h0m8 102h0m-0.5-19h0" stroke="#000" stroke-width="4.4"/><path d="M885 339.5h0m1-91.5h0m10.5 132.5h0m37.5-13.5h0m-17.5-5h0m6-160.5h0m10-17.5h0m-39.5 182.5h0m-1-254.5h0m26.5 240h0m-56.5-37h0m4 46h0m22.5-9.5h0m-1-106h0m-8.5 8.5h0m0.5-9h0m21.5-53h0m17.5 90.5h0m-33-184h0m54 46.5h0m-35 219h0m-9.5-187.5h0m9 205h0m-38-29.5h0m45 7.5h0m-49-40.5h0m100 9.5h0m-55.5-208h0m-3.5 244h0m70.5-198.5h0m-102.5 183.5h0m-0.5-51h0m14.5 70.5h0m-11-213h0m35 219.5h0m-35.5-56h0m-8.5-10.5h0m-2-89h0m8 102h0m-0.5-19h0" stroke="#f0261c" stroke-width="3.5"/>
<path d="M868.5 266.5h0m10.5 113h0m-12-7.5h0m61-178.5h0m-47 91h0m3 29.5h0m16 66h0m15-20.5h0m-14 4h0m-24.5-27h0m21.5-90h0m-5.5 98.5h0m-4.5-81h0m96.5 21.5h0m-102 61h0m41-9.5h0m46-201h0m-109 204h0m50.5 1h0m-41.5-28.5h0m74.5-130.5h0m-7-52h0m37 174.5h0m-103.5-139.5h0m97.5 92.5h0m-5.5 31h0m-102 7.5h0m43.5 84.5h0m-43.5-252.5h0m12 114.5h0m-10.5 93h0m62.5-236h0m-58.5 189h0m11.5 52.5h0m10.5-8h0m78.5 25.5h0m-104.5-24.5h0m42.5-226h0m-17 178.5h0m-23-78.5h0" stroke="#000" stroke-width="4.4"/><path d="M868.5 266.5h0m10.5 113h0m-12-7.5h0m61-178.5h0m-47 91h0m3 29.5h0m16 66h0m15-20.5h0m-14 4h0m-24.5-27h0m21.5-90h0m-5.5 98.5h0m-4.5-81h0m96.5 21.5h0m-102 61h0m41-9.5h0m46-201h0m-109 204h0m50.5 1h0m-41.5-28.5h0m74.5-130.5h0m-7-52h0m37 174.5h0m-103.5-139.5h0m97.5 92.5h0m-5.5 31h0m-102 7.5h0m43.5 84.5h0m-43.5-252.5h0m12 114.5h0m-10.5 93h0m62.5-236h0m-58.5 189h0m11.5 52.5h0m10.5-8h0m78.5 25.5h0m-104.5-24.5h0m42.5-226h0m-17 178.5h0m-23-78.5h0" stroke="#f0261c" stroke-width="3.5"/>
<path d="M916.5 353.5h0m-44-55.5h0m72.5-82h0m-82 124.5h0m45-63h0m-28 71h0m17 23h0m9-256.5h0m5 170.5h0m28 5.5h0m-5-182.5h0m-61 245h0m28.5-5.5h0m-9-13.5h0m-3.5 28.5h0m-5-42.5h0m56.5 50h0m-72-52.5h0m-2-6h0m25-136h0m75 88.5h0m-9.5 10h0m-75.5 108h0m14.5-2h0m-19.5-18h0m4-22.5h0m-10.5-27.5h0m6.5 27h0m-9.5-7.5h0m31.5 19h0m-33-18.5h0m26.5-75.5h0m-8.5 66h0m55 47.5h0m-44-110.5h0m-24 96h0m8-27.5h0m-8.5 20h0m-5.5-45.5h0m20.5 44.5h0" stroke="#000" stroke-width="4.4"/><path d="M916.5 353.5h0m-44-55.5h0m72.5-82h0m-82 124.5h0m45-63h0m-28 71h0m17 23h0m9-256.5h0m5 170.5h0m28 5.5h0m-5-182.5h0m-61 245h0m28.5-5.5h0m-9-13.5h0m-3.5 28.5h0m-5-42.5h0m56.5 50h0m-72-52.5h0m-2-6h0m25-136h0m75 88.5h0m-9.5 10h0m-75.5 108h0m14.5-2h0m-19.5-18h0m4-22.5h0m-10.5-27.5h0m6.5 27h0m-9.5-7.5h0m31.5 19h0m-33-18.5h0m26.5-75.5h0m-8.5 66h0m55 47.5h0m-44-110.5h0m-24 96h0m8-27.5h0m-8.5 20h0m-5.5-45.5h0m20.5 44.5h0" stroke="#f0261c" stroke-width="3.5"/>
<path d="M877.5 267h0m1.5 78.5h0m27.5-69.5h0m-34 97h0m55-83h0m46.5 74.5h0m-105.5-82h0m112.5-28h0m-78.5 83h0m-2 14h0m4 13h0m-17-46.5h0m16.5-211h0m-18.5 83.5h0m0 160h0m66-78h0m-80 49.5h0m32.5 44.5h0m-15-62h0m-6 50h0m-9.5 7h0m24.5-176.5h0m-19.5 187.5h0m85.5-73.5h0m-90.5 41h0m7.5-9h0m7 33h0m6-202.5h0m90.5-19.5h0m-124 4h0m83.5 92.5h0m-78 138.5h0m-0.5-9.5h0m7-22h0m88.5-247h0m-94.5 251h0m8.5-61h0m-13.5 52h0m17.5 30.5h0m5-74.5h0" stroke="#000" stroke-width="4.4"/><path d="M877.5 267h0m1.5 78.5h0m27.5-69.5h0m-34 97h0m55-83h0m46.5 74.5h0m-105.5-82h0m112.5-28h0m-78.5 83h0m-2 14h0m4 13h0m-17-46.5h0m16.5-211h0m-18.5 83.5h0m0 160h0m66-78h0m-80 49.5h0m32.5 44.5h0m-15-62h0m-6 50h0m-9.5 7h0m24.5-176.5h0m-19.5 187.5h0m85.5-73.5h0m-90.5 41h0m7.5-9h0m7 33h0m6-202.5h0m90.5-19.5h0m-124 4h0m83.5 92.5h0m-78 138.5h0m-0.5-9.5h0m7-22h0m88.5-247h0m-94.5 251h0m8.5-61h0m-13.5 52h0m17.5 30.5h0m5-74.5h0" stroke="#f0261c" stroke-width="3.5"/>
<path d="M982.5 103h0m-83.5 245.5h0m24.5-46h0m-55.5-6.5h0m26.5-109h0m-27 169.5h0m5.5-11.5h0m21.5-14.5h0m-14-44h0m-15 38.5h0m26 21.5h0m20-9.5h0m-25 9.5h0m-5-112.5h0m34.5-72h0m-34.5 197.5h0m25.5-108h0m-9-11h0m-33 112.5h0m-4-34.5h0m22 20h0m-20 15h0m55 4h0m-54-235.5h0m7.5 125h0m14.5 31h0m-24 105h0m19.5-17h0m95-241.5h0m-103.5 202.5h0m50-58h0m-17.5-44h0m-18.5 65h0m16-26.5h0m45.5-148h0m6.5 43.5h0m-79 205.5h0m24.5 7.5h0m-1-45.5h0m-25.5-49.5h0" stroke="#000" stroke-width="4.4"/><path d="M982.5 103h0m-83.5 245.5h0m24.5-46h0m-55.5-6.5h0m26.5-109h0m-27 169.5h0m5.5-11.5h0m21.5-14.5h0m-14-44h0m-15 38.5h0m26 21.5h0m20-9.5h0m-25 9.5h0m-5-112.5h0m34.5-72h0m-34.5 197.5h0m25.5-108h0m-9-11h0m-33 112.5h0m-4-34.5h0m22 20h0m-20 15h0m55 4h0m-54-235.5h0m7.5 125h0m14.5 31h0m-24 105h0m19.5-17h0m95-241.5h0m-103.5 202.5h0m50-58h0m-17.5-44h0m-18.5 65h0m16-26.5h0m45.5-148h0m6.5 43.5h0m-79 205.5h0m24.5 7.5h0m-1-45.5h0m-25.5-49.5h0" stroke="#f0261c" stroke-width="3.5"/>
<path d="M862 336.5h0m13.5-60.5h0m53.5 102.5h0m-53.5-36h0m1.5-38.5h0m42.5-69.5h0m-20.5 129.5h0m-35-237h0m7 218h0m-0.5-18h0m-5 51.5h0m7.5-96h0m31-114h0m-22.5 77h0m11.5 92.5h0m-20-73.5h0m1 86h0m11.5 8h0m67.5-10.5h0m-59.5-42h0m-29 49.5h0m16.5-227h0m75 33h0m-65 190h0m-8.5-31.5h0m36.5 13.5h0m-54-20h0m4.5 59h0m32-29h0m43 1h0m-79 14h0m61-30h0m-26 16h0m-0.5 10h0m-20-51.5h0m52 59h0m-59.5-61.5h0m95.5-135h0m-76.5 91h0m12.5 79.5h0" stroke="#000" stroke-width="4.4"/><path d="M862 336.5h0m13.5-60.5h0m53.5 102.5h0m-53.5-36h0m1.5-38.5h0m42.5-69.5h0m-20.5 129.5h0m-35-237h0m7 218h0m-0.5-18h0m-5 51.5h0m7.5-96h0m31-114h0m-22.5 77h0m11.5 92.5h0m-20-73.5h0m1 86h0m11.5 8h0m67.5-10.5h0m-59.5-42h0m-29 49.5h0m16.5-227h0m75 33h0m-65 190h0m-8.5-31.5h0m36.5 13.5h0m-54-20h0m4.5 59h0m32-29h0m43 1h0m-79 14h0m61-30h0m-26 16h0m-0.5 10h0m-20-51.5h0m52 59h0m-59.5-61.5h0m95.5-135h0m-76.5 91h0m12.5 79.5h0" stroke="#f0261c" stroke-width="3.5"/>
<path d="M908.5 294h0m-24.5-63h0m-5.5 88.5h0m11.5 25h0m36.5-28h0m34.5-156.5h0m-93.5 125.5h0m109.5-131h0m-95.5 219.5h0m-8-17.5h0m64-150.5h0m-49 167h0m86.5-222h0m-56 34h0m-17.5 189h0m-33.5-36.5h0m35-63.5h0m5 101h0m-46-65h0m33-67h0m-29 69.5h0m73.5-41h0m-65 80.5h0m-9-30.5h0m71.5-118h0m-39 39h0m26 48h0m-41 87.5h0m-5.5-35h0m-10.5 11h0m48.5-18.5h0m10.5-16h0m16.5-203h0m-65 260.5h0m101.5-247h0m-118.5 222h0m19-47h0m22.5 32.5h0m-10 18h0m-20.5-64.5h0" stroke="#000" stroke-width="4.4"/><path d="M908.5 294h0m-24.5-63h0m-5.5 88.5h0m11.5 25h0m36.5-28h0m34.5-156.5h0m-93.5 125.5h0m109.5-131h0m-95.5 219.5h0m-8-17.5h0m64-150.5h0m-49 167h0m86.5-222h0m-56 34h0m-17.5 189h0m-33.5-36.5h0m35-63.5h0m5 101h0m-46-65h0m33-67h0m-29 69.5h0m73.5-41h0m-65 80.5h0m-9-30.5h0m71.5-118h0m-39 39h0m26 48h0m-41 87.5h0m-5.5-35h0m-10.5 11h0m48.5-18.5h0m10.5-16h0m16.5-203h0m-65 260.5h0m101.5-247h0m-118.5 222h0m19-47h0m22.5 32.5h0m-10 18h0m-20.5-64.5h0" stroke="#f0261c" stroke-width="3.5"/>
<path d="M884 375h0m11.5-47h0m6-20h0m6 59.5h0m-45-130.5h0m50.5-120h0m-35 236.5h0m-16.5-72h0m29 81.5h0m25-87h0m-16 8.5h0m40.5 27.5h0m-65.5-47h0m32 72.5h0m-34-37h0m-9 9h0m116.5-149h0m-98.5 205h0m25-15.5h0m-44-11h0m10-66.5h0m-10 42h0m2 36h0m2-160h0m7.5 145h0m37.5 14.5h0m-34.5-15.5h0m21 8h0m24-51h0m-42 25h0m41-55.5h0m-36 117.5h0m69-160h0m-81 96h0m8.5-32h0m-6 91.5h0m42.5-68h0m49.5-14h0m-69 36.5h0m45.5-99h0" stroke="#000" stroke-width="4.4"/><path d="M884 375h0m11.5-47h0m6-20h0m6 59.5h0m-45-130.5h0m50.5-120h0m-35 236.5h0m-16.5-72h0m29 81.5h0m25-87h0m-16 8.5h0m40.5 27.5h0m-65.5-47h0m32 72.5h0m-34-37h0m-9 9h0m116.5-149h0m-98.5 205h0m25-15.5h0m-44-11h0m10-66.5h0m-10 42h0m2 36h0m2-160h0m7.5 145h0m37.5 14.5h0m-34.5-15.5h0m21 8h0m24-51h0m-42 25h0m41-55.5h0m-36 117.5h0m69-160h0m-81 96h0m8.5-32h0m-6 91.5h0m42.5-68h0m49.5-14h0m-69 36.5h0m45.5-99h0" stroke="#f0261c" stroke-width="3.5"/>
<path d="M891 297.5h0m83.5-166.5h0m-87 223.5h0m26.5-235.5h0m-11 193h0m4 47h0m5-30.5h0m-37-72.5h0m8.5-42h0m-22.5 167h0m33.5 1h0m12.5-171.5h0m-25.5 21.5h0m-15 117.5h0m108-182.5h0m-96.5 189.5h0m38-170h0m-42 196.5h0m-11-66.5h0m27.5 45.5h0m-9.5-45h0m6-31.5h0m-19-159.5h0m6 206.5h0m-3.5 42h0m25.5-75.5h0m50.5 77.5h0m-47-38.5h0m24.5-32.5h0m-58.5 48h0m30-61h0m37.5 59h0m-52.5-16.5h0m-4 45h0m29.5-44.5h0m15 46.5h0m-9.5-38h0m3 12.5h0m-10-112h0m13 37.5h0" stroke="#000" stroke-width="4.4"/><path d="M891 297.5h0m83.5-166.5h0m-87 223.5h0m26.5-235.5h0m-11 193h0m4 47h0m5-30.5h0m-37-72.5h0m8.5-42h0m-22.5 167h0m33.5 1h0m12.5-171.5h0m-25.5 21.5h0m-15 117.5h0m108-182.5h0m-96.5 189.5h0m38-170h0m-42 196.5h0m-11-66.5h0m27.5 45.5h0m-9.5-45h0m6-31.5h0m-19-159.5h0m6 206.5h0m-3.5 42h0m25.5-75.5h0m50.5 77.5h0m-47-38.5h0m24.5-32.5h0m-58.5 48h0m30-61h0m37.5 59h0m-52.5-16.5h0m-4 45h0m29.5-44.5h0m15 46.5h0m-9.5-38h0m3 12.5h0m-10-112h0m13 37.5h0" stroke="#f0261c" stroke-width="3.5"/>
<path d="M934 257.5h0m-7 60.5h0m-44.5-32h0m8 96h0m-0.5-97.5h0m20 48h0m-35.5 47h0m-9.5-116h0m34 36h0m-18.5 35h0m45-204h0m-38 214.5h0m-8-22h0m3 23h0m-15.5-32h0m23.5 67.5h0m-21-90.5h0m-4.5 45.5h0m56.5-15h0m-23.5 42.5h0m-22.5 3.5h0m22-51h0m-29.5 49.5h0m42.5 6h0m-34-90.5h0m1.5-165h0m63.5-2.5h0m-47.5 249.5h0m-1-78h0m-29 21h0m-2.5 43h0m31.5 33h0m-12-47h0m-16-2.5h0m28 13.5h0m-5.5-37.5h0m15 44.5h0m-28-4.5h0m88.5 1h0m-95.5 13h0" stroke="#000" stroke-width="4.4"/><path d="M934 257.5h0m-7 60.5h0m-44.5-32h0m8 96h0m-0.5-97.5h0m20 48h0m-35.5 47h0m-9.5-116h0m34 36h0m-18.5 35h0m45-204h0m-38 214.5h0m-8-22h0m3 23h0m-15.5-32h0m23.5 67.5h0m-21-90.5h0m-4.5 45.5h0m56.5-15h0m-23.5 42.5h0m-22.5 3.5h0m22-51h0m-29.5 49.5h0m42.5 6h0m-34-90.5h0m1.5-165h0m63.5-2.5h0m-47.5 249.5h0m-1-78h0m-29 21h0m-2.5 43h0m31.5 33h0m-12-47h0m-16-2.5h0m28 13.5h0m-5.5-37.5h0m15 44.5h0m-28-4.5h0m88.5 1h0m-95.5 13h0" stroke="#f0261c" stroke-width="3.5"/>
<path d="M879 353h0m-4-6h0m54.5 15h0m-55.5-31h0m47.5-109.5h0m26.5 14h0m-29 81.5h0m-31.5-12.5h0m-3 64.5h0m-11.5-168.5h0m13.5 176.5h0m-15.5-24h0m7.5-23h0m69.5-2h0m-13 32.5h0m-38-5h0m-2-13.5h0m-0.5-30h0m-13.5 32.5h0m43.5-37h0m-55.5 11h0m13-31.5h0m-12.5 36h0m8 1h0m4.5 38h0m-5-14h0m3.5-82.5h0m43.5 70h0m-17.5 40h0m-25-135.5h0m2.5 134.5h0m-5.5 0h0m-15-27.5h0m49.5-22.5h0m-3 22.5h0m-41 8h0m25-70h0m-24.5 75.5h0m8-17.5h0m18-168.5h0" stroke="#000" stroke-width="4.4"/><path d="M879 353h0m-4-6h0m54.5 15h0m-55.5-31h0m47.5-109.5h0m26.5 14h0m-29 81.5h0m-31.5-12.5h0m-3 64.5h0m-11.5-168.5h0m13.5 176.5h0m-15.5-24h0m7.5-23h0m69.5-2h0m-13 32.5h0m-38-5h0m-2-13.5h0m-0.5-30h0m-13.5 32.5h0m43.5-37h0m-55.5 11h0m13-31.5h0m-12.5 36h0m8 1h0m4.5 38h0m-5-14h0m3.5-82.5h0m43.5 70h0m-17.5 40h0m-25-135.5h0m2.5 134.5h0m-5.5 0h0m-15-27.5h0m49.5-22.5h0m-3 22.5h0m-41 8h0m25-70h0m-24.5 75.5h0m8-17.5h0m18-168.5h0" stroke="#f0261c" stroke-width="3.5"/>
<path d="M923.5 196.5h0m39.5-31.5h0m-90.5 208.5h0m31.5-14.5h0m-23.5-37.5h0m34 36h0m-21-116.5h0m-7.5 98.5h0m-8.5-104h0m84.5 118h0m-37-37.5h0m-1-160.5h0m-42-21.5h0m-21.5 189.5h0m0.5-129h0m8.5 98h0m32 3.5h0m-13-30h0m-4 4h0m-6.5-18.5h0m22.5 92h0m66.5-21.5h0m1-89.5h0m-80.5 8.5h0m-5.5 91.5h0m-7 48.5h0m59.5-101h0m-70 3.5h0m-1.5 11h0m-0.5 13.5h0m82-49.5h0m4.5-105h0m-88 61.5h0m50.5 105h0m-49.5 52.5h0m76-33h0m-67-44h0m54.5-54.5h0m-60.5 137.5h0m111.5-52h0" stroke="#000" stroke-width="4.4"/><path d="M923.5 196.5h0m39.5-31.5h0m-90.5 208.5h0m31.5-14.5h0m-23.5-37.5h0m34 36h0m-21-116.5h0m-7.5 98.5h0m-8.5-104h0m84.5 118h0m-37-37.5h0m-1-160.5h0m-42-21.5h0m-21.5 189.5h0m0.5-129h0m8.5 98h0m32 3.5h0m-13-30h0m-4 4h0m-6.5-18.5h0m22.5 92h0m66.5-21.5h0m1-89.5h0m-80.5 8.5h0m-5.5 91.5h0m-7 48.5h0m59.5-101h0m-70 3.5h0m-1.5 11h0m-0.5 13.5h0m82-49.5h0m4.5-105h0m-88 61.5h0m50.5 105h0m-49.5 52.5h0m76-33h0m-67-44h0m54.5-54.5h0m-60.5 137.5h0m111.5-52h0" stroke="#f0261c" stroke-width="3.5"/>
<path d="M868.5 275.5h0m14.5-11.5h0m25.5-47h0m-40 159h0m33.5-98h0m-35.5 19h0m44 64.5h0m-36.5-1h0m14-96.5h0m1 53h0m-2 56h0m-19-143.5h0m54 108.5h0m38.5-239h0m-84.5 256h0m-5.5 11.5h0m-9-31h0m90.5-50h0m-69 2.5h0m-21 71.5h0m-0.5-86.5h0m40 101h0m57-53h0m-31-106.5h0m-64.5 147.5h0m17-83h0m16.5 45h0m-32-8h0m87.5 32h0m-90.5-28.5h0m20.5 60h0m-12-42h0m37 42h0m-4-22.5h0m-16-7.5h0m21.5-52.5h0m-26.5 28h0m17-89h0m44.5 42.5h0m-15 91.5h0" stroke="#000" stroke-width="4.4"/><path d="M868.5 275.5h0m14.5-11.5h0m25.5-47h0m-40 159h0m33.5-98h0m-35.5 19h0m44 64.5h0m-36.5-1h0m14-96.5h0m1 53h0m-2 56h0m-19-143.5h0m54 108.5h0m38.5-239h0m-84.5 256h0m-5.5 11.5h0m-9-31h0m90.5-50h0m-69 2.5h0m-21 71.5h0m-0.5-86.5h0m40 101h0m57-53h0m-31-106.5h0m-64.5 147.5h0m17-83h0m16.5 45h0m-32-8h0m87.5 32h0m-90.5-28.5h0m20.5 60h0m-12-42h0m37 42h0m-4-22.5h0m-16-7.5h0m21.5-52.5h0m-26.5 28h0m17-89h0m44.5 42.5h0m-15 91.5h0" stroke="#f0261c" stroke-width="3.5"/>
<path d="M882.5 289h0m29 25.5h0m-50 64.5h0m16.5-30h0m-12-96h0m1.5 103.5h0m61.5-42h0m2 31h0m-50-186.5h0m63 214.5h0m-73.5-245h0m25 202.5h0m37 48h0m-41-22.5h0m6.5-71.5h0m-8 2.5h0m26.5 20h0m-14-66.5h0m-7-109h0m5 246h0m27-263.5h0m-33 165.5h0m13.5 59h0m-5.5-22.5h0m-12-173h0m-16.5 220.5h0m-3-73h0m8.5 46h0m12.5-35h0m-20.5 70h0m-9-12.5h0m97.5-245.5h0m-22.5 22.5h0m-16 186.5h0m-51-197h0m49 139h0m-56.5 72h0m31-20h0m19.5 59h0m-30.5-33.5h0" stroke="#000" stroke-width="4.4"/><path d="M882.5 289h0m29 25.5h0m-50 64.5h0m16.5-30h0m-12-96h0m1.5 103.5h0m61.5-42h0m2 31h0m-50-186.5h0m63 214.5h0m-73.5-245h0m25 202.5h0m37 48h0m-41-22.5h0m6.5-71.5h0m-8 2.5h0m26.5 20h0m-14-66.5h0m-7-109h0m5 246h0m27-263.5h0m-33 165.5h0m13.5 59h0m-5.5-22.5h0m-12-173h0m-16.5 220.5h0m-3-73h0m8.5 46h0m12.5-35h0m-20.5 70h0m-9-12.5h0m97.5-245.5h0m-22.5 22.5h0m-16 186.5h0m-51-197h0m49 139h0m-56.5 72h0m31-20h0m19.5 59h0m-30.5-33.5h0" stroke="#f0261c" stroke-width="3.5"/>
<path d="M868.5 306.5h0m22.5 60h0m-18.5-22h0m55-24h0m-54-75.5h0m-8 33.5h0m31.5-38h0m-7 129.5h0m8.5-12h0m62.5-6h0m-95.5 6.5h0m-0.5-2h0m-1.5-38h0m42.5 26.5h0m-33.5 23h0m-10-107h0m48.5 99.5h0m21-167.5h0m-51.5 171h0m7.5-29h0m33-10.5h0m-30.5-131h0m65.5 100.5h0m-75 58.5h0m30.5-28h0m4 39h0m-46.5-61.5h0m-6.5-38h0m58.5-1h0m-57.5 114.5h0m1.5-9.5h0m77.5-22.5h0m-25.5 14.5h0m-27.5 17h0m2-79.5h0m-3.5-7.5h0m-21.5 19.5h0m25.5-97h0m9 52.5h0m-5.5-11.5h0" stroke="#000" stroke-width="4.4"/><path d="M868.5 306.5h0m22.5 60h0m-18.5-22h0m55-24h0m-54-75.5h0m-8 33.5h0m31.5-38h0m-7 129.5h0m8.5-12h0m62.5-6h0m-95.5 6.5h0m-0.5-2h0m-1.5-38h0m42.5 26.5h0m-33.5 23h0m-10-107h0m48.5 99.5h0m21-167.5h0m-51.5 171h0m7.5-29h0m33-10.5h0m-30.5-131h0m65.5 100.5h0m-75 58.5h0m30.5-28h0m4 39h0m-46.5-61.5h0m-6.5-38h0m58.5-1h0m-57.5 114.5h0m1.5-9.5h0m77.5-22.5h0m-25.5 14.5h0m-27.5 17h0m2-79.5h0m-3.5-7.5h0m-21.5 19.5h0m25.5-97h0m9 52.5h0m-5.5-11.5h0" stroke="#f0261c" stroke-width="3.5"/>
<path d="M863.5 352.5h0m-3 30h0m5-49.5h0m33.5-44.5h0m-20.5 76h0m25-4h0m-25.5-36.5h0m2.5-84.5h0m5.5 25h0m33 110.5h0m-44.5-14.5h0m15.5-35h0m21.5-40h0m-40.5 80.5h0m21.5 1h0m24-18h0m-37.5-97h0m-13 89h0m30.5-72h0m-16 66h0m31-40.5h0m-35.5 84.5h0m16-177.5h0m12.5 159h0m18.5 3h0m-17-47.5h0m-25.5 21h0m0.5 42.5h0m-13-45h0m56.5-98.5h0m-62 86.5h0m4 11.5h0m56.5 10h0m-22.5 22.5h0m-40 2h0m42.5 6h0m-11.5-42h0m-29.5-42.5h0m4-2.5h0m11.5-4.5h0" stroke="#000" stroke-width="4.4"/><path d="M863.5 352.5h0m-3 30h0m5-49.5h0m33.5-44.5h0m-20.5 76h0m25-4h0m-25.5-36.5h0m2.5-84.5h0m5.5 25h0m33 110.5h0m-44.5-14.5h0m15.5-35h0m21.5-40h0m-40.5 80.5h0m21.5 1h0m24-18h0m-37.5-97h0m-13 89h0m30.5-72h0m-16 66h0m31-40.5h0m-35.5 84.5h0m16-177.5h0m12.5 159h0m18.5 3h0m-17-47.5h0m-25.5 21h0m0.5 42.5h0m-13-45h0m56.5-98.5h0m-62 86.5h0m4 11.5h0m56.5 10h0m-22.5 22.5h0m-40 2h0m42.5 6h0m-11.5-42h0m-29.5-42.5h0m4-2.5h0m11.5-4.5h0" stroke="#f0261c" stroke-width="3.5"/>
<path d="M884 229.5h0m7.5 113.5h0m0.5 6h0m-17.5-3h0m9-114h0m-10 112.5h0m-6 31.5h0m1.5-57h0m-7 12.5h0m6-2.5h0m7 25h0m17.5-77.5h0m-22.5 22.5h0m1.5 60h0m45.5-249h0m-48.5 227h0m0.5-24h0m31 54h0m37.5-211h0m-36.5 110h0m-4 74.5h0m8 33h0m-32-206h0m18.5 181h0m30-25h0m-3 53.5h0m-44-6.5h0m23.5 12h0m13.5-100.5h0m-6-1h0m48 8h0m-56.5 89h0m30.5-31h0m-40.5 11h0m-15-82h0m26 105h0m-31.5-22.5h0m38.5 10.5h0m42.5-73h0m-76.5 25h0" stroke="#000" stroke-width="4.4"/><path d="M884 229.5h0m7.5 113.5h0m0.5 6h0m-17.5-3h0m9-114h0m-10 112.5h0m-6 31.5h0m1.5-57h0m-7 12.5h0m6-2.5h0m7 25h0m17.5-77.5h0m-22.5 22.5h0m1.5 60h0m45.5-249h0m-48.5 227h0m0.5-24h0m31 54h0m37.5-211h0m-36.5 110h0m-4 74.5h0m8 33h0m-32-206h0m18.5 181h0m30-25h0m-3 53.5h0m-44-6.5h0m23.5 12h0m13.5-100.5h0m-6-1h0m48 8h0m-56.5 89h0m30.5-31h0m-40.5 11h0m-15-82h0m26 105h0m-31.5-22.5h0m38.5 10.5h0m42.5-73h0m-76.5 25h0" stroke="#f0261c" stroke-width="3.5"/>
<path d="M909 332.5h0m-38.5 18.5h0m59 3.5h0m-28.5-34h0m4.5 59h0m-15-35h0m-25.5-28.5h0m65.5 29h0m37-60h0m-7.5-53.5h0m-90.5 143.5h0m-1-38.5h0m-1-52.5h0m81.5 40h0m-73 53h0m105.5-227.5h0m-84.5 221.5h0m-29-21h0m12 32h0m61-282h0m-68 227.5h0m7-26h0m-3.5-134h0m-5.5 181.5h0m5.5 31h0m15-110.5h0m-10.5 99h0m45.5-49.5h0m-3-54.5h0m-50 117h0" stroke="#000" stroke-width="4.4"/><path d="M909 332.5h0m-38.5 18.5h0m59 3.5h0m-28.5-34h0m4.5 59h0m-15-35h0m-25.5-28.5h0m65.5 29h0m37-60h0m-7.5-53.5h0m-90.5 143.5h0m-1-38.5h0m-1-52.5h0m81.5 40h0m-73 53h0m105.5-227.5h0m-84.5 221.5h0m-29-21h0m12 32h0m61-282h0m-68 227.5h0m7-26h0m-3.5-134h0m-5.5 181.5h0m5.5 31h0m15-110.5h0m-10.5 99h0m45.5-49.5h0m-3-54.5h0m-50 117h0" stroke="#f0261c" stroke-width="3.5"/>
</g>
<line x1="797.2" y1="80" x2="797.2" y2="430.5" stroke="#000" stroke-width="1.6" stroke-dasharray="5,4"/>
<line x1="860" y1="80" x2="860" y2="430.5" stroke="#000" stroke-width="1.6" stroke-dasharray="5,4"/>
<line x1="655.2" y1="382.9" x2="1002" y2="382.9" stroke="#000" stroke-width="1.6" stroke-dasharray="5,4"/>
<path d="M655.2 80V430.5H1002" fill="none" stroke="#000" stroke-width="2"/>
<line x1="651.2" y1="414.9" x2="655.2" y2="414.9" stroke="#444" stroke-width="1.2" />
<text x="650" y="418.9" font-size="11" text-anchor="end" fill="#4d4d4d">0</text>
<line x1="651.2" y1="335" x2="655.2" y2="335" stroke="#444" stroke-width="1.2" />
<text x="650" y="339" font-size="11" text-anchor="end" fill="#4d4d4d">5</text>
<line x1="651.2" y1="255.1" x2="655.2" y2="255.1" stroke="#444" stroke-width="1.2" />
<text x="650" y="259.1" font-size="11" text-anchor="end" fill="#4d4d4d">10</text>
<line x1="651.2" y1="175.2" x2="655.2" y2="175.2" stroke="#444" stroke-width="1.2" />
<text x="650" y="179.2" font-size="11" text-anchor="end" fill="#4d4d4d">15</text>
<line x1="651.2" y1="95.3" x2="655.2" y2="95.3" stroke="#444" stroke-width="1.2" />
<text x="650" y="99.3" font-size="11" text-anchor="end" fill="#4d4d4d">20</text>
<line x1="671.6" y1="430.5" x2="671.6" y2="434.5" stroke="#444" stroke-width="1.2" />
<text x="671.6" y="444.5" font-size="11" text-anchor="middle" fill="#4d4d4d">−5.0</text>
<line x1="750.1" y1="430.5" x2="750.1" y2="434.5" stroke="#444" stroke-width="1.2" />
<text x="750.1" y="444.5" font-size="11" text-anchor="middle" fill="#4d4d4d">−2.5</text>
<line x1="828.6" y1="430.5" x2="828.6" y2="434.5" stroke="#444" stroke-width="1.2" />
<text x="828.6" y="444.5" font-size="11" text-anchor="middle" fill="#4d4d4d">0.0</text>
<line x1="907.1" y1="430.5" x2="907.1" y2="434.5" stroke="#444" stroke-width="1.2" />
<text x="907.1" y="444.5" font-size="11" text-anchor="middle" fill="#4d4d4d">2.5</text>
<line x1="985.6" y1="430.5" x2="985.6" y2="434.5" stroke="#444" stroke-width="1.2" />
<text x="985.6" y="444.5" font-size="11" text-anchor="middle" fill="#4d4d4d">5.0</text>
<text x="904.5" y="94" font-size="12.5" fill="#e8231e">Pdgfrb</text>
<line x1="903.5" y1="91" x2="894" y2="125" stroke="#e8231e" stroke-width="1.2" />
<path d="M891.5 122 L893.5 129 L897.5 123 Z" fill="#e8231e"/>
<text x="635.3" y="253.9" font-size="13.2" font-weight="bold" text-anchor="middle" transform="rotate(-90 635.3 253.9)">−log10 (adjusted_Pvalue)</text>
<text x="828.5" y="456.5" font-size="13" text-anchor="middle" font-weight="bold">log2 (FoldChange)</text>
<text x="1020.5" y="229" font-size="13">threshold</text>
<circle cx="1030" cy="244.6" r="4.9" fill="#e8231e" stroke="#333" stroke-width="0.8"/>
<text x="1043" y="248.2" font-size="9.8" font-weight="bold">Up</text>
<circle cx="1030" cy="263.4" r="4.9" fill="#6cc33a" stroke="#333" stroke-width="0.8"/>
<text x="1043" y="267" font-size="9.8" font-weight="bold">Down</text>
<circle cx="1030" cy="282.2" r="4.9" fill="#c4c4c4" stroke="#333" stroke-width="0.8"/>
<text x="1043" y="285.8" font-size="9.8" font-weight="bold">NoSignifi</text>
<text x="684.5" y="503.6" font-size="25.5" letter-spacing="0.6">CCl<tspan font-size="16" dy="6">4</tspan><tspan dy="-6">.</tspan><tspan font-style="italic">Tgfbi</tspan><tspan font-size="16" dy="-9">-/-</tspan><tspan dy="9"> vs CCl</tspan><tspan font-size="16" dy="6">4</tspan><tspan dy="-6">.WT</tspan></text>
<g fill="none" stroke-linecap="round">
<path d="M802 734.5h0m59.5 97.5h0m-53-11h0m46 10.5h0m-37.5-5.5h0m30.5-1.5h0m-25.5 10h0m36-17.5h0m-48-14h0m41 31h0m-46.5-26h0m52.5-3.5h0m-56 15h0m58 0h0m-50.5-12h0m41.5 26h0m-39.5-27.5h0m45 11.5h0m-48 12h0m39-0.5h0m-42.5-0.5h0m41 5.5h0m-23.5-2h0m34-47h0m-41.5 41.5h0m35 1.5h0m-44.5-17h0m44 22h0m-44-35.5h0m56 28h0m-51.5-53h0m46.5-24h0m-37.5 85h0m34 1h0m-48-35.5h0m59-30h0m-61.5 39.5h0m62-29.5h0m-50 38h0m33.5 17h0" stroke="#000" stroke-width="4.2"/><path d="M802 734.5h0m59.5 97.5h0m-53-11h0m46 10.5h0m-37.5-5.5h0m30.5-1.5h0m-25.5 10h0m36-17.5h0m-48-14h0m41 31h0m-46.5-26h0m52.5-3.5h0m-56 15h0m58 0h0m-50.5-12h0m41.5 26h0m-39.5-27.5h0m45 11.5h0m-48 12h0m39-0.5h0m-42.5-0.5h0m41 5.5h0m-23.5-2h0m34-47h0m-41.5 41.5h0m35 1.5h0m-44.5-17h0m44 22h0m-44-35.5h0m56 28h0m-51.5-53h0m46.5-24h0m-37.5 85h0m34 1h0m-48-35.5h0m59-30h0m-61.5 39.5h0m62-29.5h0m-50 38h0m33.5 17h0" stroke="#f4f4f4" stroke-width="2.4"/>
<path d="M811 830h0m51.5-113h0m-46 116.5h0m38-3.5h0m-45-36.5h0m39 31.5h0m-46-9.5h0m48-29.5h0m-46.5-21.5h0m53.5 53.5h0m-51-33.5h0m50 42h0m-42-1h0m45-18.5h0m-50.5-16h0m35.5 30.5h0m-30.5-2h0m46.5 5.5h0m-59 7.5h0m53.5-20h0m-39 9h0m37-2h0m-47 15.5h0m45-35.5h0m-32.5 31h0m39-1.5h0m-46.5-6h0m33-3h0m-33.5-12h0m44 4.5h0m-45 14h0m52 5.5h0m-58.5-62h0m51 25h0m-47.5 14h0m43 18.5h0m-36 0.5h0m49.5-9.5h0m-50.5 5.5h0m47.5-12.5h0" stroke="#000" stroke-width="4.2"/><path d="M811 830h0m51.5-113h0m-46 116.5h0m38-3.5h0m-45-36.5h0m39 31.5h0m-46-9.5h0m48-29.5h0m-46.5-21.5h0m53.5 53.5h0m-51-33.5h0m50 42h0m-42-1h0m45-18.5h0m-50.5-16h0m35.5 30.5h0m-30.5-2h0m46.5 5.5h0m-59 7.5h0m53.5-20h0m-39 9h0m37-2h0m-47 15.5h0m45-35.5h0m-32.5 31h0m39-1.5h0m-46.5-6h0m33-3h0m-33.5-12h0m44 4.5h0m-45 14h0m52 5.5h0m-58.5-62h0m51 25h0m-47.5 14h0m43 18.5h0m-36 0.5h0m49.5-9.5h0m-50.5 5.5h0m47.5-12.5h0" stroke="#f4f4f4" stroke-width="2.4"/>
<path d="M809 828h0m40 5.5h0m-32.5-3h0m44.5-21h0m-41.5 18h0m25.5-4h0m-33.5-32h0m37 7h0m-32.5 13.5h0m26.5 20.5h0m-29.5-0.5h0m47.5-0.5h0m-55-11h0m52 3.5h0m-37.5 1.5h0m26.5-20h0m-29 29.5h0m38.5-4.5h0m-50.5-14h0m52.5-9h0m-53-24.5h0m51 25.5h0m-42 24h0m30-1.5h0m-32.5-4h0m45-15h0m-53.5 4.5h0m48-5h0m-45.5-53.5h0m44 31.5h0m-48.5 31.5h0m50.5-20.5h0m-48 33.5h0m48-29.5h0m-46.5 7.5h0m42.5 14h0m-26.5 5h0m31.5-38.5h0m-44 29h0m39.5 6.5h0" stroke="#000" stroke-width="4.2"/><path d="M809 828h0m40 5.5h0m-32.5-3h0m44.5-21h0m-41.5 18h0m25.5-4h0m-33.5-32h0m37 7h0m-32.5 13.5h0m26.5 20.5h0m-29.5-0.5h0m47.5-0.5h0m-55-11h0m52 3.5h0m-37.5 1.5h0m26.5-20h0m-29 29.5h0m38.5-4.5h0m-50.5-14h0m52.5-9h0m-53-24.5h0m51 25.5h0m-42 24h0m30-1.5h0m-32.5-4h0m45-15h0m-53.5 4.5h0m48-5h0m-45.5-53.5h0m44 31.5h0m-48.5 31.5h0m50.5-20.5h0m-48 33.5h0m48-29.5h0m-46.5 7.5h0m42.5 14h0m-26.5 5h0m31.5-38.5h0m-44 29h0m39.5 6.5h0" stroke="#f4f4f4" stroke-width="2.4"/>
<path d="M806.5 818.5h0m40-11h0m-38-11h0m48 21.5h0m-48.5-49.5h0m55 23h0m-51.5 42.5h0m49-17h0m-48 17h0m30-4h0m-41.5-42h0m57 10.5h0m-43 33.5h0m41 1.5h0m-47.5-17h0m46 15h0m-34-3.5h0m25-8h0m-31-3h0m44.5-14h0m-49.5 27h0m41-10.5h0m-35.5 3.5h0m40-32h0m-40.5 43.5h0m45-29h0m-57 24h0m55-90h0m-50.5 92.5h0m55-10.5h0m-58.5 11h0m40.5-10.5h0m-42.5-21.5h0m52.5 26h0m-45.5-37.5h0m52.5 38h0m-55.5-30.5h0m38 36h0m-27 1.5h0m40.5-3.5h0" stroke="#000" stroke-width="4.2"/><path d="M806.5 818.5h0m40-11h0m-38-11h0m48 21.5h0m-48.5-49.5h0m55 23h0m-51.5 42.5h0m49-17h0m-48 17h0m30-4h0m-41.5-42h0m57 10.5h0m-43 33.5h0m41 1.5h0m-47.5-17h0m46 15h0m-34-3.5h0m25-8h0m-31-3h0m44.5-14h0m-49.5 27h0m41-10.5h0m-35.5 3.5h0m40-32h0m-40.5 43.5h0m45-29h0m-57 24h0m55-90h0m-50.5 92.5h0m55-10.5h0m-58.5 11h0m40.5-10.5h0m-42.5-21.5h0m52.5 26h0m-45.5-37.5h0m52.5 38h0m-55.5-30.5h0m38 36h0m-27 1.5h0m40.5-3.5h0" stroke="#f4f4f4" stroke-width="2.4"/>
<path d="M801 835h0m59-51h0m-51.5 29.5h0m51.5-14.5h0m-41.5 14.5h0m32 2h0m-40.5-37h0m42 10h0m-32 42h0m37.5-25.5h0m-54 23h0m56.5-49.5h0m-41.5 54.5h0m37-51.5h0m-44 38h0m48.5-11h0m-50.5 4.5h0m53-41h0m-59 53.5h0m52.5-42.5h0m-50-26.5h0m39 68.5h0m-32 5.5h0m41-54.5h0m-34.5 55.5h0m31.5-46h0m-40 46h0m44-4.5h0m-33.5 0h0m38-38.5h0m-41.5 35h0m38.5-32.5h0m-45 43h0m50.5-11h0m-56.5-6.5h0m54 4.5h0m-39.5 7.5h0m33.5-35h0m-41.5 18.5h0m39-7.5h0" stroke="#000" stroke-width="4.2"/><path d="M801 835h0m59-51h0m-51.5 29.5h0m51.5-14.5h0m-41.5 14.5h0m32 2h0m-40.5-37h0m42 10h0m-32 42h0m37.5-25.5h0m-54 23h0m56.5-49.5h0m-41.5 54.5h0m37-51.5h0m-44 38h0m48.5-11h0m-50.5 4.5h0m53-41h0m-59 53.5h0m52.5-42.5h0m-50-26.5h0m39 68.5h0m-32 5.5h0m41-54.5h0m-34.5 55.5h0m31.5-46h0m-40 46h0m44-4.5h0m-33.5 0h0m38-38.5h0m-41.5 35h0m38.5-32.5h0m-45 43h0m50.5-11h0m-56.5-6.5h0m54 4.5h0m-39.5 7.5h0m33.5-35h0m-41.5 18.5h0m39-7.5h0" stroke="#f4f4f4" stroke-width="2.4"/>
<path d="M817.5 809h0m24.5 21h0m-35.5 2h0m52-46.5h0m-51-23.5h0m49-7h0m-38 75.5h0m36-16h0m-53-14h0m55 5h0m-55 12h0m57-13.5h0m-46.5 22.5h0m34 8.5h0m-32.5-6.5h0m30.5-1.5h0m-30.5-29.5h0m43.5-22h0m-42 57.5h0m41-5.5h0m-55-12h0m60.5 9h0m-41.5-1.5h0m37.5 2.5h0m-55.5-63h0m61 53h0m-57.5-20.5h0m53 26h0m-49-8h0m51 20.5h0m-47.5-6h0m46.5 3.5h0m-39 3h0m24.5-6.5h0m-42-6.5h0m41.5-0.5h0m-30.5-1.5h0m45-4.5h0m-53.5-8h0m55.5-24.5h0" stroke="#000" stroke-width="4.2"/><path d="M817.5 809h0m24.5 21h0m-35.5 2h0m52-46.5h0m-51-23.5h0m49-7h0m-38 75.5h0m36-16h0m-53-14h0m55 5h0m-55 12h0m57-13.5h0m-46.5 22.5h0m34 8.5h0m-32.5-6.5h0m30.5-1.5h0m-30.5-29.5h0m43.5-22h0m-42 57.5h0m41-5.5h0m-55-12h0m60.5 9h0m-41.5-1.5h0m37.5 2.5h0m-55.5-63h0m61 53h0m-57.5-20.5h0m53 26h0m-49-8h0m51 20.5h0m-47.5-6h0m46.5 3.5h0m-39 3h0m24.5-6.5h0m-42-6.5h0m41.5-0.5h0m-30.5-1.5h0m45-4.5h0m-53.5-8h0m55.5-24.5h0" stroke="#f4f4f4" stroke-width="2.4"/>
<path d="M802.5 789.5h0m46.5 31.5h0m-44.5-32.5h0m54-16h0m-55 38h0m53 23.5h0m-46-29h0m51.5-43h0m-50.5 67.5h0m50-35h0m-44.5 40h0m44.5-32h0m-42 21.5h0m39.5-45.5h0m-43.5 44h0m31-2.5h0m-35-19.5h0m33.5 31.5h0m-32.5 3h0m39.5-56.5h0m-34.5 30h0m30 22h0m-40-5h0m39.5 8h0m-29.5-1.5h0m44.5 1.5h0m-52.5-4h0m49 5.5h0m-45.5-27h0m29 22h0m-28-7.5h0m42.5 10h0m-53.5-7.5h0m56.5 5h0m-39.5 2.5h0m24-1h0m-25.5 2.5h0m42.5-26.5h0m-51 11h0m50 15h0" stroke="#000" stroke-width="4.2"/><path d="M802.5 789.5h0m46.5 31.5h0m-44.5-32.5h0m54-16h0m-55 38h0m53 23.5h0m-46-29h0m51.5-43h0m-50.5 67.5h0m50-35h0m-44.5 40h0m44.5-32h0m-42 21.5h0m39.5-45.5h0m-43.5 44h0m31-2.5h0m-35-19.5h0m33.5 31.5h0m-32.5 3h0m39.5-56.5h0m-34.5 30h0m30 22h0m-40-5h0m39.5 8h0m-29.5-1.5h0m44.5 1.5h0m-52.5-4h0m49 5.5h0m-45.5-27h0m29 22h0m-28-7.5h0m42.5 10h0m-53.5-7.5h0m56.5 5h0m-39.5 2.5h0m24-1h0m-25.5 2.5h0m42.5-26.5h0m-51 11h0m50 15h0" stroke="#f4f4f4" stroke-width="2.4"/>
<path d="M821.5 835h0m32.5-26.5h0m-50.5 26.5h0m48.5-9h0m-43.5 8.5h0m50.5-58h0m-52 8.5h0m53.5-13h0m-50 61h0m49-64h0m-53.5 55.5h0m57-28.5h0m-49 10h0m33.5 24.5h0m-45.5 3h0m59-17.5h0m-52.5-11h0m53 20.5h0m-41.5 1h0m27.5-1h0m-28 8.5h0m35.5-0.5h0m-39.5-7h0m29-9.5h0m-23 17h0m37-1h0m-53.5-78h0m43.5 77h0m-35-35.5h0m46 32.5h0m-57-38.5h0m60 24h0m-57 20h0m41.5-12h0m-31 8.5h0m35-9.5h0m-49-15.5h0m53-7h0m-38 11.5h0m42-33.5h0" stroke="#000" stroke-width="4.2"/><path d="M821.5 835h0m32.5-26.5h0m-50.5 26.5h0m48.5-9h0m-43.5 8.5h0m50.5-58h0m-52 8.5h0m53.5-13h0m-50 61h0m49-64h0m-53.5 55.5h0m57-28.5h0m-49 10h0m33.5 24.5h0m-45.5 3h0m59-17.5h0m-52.5-11h0m53 20.5h0m-41.5 1h0m27.5-1h0m-28 8.5h0m35.5-0.5h0m-39.5-7h0m29-9.5h0m-23 17h0m37-1h0m-53.5-78h0m43.5 77h0m-35-35.5h0m46 32.5h0m-57-38.5h0m60 24h0m-57 20h0m41.5-12h0m-31 8.5h0m35-9.5h0m-49-15.5h0m53-7h0m-38 11.5h0m42-33.5h0" stroke="#f4f4f4" stroke-width="2.4"/>
<path d="M811 817.5h0m32.5 10.5h0m-36.5-63.5h0m43.5 39.5h0m-47.5-36h0m47 22.5h0m-27.5 43h0m39-35h0m-44.5 34h0m25.5-4.5h0m-29.5 2h0m42-1h0m-45.5-4h0m40.5-15h0m-34.5 18.5h0m39.5-75.5h0m-37 77h0m31-2h0m-38.5-33h0m36 19.5h0m-35 2h0m42.5-6.5h0m-36.5 11h0m34.5-22.5h0m-44 23h0m55.5 5.5h0m-41 7h0m35-2h0m-52 0.5h0m44-17.5h0m-27.5 15h0m36.5-11.5h0m-56.5-11.5h0m58 13h0m-47.5-10h0m46.5-15.5h0m-41 33h0m32 2h0m-31-12h0m26.5 11h0" stroke="#000" stroke-width="4.2"/><path d="M811 817.5h0m32.5 10.5h0m-36.5-63.5h0m43.5 39.5h0m-47.5-36h0m47 22.5h0m-27.5 43h0m39-35h0m-44.5 34h0m25.5-4.5h0m-29.5 2h0m42-1h0m-45.5-4h0m40.5-15h0m-34.5 18.5h0m39.5-75.5h0m-37 77h0m31-2h0m-38.5-33h0m36 19.5h0m-35 2h0m42.5-6.5h0m-36.5 11h0m34.5-22.5h0m-44 23h0m55.5 5.5h0m-41 7h0m35-2h0m-52 0.5h0m44-17.5h0m-27.5 15h0m36.5-11.5h0m-56.5-11.5h0m58 13h0m-47.5-10h0m46.5-15.5h0m-41 33h0m32 2h0m-31-12h0m26.5 11h0" stroke="#f4f4f4" stroke-width="2.4"/>
<path d="M822 832.5h0m22-14.5h0m-39-32h0m53 48.5h0m-43-4h0m27 1h0m-29-24h0m35 21.5h0m-29 3h0m41.5-22h0m-55-34.5h0m51.5 45.5h0m-56 11.5h0m51-50h0m-45.5 40.5h0m54-39.5h0m-55 42.5h0m52-25.5h0m-54 11.5h0m58.5-26.5h0m-45.5 36h0m30.5-2.5h0m-33 0.5h0m45.5-48.5h0m-46.5 46h0m35 9.5h0m-36.5-19h0m42.5 23h0m-47-15.5h0m47.5 4h0m-51.5-18.5h0m54 12.5h0m-45 10.5h0m45.5-7h0m-37 16h0m22.5 2h0m-30-9h0m40 4h0m-37-4h0m33.5 3.5h0" stroke="#000" stroke-width="4.2"/><path d="M822 832.5h0m22-14.5h0m-39-32h0m53 48.5h0m-43-4h0m27 1h0m-29-24h0m35 21.5h0m-29 3h0m41.5-22h0m-55-34.5h0m51.5 45.5h0m-56 11.5h0m51-50h0m-45.5 40.5h0m54-39.5h0m-55 42.5h0m52-25.5h0m-54 11.5h0m58.5-26.5h0m-45.5 36h0m30.5-2.5h0m-33 0.5h0m45.5-48.5h0m-46.5 46h0m35 9.5h0m-36.5-19h0m42.5 23h0m-47-15.5h0m47.5 4h0m-51.5-18.5h0m54 12.5h0m-45 10.5h0m45.5-7h0m-37 16h0m22.5 2h0m-30-9h0m40 4h0m-37-4h0m33.5 3.5h0" stroke="#f4f4f4" stroke-width="2.4"/>
<path d="M810.5 801h0m32.5 34h0m-31.5-50.5h0m45 36.5h0m-55.5-25.5h0m59.5-27.5h0m-39 65h0m38-15.5h0m-57 15.5h0m60-36h0m-50.5 0h0m42.5 21h0m-37-6h0m28 18h0m-25.5 5h0m29.5-0.5h0m-38.5-9h0m30.5 8h0m-25.5-11h0m34 11.5h0m-48-24h0m55-2.5h0m-41.5 14.5h0m33 7h0m-37.5 5h0m37-31h0m-34 17h0m47 1h0m-58.5-6h0m58.5 14.5h0m-48.5-3h0m47-62h0m-41 63.5h0m28 6h0m-28 0h0m31-10.5h0m-47.5-23.5h0m57 21.5h0m-45 3.5h0m34 10h0" stroke="#000" stroke-width="4.2"/><path d="M810.5 801h0m32.5 34h0m-31.5-50.5h0m45 36.5h0m-55.5-25.5h0m59.5-27.5h0m-39 65h0m38-15.5h0m-57 15.5h0m60-36h0m-50.5 0h0m42.5 21h0m-37-6h0m28 18h0m-25.5 5h0m29.5-0.5h0m-38.5-9h0m30.5 8h0m-25.5-11h0m34 11.5h0m-48-24h0m55-2.5h0m-41.5 14.5h0m33 7h0m-37.5 5h0m37-31h0m-34 17h0m47 1h0m-58.5-6h0m58.5 14.5h0m-48.5-3h0m47-62h0m-41 63.5h0m28 6h0m-28 0h0m31-10.5h0m-47.5-23.5h0m57 21.5h0m-45 3.5h0m34 10h0" stroke="#f4f4f4" stroke-width="2.4"/>
<path d="M815 833h0m39-5h0m-49 6h0m49-34h0m-43 31.5h0m50.5 3h0m-59.5-57h0m59.5-18.5h0m-48.5 56h0m40-2.5h0m-40.5-17h0m37 22.5h0m-29 16.5h0m41-16h0m-48.5-20h0m33 24.5h0m-35.5-9.5h0m38.5 15.5h0m-47.5-25h0m53.5-2.5h0m-50 28h0m54.5-17.5h0m-41.5 18h0m45.5-71h0m-61 53h0m54 7.5h0m-51-7h0m45.5-7h0m-29.5 29h0m27.5-11.5h0m-32.5 2.5h0m36-9.5h0m-45.5-12.5h0m36 28.5h0m-24-2h0m34-44h0m-30.5 48.5h0m36-63.5h0m-57.5 34h0m42 26.5h0" stroke="#000" stroke-width="4.2"/><path d="M815 833h0m39-5h0m-49 6h0m49-34h0m-43 31.5h0m50.5 3h0m-59.5-57h0m59.5-18.5h0m-48.5 56h0m40-2.5h0m-40.5-17h0m37 22.5h0m-29 16.5h0m41-16h0m-48.5-20h0m33 24.5h0m-35.5-9.5h0m38.5 15.5h0m-47.5-25h0m53.5-2.5h0m-50 28h0m54.5-17.5h0m-41.5 18h0m45.5-71h0m-61 53h0m54 7.5h0m-51-7h0m45.5-7h0m-29.5 29h0m27.5-11.5h0m-32.5 2.5h0m36-9.5h0m-45.5-12.5h0m36 28.5h0m-24-2h0m34-44h0m-30.5 48.5h0m36-63.5h0m-57.5 34h0m42 26.5h0" stroke="#f4f4f4" stroke-width="2.4"/>
<path d="M811.5 810.5h0m51.5-59.5h0m-42.5 82.5h0m36.5-5.5h0m-48.5-11h0m46.5 6h0m-53 0.5h0m49 7.5h0m-36 1.5h0m41.5 2h0m-40.5-27h0m45 12.5h0m-55.5-34h0m51.5 18.5h0m-52 19h0m45 5.5h0m-34-5.5h0m38.5 6h0m-34.5 5.5h0m27.5-3h0m-40-41.5h0m47 15.5h0m-42.5 27.5h0m47-48h0m-40.5 44.5h0m39-34.5h0m-39.5 32.5h0m33.5-11.5h0m-47.5 13.5h0m47-54h0m-33.5 56.5h0m42-32h0m-49 20.5h0m33 2.5h0m-28 1.5h0m46.5-16.5h0m-49.5 17.5h0m36.5-10h0m-43 15.5h0m35 3.5h0" stroke="#000" stroke-width="4.2"/><path d="M811.5 810.5h0m51.5-59.5h0m-42.5 82.5h0m36.5-5.5h0m-48.5-11h0m46.5 6h0m-53 0.5h0m49 7.5h0m-36 1.5h0m41.5 2h0m-40.5-27h0m45 12.5h0m-55.5-34h0m51.5 18.5h0m-52 19h0m45 5.5h0m-34-5.5h0m38.5 6h0m-34.5 5.5h0m27.5-3h0m-40-41.5h0m47 15.5h0m-42.5 27.5h0m47-48h0m-40.5 44.5h0m39-34.5h0m-39.5 32.5h0m33.5-11.5h0m-47.5 13.5h0m47-54h0m-33.5 56.5h0m42-32h0m-49 20.5h0m33 2.5h0m-28 1.5h0m46.5-16.5h0m-49.5 17.5h0m36.5-10h0m-43 15.5h0m35 3.5h0" stroke="#f4f4f4" stroke-width="2.4"/>
<path d="M808 830.5h0m46-12.5h0m-53 3.5h0m47.5 6h0m-41.5 0h0m41-15.5h0m-38.5 21.5h0m51-3.5h0m-46-9.5h0m38.5-22.5h0m-34.5 22.5h0m28 12.5h0m-40.5-40.5h0m38.5 42.5h0m-27.5-13h0m25.5 13h0m-37-48.5h0m46 9h0m-34 17.5h0m38-33.5h0m-51 8h0m56.5 36.5h0m-39 9.5h0m37-23h0m-48.5 9.5h0m31.5 11h0m-33.5-13.5h0m53-6.5h0m-52-15.5h0m36 13h0m-38 16h0m38.5-0.5h0m-31.5 11h0m46-50h0m-58 2.5h0m49.5-11.5h0m-36 54h0m37-24.5h0m-33.5 29h0m42.5 0h0" stroke="#000" stroke-width="4.2"/><path d="M808 830.5h0m46-12.5h0m-53 3.5h0m47.5 6h0m-41.5 0h0m41-15.5h0m-38.5 21.5h0m51-3.5h0m-46-9.5h0m38.5-22.5h0m-34.5 22.5h0m28 12.5h0m-40.5-40.5h0m38.5 42.5h0m-27.5-13h0m25.5 13h0m-37-48.5h0m46 9h0m-34 17.5h0m38-33.5h0m-51 8h0m56.5 36.5h0m-39 9.5h0m37-23h0m-48.5 9.5h0m31.5 11h0m-33.5-13.5h0m53-6.5h0m-52-15.5h0m36 13h0m-38 16h0m38.5-0.5h0m-31.5 11h0m46-50h0m-58 2.5h0m49.5-11.5h0m-36 54h0m37-24.5h0m-33.5 29h0m42.5 0h0" stroke="#f4f4f4" stroke-width="2.4"/>
<path d="M805.5 816.5h0m57.5-60h0m-52 60.5h0m47 8.5h0m-36 7h0m38-25h0m-39.5 26.5h0m27.5-33h0m-33.5 23.5h0m48.5-17.5h0m-49 14h0m32.5 1h0m-26 5h0m24 7.5h0m-39.5-20.5h0m41 13.5h0m-43.5-7h0m46.5 2h0m-46.5-19h0m51 6h0m-40 12.5h0m34 1.5h0m-43.5-34.5h0m53 46h0m-53-75h0m41 72h0m-28.5 1h0m29-8.5h0m-39.5-7h0m48.5-15h0m-51-35h0m50.5 66h0m-39.5-2h0m48.5-48.5h0m-44 46.5h0m33-18.5h0m-51 10h0m57-3.5h0m-55.5-5.5h0m56.5-7h0" stroke="#000" stroke-width="4.2"/><path d="M805.5 816.5h0m57.5-60h0m-52 60.5h0m47 8.5h0m-36 7h0m38-25h0m-39.5 26.5h0m27.5-33h0m-33.5 23.5h0m48.5-17.5h0m-49 14h0m32.5 1h0m-26 5h0m24 7.5h0m-39.5-20.5h0m41 13.5h0m-43.5-7h0m46.5 2h0m-46.5-19h0m51 6h0m-40 12.5h0m34 1.5h0m-43.5-34.5h0m53 46h0m-53-75h0m41 72h0m-28.5 1h0m29-8.5h0m-39.5-7h0m48.5-15h0m-51-35h0m50.5 66h0m-39.5-2h0m48.5-48.5h0m-44 46.5h0m33-18.5h0m-51 10h0m57-3.5h0m-55.5-5.5h0m56.5-7h0" stroke="#f4f4f4" stroke-width="2.4"/>
<path d="M805.5 794h0m46 27.5h0m-44-20h0m48 20.5h0m-45-3.5h0m41 7.5h0m-31 8.5h0m25.5-0.5h0m-33-19h0m49-25h0m-60 9.5h0m60.5-29.5h0m-42.5 65h0m43-16.5h0m-56-62h0m47.5 67.5h0m-46-20h0m35.5 31h0m-31.5-38.5h0m49-36.5h0m-58.5 55.5h0m49.5 3.5h0m-42.5 10.5h0m41-9.5h0m-29 15h0m33-1.5h0m-37.5-7.5h0m41.5-73.5h0m-55 64.5h0m50-3.5h0m-53-44h0m40.5 62.5h0m-39-85h0m49 75.5h0m-35.5 9h0m45.5-47.5h0m-58 39h0m55.5 11.5h0m-49-8h0m39.5 8.5h0" stroke="#000" stroke-width="4.2"/><path d="M805.5 794h0m46 27.5h0m-44-20h0m48 20.5h0m-45-3.5h0m41 7.5h0m-31 8.5h0m25.5-0.5h0m-33-19h0m49-25h0m-60 9.5h0m60.5-29.5h0m-42.5 65h0m43-16.5h0m-56-62h0m47.5 67.5h0m-46-20h0m35.5 31h0m-31.5-38.5h0m49-36.5h0m-58.5 55.5h0m49.5 3.5h0m-42.5 10.5h0m41-9.5h0m-29 15h0m33-1.5h0m-37.5-7.5h0m41.5-73.5h0m-55 64.5h0m50-3.5h0m-53-44h0m40.5 62.5h0m-39-85h0m49 75.5h0m-35.5 9h0m45.5-47.5h0m-58 39h0m55.5 11.5h0m-49-8h0m39.5 8.5h0" stroke="#f4f4f4" stroke-width="2.4"/>
<path d="M801.5 797h0m62 17h0m-61-5.5h0m53-2h0m-40 12.5h0m31 15.5h0m-41 0h0m56.5-9.5h0m-60-2h0m56-1.5h0m-52 8h0m42 0h0m-47-76h0m50.5 23h0m-33 45.5h0m29 6h0m-33 2.5h0m41-2.5h0m-41.5 4.5h0m34.5-26.5h0m-33.5 24.5h0m27 2h0m-32-6.5h0m41.5-23.5h0m-44.5 25h0m54.5-9h0m-53 5.5h0m50.5-18.5h0m-49 25h0m33.5 1h0m-40-80h0m48.5 82h0m-35-2h0m35 2h0m-42-8.5h0m53-56.5h0m-59.5 31h0m49.5-2.5h0m-31.5 36.5h0m39-25h0" stroke="#000" stroke-width="4.2"/><path d="M801.5 797h0m62 17h0m-61-5.5h0m53-2h0m-40 12.5h0m31 15.5h0m-41 0h0m56.5-9.5h0m-60-2h0m56-1.5h0m-52 8h0m42 0h0m-47-76h0m50.5 23h0m-33 45.5h0m29 6h0m-33 2.5h0m41-2.5h0m-41.5 4.5h0m34.5-26.5h0m-33.5 24.5h0m27 2h0m-32-6.5h0m41.5-23.5h0m-44.5 25h0m54.5-9h0m-53 5.5h0m50.5-18.5h0m-49 25h0m33.5 1h0m-40-80h0m48.5 82h0m-35-2h0m35 2h0m-42-8.5h0m53-56.5h0m-59.5 31h0m49.5-2.5h0m-31.5 36.5h0m39-25h0" stroke="#f4f4f4" stroke-width="2.4"/>
<path d="M806.5 809h0m54 15.5h0m-43 5.5h0m43.5-21h0m-56-18.5h0m45.5 15.5h0m-46 7.5h0m50 4h0m-43.5 12.5h0m44.5-51.5h0m-40 47.5h0m35.5 1h0m-49-36h0m42 35h0m-30.5 0h0m31-3.5h0m-31.5-10h0m32 12.5h0m-33.5-12.5h0m32 15h0m-28 4.5h0m44.5 3h0m-51.5-9.5h0m42 2h0m-33 7.5h0m33.5-1.5h0m-29.5-7h0m25-6h0m-45.5 8h0m45-4h0m-25 1.5h0m39.5-68.5h0m-41.5 67.5h0m35-6h0m-36.5 2h0m28.5-3.5h0m-26 17.5h0m41-15h0m-49 0h0m41.5 15h0" stroke="#000" stroke-width="4.2"/><path d="M806.5 809h0m54 15.5h0m-43 5.5h0m43.5-21h0m-56-18.5h0m45.5 15.5h0m-46 7.5h0m50 4h0m-43.5 12.5h0m44.5-51.5h0m-40 47.5h0m35.5 1h0m-49-36h0m42 35h0m-30.5 0h0m31-3.5h0m-31.5-10h0m32 12.5h0m-33.5-12.5h0m32 15h0m-28 4.5h0m44.5 3h0m-51.5-9.5h0m42 2h0m-33 7.5h0m33.5-1.5h0m-29.5-7h0m25-6h0m-45.5 8h0m45-4h0m-25 1.5h0m39.5-68.5h0m-41.5 67.5h0m35-6h0m-36.5 2h0m28.5-3.5h0m-26 17.5h0m41-15h0m-49 0h0m41.5 15h0" stroke="#f4f4f4" stroke-width="2.4"/>
<path d="M804 806h0m45 22.5h0m-42-14h0m48-6.5h0m-39.5 14.5h0m39-15h0m-47 17.5h0m46.5-14.5h0m-36 18h0m30-8h0m-42 6h0m47 2.5h0m-41-42.5h0m39 39.5h0m-33.5-17.5h0m25.5 20.5h0m-30.5 0.5h0m44.5-50h0m-44 25h0m35 9h0m-29.5 14.5h0m37 1h0m-36 0h0m41.5-2.5h0m-50.5-13h0m36 14h0m-43.5-43.5h0m52 23h0m-32 27.5h0m20-6h0m-35-22.5h0m48 7.5h0m-52.5 13h0m46 3h0m-35-31.5h0m38.5-25h0m-42.5 50.5h0m45.5 10.5h0m-45.5-9h0m43-3.5h0" stroke="#000" stroke-width="4.2"/><path d="M804 806h0m45 22.5h0m-42-14h0m48-6.5h0m-39.5 14.5h0m39-15h0m-47 17.5h0m46.5-14.5h0m-36 18h0m30-8h0m-42 6h0m47 2.5h0m-41-42.5h0m39 39.5h0m-33.5-17.5h0m25.5 20.5h0m-30.5 0.5h0m44.5-50h0m-44 25h0m35 9h0m-29.5 14.5h0m37 1h0m-36 0h0m41.5-2.5h0m-50.5-13h0m36 14h0m-43.5-43.5h0m52 23h0m-32 27.5h0m20-6h0m-35-22.5h0m48 7.5h0m-52.5 13h0m46 3h0m-35-31.5h0m38.5-25h0m-42.5 50.5h0m45.5 10.5h0m-45.5-9h0m43-3.5h0" stroke="#f4f4f4" stroke-width="2.4"/>
<path d="M807 806h0m34 29h0m-28-4h0m47-3h0m-44.5 0.5h0m46.5-18.5h0m-44 22h0m31.5-33h0m-26.5 35.5h0m21-10.5h0m-40.5-8.5h0m54.5-7.5h0m-55.5-33h0m56 19.5h0m-55 24h0m53.5 0h0m-54-38.5h0m47 38h0m-49.5-29.5h0m47 35h0m-27.5 8h0m40-3.5h0m-52-31h0m54.5 16h0m-41.5 16.5h0m36-39.5h0m-54 43h0m49.5-30.5h0m-37.5 3h0m48 13.5h0m-55 15h0m49.5-96.5h0m-53 85.5h0m57.5 12h0m-53-1.5h0m43-6h0m-33-9.5h0m35.5 12h0m-44.5-1h0m45-25.5h0" stroke="#000" stroke-width="4.2"/><path d="M807 806h0m34 29h0m-28-4h0m47-3h0m-44.5 0.5h0m46.5-18.5h0m-44 22h0m31.5-33h0m-26.5 35.5h0m21-10.5h0m-40.5-8.5h0m54.5-7.5h0m-55.5-33h0m56 19.5h0m-55 24h0m53.5 0h0m-54-38.5h0m47 38h0m-49.5-29.5h0m47 35h0m-27.5 8h0m40-3.5h0m-52-31h0m54.5 16h0m-41.5 16.5h0m36-39.5h0m-54 43h0m49.5-30.5h0m-37.5 3h0m48 13.5h0m-55 15h0m49.5-96.5h0m-53 85.5h0m57.5 12h0m-53-1.5h0m43-6h0m-33-9.5h0m35.5 12h0m-44.5-1h0m45-25.5h0" stroke="#f4f4f4" stroke-width="2.4"/>
<path d="M801.5 825.5h0m47 5.5h0m-47-51.5h0m49 43h0m-46.5-15h0m51.5 12h0m-47.5 15.5h0m38.5-29.5h0m-44.5 2h0m55 9.5h0m-44 0.5h0m46.5-66.5h0m-44 74h0m37-24.5h0m-49.5-32.5h0m53 63.5h0m-35 3.5h0m35.5-26h0m-35 20.5h0m36-3.5h0m-43-6h0m35.5-2h0m-43-8h0m43 11.5h0m-41 1.5h0m33.5 7.5h0m-35.5-51.5h0m44.5 52h0m-44 3h0m46.5-2h0m-48-37.5h0m53.5 26h0m-55-7.5h0m43.5-0.5h0m-31.5-4.5h0m25 25.5h0m-20.5-5h0m35 6h0m-38-20h0m30.5-18h0" stroke="#000" stroke-width="4.2"/><path d="M801.5 825.5h0m47 5.5h0m-47-51.5h0m49 43h0m-46.5-15h0m51.5 12h0m-47.5 15.5h0m38.5-29.5h0m-44.5 2h0m55 9.5h0m-44 0.5h0m46.5-66.5h0m-44 74h0m37-24.5h0m-49.5-32.5h0m53 63.5h0m-35 3.5h0m35.5-26h0m-35 20.5h0m36-3.5h0m-43-6h0m35.5-2h0m-43-8h0m43 11.5h0m-41 1.5h0m33.5 7.5h0m-35.5-51.5h0m44.5 52h0m-44 3h0m46.5-2h0m-48-37.5h0m53.5 26h0m-55-7.5h0m43.5-0.5h0m-31.5-4.5h0m25 25.5h0m-20.5-5h0m35 6h0m-38-20h0m30.5-18h0" stroke="#f4f4f4" stroke-width="2.4"/>
<path d="M812.5 812.5h0m38.5 22.5h0m-44.5-9.5h0m48.5-25h0m-46 29.5h0m37-22.5h0m-43.5 14h0m54 0h0m-46.5-23.5h0m47 10.5h0m-52.5 12.5h0m43 7.5h0m-33.5-4.5h0m31-4.5h0m-39-15h0m53 10h0m-43.5 16.5h0m29.5-12h0m-37.5-9h0m45 7h0m-31 14.5h0m22.5-6h0m-21.5 7h0m27.5-12h0m-27 14.5h0m34-13h0m-51.5 8.5h0m37 4.5h0m-25-25h0m32.5-25h0m-44.5 2.5h0m57.5 5.5h0m-56.5-5h0m50.5 29.5h0m-50.5 15.5h0m53 0h0m-58-36h0m61-2h0m-50.5 25.5h0m41 12h0" stroke="#000" stroke-width="4.2"/><path d="M812.5 812.5h0m38.5 22.5h0m-44.5-9.5h0m48.5-25h0m-46 29.5h0m37-22.5h0m-43.5 14h0m54 0h0m-46.5-23.5h0m47 10.5h0m-52.5 12.5h0m43 7.5h0m-33.5-4.5h0m31-4.5h0m-39-15h0m53 10h0m-43.5 16.5h0m29.5-12h0m-37.5-9h0m45 7h0m-31 14.5h0m22.5-6h0m-21.5 7h0m27.5-12h0m-27 14.5h0m34-13h0m-51.5 8.5h0m37 4.5h0m-25-25h0m32.5-25h0m-44.5 2.5h0m57.5 5.5h0m-56.5-5h0m50.5 29.5h0m-50.5 15.5h0m53 0h0m-58-36h0m61-2h0m-50.5 25.5h0m41 12h0" stroke="#f4f4f4" stroke-width="2.4"/>
<path d="M803.5 829.5h0m44-1.5h0m-41.5-8h0m43.5-3h0m-35.5 14.5h0m45.5-18h0m-53 21h0m56.5-7.5h0m-54 3.5h0m41-27.5h0m-40 24.5h0m51-82.5h0m-47 77.5h0m44-0.5h0m-48.5-11h0m51.5 9.5h0m-41 11h0m38.5-10.5h0m-47.5-10h0m41-27.5h0m-40 37.5h0m49 12h0m-48.5-21h0m44.5 5h0m-45.5-35h0m50 41.5h0m-50 11.5h0m33-5.5h0m-31.5-19h0m32.5 16h0m-42 4.5h0m44-3.5h0m-39-7h0m44.5-9h0m-49-56h0m57.5 73h0m-48 6h0m29-4.5h0m-31-16h0m51 16.5h0" stroke="#000" stroke-width="4.2"/><path d="M803.5 829.5h0m44-1.5h0m-41.5-8h0m43.5-3h0m-35.5 14.5h0m45.5-18h0m-53 21h0m56.5-7.5h0m-54 3.5h0m41-27.5h0m-40 24.5h0m51-82.5h0m-47 77.5h0m44-0.5h0m-48.5-11h0m51.5 9.5h0m-41 11h0m38.5-10.5h0m-47.5-10h0m41-27.5h0m-40 37.5h0m49 12h0m-48.5-21h0m44.5 5h0m-45.5-35h0m50 41.5h0m-50 11.5h0m33-5.5h0m-31.5-19h0m32.5 16h0m-42 4.5h0m44-3.5h0m-39-7h0m44.5-9h0m-49-56h0m57.5 73h0m-48 6h0m29-4.5h0m-31-16h0m51 16.5h0" stroke="#f4f4f4" stroke-width="2.4"/>
<path d="M801 792.5h0m44.5 25.5h0m-26.5 16h0m38-3.5h0m-50-11h0m50 3.5h0m-49 9.5h0m53-56.5h0m-48 38h0m31 8.5h0m-28 8.5h0m26-1.5h0m-34.5 3.5h0m45-31h0m-32 25h0m24.5-2.5h0m-33-24h0m43-17.5h0m-50 31.5h0m42 9h0m-39.5-37h0m39 48h0m-42-40h0m41.5 35h0m-38.5-16.5h0m53-2h0m-43.5 2h0m35 14.5h0m-33.5 4h0m26.5 1.5h0m-35-0.5h0m36.5-17h0m-29-1.5h0m24.5 18h0m-23.5-7.5h0m35-26h0m-42-5.5h0m31.5 32h0m-22 5.5h0m41-5.5h0" stroke="#000" stroke-width="4.2"/><path d="M801 792.5h0m44.5 25.5h0m-26.5 16h0m38-3.5h0m-50-11h0m50 3.5h0m-49 9.5h0m53-56.5h0m-48 38h0m31 8.5h0m-28 8.5h0m26-1.5h0m-34.5 3.5h0m45-31h0m-32 25h0m24.5-2.5h0m-33-24h0m43-17.5h0m-50 31.5h0m42 9h0m-39.5-37h0m39 48h0m-42-40h0m41.5 35h0m-38.5-16.5h0m53-2h0m-43.5 2h0m35 14.5h0m-33.5 4h0m26.5 1.5h0m-35-0.5h0m36.5-17h0m-29-1.5h0m24.5 18h0m-23.5-7.5h0m35-26h0m-42-5.5h0m31.5 32h0m-22 5.5h0m41-5.5h0" stroke="#f4f4f4" stroke-width="2.4"/>
<path d="M821 835h0m35-4.5h0m-48-41.5h0m37 29.5h0m-26 14h0m32.5-33.5h0m-48.5 29.5h0m58-29h0m-39.5 28h0m27.5-9h0m-44.5 13h0m39.5 3h0m-34.5-32.5h0m39.5 8h0m-46 3.5h0m41.5 21.5h0m-25-17h0m40.5 17h0m-52.5-67h0m42 27h0m-32.5 37h0m43.5-9.5h0m-38.5 12.5h0m35.5-36.5h0m-40 27h0m31 4.5h0m-41.5-34.5h0m54 37h0m-53.5-8h0m36.5-2.5h0m-26.5 12h0m45.5-1h0m-52.5-9.5h0m36 9.5h0m-25.5-2h0m34.5-20h0m-49.5-0.5h0m47 16.5h0m-42-1h0m52-18.5h0" stroke="#000" stroke-width="4.2"/><path d="M821 835h0m35-4.5h0m-48-41.5h0m37 29.5h0m-26 14h0m32.5-33.5h0m-48.5 29.5h0m58-29h0m-39.5 28h0m27.5-9h0m-44.5 13h0m39.5 3h0m-34.5-32.5h0m39.5 8h0m-46 3.5h0m41.5 21.5h0m-25-17h0m40.5 17h0m-52.5-67h0m42 27h0m-32.5 37h0m43.5-9.5h0m-38.5 12.5h0m35.5-36.5h0m-40 27h0m31 4.5h0m-41.5-34.5h0m54 37h0m-53.5-8h0m36.5-2.5h0m-26.5 12h0m45.5-1h0m-52.5-9.5h0m36 9.5h0m-25.5-2h0m34.5-20h0m-49.5-0.5h0m47 16.5h0m-42-1h0m52-18.5h0" stroke="#f4f4f4" stroke-width="2.4"/>
<path d="M810 798.5h0m53.5-8.5h0m-42 43.5h0m23.5 1h0m-23.5-2.5h0m37.5-7h0m-42.5 7.5h0m44.5 0.5h0m-50.5-11.5h0m44.5-13.5h0m-36 23h0m29.5 3h0m-32-13h0m37-46.5h0m-40 53.5h0m40.5-1.5h0m-41-12.5h0m34.5-15h0m-41 0.5h0m57 9h0m-51.5 4h0m47.5 2.5h0m-43-3.5h0m41 21h0m-45.5-18h0m49 7h0m-41-1.5h0m41-14.5h0m-55 18h0m44 9h0m-30.5-12h0m36-8.5h0m-45.5-15.5h0m34 35.5h0m-26-9h0m40 0h0m-54-35h0m47.5-16h0m-46.5 50.5h0m57.5-60.5h0" stroke="#000" stroke-width="4.2"/><path d="M810 798.5h0m53.5-8.5h0m-42 43.5h0m23.5 1h0m-23.5-2.5h0m37.5-7h0m-42.5 7.5h0m44.5 0.5h0m-50.5-11.5h0m44.5-13.5h0m-36 23h0m29.5 3h0m-32-13h0m37-46.5h0m-40 53.5h0m40.5-1.5h0m-41-12.5h0m34.5-15h0m-41 0.5h0m57 9h0m-51.5 4h0m47.5 2.5h0m-43-3.5h0m41 21h0m-45.5-18h0m49 7h0m-41-1.5h0m41-14.5h0m-55 18h0m44 9h0m-30.5-12h0m36-8.5h0m-45.5-15.5h0m34 35.5h0m-26-9h0m40 0h0m-54-35h0m47.5-16h0m-46.5 50.5h0m57.5-60.5h0" stroke="#f4f4f4" stroke-width="2.4"/>
<path d="M813 815.5h0m37 17h0m-35.5-6.5h0m39-11h0m-51.5-15h0m51 18.5h0m-48.5-14.5h0m47.5 19.5h0m-46.5-19.5h0m45 27.5h0m-33 3.5h0m40.5-61.5h0m-49.5 61h0m42-5h0m-31-6h0m41.5-56.5h0m-57 59h0m54.5-2.5h0m-45-17.5h0m28.5 27.5h0m-31.5-4.5h0m36.5-11h0m-30.5 0.5h0m45-9h0m-53-19h0m53 21h0m-52.5 19.5h0m37-3h0m-36.5 1h0m35 2h0m-32.5-2h0m50-7.5h0m-60-22.5h0m60 12h0m-40 22.5h0m22 0h0m-23-1h0m32.5-26.5h0m-36.5 21h0m41.5 4.5h0" stroke="#000" stroke-width="4.2"/><path d="M813 815.5h0m37 17h0m-35.5-6.5h0m39-11h0m-51.5-15h0m51 18.5h0m-48.5-14.5h0m47.5 19.5h0m-46.5-19.5h0m45 27.5h0m-33 3.5h0m40.5-61.5h0m-49.5 61h0m42-5h0m-31-6h0m41.5-56.5h0m-57 59h0m54.5-2.5h0m-45-17.5h0m28.5 27.5h0m-31.5-4.5h0m36.5-11h0m-30.5 0.5h0m45-9h0m-53-19h0m53 21h0m-52.5 19.5h0m37-3h0m-36.5 1h0m35 2h0m-32.5-2h0m50-7.5h0m-60-22.5h0m60 12h0m-40 22.5h0m22 0h0m-23-1h0m32.5-26.5h0m-36.5 21h0m41.5 4.5h0" stroke="#f4f4f4" stroke-width="2.4"/>
<path d="M806 832.5h0m35.5 0.5h0m-33.5-7h0m38-3.5h0m-31.5-22h0m47 27h0m-48.5-2h0m32 0.5h0m-37 0h0m38.5 9h0m-30.5-11h0m47.5-40h0m-48 46h0m31.5-30.5h0m-24 34h0m26.5-15h0m-30.5 1h0m25.5 6.5h0m-37-61h0m52.5 35.5h0m-47 19h0m46 2.5h0m-57.5-19.5h0m60.5 26.5h0m-52-10.5h0m39.5 0h0m-39.5 6h0m38.5-3.5h0m-36 8h0m30.5-0.5h0m-36.5 2.5h0m55-1.5h0m-42 5h0m40.5-7h0m-39.5 5h0m30-16.5h0m-35.5-20h0m37 14.5h0m-45 2.5h0m52 10h0" stroke="#000" stroke-width="4.2"/><path d="M806 832.5h0m35.5 0.5h0m-33.5-7h0m38-3.5h0m-31.5-22h0m47 27h0m-48.5-2h0m32 0.5h0m-37 0h0m38.5 9h0m-30.5-11h0m47.5-40h0m-48 46h0m31.5-30.5h0m-24 34h0m26.5-15h0m-30.5 1h0m25.5 6.5h0m-37-61h0m52.5 35.5h0m-47 19h0m46 2.5h0m-57.5-19.5h0m60.5 26.5h0m-52-10.5h0m39.5 0h0m-39.5 6h0m38.5-3.5h0m-36 8h0m30.5-0.5h0m-36.5 2.5h0m55-1.5h0m-42 5h0m40.5-7h0m-39.5 5h0m30-16.5h0m-35.5-20h0m37 14.5h0m-45 2.5h0m52 10h0" stroke="#f4f4f4" stroke-width="2.4"/>
<path d="M817.5 826.5h0m43-15h0m-50-28.5h0m50-58.5h0m-54.5 78h0m46 26h0m-49-28h0m60 23.5h0m-61 3.5h0m56.5-12h0m-55-10.5h0m46-3h0m-32.5 13h0m39.5-22h0m-53.5 37.5h0m58-48.5h0m-57-2.5h0m55.5 32h0m-58 0h0m53 23h0m-42.5-2h0m29.5 2.5h0m-22-3.5h0m31-25h0m-29 25h0m22 2.5h0m-29.5-19.5h0m40 10.5h0m-33.5 7h0m32.5-10.5h0m-44.5-43.5h0m53 45h0m-54-18.5h0m51.5 12h0m-57-3.5h0m59.5-2h0m-55.5 17h0m42-7h0m-40.5-5h0m53-53.5h0" stroke="#000" stroke-width="4.2"/><path d="M817.5 826.5h0m43-15h0m-50-28.5h0m50-58.5h0m-54.5 78h0m46 26h0m-49-28h0m60 23.5h0m-61 3.5h0m56.5-12h0m-55-10.5h0m46-3h0m-32.5 13h0m39.5-22h0m-53.5 37.5h0m58-48.5h0m-57-2.5h0m55.5 32h0m-58 0h0m53 23h0m-42.5-2h0m29.5 2.5h0m-22-3.5h0m31-25h0m-29 25h0m22 2.5h0m-29.5-19.5h0m40 10.5h0m-33.5 7h0m32.5-10.5h0m-44.5-43.5h0m53 45h0m-54-18.5h0m51.5 12h0m-57-3.5h0m59.5-2h0m-55.5 17h0m42-7h0m-40.5-5h0m53-53.5h0" stroke="#f4f4f4" stroke-width="2.4"/>
<path d="M811.5 833.5h0m39.5-2.5h0m-47.5-5.5h0m54-32h0m-46.5-7h0m40 34.5h0m-49.5 7h0m56 6h0m-41.5-10h0m46-69h0m-57.5 75.5h0m51-5h0m-35.5-6.5h0m40-4.5h0m-51.5 9.5h0m42 9.5h0m-45-36.5h0m44 31h0m-49-1.5h0m53.5 6.5h0m-52-46h0m52.5 35h0m-36.5 10.5h0m39-17h0m-44 4h0m34.5-15h0m-39.5 27h0m43 1h0m-41-11.5h0m37.5-12.5h0m-34.5 7h0m43.5 17h0m-46.5-19h0m39.5 12h0m-42.5-18.5h0m54.5 20h0m-48.5-33.5h0m31 40.5h0m-23.5-2.5h0m25.5-3.5h0" stroke="#000" stroke-width="4.2"/><path d="M811.5 833.5h0m39.5-2.5h0m-47.5-5.5h0m54-32h0m-46.5-7h0m40 34.5h0m-49.5 7h0m56 6h0m-41.5-10h0m46-69h0m-57.5 75.5h0m51-5h0m-35.5-6.5h0m40-4.5h0m-51.5 9.5h0m42 9.5h0m-45-36.5h0m44 31h0m-49-1.5h0m53.5 6.5h0m-52-46h0m52.5 35h0m-36.5 10.5h0m39-17h0m-44 4h0m34.5-15h0m-39.5 27h0m43 1h0m-41-11.5h0m37.5-12.5h0m-34.5 7h0m43.5 17h0m-46.5-19h0m39.5 12h0m-42.5-18.5h0m54.5 20h0m-48.5-33.5h0m31 40.5h0m-23.5-2.5h0m25.5-3.5h0" stroke="#f4f4f4" stroke-width="2.4"/>
<path d="M810.5 828.5h0m45-28.5h0m-41.5 32.5h0m49-20.5h0m-43 22h0m38.5-18h0m-57-28h0m42.5 29.5h0m-43-75h0m55.5 14.5h0m-52 61.5h0m44.5 16.5h0m-29-6h0m24 4.5h0m-33-5h0m52-1.5h0m-54-10.5h0m43-19h0m-50.5-24.5h0m42 57h0m-31.5-47.5h0m45.5 37.5h0m-51.5 8h0m57 3h0m-40.5 4h0m38.5-13.5h0m-58-17.5h0m40 29h0m-41.5-73.5h0m53.5 73.5h0m-35-1h0m27-20.5h0m-30.5 14.5h0m27.5 2.5h0m-22 2.5h0m32-34h0m-40 6.5h0m46 9h0m-55 12h0m50-17h0" stroke="#000" stroke-width="4.2"/><path d="M810.5 828.5h0m45-28.5h0m-41.5 32.5h0m49-20.5h0m-43 22h0m38.5-18h0m-57-28h0m42.5 29.5h0m-43-75h0m55.5 14.5h0m-52 61.5h0m44.5 16.5h0m-29-6h0m24 4.5h0m-33-5h0m52-1.5h0m-54-10.5h0m43-19h0m-50.5-24.5h0m42 57h0m-31.5-47.5h0m45.5 37.5h0m-51.5 8h0m57 3h0m-40.5 4h0m38.5-13.5h0m-58-17.5h0m40 29h0m-41.5-73.5h0m53.5 73.5h0m-35-1h0m27-20.5h0m-30.5 14.5h0m27.5 2.5h0m-22 2.5h0m32-34h0m-40 6.5h0m46 9h0m-55 12h0m50-17h0" stroke="#f4f4f4" stroke-width="2.4"/>
<path d="M821 825.5h0m39-104h0m-48 94.5h0m32.5 18h0m-37-15h0m52.5-78.5h0m-58-1.5h0m40 95h0m-31.5-24.5h0m50.5-38.5h0m-56 45h0m42 15h0m-42-7.5h0m38.5-2h0m-35-16h0m45 22.5h0m-52.5-17h0m54.5-7h0m-33 29.5h0m28-0.5h0m-49-29.5h0m51-1.5h0m-49.5-16.5h0m38.5 48h0m-38-20.5h0m57.5 19.5h0m-51-40h0m40 5h0m-31.5 26.5h0m23.5 9.5h0m-35.5-1h0m46-17.5h0m-34.5 15h0m39.5-21h0m-49.5 25h0m51-21.5h0m-51 22h0m54-1h0m-52.5-11.5h0m39.5 11h0" stroke="#000" stroke-width="4.2"/><path d="M821 825.5h0m39-104h0m-48 94.5h0m32.5 18h0m-37-15h0m52.5-78.5h0m-58-1.5h0m40 95h0m-31.5-24.5h0m50.5-38.5h0m-56 45h0m42 15h0m-42-7.5h0m38.5-2h0m-35-16h0m45 22.5h0m-52.5-17h0m54.5-7h0m-33 29.5h0m28-0.5h0m-49-29.5h0m51-1.5h0m-49.5-16.5h0m38.5 48h0m-38-20.5h0m57.5 19.5h0m-51-40h0m40 5h0m-31.5 26.5h0m23.5 9.5h0m-35.5-1h0m46-17.5h0m-34.5 15h0m39.5-21h0m-49.5 25h0m51-21.5h0m-51 22h0m54-1h0m-52.5-11.5h0m39.5 11h0" stroke="#f4f4f4" stroke-width="2.4"/>
<path d="M816 807h0m30 20h0m-43.5-3.5h0m58 7h0m-46.5-4.5h0m29 7.5h0m-34.5-11h0m32.5 12.5h0m-29-17.5h0m40.5-29.5h0m-49 8h0m49.5-26h0m-38.5 55.5h0m29.5 2.5h0m-43.5-27h0m52.5 27h0m-42.5-28h0m38.5-13h0m-44 43.5h0m38.5-10.5h0m-36 7h0m41-28.5h0m-30.5 26.5h0m28 7h0m-43.5-71h0m53.5 60h0m-39 13h0m28-3.5h0m-24 1h0m25-13h0m-40 3h0m54.5-50.5h0m-58 28h0m57.5-30.5h0m-39 58h0m41.5-31h0m-51.5 29h0m44-3.5h0m-43-24.5h0m46 19.5h0" stroke="#000" stroke-width="4.2"/><path d="M816 807h0m30 20h0m-43.5-3.5h0m58 7h0m-46.5-4.5h0m29 7.5h0m-34.5-11h0m32.5 12.5h0m-29-17.5h0m40.5-29.5h0m-49 8h0m49.5-26h0m-38.5 55.5h0m29.5 2.5h0m-43.5-27h0m52.5 27h0m-42.5-28h0m38.5-13h0m-44 43.5h0m38.5-10.5h0m-36 7h0m41-28.5h0m-30.5 26.5h0m28 7h0m-43.5-71h0m53.5 60h0m-39 13h0m28-3.5h0m-24 1h0m25-13h0m-40 3h0m54.5-50.5h0m-58 28h0m57.5-30.5h0m-39 58h0m41.5-31h0m-51.5 29h0m44-3.5h0m-43-24.5h0m46 19.5h0" stroke="#f4f4f4" stroke-width="2.4"/>
<path d="M806 834h0m53-22h0m-46 11h0m35-19h0m-32.5 8.5h0m46-13.5h0m-46 30.5h0m38.5-9.5h0m-53.5-1.5h0m57.5 3.5h0m-36.5 12.5h0m41-20.5h0m-56.5 7.5h0m40.5 6.5h0m-39-13.5h0m45.5 3h0m-41.5-25h0m34 37.5h0m-24.5 1.5h0m38 3h0m-54-3h0m45.5-6.5h0m-41.5-32h0m53-10.5h0m-55-15h0m44.5 57.5h0m-31 2.5h0m39.5 5h0m-50.5-24.5h0m43 19.5h0m-50.5-43h0m40.5 47h0m-32-8.5h0m46.5-0.5h0m-41 8.5h0m36-43h0m-42.5 41h0m43.5 1.5h0m-36-8h0m44.5-55h0" stroke="#000" stroke-width="4.2"/><path d="M806 834h0m53-22h0m-46 11h0m35-19h0m-32.5 8.5h0m46-13.5h0m-46 30.5h0m38.5-9.5h0m-53.5-1.5h0m57.5 3.5h0m-36.5 12.5h0m41-20.5h0m-56.5 7.5h0m40.5 6.5h0m-39-13.5h0m45.5 3h0m-41.5-25h0m34 37.5h0m-24.5 1.5h0m38 3h0m-54-3h0m45.5-6.5h0m-41.5-32h0m53-10.5h0m-55-15h0m44.5 57.5h0m-31 2.5h0m39.5 5h0m-50.5-24.5h0m43 19.5h0m-50.5-43h0m40.5 47h0m-32-8.5h0m46.5-0.5h0m-41 8.5h0m36-43h0m-42.5 41h0m43.5 1.5h0m-36-8h0m44.5-55h0" stroke="#f4f4f4" stroke-width="2.4"/>
<path d="M801.5 752.5h0m47.5 82h0m-46.5-75.5h0m42 73h0m-29.5-25h0m33.5 25.5h0m-47-3h0m58.5-99h0m-48 95h0m32.5 3.5h0m-39.5-2h0m40-8.5h0m-40.5 9.5h0m53.5-11h0m-46 8.5h0m36-15.5h0m-41-41h0m50 64.5h0m-41 0h0m26.5 0.5h0m-36-27.5h0m44 26h0m-40.5-56h0m50.5 17.5h0m-54-12h0m38 45.5h0m-32.5-44h0m51-52.5h0m-58 97h0m42.5-7h0m-25.5 14h0m40.5-13h0m-52.5 1h0m48.5-15.5h0m-52.5-15h0m54-3h0m-44 39.5h0m36.5-60.5h0m-49.5 53h0m43.5 11h0" stroke="#000" stroke-width="4.2"/><path d="M801.5 752.5h0m47.5 82h0m-46.5-75.5h0m42 73h0m-29.5-25h0m33.5 25.5h0m-47-3h0m58.5-99h0m-48 95h0m32.5 3.5h0m-39.5-2h0m40-8.5h0m-40.5 9.5h0m53.5-11h0m-46 8.5h0m36-15.5h0m-41-41h0m50 64.5h0m-41 0h0m26.5 0.5h0m-36-27.5h0m44 26h0m-40.5-56h0m50.5 17.5h0m-54-12h0m38 45.5h0m-32.5-44h0m51-52.5h0m-58 97h0m42.5-7h0m-25.5 14h0m40.5-13h0m-52.5 1h0m48.5-15.5h0m-52.5-15h0m54-3h0m-44 39.5h0m36.5-60.5h0m-49.5 53h0m43.5 11h0" stroke="#f4f4f4" stroke-width="2.4"/>
<path d="M803 771.5h0m59.5 46h0m-57.5-2h0m49.5 16.5h0m-47.5-4h0m55-5h0m-57 11.5h0m54.5-89.5h0m-52 28.5h0m45.5 44.5h0m-51.5 10.5h0m43-14.5h0m-27.5 2.5h0m43.5-33.5h0m-51.5 26.5h0m49-12h0m-38 35h0m31.5-29h0m-38.5 23.5h0m41.5 0.5h0m-32 7.5h0m26.5-16h0m-39 7.5h0m33.5-1.5h0m-38-17h0m54 25.5h0m-38-0.5h0m36-24.5h0m-48.5 26.5h0m35-3h0m-30 1.5h0m48-77h0m-41 72h0m35.5-10h0m-37.5 11.5h0m30 2.5h0m-32 1h0m38.5 0.5h0m-52.5-41h0m42 28.5h0" stroke="#000" stroke-width="4.2"/><path d="M803 771.5h0m59.5 46h0m-57.5-2h0m49.5 16.5h0m-47.5-4h0m55-5h0m-57 11.5h0m54.5-89.5h0m-52 28.5h0m45.5 44.5h0m-51.5 10.5h0m43-14.5h0m-27.5 2.5h0m43.5-33.5h0m-51.5 26.5h0m49-12h0m-38 35h0m31.5-29h0m-38.5 23.5h0m41.5 0.5h0m-32 7.5h0m26.5-16h0m-39 7.5h0m33.5-1.5h0m-38-17h0m54 25.5h0m-38-0.5h0m36-24.5h0m-48.5 26.5h0m35-3h0m-30 1.5h0m48-77h0m-41 72h0m35.5-10h0m-37.5 11.5h0m30 2.5h0m-32 1h0m38.5 0.5h0m-52.5-41h0m42 28.5h0" stroke="#f4f4f4" stroke-width="2.4"/>
<path d="M801.5 799.5h0m50 12.5h0m-40 22h0m50.5-14h0m-58.5 6h0m53.5 5.5h0m-45-9.5h0m38.5 1h0m-29.5 4.5h0m34.5-29h0m-43.5 17.5h0m49.5-13.5h0m-39.5 31h0m23-21h0m-32.5 10h0m38.5 10.5h0m-37.5-18h0m48 0h0m-59 2.5h0m46 7.5h0m-45 7h0m54.5-19h0m-55.5 20h0m39.5 2h0m-22.5-2.5h0m41-1.5h0m-54-26.5h0m51.5 7.5h0m-44 5h0m35.5 14.5h0m-47-11h0m57.5-48.5h0m-59 63h0m43.5-18.5h0m-30.5-11.5h0m44-15.5h0m-56.5 45h0m42-12h0m-37.5 11.5h0m54-42.5h0" stroke="#000" stroke-width="4.2"/><path d="M801.5 799.5h0m50 12.5h0m-40 22h0m50.5-14h0m-58.5 6h0m53.5 5.5h0m-45-9.5h0m38.5 1h0m-29.5 4.5h0m34.5-29h0m-43.5 17.5h0m49.5-13.5h0m-39.5 31h0m23-21h0m-32.5 10h0m38.5 10.5h0m-37.5-18h0m48 0h0m-59 2.5h0m46 7.5h0m-45 7h0m54.5-19h0m-55.5 20h0m39.5 2h0m-22.5-2.5h0m41-1.5h0m-54-26.5h0m51.5 7.5h0m-44 5h0m35.5 14.5h0m-47-11h0m57.5-48.5h0m-59 63h0m43.5-18.5h0m-30.5-11.5h0m44-15.5h0m-56.5 45h0m42-12h0m-37.5 11.5h0m54-42.5h0" stroke="#f4f4f4" stroke-width="2.4"/>
<path d="M811 833.5h0m39.5-30h0m-39 19h0m50-26h0m-54.5-34h0m39.5 70h0m-39 0.5h0m43.5-51h0m-45 17.5h0m40 13h0m-40 4h0m42.5-2.5h0m-39.5 6h0m51.5-3.5h0m-52.5 6.5h0m43.5 11.5h0m-49.5-1.5h0m58-1h0m-37.5 0.5h0m32-15.5h0m-36.5 17h0m37-31.5h0m-42.5 23h0m38 5.5h0m-42.5-14.5h0m54.5-22.5h0m-55 35h0m38.5-3.5h0m-26.5 9.5h0m32.5-0.5h0m-47.5-46h0m51.5 40.5h0m-50.5-13.5h0m46 4.5h0m-45-13h0m39 23h0m-43.5-31.5h0m49.5-18.5h0m-49.5 50h0m52.5-58h0" stroke="#000" stroke-width="4.2"/><path d="M811 833.5h0m39.5-30h0m-39 19h0m50-26h0m-54.5-34h0m39.5 70h0m-39 0.5h0m43.5-51h0m-45 17.5h0m40 13h0m-40 4h0m42.5-2.5h0m-39.5 6h0m51.5-3.5h0m-52.5 6.5h0m43.5 11.5h0m-49.5-1.5h0m58-1h0m-37.5 0.5h0m32-15.5h0m-36.5 17h0m37-31.5h0m-42.5 23h0m38 5.5h0m-42.5-14.5h0m54.5-22.5h0m-55 35h0m38.5-3.5h0m-26.5 9.5h0m32.5-0.5h0m-47.5-46h0m51.5 40.5h0m-50.5-13.5h0m46 4.5h0m-45-13h0m39 23h0m-43.5-31.5h0m49.5-18.5h0m-49.5 50h0m52.5-58h0" stroke="#f4f4f4" stroke-width="2.4"/>
<path d="M806.5 832h0m55-8h0m-59-4.5h0m55.5 7h0m-44-9h0m38.5-6.5h0m-49.5 19.5h0m48.5-2.5h0m-42 0h0m51 2h0m-51-31h0m47 22h0m-50.5-17h0m46.5 11h0m-48-10h0m56-35.5h0m-50.5 49.5h0m37 3.5h0m-26 8h0m29.5-41.5h0m-36.5 19h0m38-33h0m-45 55h0m35 4h0m-26.5-35.5h0m47.5-75h0m-54 61.5h0m52.5 27h0m-50 18h0m48 4.5h0m-55-0.5h0m49.5-1.5h0m-47.5-16h0m48 17h0m-34 0h0m28.5-4.5h0m-34.5-9h0m48.5-17h0m-53.5 17h0m49.5-27h0" stroke="#000" stroke-width="4.2"/><path d="M806.5 832h0m55-8h0m-59-4.5h0m55.5 7h0m-44-9h0m38.5-6.5h0m-49.5 19.5h0m48.5-2.5h0m-42 0h0m51 2h0m-51-31h0m47 22h0m-50.5-17h0m46.5 11h0m-48-10h0m56-35.5h0m-50.5 49.5h0m37 3.5h0m-26 8h0m29.5-41.5h0m-36.5 19h0m38-33h0m-45 55h0m35 4h0m-26.5-35.5h0m47.5-75h0m-54 61.5h0m52.5 27h0m-50 18h0m48 4.5h0m-55-0.5h0m49.5-1.5h0m-47.5-16h0m48 17h0m-34 0h0m28.5-4.5h0m-34.5-9h0m48.5-17h0m-53.5 17h0m49.5-27h0" stroke="#f4f4f4" stroke-width="2.4"/>
<path d="M804 819.5h0m56 15h0m-44.5-16h0m35 15.5h0m-45.5-69.5h0m47.5 32h0m-45.5 25h0m54.5-1.5h0m-55.5-60h0m53.5 64h0m-46-24h0m39.5 32.5h0m-40.5-18h0m33.5 16h0m-38.5-21h0m52 20h0m-50 0.5h0m33.5-8.5h0m-39-7h0m38 20.5h0m-39-32h0m54.5-3h0m-49.5 5h0m48.5 22h0m-37 1h0m34 6.5h0m-50-67h0m45.5 65.5h0m-40 1.5h0m49-24.5h0m-47.5 24h0m39-5.5h0m-44.5 1.5h0m38.5-8.5h0m-38 11.5h0m54-34h0m-47.5 11.5h0m31.5 20h0m-29.5-9h0m43.5-66.5h0" stroke="#000" stroke-width="4.2"/><path d="M804 819.5h0m56 15h0m-44.5-16h0m35 15.5h0m-45.5-69.5h0m47.5 32h0m-45.5 25h0m54.5-1.5h0m-55.5-60h0m53.5 64h0m-46-24h0m39.5 32.5h0m-40.5-18h0m33.5 16h0m-38.5-21h0m52 20h0m-50 0.5h0m33.5-8.5h0m-39-7h0m38 20.5h0m-39-32h0m54.5-3h0m-49.5 5h0m48.5 22h0m-37 1h0m34 6.5h0m-50-67h0m45.5 65.5h0m-40 1.5h0m49-24.5h0m-47.5 24h0m39-5.5h0m-44.5 1.5h0m38.5-8.5h0m-38 11.5h0m54-34h0m-47.5 11.5h0m31.5 20h0m-29.5-9h0m43.5-66.5h0" stroke="#f4f4f4" stroke-width="2.4"/>
<path d="M804 810h0m40.5 18.5h0m-33.5 4.5h0m33.5-6.5h0m-37.5 1h0m56.5-17h0m-62.5-34h0m43 50h0m-24 2.5h0m38-10.5h0m-55.5-26.5h0m47 31.5h0m-48-21h0m44 25h0m-28 3.5h0m37.5-5h0m-54-19h0m53.5 0h0m-36 12.5h0m36-9.5h0m-34.5 17h0m38.5-5h0m-46.5-35h0m31.5 41h0m-36 4h0m45-34.5h0m-39 31.5h0m37-7h0m-37-1h0m43-25.5h0m-52.5 32h0m38 1h0m-30.5 3h0m42-11.5h0m-45.5 4.5h0m43.5 9.5h0m-33-8.5h0m27 6h0m-45-54.5h0m52.5 42.5h0" stroke="#000" stroke-width="4.2"/><path d="M804 810h0m40.5 18.5h0m-33.5 4.5h0m33.5-6.5h0m-37.5 1h0m56.5-17h0m-62.5-34h0m43 50h0m-24 2.5h0m38-10.5h0m-55.5-26.5h0m47 31.5h0m-48-21h0m44 25h0m-28 3.5h0m37.5-5h0m-54-19h0m53.5 0h0m-36 12.5h0m36-9.5h0m-34.5 17h0m38.5-5h0m-46.5-35h0m31.5 41h0m-36 4h0m45-34.5h0m-39 31.5h0m37-7h0m-37-1h0m43-25.5h0m-52.5 32h0m38 1h0m-30.5 3h0m42-11.5h0m-45.5 4.5h0m43.5 9.5h0m-33-8.5h0m27 6h0m-45-54.5h0m52.5 42.5h0" stroke="#f4f4f4" stroke-width="2.4"/>
<path d="M811 825.5h0m37.5 1h0m-35.5-24h0m44-38.5h0m-56 59.5h0m53.5-1h0m-35.5 11.5h0m30-39.5h0m-48 21.5h0m61-23.5h0m-59.5 19h0m56.5-26h0m-51 33.5h0m45 12.5h0m-30.5 0.5h0m39.5-32.5h0m-54-6.5h0m51.5 38h0m-39.5 2h0m30-25.5h0m-38 4.5h0m32.5 16h0m-27.5-11.5h0m30.5-4h0m-44.5 10h0m60-69.5h0m-61.5 43h0m59 20.5h0m-53.5 13h0m40 1.5h0m-45.5-62.5h0m43.5 52.5h0m-32.5 4.5h0m31.5-8.5h0m-41.5 15.5h0m60.5-21.5h0m-48 20.5h0m29.5-16h0m-39.5-15h0m38.5 26h0" stroke="#000" stroke-width="4.2"/><path d="M811 825.5h0m37.5 1h0m-35.5-24h0m44-38.5h0m-56 59.5h0m53.5-1h0m-35.5 11.5h0m30-39.5h0m-48 21.5h0m61-23.5h0m-59.5 19h0m56.5-26h0m-51 33.5h0m45 12.5h0m-30.5 0.5h0m39.5-32.5h0m-54-6.5h0m51.5 38h0m-39.5 2h0m30-25.5h0m-38 4.5h0m32.5 16h0m-27.5-11.5h0m30.5-4h0m-44.5 10h0m60-69.5h0m-61.5 43h0m59 20.5h0m-53.5 13h0m40 1.5h0m-45.5-62.5h0m43.5 52.5h0m-32.5 4.5h0m31.5-8.5h0m-41.5 15.5h0m60.5-21.5h0m-48 20.5h0m29.5-16h0m-39.5-15h0m38.5 26h0" stroke="#f4f4f4" stroke-width="2.4"/>
<path d="M804 790.5h0m43.5 30h0m-37.5-20.5h0m46.5 21.5h0m-55 7.5h0m62-37.5h0m-45 41.5h0m40.5-3.5h0m-44 1h0m46-48h0m-46 47.5h0m47.5-58h0m-44 63h0m39.5-4.5h0m-51-15h0m56-7.5h0m-60-38.5h0m43 62.5h0m-37.5-64.5h0m46.5 41h0m-37.5 22.5h0m34-27h0m-31.5 21h0m37 0.5h0m-44.5 8.5h0m50.5-113.5h0m-60.5 106.5h0m48-4.5h0m-43-36.5h0m38.5 32h0m-34 12.5h0m45 3.5h0m-38.5-1h0m35.5-31.5h0m-39.5 29.5h0m48.5-7.5h0m-54.5-4.5h0m44.5-14h0m-48.5 23h0m47.5-51h0" stroke="#000" stroke-width="4.2"/><path d="M804 790.5h0m43.5 30h0m-37.5-20.5h0m46.5 21.5h0m-55 7.5h0m62-37.5h0m-45 41.5h0m40.5-3.5h0m-44 1h0m46-48h0m-46 47.5h0m47.5-58h0m-44 63h0m39.5-4.5h0m-51-15h0m56-7.5h0m-60-38.5h0m43 62.5h0m-37.5-64.5h0m46.5 41h0m-37.5 22.5h0m34-27h0m-31.5 21h0m37 0.5h0m-44.5 8.5h0m50.5-113.5h0m-60.5 106.5h0m48-4.5h0m-43-36.5h0m38.5 32h0m-34 12.5h0m45 3.5h0m-38.5-1h0m35.5-31.5h0m-39.5 29.5h0m48.5-7.5h0m-54.5-4.5h0m44.5-14h0m-48.5 23h0m47.5-51h0" stroke="#f4f4f4" stroke-width="2.4"/>
<path d="M802 774h0m53 50.5h0m-36.5-0.5h0m40-78.5h0m-41.5 76h0m29 7h0m-31.5-15.5h0m31.5 9h0m-33.5-0.5h0m42 4h0m-36-1h0m42 8h0m-53.5-47.5h0m44.5 39h0m-41.5 3h0m41.5 7h0m-36.5-5h0m45-3.5h0m-55-4.5h0m40.5 9.5h0m-29.5-11.5h0m30.5 12h0m-43.5-1.5h0m58-12h0m-60.5 17.5h0m55-5h0m-54.5-1.5h0m57.5-9h0m-51.5-21h0m45.5 36h0m-48-71.5h0m57.5 54.5h0m-60.5 1.5h0m48.5-23h0m-40 9h0m46.5 6h0m-43.5 17h0m33-1h0m-45-58h0m50 65.5h0" stroke="#000" stroke-width="4.2"/><path d="M802 774h0m53 50.5h0m-36.5-0.5h0m40-78.5h0m-41.5 76h0m29 7h0m-31.5-15.5h0m31.5 9h0m-33.5-0.5h0m42 4h0m-36-1h0m42 8h0m-53.5-47.5h0m44.5 39h0m-41.5 3h0m41.5 7h0m-36.5-5h0m45-3.5h0m-55-4.5h0m40.5 9.5h0m-29.5-11.5h0m30.5 12h0m-43.5-1.5h0m58-12h0m-60.5 17.5h0m55-5h0m-54.5-1.5h0m57.5-9h0m-51.5-21h0m45.5 36h0m-48-71.5h0m57.5 54.5h0m-60.5 1.5h0m48.5-23h0m-40 9h0m46.5 6h0m-43.5 17h0m33-1h0m-45-58h0m50 65.5h0" stroke="#f4f4f4" stroke-width="2.4"/>
<path d="M820.5 835h0m30-14h0m-49-25h0m45 35.5h0m-43-69h0m44.5 68h0m-47-12.5h0m52 15h0m-34 1h0m36-60.5h0m-35.5 53h0m32.5-45h0m-49 0.5h0m51.5-21h0m-46.5 72h0m42.5-5h0m-43-16h0m45.5 4.5h0m-41.5 6h0m40.5 6h0m-50-28.5h0m60 33.5h0m-50.5-13.5h0m45-62h0m-49 64h0m36.5 5h0m-35.5 3h0m38.5 4.5h0m-32-8h0m34 0.5h0m-44.5-18h0m46.5-14.5h0m-45 10h0m55.5-14.5h0m-60.5 9h0m61 30h0m-54.5-20h0m55.5-31h0m-57-15h0m51.5 54.5h0" stroke="#000" stroke-width="4.2"/><path d="M820.5 835h0m30-14h0m-49-25h0m45 35.5h0m-43-69h0m44.5 68h0m-47-12.5h0m52 15h0m-34 1h0m36-60.5h0m-35.5 53h0m32.5-45h0m-49 0.5h0m51.5-21h0m-46.5 72h0m42.5-5h0m-43-16h0m45.5 4.5h0m-41.5 6h0m40.5 6h0m-50-28.5h0m60 33.5h0m-50.5-13.5h0m45-62h0m-49 64h0m36.5 5h0m-35.5 3h0m38.5 4.5h0m-32-8h0m34 0.5h0m-44.5-18h0m46.5-14.5h0m-45 10h0m55.5-14.5h0m-60.5 9h0m61 30h0m-54.5-20h0m55.5-31h0m-57-15h0m51.5 54.5h0" stroke="#f4f4f4" stroke-width="2.4"/>
<path d="M800.5 732h0m52 102.5h0m-44.5-30.5h0m44 30.5h0m-32-4h0m31.5-35.5h0m-39 21.5h0m33 10.5h0m-44 8h0m42.5-1.5h0m-30.5-5.5h0m46.5-20h0m-58.5 8.5h0m57.5-24.5h0m-52 25.5h0m44 13.5h0m-46.5-64.5h0m42 46.5h0m-43-13h0m49.5 12h0m-40.5 12.5h0m38 2.5h0m-31-5.5h0m38-32.5h0m-49.5 6.5h0m53.5 29h0m-46-6.5h0m35-6.5h0m-45.5 13h0m52-12.5h0m-52 19h0m43 0h0m-27.5-8.5h0m31.5-28h0m-50.5 38h0m52.5-13h0m-45 1h0m40-11.5h0m-27.5 17.5h0m32.5-41h0" stroke="#000" stroke-width="4.2"/><path d="M800.5 732h0m52 102.5h0m-44.5-30.5h0m44 30.5h0m-32-4h0m31.5-35.5h0m-39 21.5h0m33 10.5h0m-44 8h0m42.5-1.5h0m-30.5-5.5h0m46.5-20h0m-58.5 8.5h0m57.5-24.5h0m-52 25.5h0m44 13.5h0m-46.5-64.5h0m42 46.5h0m-43-13h0m49.5 12h0m-40.5 12.5h0m38 2.5h0m-31-5.5h0m38-32.5h0m-49.5 6.5h0m53.5 29h0m-46-6.5h0m35-6.5h0m-45.5 13h0m52-12.5h0m-52 19h0m43 0h0m-27.5-8.5h0m31.5-28h0m-50.5 38h0m52.5-13h0m-45 1h0m40-11.5h0m-27.5 17.5h0m32.5-41h0" stroke="#f4f4f4" stroke-width="2.4"/>
<path d="M806 826.5h0m40-7.5h0m-40-35h0m49.5 26.5h0m-51-10.5h0m50 20h0m-44-2.5h0m41.5-45.5h0m-37 55.5h0m29 7.5h0m-28-21.5h0m45.5-18.5h0m-58 32.5h0m40 5h0m-30.5-19.5h0m34.5 22h0m-42.5-82.5h0m42.5 77.5h0m-30-10h0m44.5-24h0m-49 0.5h0m47.5 14h0m-40 20.5h0m23-0.5h0m-34.5 2.5h0m34.5-3h0m-31-21h0m49.5-40.5h0m-39 66.5h0m32.5-4h0m-51.5-7h0m43.5 1.5h0m-46.5-1h0m53.5-21h0m-53 28h0m54-61h0m-34.5 57h0m27.5-4h0m-45-3.5h0m58.5-41.5h0" stroke="#000" stroke-width="4.2"/><path d="M806 826.5h0m40-7.5h0m-40-35h0m49.5 26.5h0m-51-10.5h0m50 20h0m-44-2.5h0m41.5-45.5h0m-37 55.5h0m29 7.5h0m-28-21.5h0m45.5-18.5h0m-58 32.5h0m40 5h0m-30.5-19.5h0m34.5 22h0m-42.5-82.5h0m42.5 77.5h0m-30-10h0m44.5-24h0m-49 0.5h0m47.5 14h0m-40 20.5h0m23-0.5h0m-34.5 2.5h0m34.5-3h0m-31-21h0m49.5-40.5h0m-39 66.5h0m32.5-4h0m-51.5-7h0m43.5 1.5h0m-46.5-1h0m53.5-21h0m-53 28h0m54-61h0m-34.5 57h0m27.5-4h0m-45-3.5h0m58.5-41.5h0" stroke="#f4f4f4" stroke-width="2.4"/>
<path d="M816.5 813.5h0m35 12h0m-40.5-37h0m44 44.5h0m-42 2h0m37.5-24h0m-33 13.5h0m25.5-0.5h0m-25.5 7.5h0m39-12.5h0m-45.5-2h0m31.5 17.5h0m-30-13h0m33 0.5h0m-35.5 5.5h0m34-6h0m-27.5 9h0m45-2h0m-55.5 0.5h0m50-42.5h0m-51 12h0m48.5 12h0m-44-19h0m46 1.5h0m-41 24h0m35 8.5h0m-42 6h0m47-46.5h0m-40 47.5h0m46.5-40h0m-42.5 41h0m43-17h0m-45.5 7h0m32 8.5h0m-35-6h0m43.5-53.5h0m-39.5 51h0m43.5 0.5h0m-46.5-5.5h0m38.5-10.5h0" stroke="#000" stroke-width="4.2"/><path d="M816.5 813.5h0m35 12h0m-40.5-37h0m44 44.5h0m-42 2h0m37.5-24h0m-33 13.5h0m25.5-0.5h0m-25.5 7.5h0m39-12.5h0m-45.5-2h0m31.5 17.5h0m-30-13h0m33 0.5h0m-35.5 5.5h0m34-6h0m-27.5 9h0m45-2h0m-55.5 0.5h0m50-42.5h0m-51 12h0m48.5 12h0m-44-19h0m46 1.5h0m-41 24h0m35 8.5h0m-42 6h0m47-46.5h0m-40 47.5h0m46.5-40h0m-42.5 41h0m43-17h0m-45.5 7h0m32 8.5h0m-35-6h0m43.5-53.5h0m-39.5 51h0m43.5 0.5h0m-46.5-5.5h0m38.5-10.5h0" stroke="#f4f4f4" stroke-width="2.4"/>
<path d="M801.5 801h0m60.5 17.5h0m-43-4h0m27.5-12.5h0m-43.5-33h0m50 9.5h0m-41.5 19.5h0m35 20h0m-41 14h0m47-9.5h0m-30 9.5h0m40-10h0m-47-0.5h0m41.5-10h0m-47.5-9h0m53-16h0m-58.5 15h0m48.5-21h0m-50.5-18.5h0m52.5 48h0m-44 22h0m42.5-42h0m-36 36h0m29-20.5h0m-37.5 21.5h0m46.5 6.5h0m-40.5-7.5h0m32.5 0.5h0m-26 6.5h0m35.5-29.5h0m-41 11.5h0m33.5 6.5h0m-32.5 9.5h0m40.5-33h0m-35.5 35.5h0m22.5-0.5h0m-37.5-13h0m44 14h0m-45-56h0m51 51.5h0" stroke="#000" stroke-width="4.2"/><path d="M801.5 801h0m60.5 17.5h0m-43-4h0m27.5-12.5h0m-43.5-33h0m50 9.5h0m-41.5 19.5h0m35 20h0m-41 14h0m47-9.5h0m-30 9.5h0m40-10h0m-47-0.5h0m41.5-10h0m-47.5-9h0m53-16h0m-58.5 15h0m48.5-21h0m-50.5-18.5h0m52.5 48h0m-44 22h0m42.5-42h0m-36 36h0m29-20.5h0m-37.5 21.5h0m46.5 6.5h0m-40.5-7.5h0m32.5 0.5h0m-26 6.5h0m35.5-29.5h0m-41 11.5h0m33.5 6.5h0m-32.5 9.5h0m40.5-33h0m-35.5 35.5h0m22.5-0.5h0m-37.5-13h0m44 14h0m-45-56h0m51 51.5h0" stroke="#f4f4f4" stroke-width="2.4"/>
<path d="M807.5 831h0m48.5-61h0m-50 49.5h0m52.5 13.5h0m-51-5.5h0m42.5-19.5h0m-49 22.5h0m49-6.5h0m-27 11h0m36.5-25.5h0m-50.5 18.5h0m45-22.5h0m-52.5 23h0m45.5 0.5h0m-46.5-16h0m55.5 7h0m-45.5-32.5h0m40.5 37h0m-39.5-3h0m37.5 2h0m-39.5 11.5h0m46 0h0m-45-10h0m39-9.5h0m-40-4.5h0m34 21.5h0m-28-11h0m38.5-8h0m-52.5 5.5h0m47 11h0m-46-22.5h0m57 13h0m-51.5 4h0m50-19.5h0m-43.5-1.5h0m31 18.5h0m-27 9.5h0m37-1.5h0m-49-53.5h0m54.5 52h0" stroke="#000" stroke-width="4.2"/><path d="M807.5 831h0m48.5-61h0m-50 49.5h0m52.5 13.5h0m-51-5.5h0m42.5-19.5h0m-49 22.5h0m49-6.5h0m-27 11h0m36.5-25.5h0m-50.5 18.5h0m45-22.5h0m-52.5 23h0m45.5 0.5h0m-46.5-16h0m55.5 7h0m-45.5-32.5h0m40.5 37h0m-39.5-3h0m37.5 2h0m-39.5 11.5h0m46 0h0m-45-10h0m39-9.5h0m-40-4.5h0m34 21.5h0m-28-11h0m38.5-8h0m-52.5 5.5h0m47 11h0m-46-22.5h0m57 13h0m-51.5 4h0m50-19.5h0m-43.5-1.5h0m31 18.5h0m-27 9.5h0m37-1.5h0m-49-53.5h0m54.5 52h0" stroke="#f4f4f4" stroke-width="2.4"/>
<path d="M810 802.5h0m42.5 14.5h0m-40.5 12.5h0m36.5-28h0m-46 20.5h0m51.5 12h0m-37-9.5h0m42.5-13h0m-50.5 23.5h0m52-17h0m-49 2h0m40 10.5h0m-43-0.5h0m42.5-34h0m-47-43.5h0m51 64h0m-34 12.5h0m41.5-15.5h0m-51.5-29.5h0m38.5 49h0m-35.5-3h0m44-87h0m-38.5 92h0m42.5-85h0m-47 77h0m40-40h0m-52.5 34.5h0m48.5-21.5h0m-41.5 34.5h0m47-3h0m-47-7h0m42 8.5h0m-30.5 1.5h0m41-34.5h0m-56.5 22.5h0m54-71.5h0m-41.5 79.5h0m34-57.5h0m-49 55.5h0m50 3.5h0" stroke="#000" stroke-width="4.2"/><path d="M810 802.5h0m42.5 14.5h0m-40.5 12.5h0m36.5-28h0m-46 20.5h0m51.5 12h0m-37-9.5h0m42.5-13h0m-50.5 23.5h0m52-17h0m-49 2h0m40 10.5h0m-43-0.5h0m42.5-34h0m-47-43.5h0m51 64h0m-34 12.5h0m41.5-15.5h0m-51.5-29.5h0m38.5 49h0m-35.5-3h0m44-87h0m-38.5 92h0m42.5-85h0m-47 77h0m40-40h0m-52.5 34.5h0m48.5-21.5h0m-41.5 34.5h0m47-3h0m-47-7h0m42 8.5h0m-30.5 1.5h0m41-34.5h0m-56.5 22.5h0m54-71.5h0m-41.5 79.5h0m34-57.5h0m-49 55.5h0m50 3.5h0" stroke="#f4f4f4" stroke-width="2.4"/>
<path d="M811 826.5h0m47-79h0m-49.5 48h0m54.5 33h0m-43.5 2h0m31-51h0m-48 55h0m58.5-23h0m-58-24h0m50.5 41.5h0m-39-5h0m44.5-25.5h0m-51 22h0m37.5 8h0m-34 1h0m44.5-24.5h0m-48 28h0m35.5-5h0m-42.5-28.5h0m57.5 33.5h0m-40-13.5h0m28.5-6h0m-29.5 21h0m31-9h0m-35.5 7h0m30.5-0.5h0m-39.5-16.5h0m58-37h0m-54 51.5h0m44-16.5h0m-32.5 21.5h0m26.5-11.5h0m-31 10h0m42-48.5h0m-50 23.5h0m50.5-18h0m-53.5 40.5h0m44 2h0m-38.5-14.5h0m48 4.5h0" stroke="#000" stroke-width="4.2"/><path d="M811 826.5h0m47-79h0m-49.5 48h0m54.5 33h0m-43.5 2h0m31-51h0m-48 55h0m58.5-23h0m-58-24h0m50.5 41.5h0m-39-5h0m44.5-25.5h0m-51 22h0m37.5 8h0m-34 1h0m44.5-24.5h0m-48 28h0m35.5-5h0m-42.5-28.5h0m57.5 33.5h0m-40-13.5h0m28.5-6h0m-29.5 21h0m31-9h0m-35.5 7h0m30.5-0.5h0m-39.5-16.5h0m58-37h0m-54 51.5h0m44-16.5h0m-32.5 21.5h0m26.5-11.5h0m-31 10h0m42-48.5h0m-50 23.5h0m50.5-18h0m-53.5 40.5h0m44 2h0m-38.5-14.5h0m48 4.5h0" stroke="#f4f4f4" stroke-width="2.4"/>
<path d="M807 768h0m44 57.5h0m-30 9h0m23.5-18.5h0m-23 18h0m28.5-22h0m-37 19.5h0m34-1h0m-41.5-24.5h0m43 10h0m-41.5-11.5h0m48.5 26h0m-53-17.5h0m56.5 0h0m-46.5 19.5h0m47.5-26h0m-47 25.5h0m39-24.5h0m-33.5 27.5h0m41.5-96.5h0m-57.5 95.5h0m53.5-0.5h0m-38.5-22.5h0m37.5 1h0m-44 11.5h0m33.5 9.5h0m-40.5-39h0m42.5 20.5h0m-33-8h0m39 21h0m-51.5-22h0m54-42h0m-36 52.5h0m39.5-1.5h0m-56-70h0m60 56h0m-50.5 30.5h0m37.5-4.5h0m-45-13h0m51.5-57h0" stroke="#000" stroke-width="4.2"/><path d="M807 768h0m44 57.5h0m-30 9h0m23.5-18.5h0m-23 18h0m28.5-22h0m-37 19.5h0m34-1h0m-41.5-24.5h0m43 10h0m-41.5-11.5h0m48.5 26h0m-53-17.5h0m56.5 0h0m-46.5 19.5h0m47.5-26h0m-47 25.5h0m39-24.5h0m-33.5 27.5h0m41.5-96.5h0m-57.5 95.5h0m53.5-0.5h0m-38.5-22.5h0m37.5 1h0m-44 11.5h0m33.5 9.5h0m-40.5-39h0m42.5 20.5h0m-33-8h0m39 21h0m-51.5-22h0m54-42h0m-36 52.5h0m39.5-1.5h0m-56-70h0m60 56h0m-50.5 30.5h0m37.5-4.5h0m-45-13h0m51.5-57h0" stroke="#f4f4f4" stroke-width="2.4"/>
<path d="M813.5 831.5h0m48-24h0m-55.5 18h0m48-35.5h0m-42.5 23.5h0m38.5-4.5h0m-41 16.5h0m38.5 8h0m-29-9h0m43.5-21.5h0m-61.5-14h0m46.5 32.5h0m-27 6h0m42 0h0m-59-2h0m48-2h0m-44-15.5h0m51-10h0m-46.5 17h0m31.5 11.5h0m-30-26h0m38.5 23.5h0m-37.5 8h0m47.5-56h0m-51.5 56.5h0m47.5-6h0m-41.5 3.5h0m38-7h0m-40-11h0m49.5 6h0m-44.5 14.5h0m24 2.5h0m-32-25.5h0m51.5 12.5h0m-54.5-52h0m50.5 33h0m-56.5 6.5h0m45 9.5h0m-43.5-17.5h0m56-2h0" stroke="#000" stroke-width="4.2"/><path d="M813.5 831.5h0m48-24h0m-55.5 18h0m48-35.5h0m-42.5 23.5h0m38.5-4.5h0m-41 16.5h0m38.5 8h0m-29-9h0m43.5-21.5h0m-61.5-14h0m46.5 32.5h0m-27 6h0m42 0h0m-59-2h0m48-2h0m-44-15.5h0m51-10h0m-46.5 17h0m31.5 11.5h0m-30-26h0m38.5 23.5h0m-37.5 8h0m47.5-56h0m-51.5 56.5h0m47.5-6h0m-41.5 3.5h0m38-7h0m-40-11h0m49.5 6h0m-44.5 14.5h0m24 2.5h0m-32-25.5h0m51.5 12.5h0m-54.5-52h0m50.5 33h0m-56.5 6.5h0m45 9.5h0m-43.5-17.5h0m56-2h0" stroke="#f4f4f4" stroke-width="2.4"/>
<path d="M812 832.5h0m43.5-30.5h0m-49-9h0m52.5 11.5h0m-55.5 6.5h0m51-17h0m-50-24h0m52-15.5h0m-38 66.5h0m28.5 8h0m-36.5-18h0m41 1.5h0m-40 17h0m33 2.5h0m-31.5-15h0m37 7h0m-46-3h0m42 5h0m-42 6.5h0m43.5-15.5h0m-41 13.5h0m46-4h0m-49.5-47h0m52.5 44.5h0m-52-6.5h0m56.5-8h0m-42 1h0m31 21.5h0m-29.5-4.5h0m29.5 7h0m-31.5 0.5h0m37-10h0m-52-59h0m47.5 68.5h0m-47 0h0m48-1h0m-41-12h0m44-30h0m-50 27.5h0m46.5 1h0" stroke="#000" stroke-width="4.2"/><path d="M812 832.5h0m43.5-30.5h0m-49-9h0m52.5 11.5h0m-55.5 6.5h0m51-17h0m-50-24h0m52-15.5h0m-38 66.5h0m28.5 8h0m-36.5-18h0m41 1.5h0m-40 17h0m33 2.5h0m-31.5-15h0m37 7h0m-46-3h0m42 5h0m-42 6.5h0m43.5-15.5h0m-41 13.5h0m46-4h0m-49.5-47h0m52.5 44.5h0m-52-6.5h0m56.5-8h0m-42 1h0m31 21.5h0m-29.5-4.5h0m29.5 7h0m-31.5 0.5h0m37-10h0m-52-59h0m47.5 68.5h0m-47 0h0m48-1h0m-41-12h0m44-30h0m-50 27.5h0m46.5 1h0" stroke="#f4f4f4" stroke-width="2.4"/>
<path d="M801.5 825h0m49.5 2h0m-30 1h0m35-73h0m-53.5 47.5h0m59.5 9.5h0m-43.5 17h0m34-0.5h0m-47.5-2.5h0m56 2.5h0m-49.5 3.5h0m51-24h0m-39.5 27h0m32.5-43.5h0m-51.5 4.5h0m40.5 24h0m-37.5-0.5h0m47-50.5h0m-52 58h0m57-7.5h0m-55.5 10.5h0m55.5-32.5h0m-42 37h0m29-5h0m-26.5-5h0m44-28.5h0m-57 24.5h0m42.5-5h0m-46.5-25.5h0m54 43h0m-54.5-5.5h0m53.5-21.5h0m-33 27.5h0m27.5-3.5h0m-38-8.5h0m49 0.5h0m-56-62.5h0m40 51.5h0m-25 20.5h0m25.5-4h0" stroke="#000" stroke-width="4.2"/><path d="M801.5 825h0m49.5 2h0m-30 1h0m35-73h0m-53.5 47.5h0m59.5 9.5h0m-43.5 17h0m34-0.5h0m-47.5-2.5h0m56 2.5h0m-49.5 3.5h0m51-24h0m-39.5 27h0m32.5-43.5h0m-51.5 4.5h0m40.5 24h0m-37.5-0.5h0m47-50.5h0m-52 58h0m57-7.5h0m-55.5 10.5h0m55.5-32.5h0m-42 37h0m29-5h0m-26.5-5h0m44-28.5h0m-57 24.5h0m42.5-5h0m-46.5-25.5h0m54 43h0m-54.5-5.5h0m53.5-21.5h0m-33 27.5h0m27.5-3.5h0m-38-8.5h0m49 0.5h0m-56-62.5h0m40 51.5h0m-25 20.5h0m25.5-4h0" stroke="#f4f4f4" stroke-width="2.4"/>
<path d="M810 818.5h0m44 5.5h0m-46-41.5h0m38 39h0m-25 8h0m29.5 1h0m-39 0.5h0m36.5 1.5h0m-32.5-3.5h0m37.5-20h0m-36 18.5h0m36 4.5h0m-40-12h0m37.5-12.5h0m-41.5-8.5h0m33.5 28h0m-25.5-10.5h0m33.5-28h0m-36.5 0.5h0m34 19.5h0m-26.5 24h0m41.5-53h0m-46 37.5h0m42-4h0m-36 21.5h0m25-10.5h0m-29.5 1.5h0m37.5-29.5h0m-54.5 29.5h0m41.5 9h0m-29-14.5h0m43.5-40h0m-44.5 23h0m45-31h0m-42 62.5h0m45-45h0m-54.5 39h0m43.5 0h0m-48.5 4h0m43.5-3h0" stroke="#000" stroke-width="4.2"/><path d="M810 818.5h0m44 5.5h0m-46-41.5h0m38 39h0m-25 8h0m29.5 1h0m-39 0.5h0m36.5 1.5h0m-32.5-3.5h0m37.5-20h0m-36 18.5h0m36 4.5h0m-40-12h0m37.5-12.5h0m-41.5-8.5h0m33.5 28h0m-25.5-10.5h0m33.5-28h0m-36.5 0.5h0m34 19.5h0m-26.5 24h0m41.5-53h0m-46 37.5h0m42-4h0m-36 21.5h0m25-10.5h0m-29.5 1.5h0m37.5-29.5h0m-54.5 29.5h0m41.5 9h0m-29-14.5h0m43.5-40h0m-44.5 23h0m45-31h0m-42 62.5h0m45-45h0m-54.5 39h0m43.5 0h0m-48.5 4h0m43.5-3h0" stroke="#f4f4f4" stroke-width="2.4"/>
<path d="M816.5 831.5h0m25 3.5h0m-31-32h0m35.5 31.5h0m-32.5-40h0m30.5 34h0m-43.5-28h0m61.5 34.5h0m-50.5-4.5h0m51.5 1.5h0m-43.5-2h0m40-46.5h0m-41 40h0m42.5 5h0m-49.5-33.5h0m36.5 11.5h0m-37.5 8.5h0m37.5 1.5h0m-46-1.5h0m44.5-1.5h0m-47 17.5h0m-6-0.5h0m5 4.5h0m0.5-4.5h0m-71.5-6.5h0m60.5 4h0m-19.5 1h0m17-1h0m-57-1h0m49 1.5h0m-10.5-3.5h0m33 6h0m-18.5-7h0m1.5 2.5h0m13 3h0m-34.5-1h0m20-4h0m14 9.5h0m-1.5-7.5h0m-31.5 5h0" stroke="#000" stroke-width="4.2"/><path d="M816.5 831.5h0m25 3.5h0m-31-32h0m35.5 31.5h0m-32.5-40h0m30.5 34h0m-43.5-28h0m61.5 34.5h0m-50.5-4.5h0m51.5 1.5h0m-43.5-2h0m40-46.5h0m-41 40h0m42.5 5h0m-49.5-33.5h0m36.5 11.5h0m-37.5 8.5h0m37.5 1.5h0m-46-1.5h0m44.5-1.5h0m-47 17.5h0m-6-0.5h0m5 4.5h0m0.5-4.5h0m-71.5-6.5h0m60.5 4h0m-19.5 1h0m17-1h0m-57-1h0m49 1.5h0m-10.5-3.5h0m33 6h0m-18.5-7h0m1.5 2.5h0m13 3h0m-34.5-1h0m20-4h0m14 9.5h0m-1.5-7.5h0m-31.5 5h0" stroke="#f4f4f4" stroke-width="2.4"/>
<path d="M771.5 829h0m19.5 3.5h0m0.5 1h0m-12.5-6.5h0m3.5 7.5h0m5.5-9.5h0m6.5 2h0m-22 1h0m25.5 4h0m-3 2h0m4.5-2h0m-10 2h0m-21.5-6h0m1.5 0h0m17.5 4.5h0m-23.5-2.5h0m11-2h0m11 5.5h0m-7.5-0.5h0m4-4h0m3.5-1.5h0m4 3h0m-76.5-1h0m46.5-1h0m29 2.5h0m-18-0.5h0m15-4.5h0m-0.5 0.5h0m10 4.5h0m0.5-3.5h0m1 7.5h0m-33-3h0m29-1.5h0m-28-6h0m29.5 8h0m-7.5 1h0m-18-2.5h0m20 2h0m3 1h0m-21.5-0.5h0" stroke="#000" stroke-width="4.2"/><path d="M771.5 829h0m19.5 3.5h0m0.5 1h0m-12.5-6.5h0m3.5 7.5h0m5.5-9.5h0m6.5 2h0m-22 1h0m25.5 4h0m-3 2h0m4.5-2h0m-10 2h0m-21.5-6h0m1.5 0h0m17.5 4.5h0m-23.5-2.5h0m11-2h0m11 5.5h0m-7.5-0.5h0m4-4h0m3.5-1.5h0m4 3h0m-76.5-1h0m46.5-1h0m29 2.5h0m-18-0.5h0m15-4.5h0m-0.5 0.5h0m10 4.5h0m0.5-3.5h0m1 7.5h0m-33-3h0m29-1.5h0m-28-6h0m29.5 8h0m-7.5 1h0m-18-2.5h0m20 2h0m3 1h0m-21.5-0.5h0" stroke="#f4f4f4" stroke-width="2.4"/>
<path d="M784 834.5h0m-28-10h0m35.5 2h0m-14 5.5h0m-6-1h0m29 2.5h0m-33.5-3h0m27.5-3h0m-18 5h0m5.5 0h0m-9-1.5h0m9.5-3h0m3 5.5h0m13.5-4h0m-15 1.5h0m-51.5-6h0m45 3h0m11-0.5h0m8.5 7h0m1-1h0m-1.5 0h0m-24.5-1.5h0m-5.5-5.5h0m-4 1.5h0m27 3.5h0m3.5 0.5h0m7.5 0h0m-14.5-7.5h0m7.5 1h0m-12.5 4.5h0m-6 1.5h0m17 3h0m-16.5-1.5h0m11.5-4.5h0m12.5-1h0m-1 0.5h0m-24.5-2.5h0m-5 1.5h0m-22.5 5h0m51-3h0" stroke="#000" stroke-width="4.2"/><path d="M784 834.5h0m-28-10h0m35.5 2h0m-14 5.5h0m-6-1h0m29 2.5h0m-33.5-3h0m27.5-3h0m-18 5h0m5.5 0h0m-9-1.5h0m9.5-3h0m3 5.5h0m13.5-4h0m-15 1.5h0m-51.5-6h0m45 3h0m11-0.5h0m8.5 7h0m1-1h0m-1.5 0h0m-24.5-1.5h0m-5.5-5.5h0m-4 1.5h0m27 3.5h0m3.5 0.5h0m7.5 0h0m-14.5-7.5h0m7.5 1h0m-12.5 4.5h0m-6 1.5h0m17 3h0m-16.5-1.5h0m11.5-4.5h0m12.5-1h0m-1 0.5h0m-24.5-2.5h0m-5 1.5h0m-22.5 5h0m51-3h0" stroke="#f4f4f4" stroke-width="2.4"/>
<path d="M759.5 833.5h0m11-6.5h0m7-2h0m21.5 0.5h0m-33.5 3h0m-6-3h0m25.5 2h0m-5.5 7.5h0m-34-7h0m16.5 6h0m37 1h0m-24.5-2h0m24.5-9h0m-25 9.5h0m8.5 0h0m-6-8h0m-5.5 3h0m14-3h0m-33.5 7.5h0m45.5-1.5h0m-22.5 1.5h0m10.5 1h0m-13.5-6h0m9-3h0m-2.5 9.5h0m15 0h0m4-9h0m-33.5-0.5h0m-3.5 2h0m25.5 0h0m-37 5.5h0m34-8h0m17.5 2.5h0m-18.5-1h0m0.5-2h0m17.5 9h0m-6-3h0m-14.5 2h0m6.5-3.5h0m-19.5 6h0" stroke="#000" stroke-width="4.2"/><path d="M759.5 833.5h0m11-6.5h0m7-2h0m21.5 0.5h0m-33.5 3h0m-6-3h0m25.5 2h0m-5.5 7.5h0m-34-7h0m16.5 6h0m37 1h0m-24.5-2h0m24.5-9h0m-25 9.5h0m8.5 0h0m-6-8h0m-5.5 3h0m14-3h0m-33.5 7.5h0m45.5-1.5h0m-22.5 1.5h0m10.5 1h0m-13.5-6h0m9-3h0m-2.5 9.5h0m15 0h0m4-9h0m-33.5-0.5h0m-3.5 2h0m25.5 0h0m-37 5.5h0m34-8h0m17.5 2.5h0m-18.5-1h0m0.5-2h0m17.5 9h0m-6-3h0m-14.5 2h0m6.5-3.5h0m-19.5 6h0" stroke="#f4f4f4" stroke-width="2.4"/>
<path d="M772.5 824.5h0m18.5 0h0m8 2h0m-17 0.5h0m-45-2.5h0m62 1h0m1 8h0m-45.5-1.5h0m-24-4.5h0m34.5 6.5h0m4-0.5h0m17-9.5h0m-5.5 8.5h0m-16.5-2.5h0m1 3.5h0m-8-6.5h0m13.5 5.5h0m23 2h0m-20.5 0.5h0m27-5h0m83 1.5h0m-15 0.5h0m-0.5-4h0m13 3.5h0m-8-0.5h0m9-4h0m23.5-0.5h0m-37.5 6h0m34.5-3h0m-18-2h0m-3-1.5h0m-9.5 1.5h0m-7 4.5h0m10.5-5h0m-0.5-2.5h0m19 0.5h0m-11 4.5h0m36 0.5h0m-41 4.5h0m3.5-5.5h0" stroke="#000" stroke-width="4.2"/><path d="M772.5 824.5h0m18.5 0h0m8 2h0m-17 0.5h0m-45-2.5h0m62 1h0m1 8h0m-45.5-1.5h0m-24-4.5h0m34.5 6.5h0m4-0.5h0m17-9.5h0m-5.5 8.5h0m-16.5-2.5h0m1 3.5h0m-8-6.5h0m13.5 5.5h0m23 2h0m-20.5 0.5h0m27-5h0m83 1.5h0m-15 0.5h0m-0.5-4h0m13 3.5h0m-8-0.5h0m9-4h0m23.5-0.5h0m-37.5 6h0m34.5-3h0m-18-2h0m-3-1.5h0m-9.5 1.5h0m-7 4.5h0m10.5-5h0m-0.5-2.5h0m19 0.5h0m-11 4.5h0m36 0.5h0m-41 4.5h0m3.5-5.5h0" stroke="#f4f4f4" stroke-width="2.4"/>
<path d="M888.5 824h0m13 2.5h0m5.5-1.5h0m-14.5 7h0m15-7.5h0m-29.5 3h0m-13-3.5h0m22 7.5h0m-10-2h0m7.5-1h0m-19.5-3h0m22.5 0h0m-13.5-0.5h0m-9 4h0m3-2.5h0m63.5 8.5h0m-27.5-3.5h0m-9-3.5h0m-27-1h0m39-2h0m8.5 8h0m-17.5-2.5h0m-33.5-3h0m4.5 4.5h0m26.5 2.5h0m3.5-4.5h0m-32 1.5h0m11.5-1.5h0m11 3.5h0m4.5-9h0m-14.5 2.5h0m-2.5-0.5h0m29.5 7.5h0m-4 0h0m-38-9h0m15 3h0m1 7h0m4-1.5h0m16-6h0m-11.5 4.5h0" stroke="#000" stroke-width="4.2"/><path d="M888.5 824h0m13 2.5h0m5.5-1.5h0m-14.5 7h0m15-7.5h0m-29.5 3h0m-13-3.5h0m22 7.5h0m-10-2h0m7.5-1h0m-19.5-3h0m22.5 0h0m-13.5-0.5h0m-9 4h0m3-2.5h0m63.5 8.5h0m-27.5-3.5h0m-9-3.5h0m-27-1h0m39-2h0m8.5 8h0m-17.5-2.5h0m-33.5-3h0m4.5 4.5h0m26.5 2.5h0m3.5-4.5h0m-32 1.5h0m11.5-1.5h0m11 3.5h0m4.5-9h0m-14.5 2.5h0m-2.5-0.5h0m29.5 7.5h0m-4 0h0m-38-9h0m15 3h0m1 7h0m4-1.5h0m16-6h0m-11.5 4.5h0" stroke="#f4f4f4" stroke-width="2.4"/>
<path d="M877 833.5h0m26.5-9h0m-0.5 2.5h0m16.5 3.5h0m-30-4.5h0m28.5-1h0m-26 1.5h0m-0.5 3h0m-14.5 4.5h0m-1.5-9.5h0m46 7.5h0m9 0.5h0m-38.5-5h0m-21.5-2h0m-1 4.5h0m11.5-1.5h0m-7-3.5h0m-10.5 4.5h0m76.5 4h0m-38.5-4h0" stroke="#000" stroke-width="4.2"/><path d="M877 833.5h0m26.5-9h0m-0.5 2.5h0m16.5 3.5h0m-30-4.5h0m28.5-1h0m-26 1.5h0m-0.5 3h0m-14.5 4.5h0m-1.5-9.5h0m46 7.5h0m9 0.5h0m-38.5-5h0m-21.5-2h0m-1 4.5h0m11.5-1.5h0m-7-3.5h0m-10.5 4.5h0m76.5 4h0m-38.5-4h0" stroke="#f4f4f4" stroke-width="2.4"/>
</g>
<g fill="none" stroke-linecap="round">
<path d="M789.5 755.5h0m-29 59h0m24.5 7.5h0m7-2h0m6-3h0m0.5-2h0m-12.5-1h0m7 7h0m-30.5-41.5h0m16.5 44.5h0m-14.5-20.5h0m33.5 9.5h0m-12-32.5h0m11.5 42h0m-9.5-27h0m0-8h0m-3 10h0m-8.5-15.5h0m22 42h0m-16-16h0m-5-9.5h0m5-8.5h0m-6.5 26h0m24 8h0m-7.5-35.5h0m-1.5 32.5h0m-41-105.5h0m-5.5 28h0m36 46h0m6.5 29.5h0m-22.5-53h0m15 46.5h0m7.5-1h0m-8.5-67h0m-2.5 19h0m-48 12h0m66.5 8.5h0m-22 27h0m13-21.5h0m3 7h0" stroke="#000" stroke-width="4.3"/><path d="M789.5 755.5h0m-29 59h0m24.5 7.5h0m7-2h0m6-3h0m0.5-2h0m-12.5-1h0m7 7h0m-30.5-41.5h0m16.5 44.5h0m-14.5-20.5h0m33.5 9.5h0m-12-32.5h0m11.5 42h0m-9.5-27h0m0-8h0m-3 10h0m-8.5-15.5h0m22 42h0m-16-16h0m-5-9.5h0m5-8.5h0m-6.5 26h0m24 8h0m-7.5-35.5h0m-1.5 32.5h0m-41-105.5h0m-5.5 28h0m36 46h0m6.5 29.5h0m-22.5-53h0m15 46.5h0m7.5-1h0m-8.5-67h0m-2.5 19h0m-48 12h0m66.5 8.5h0m-22 27h0m13-21.5h0m3 7h0" stroke="#66c832" stroke-width="3.4"/>
<path d="M793 725.5h0m2 77.5h0m-11-26h0m4.5 34.5h0m-13 11.5h0m15-22h0m-6.5-9h0m-18-15h0m-10-80.5h0m35 115.5h0m2.5-15.5h0m-3 0h0m-3 15.5h0m10-18.5h0m-4 6.5h0m-12-19h0m11.5 16h0m-6.5 20h0m-12-24.5h0m16.5 26h0m0.5 6h0m4.5-15h0m-0.5-52h0m2.5 25.5h0m-1.5 5.5h0m-40-41.5h0m32 9h0m-2.5-17h0m6 44.5h0m1 29.5h0m0-43.5h0m-2.5 13h0m-8 33h0m8-8.5h0m0.5-7h0m8.5-113.5h0m-6 118h0m-12.5 19h0m15-22.5h0m-22-4.5h0" stroke="#000" stroke-width="4.3"/><path d="M793 725.5h0m2 77.5h0m-11-26h0m4.5 34.5h0m-13 11.5h0m15-22h0m-6.5-9h0m-18-15h0m-10-80.5h0m35 115.5h0m2.5-15.5h0m-3 0h0m-3 15.5h0m10-18.5h0m-4 6.5h0m-12-19h0m11.5 16h0m-6.5 20h0m-12-24.5h0m16.5 26h0m0.5 6h0m4.5-15h0m-0.5-52h0m2.5 25.5h0m-1.5 5.5h0m-40-41.5h0m32 9h0m-2.5-17h0m6 44.5h0m1 29.5h0m0-43.5h0m-2.5 13h0m-8 33h0m8-8.5h0m0.5-7h0m8.5-113.5h0m-6 118h0m-12.5 19h0m15-22.5h0m-22-4.5h0" stroke="#66c832" stroke-width="3.4"/>
<path d="M777 792h0m15-9h0m3.5 32.5h0m-14.5 0h0m6-24h0m-0.5-3h0m6 34h0m1-29h0m-14 13h0m11.5 1h0m-5-4h0m4 14h0m7-7h0m-21-18.5h0m18 4.5h0m-10 17h0m-14-63.5h0m12 70.5h0m8-23.5h0m-11.5 16.5h0m17.5-6.5h0m-9 2h0m10.5 15h0m-4-40.5h0m-18.5-28h0m4 38h0m-5-91.5h0m12.5 122.5h0m6.5-15h0m6.5 4.5h0m-70-65.5h0m48 44.5h0m-12-0.5h0m34 21h0m-8 10.5h0m6-12.5h0m-9.5-25.5h0m8 18h0m-13.5-7h0m9-24h0" stroke="#000" stroke-width="4.3"/><path d="M777 792h0m15-9h0m3.5 32.5h0m-14.5 0h0m6-24h0m-0.5-3h0m6 34h0m1-29h0m-14 13h0m11.5 1h0m-5-4h0m4 14h0m7-7h0m-21-18.5h0m18 4.5h0m-10 17h0m-14-63.5h0m12 70.5h0m8-23.5h0m-11.5 16.5h0m17.5-6.5h0m-9 2h0m10.5 15h0m-4-40.5h0m-18.5-28h0m4 38h0m-5-91.5h0m12.5 122.5h0m6.5-15h0m6.5 4.5h0m-70-65.5h0m48 44.5h0m-12-0.5h0m34 21h0m-8 10.5h0m6-12.5h0m-9.5-25.5h0m8 18h0m-13.5-7h0m9-24h0" stroke="#66c832" stroke-width="3.4"/>
<path d="M784 793h0m-49.5-43h0m60 62h0m-12-31h0m-13 41.5h0m18.5-25h0m7.5 23h0m-9 3.5h0m-0.5-154h0m1.5 119.5h0m0 29.5h0m6.5-6h0m0 9h0m-11.5-9.5h0m7.5-5h0m-4 9.5h0m7 7h0m-6.5-37h0m1 4h0m-8 8.5h0m4 19h0m11.5 3h0m-20.5-2.5h0m-33-57h0m19-0.5h0m35 57h0m-2-57h0m-10 46h0m13.5-26h0m-11.5 36h0m10.5-2h0m-17.5 2.5h0m1-57h0m7 61h0m-1-101.5h0m4.5 100h0m4.5-33.5h0m-9.5 16.5h0m9 19.5h0m-15-67.5h0" stroke="#000" stroke-width="4.3"/><path d="M784 793h0m-49.5-43h0m60 62h0m-12-31h0m-13 41.5h0m18.5-25h0m7.5 23h0m-9 3.5h0m-0.5-154h0m1.5 119.5h0m0 29.5h0m6.5-6h0m0 9h0m-11.5-9.5h0m7.5-5h0m-4 9.5h0m7 7h0m-6.5-37h0m1 4h0m-8 8.5h0m4 19h0m11.5 3h0m-20.5-2.5h0m-33-57h0m19-0.5h0m35 57h0m-2-57h0m-10 46h0m13.5-26h0m-11.5 36h0m10.5-2h0m-17.5 2.5h0m1-57h0m7 61h0m-1-101.5h0m4.5 100h0m4.5-33.5h0m-9.5 16.5h0m9 19.5h0m-15-67.5h0" stroke="#66c832" stroke-width="3.4"/>
<path d="M743.5 783h0m44.5 8.5h0m-3.5 6h0m-0.5 2.5h0m-19.5 15h0m28-39.5h0m-20.5 35h0m11.5-2h0m10-23.5h0m-1.5 13h0m-28 6h0m29.5-39.5h0m-58.5 18.5h0m64 36.5h0m-1 3.5h0m-29-52.5h0m8.5 20h0m-4-8h0m16.5 4.5h0m-12 35.5h0m14-28h0m-7.5 11.5h0m-26-79h0m6.5 63.5h0m32.5 3h0m-12.5 26h0m-6.5-8.5h0m13.5-16.5h0m-8-3.5h0m9 16h0m5.5-14h0m-0.5-14h0m-9 32h0m-15-19.5h0m16 17h0m-11-15.5h0m3-7h0m-8 34h0m15.5 0h0m8-18h0" stroke="#000" stroke-width="4.3"/><path d="M743.5 783h0m44.5 8.5h0m-3.5 6h0m-0.5 2.5h0m-19.5 15h0m28-39.5h0m-20.5 35h0m11.5-2h0m10-23.5h0m-1.5 13h0m-28 6h0m29.5-39.5h0m-58.5 18.5h0m64 36.5h0m-1 3.5h0m-29-52.5h0m8.5 20h0m-4-8h0m16.5 4.5h0m-12 35.5h0m14-28h0m-7.5 11.5h0m-26-79h0m6.5 63.5h0m32.5 3h0m-12.5 26h0m-6.5-8.5h0m13.5-16.5h0m-8-3.5h0m9 16h0m5.5-14h0m-0.5-14h0m-9 32h0m-15-19.5h0m16 17h0m-11-15.5h0m3-7h0m-8 34h0m15.5 0h0m8-18h0" stroke="#66c832" stroke-width="3.4"/>
<path d="M794 796h0m-17.5 5h0m11.5-4.5h0m2-6.5h0m-41.5 23h0m4-41h0m46.5 6.5h0m-8.5 26.5h0m-28.5 11.5h0m34-73h0m-32.5-6h0m23.5 40h0m10 30.5h0m-3 8h0m-22-13h0m-17-127.5h0m30.5 139h0m6.5-36.5h0m-5 20h0m-23 22h0m34.5 2.5h0m-5.5-65h0m-6 54h0m-33-66.5h0m10.5 45h0m23 14.5h0m-4 2h0m-9-13.5h0m-13-100.5h0m-32.5 63.5h0m52 49.5h0m-12 0.5h0m10 14h0m-35-32h0m45 31h0m9-22.5h0m-5 9h0m-23 6.5h0m23-2.5h0m-19-24.5h0" stroke="#000" stroke-width="4.3"/><path d="M794 796h0m-17.5 5h0m11.5-4.5h0m2-6.5h0m-41.5 23h0m4-41h0m46.5 6.5h0m-8.5 26.5h0m-28.5 11.5h0m34-73h0m-32.5-6h0m23.5 40h0m10 30.5h0m-3 8h0m-22-13h0m-17-127.5h0m30.5 139h0m6.5-36.5h0m-5 20h0m-23 22h0m34.5 2.5h0m-5.5-65h0m-6 54h0m-33-66.5h0m10.5 45h0m23 14.5h0m-4 2h0m-9-13.5h0m-13-100.5h0m-32.5 63.5h0m52 49.5h0m-12 0.5h0m10 14h0m-35-32h0m45 31h0m9-22.5h0m-5 9h0m-23 6.5h0m23-2.5h0m-19-24.5h0" stroke="#66c832" stroke-width="3.4"/>
<path d="M798.5 808h0m-23-21h0m13-5h0m4 7.5h0m-4 21h0m-12-4h0m-3.5-8.5h0m20.5-25h0m-21.5 12h0m15 26h0m-19.5 8h0m-8-1h0m35.5-29.5h0m-1.5 18h0m-25-8.5h0m31-92.5h0m-3 54.5h0m-4.5 41h0m-34-42h0m37.5 49h0m1-40.5h0m-3 31h0m0-9.5h0m-1.5 10h0m7.5-25.5h0m-9.5 42.5h0m6-3h0m-8.5-13.5h0m6.5-2h0m2-12.5h0m-2 34h0m4.5 4.5h0m-3.5-28h0m-1.5 14h0m-27-141.5h0m-4 133.5h0m28-44h0m7.5 40.5h0m-12.5 0h0m1-23h0" stroke="#000" stroke-width="4.3"/><path d="M798.5 808h0m-23-21h0m13-5h0m4 7.5h0m-4 21h0m-12-4h0m-3.5-8.5h0m20.5-25h0m-21.5 12h0m15 26h0m-19.5 8h0m-8-1h0m35.5-29.5h0m-1.5 18h0m-25-8.5h0m31-92.5h0m-3 54.5h0m-4.5 41h0m-34-42h0m37.5 49h0m1-40.5h0m-3 31h0m0-9.5h0m-1.5 10h0m7.5-25.5h0m-9.5 42.5h0m6-3h0m-8.5-13.5h0m6.5-2h0m2-12.5h0m-2 34h0m4.5 4.5h0m-3.5-28h0m-1.5 14h0m-27-141.5h0m-4 133.5h0m28-44h0m7.5 40.5h0m-12.5 0h0m1-23h0" stroke="#66c832" stroke-width="3.4"/>
<path d="M762.5 775.5h0m35 40h0m1 5h0m-7.5-7.5h0m-12-48.5h0m7 59h0m-12-24.5h0m24.5 8h0m-3.5 9h0m-11.5-2h0m6-24.5h0m-24 2.5h0m24 19h0m4.5 0.5h0m-7-14.5h0m-15.5 7.5h0m-2.5-6h0m21.5 13h0m7 10h0m2-13.5h0m-27-31.5h0m17.5 13h0m-16.5 7.5h0m12.5-6.5h0m-3 4.5h0m11.5 27.5h0m-8.5-20.5h0m-4.5-28h0m16.5 46.5h0m-5-12h0m-4.5-17h0m-3 28.5h0m-13-39.5h0m-24 31.5h0m41.5 11h0m5.5-19.5h0m-31 20h0m22-38h0m4.5 28h0m-0.5 10h0" stroke="#000" stroke-width="4.3"/><path d="M762.5 775.5h0m35 40h0m1 5h0m-7.5-7.5h0m-12-48.5h0m7 59h0m-12-24.5h0m24.5 8h0m-3.5 9h0m-11.5-2h0m6-24.5h0m-24 2.5h0m24 19h0m4.5 0.5h0m-7-14.5h0m-15.5 7.5h0m-2.5-6h0m21.5 13h0m7 10h0m2-13.5h0m-27-31.5h0m17.5 13h0m-16.5 7.5h0m12.5-6.5h0m-3 4.5h0m11.5 27.5h0m-8.5-20.5h0m-4.5-28h0m16.5 46.5h0m-5-12h0m-4.5-17h0m-3 28.5h0m-13-39.5h0m-24 31.5h0m41.5 11h0m5.5-19.5h0m-31 20h0m22-38h0m4.5 28h0m-0.5 10h0" stroke="#66c832" stroke-width="3.4"/>
<path d="M793 784.5h0m-29 10h0m-9-9h0m24.5 38h0m-2.5-35h0m6.5 20h0m2-14h0m9-1h0m1.5-13.5h0m-17.5 21h0m7.5-11.5h0m-2-6h0m3-10h0m-4.5 2h0m8 31.5h0m0.5-17h0m-11.5 1.5h0m16.5 11h0m-3 21.5h0m-3.5-104.5h0m-11 89.5h0m8-8.5h0m6 24.5h0m-29-7h0m29.5-1.5h0m-12-38.5h0m4.5 45h0m7.5-20h0m-15-16h0m6.5 24.5h0m-33.5 10.5h0m31-15.5h0m10 16h0m-12-10.5h0m12-26h0m-1 32h0m-6-28.5h0m-48-14.5h0m-3.5-110h0m4.5 4h0" stroke="#000" stroke-width="4.3"/><path d="M793 784.5h0m-29 10h0m-9-9h0m24.5 38h0m-2.5-35h0m6.5 20h0m2-14h0m9-1h0m1.5-13.5h0m-17.5 21h0m7.5-11.5h0m-2-6h0m3-10h0m-4.5 2h0m8 31.5h0m0.5-17h0m-11.5 1.5h0m16.5 11h0m-3 21.5h0m-3.5-104.5h0m-11 89.5h0m8-8.5h0m6 24.5h0m-29-7h0m29.5-1.5h0m-12-38.5h0m4.5 45h0m7.5-20h0m-15-16h0m6.5 24.5h0m-33.5 10.5h0m31-15.5h0m10 16h0m-12-10.5h0m12-26h0m-1 32h0m-6-28.5h0m-48-14.5h0m-3.5-110h0m4.5 4h0" stroke="#66c832" stroke-width="3.4"/>
<path d="M796 797h0m-19.5 26h0m9-46h0m-37 25.5h0m46 6.5h0m-29.5-9.5h0m34-44.5h0m-1.5 5h0m-19.5-5h0m6 67.5h0m7.5-6h0m-1.5-7h0m-43.5 1h0m35.5 11h0m10.5-20.5h0m-3 5.5h0m-1-31.5h0m-10.5 5h0m18-18.5h0m-55.5-43h0m35 101.5h0m16 0h0m7-33h0m-1 14h0m-18.5 16h0m17.5 6h0m1-8.5h0m-25-51.5h0m14 31.5h0m-9 25.5h0m14.5 2h0m-26.5-10.5h0m14.5 11.5h0m11-28.5h0m8 24h0m-18-23.5h0m-2 26h0m-12-44.5h0m18 14h0m-25.5 26.5h0" stroke="#000" stroke-width="4.3"/><path d="M796 797h0m-19.5 26h0m9-46h0m-37 25.5h0m46 6.5h0m-29.5-9.5h0m34-44.5h0m-1.5 5h0m-19.5-5h0m6 67.5h0m7.5-6h0m-1.5-7h0m-43.5 1h0m35.5 11h0m10.5-20.5h0m-3 5.5h0m-1-31.5h0m-10.5 5h0m18-18.5h0m-55.5-43h0m35 101.5h0m16 0h0m7-33h0m-1 14h0m-18.5 16h0m17.5 6h0m1-8.5h0m-25-51.5h0m14 31.5h0m-9 25.5h0m14.5 2h0m-26.5-10.5h0m14.5 11.5h0m11-28.5h0m8 24h0m-18-23.5h0m-2 26h0m-12-44.5h0m18 14h0m-25.5 26.5h0" stroke="#66c832" stroke-width="3.4"/>
<path d="M793 814.5h0m-11.5-33h0m7.5-25h0m-7.5 35h0m12 6h0m-13.5 9.5h0m0 8h0m19.5 1.5h0m-16.5-35.5h0m-40-103h0m16.5 132.5h0m15.5-36.5h0m1.5 16.5h0m8 23.5h0m9.5-17.5h0m3.5-15h0m-8.5-30h0m-2 65h0m9-33.5h0m-12.5 32h0m13 1h0m-6.5-62.5h0m3 25.5h0m-15 41.5h0m14.5-28.5h0m-38.5-64h0m42.5 91.5h0m-7 4.5h0m-9-23.5h0m-22.5-63.5h0m21 64.5h0m12.5-70.5h0m-4 63.5h0m-52-20h0m62 47.5h0m-47.5-48.5h0m47 25h0m-67.5-119.5h0m67 108h0m3 35h0" stroke="#000" stroke-width="4.3"/><path d="M793 814.5h0m-11.5-33h0m7.5-25h0m-7.5 35h0m12 6h0m-13.5 9.5h0m0 8h0m19.5 1.5h0m-16.5-35.5h0m-40-103h0m16.5 132.5h0m15.5-36.5h0m1.5 16.5h0m8 23.5h0m9.5-17.5h0m3.5-15h0m-8.5-30h0m-2 65h0m9-33.5h0m-12.5 32h0m13 1h0m-6.5-62.5h0m3 25.5h0m-15 41.5h0m14.5-28.5h0m-38.5-64h0m42.5 91.5h0m-7 4.5h0m-9-23.5h0m-22.5-63.5h0m21 64.5h0m12.5-70.5h0m-4 63.5h0m-52-20h0m62 47.5h0m-47.5-48.5h0m47 25h0m-67.5-119.5h0m67 108h0m3 35h0" stroke="#66c832" stroke-width="3.4"/>
<path d="M735.5 739h0m63.5 71h0m-4.5-22h0m-6 36h0m3-3h0m-11.5-20h0m14 23h0m-23.5-18h0m21.5 17h0m-1.5-33.5h0m-20.5 10.5h0m26.5 18.5h0m-6.5-9.5h0m-25.5-4.5h0m-31.5 17.5h0m49-47.5h0m16.5 37.5h0m-7-15.5h0m-16-4.5h0m-14.5-73h0m37.5 92.5h0m-9.5 1h0m2.5-8.5h0m-8-8.5h0m-13.5 5h0m-41-21.5h0m67 10h0m2.5-3h0m-4.5 37.5h0m-15-20.5h0m-1.5-1h0m18.5 12.5h0m-20-30.5h0m15-1h0m0.5 2h0m5.5 33.5h0m-6.5-18h0m-14.5-25.5h0m13 16h0m7 11.5h0" stroke="#000" stroke-width="4.3"/><path d="M735.5 739h0m63.5 71h0m-4.5-22h0m-6 36h0m3-3h0m-11.5-20h0m14 23h0m-23.5-18h0m21.5 17h0m-1.5-33.5h0m-20.5 10.5h0m26.5 18.5h0m-6.5-9.5h0m-25.5-4.5h0m-31.5 17.5h0m49-47.5h0m16.5 37.5h0m-7-15.5h0m-16-4.5h0m-14.5-73h0m37.5 92.5h0m-9.5 1h0m2.5-8.5h0m-8-8.5h0m-13.5 5h0m-41-21.5h0m67 10h0m2.5-3h0m-4.5 37.5h0m-15-20.5h0m-1.5-1h0m18.5 12.5h0m-20-30.5h0m15-1h0m0.5 2h0m5.5 33.5h0m-6.5-18h0m-14.5-25.5h0m13 16h0m7 11.5h0" stroke="#66c832" stroke-width="3.4"/>
<path d="M798 670.5h0m-27.5 59.5h0m10.5 92h0m-26.5-77.5h0m39 45h0m-32.5-16h0m34 33h0m-48.5-6h0m51.5-34h0m-21.5 56h0m11.5-16.5h0m10.5 3h0m-19 11.5h0m-24.5-4h0m5-42.5h0m30.5-105h0m-28.5 115.5h0m25 0.5h0m6.5 15.5h0m5.5 8h0m-2-11.5h0m-16-22h0m1.5 42.5h0m16.5-4h0m-7 5.5h0m-6-20h0m4.5-31h0m-11.5 54.5h0m10.5-12h0m5-19h0m0.5 18.5h0m-8.5-2h0m-14.5-85.5h0m25 70.5h0m-21.5-1.5h0m12 30.5h0m1.5-11h0m9.5 12.5h0m-24.5-17.5h0m13.5-1.5h0" stroke="#000" stroke-width="4.3"/><path d="M798 670.5h0m-27.5 59.5h0m10.5 92h0m-26.5-77.5h0m39 45h0m-32.5-16h0m34 33h0m-48.5-6h0m51.5-34h0m-21.5 56h0m11.5-16.5h0m10.5 3h0m-19 11.5h0m-24.5-4h0m5-42.5h0m30.5-105h0m-28.5 115.5h0m25 0.5h0m6.5 15.5h0m5.5 8h0m-2-11.5h0m-16-22h0m1.5 42.5h0m16.5-4h0m-7 5.5h0m-6-20h0m4.5-31h0m-11.5 54.5h0m10.5-12h0m5-19h0m0.5 18.5h0m-8.5-2h0m-14.5-85.5h0m25 70.5h0m-21.5-1.5h0m12 30.5h0m1.5-11h0m9.5 12.5h0m-24.5-17.5h0m13.5-1.5h0" stroke="#66c832" stroke-width="3.4"/>
<path d="M677.5 802.5h0m41-243h0m44 1.5h0m-28 29h0m12.5 24h0m41 9.5h0m3 17.5h0" stroke="#000" stroke-width="4.3"/><path d="M677.5 802.5h0m41-243h0m44 1.5h0m-28 29h0m12.5 24h0m41 9.5h0m3 17.5h0" stroke="#66c832" stroke-width="3.4"/>
</g>
<g fill="none" stroke-linecap="round">
<path d="M871 812.5h0m15-1h0m-11-17h0m-5-21.5h0m-5.5 30h0m11.5-39h0m-7-49.5h0m-2.5 47.5h0m0 62.5h0m1-24h0m1.5-18.5h0m2 36h0m6 5.5h0m-9.5-4h0m-1-45h0m1 35h0m7.5-11.5h0m-6 18h0m8-14h0m-9.5-1h0m-3-85h0m5.5 104h0m7.5-19h0m-12.5-4.5h0m0-19h0m20 38.5h0m-8-12.5h0m-9 19.5h0m4-24h0m-2-27h0m24.5 21.5h0m-21-63h0m-1 77.5h0m16-86h0m-24 36.5h0m5.5 25h0m-4 5.5h0m6-42.5h0m-7.5-14.5h0m5.5 89h0" stroke="#000" stroke-width="4.4"/><path d="M871 812.5h0m15-1h0m-11-17h0m-5-21.5h0m-5.5 30h0m11.5-39h0m-7-49.5h0m-2.5 47.5h0m0 62.5h0m1-24h0m1.5-18.5h0m2 36h0m6 5.5h0m-9.5-4h0m-1-45h0m1 35h0m7.5-11.5h0m-6 18h0m8-14h0m-9.5-1h0m-3-85h0m5.5 104h0m7.5-19h0m-12.5-4.5h0m0-19h0m20 38.5h0m-8-12.5h0m-9 19.5h0m4-24h0m-2-27h0m24.5 21.5h0m-21-63h0m-1 77.5h0m16-86h0m-24 36.5h0m5.5 25h0m-4 5.5h0m6-42.5h0m-7.5-14.5h0m5.5 89h0" stroke="#f0261c" stroke-width="3.5"/>
<path d="M870 803h0m7-37.5h0m-12 2h0m4.5-13h0m3.5 33.5h0m-8 14h0m17.5-70h0m-12 82.5h0m2.5-63h0m0 32.5h0m9.5 14h0m-2-6.5h0m-8-4.5h0m7.5 19h0m-13.5-49.5h0m1 68h0m10-43h0m6-9.5h0m-17.5-18h0m43-28h0m-39.5 1h0m19 61.5h0m-20.5-10h0m-0.5 45.5h0m-3-11.5h0m18 12h0m0.5-92h0m27-13.5h0m-39 86h0m7-63h0m-10.5 55h0m5-49h0m10.5 59.5h0m-10.5-5h0m9.5-54h0m-18 63.5h0m4.5-45.5h0m4.5 15h0m24.5-35.5h0m-21 53.5h0" stroke="#000" stroke-width="4.4"/><path d="M870 803h0m7-37.5h0m-12 2h0m4.5-13h0m3.5 33.5h0m-8 14h0m17.5-70h0m-12 82.5h0m2.5-63h0m0 32.5h0m9.5 14h0m-2-6.5h0m-8-4.5h0m7.5 19h0m-13.5-49.5h0m1 68h0m10-43h0m6-9.5h0m-17.5-18h0m43-28h0m-39.5 1h0m19 61.5h0m-20.5-10h0m-0.5 45.5h0m-3-11.5h0m18 12h0m0.5-92h0m27-13.5h0m-39 86h0m7-63h0m-10.5 55h0m5-49h0m10.5 59.5h0m-10.5-5h0m9.5-54h0m-18 63.5h0m4.5-45.5h0m4.5 15h0m24.5-35.5h0m-21 53.5h0" stroke="#f0261c" stroke-width="3.5"/>
<path d="M866.5 818.5h0m3-7h0m11-29h0m-6-22.5h0m-2 52h0m-3.5-15.5h0m8.5-22.5h0m5 20.5h0m-15-57.5h0m5 5.5h0m41-94h0m-45 156h0m-3-37h0m12.5 55h0m-5-12h0m101-45h0m-54 53h0m-48.5-212.5h0m-1.5 59h0" stroke="#000" stroke-width="4.4"/><path d="M866.5 818.5h0m3-7h0m11-29h0m-6-22.5h0m-2 52h0m-3.5-15.5h0m8.5-22.5h0m5 20.5h0m-15-57.5h0m5 5.5h0m41-94h0m-45 156h0m-3-37h0m12.5 55h0m-5-12h0m101-45h0m-54 53h0m-48.5-212.5h0m-1.5 59h0" stroke="#f0261c" stroke-width="3.5"/>
</g>
<line x1="800.5" y1="521.5" x2="800.5" y2="873" stroke="#000" stroke-width="1.6" stroke-dasharray="5,4"/>
<line x1="863.5" y1="521.5" x2="863.5" y2="873" stroke="#000" stroke-width="1.6" stroke-dasharray="5,4"/>
<line x1="657.8" y1="824.8" x2="1005" y2="824.8" stroke="#000" stroke-width="1.6" stroke-dasharray="5,4"/>
<path d="M657.8 521.5V873H1005" fill="none" stroke="#000" stroke-width="2"/>
<line x1="653.8" y1="856.8" x2="657.8" y2="856.8" stroke="#444" stroke-width="1.2" />
<text x="652.6" y="860.8" font-size="11" text-anchor="end" fill="#4d4d4d">0</text>
<line x1="653.8" y1="776.9" x2="657.8" y2="776.9" stroke="#444" stroke-width="1.2" />
<text x="652.6" y="780.9" font-size="11" text-anchor="end" fill="#4d4d4d">5</text>
<line x1="653.8" y1="697" x2="657.8" y2="697" stroke="#444" stroke-width="1.2" />
<text x="652.6" y="701" font-size="11" text-anchor="end" fill="#4d4d4d">10</text>
<line x1="653.8" y1="617.1" x2="657.8" y2="617.1" stroke="#444" stroke-width="1.2" />
<text x="652.6" y="621.1" font-size="11" text-anchor="end" fill="#4d4d4d">15</text>
<line x1="653.8" y1="537.2" x2="657.8" y2="537.2" stroke="#444" stroke-width="1.2" />
<text x="652.6" y="541.2" font-size="11" text-anchor="end" fill="#4d4d4d">20</text>
<line x1="674.5" y1="873" x2="674.5" y2="877" stroke="#444" stroke-width="1.2" />
<text x="674.5" y="887" font-size="11" text-anchor="middle" fill="#4d4d4d">−5.0</text>
<line x1="753.2" y1="873" x2="753.2" y2="877" stroke="#444" stroke-width="1.2" />
<text x="753.2" y="887" font-size="11" text-anchor="middle" fill="#4d4d4d">−2.5</text>
<line x1="832" y1="873" x2="832" y2="877" stroke="#444" stroke-width="1.2" />
<text x="832" y="887" font-size="11" text-anchor="middle" fill="#4d4d4d">0.0</text>
<line x1="910.8" y1="873" x2="910.8" y2="877" stroke="#444" stroke-width="1.2" />
<text x="910.8" y="887" font-size="11" text-anchor="middle" fill="#4d4d4d">2.5</text>
<line x1="989.5" y1="873" x2="989.5" y2="877" stroke="#444" stroke-width="1.2" />
<text x="989.5" y="887" font-size="11" text-anchor="middle" fill="#4d4d4d">5.0</text>
<text x="811" y="770" font-size="12.5" fill="#e8231e">Pdgfrb</text>
<line x1="809" y1="767" x2="800.5" y2="799" stroke="#e8231e" stroke-width="1.2" />
<path d="M797.5 797 L799.5 804 L803 798 Z" fill="#e8231e"/>
<text x="638" y="694.5" font-size="13.2" font-weight="bold" text-anchor="middle" transform="rotate(-90 638 694.5)">−log10 (adjusted_Pvalue)</text>
<text x="832" y="898" font-size="13" text-anchor="middle" font-weight="bold">log2 (FoldChange)</text>
<text x="1023.5" y="670.7" font-size="13">threshold</text>
<circle cx="1033" cy="686.9" r="4.9" fill="#e8231e" stroke="#333" stroke-width="0.8"/>
<text x="1046" y="690.5" font-size="9.8" font-weight="bold">Up</text>
<circle cx="1033" cy="705.7" r="4.9" fill="#6cc33a" stroke="#333" stroke-width="0.8"/>
<text x="1046" y="709.3" font-size="9.8" font-weight="bold">Down</text>
<circle cx="1033" cy="724.5" r="4.9" fill="#c4c4c4" stroke="#333" stroke-width="0.8"/>
<text x="1046" y="728.1" font-size="9.8" font-weight="bold">NoSignifi</text>
<text x="1122" y="37.3" font-size="45">C</text>
<text x="1438.5" y="29.8" font-size="24.5" text-anchor="middle" letter-spacing="1.2">Human liver</text>
<line x1="1156.6" y1="38.4" x2="1722" y2="38.4" stroke="#000" stroke-width="2.6" />
<defs><filter id="bl3" x="-20%" y="-20%" width="140%" height="140%"><feGaussianBlur stdDeviation="3"/></filter><filter id="bl6" x="-20%" y="-20%" width="140%" height="140%"><feGaussianBlur stdDeviation="6"/></filter><filter id="nbN" x="0" y="0" width="1" height="1" color-interpolation-filters="sRGB"><feTurbulence type="fractalNoise" baseFrequency="0.55" numOctaves="1" seed="3"/><feGaussianBlur stdDeviation="0.85"/><feColorMatrix type="matrix" values="0 0 0 0 0.24 0 0 0 0 0.38 0 0 0 0 0.88 30 0 0 0 -15.210"/></filter><filter id="nbF" x="0" y="0" width="1" height="1" color-interpolation-filters="sRGB"><feTurbulence type="fractalNoise" baseFrequency="0.55" numOctaves="1" seed="8"/><feGaussianBlur stdDeviation="0.85"/><feColorMatrix type="matrix" values="0 0 0 0 0.24 0 0 0 0 0.37 0 0 0 0 0.86 30 0 0 0 -15.270"/></filter><filter id="nrS" x="0" y="0" width="1" height="1" color-interpolation-filters="sRGB"><feTurbulence type="fractalNoise" baseFrequency="0.5" numOctaves="1" seed="5"/><feGaussianBlur stdDeviation="0.9"/><feColorMatrix type="matrix" values="0 0 0 0 0.85 0 0 0 0 0.12 0 0 0 0 0.1 40 0 0 0 -22.280"/></filter><filter id="nrM" x="0" y="0" width="1" height="1" color-interpolation-filters="sRGB"><feTurbulence type="fractalNoise" baseFrequency="0.5" numOctaves="1" seed="15"/><feGaussianBlur stdDeviation="0.9"/><feColorMatrix type="matrix" values="0 0 0 0 0.85 0 0 0 0 0.15 0 0 0 0 0.15 40 0 0 0 -22.880"/></filter><filter id="nrD" x="0" y="0" width="1" height="1" color-interpolation-filters="sRGB"><feTurbulence type="fractalNoise" baseFrequency="0.5" numOctaves="1" seed="9"/><feGaussianBlur stdDeviation="0.85"/><feColorMatrix type="matrix" values="0 0 0 0 0.95 0 0 0 0 0.15 0 0 0 0 0.12 30 0 0 0 -15.660"/></filter><filter id="nrDm" x="0" y="0" width="1" height="1" color-interpolation-filters="sRGB"><feTurbulence type="fractalNoise" baseFrequency="0.5" numOctaves="1" seed="29"/><feGaussianBlur stdDeviation="0.85"/><feColorMatrix type="matrix" values="0 0 0 0 0.95 0 0 0 0 0.15 0 0 0 0 0.12 30 0 0 0 -16.050"/></filter><filter id="ngS" x="0" y="0" width="1" height="1" color-interpolation-filters="sRGB"><feTurbulence type="fractalNoise" baseFrequency="0.5" numOctaves="1" seed="12"/><feGaussianBlur stdDeviation="0.9"/><feColorMatrix type="matrix" values="0 0 0 0 0.2 0 0 0 0 0.75 0 0 0 0 0.2 40 0 0 0 -22.600"/></filter><filter id="ngD" x="0" y="0" width="1" height="1" color-interpolation-filters="sRGB"><feTurbulence type="fractalNoise" baseFrequency="0.5" numOctaves="1" seed="19"/><feGaussianBlur stdDeviation="0.85"/><feColorMatrix type="matrix" values="0 0 0 0 0.3 0 0 0 0 0.9 0 0 0 0 0.25 30 0 0 0 -15.750"/></filter><filter id="ngDm" x="0" y="0" width="1" height="1" color-interpolation-filters="sRGB"><feTurbulence type="fractalNoise" baseFrequency="0.5" numOctaves="1" seed="39"/><feGaussianBlur stdDeviation="0.85"/><feColorMatrix type="matrix" values="0 0 0 0 0.3 0 0 0 0 0.9 0 0 0 0 0.25 30 0 0 0 -16.200"/></filter><mask id="mg0" maskUnits="userSpaceOnUse" x="1152.9" y="245.2" width="190" height="188"><rect x="1152.9" y="245.2" width="190" height="188" fill="#000"/><g filter="url(#bl3)"><path d="M1152.9 273.2 C1182.9 290.2 1207.9 303.2 1232.9 317.2 S1262.9 329.2 1287.9 340.2" stroke="#fff" stroke-width="7" fill="none"/><path d="M1304.9 245.2 C1302.9 275.2 1302.9 305.2 1297.9 330.2" stroke="#fff" stroke-width="7" fill="none"/><path d="M1327.9 265.2 C1322.9 290.2 1317.9 315.2 1310.9 335.2" stroke="#ccc" stroke-width="5" fill="none"/><ellipse cx="1307.9" cy="360.2" rx="32" ry="30" fill="#fff"/><path d="M1152.9 333.2 C1172.9 355.2 1167.9 385.2 1192.9 405.2" stroke="#aaa" stroke-width="14" fill="none"/><path d="M1212.9 410.2 C1232.9 415.2 1247.9 417.2 1262.9 420.2" stroke="#aaa" stroke-width="8" fill="none"/></g></mask><mask id="mr1" maskUnits="userSpaceOnUse" x="1344.8" y="245.2" width="190" height="188"><rect x="1344.8" y="245.2" width="190" height="188" fill="#000"/><g filter="url(#bl3)"><ellipse cx="1439.8" cy="290.2" rx="70" ry="32" fill="#fff" transform="rotate(20 1439.8 290.2)"/><path d="M1344.8 273.2 C1374.8 290.2 1399.8 303.2 1424.8 317.2 S1454.8 329.2 1479.8 340.2" stroke="#fff" stroke-width="10" fill="none"/><path d="M1344.8 330.2 C1374.8 345.2 1414.8 360.2 1464.8 375.2" stroke="#ccc" stroke-width="14" fill="none"/><path d="M1509.8 255.2 C1504.8 285.2 1499.8 315.2 1494.8 345.2" stroke="#fff" stroke-width="8" fill="none"/><ellipse cx="1404.8" cy="405.2" rx="60" ry="22" fill="#999"/></g></mask><mask id="mg2" maskUnits="userSpaceOnUse" x="1537.9" y="245.2" width="190" height="188"><rect x="1537.9" y="245.2" width="190" height="188" fill="#000"/><g filter="url(#bl3)"><path d="M1537.9 273.2 C1567.9 290.2 1592.9 303.2 1617.9 317.2 S1647.9 329.2 1672.9 340.2" stroke="#aaa" stroke-width="7" fill="none"/><path d="M1689.9 245.2 C1687.9 275.2 1687.9 305.2 1682.9 330.2" stroke="#aaa" stroke-width="7" fill="none"/><path d="M1712.9 265.2 C1707.9 290.2 1702.9 315.2 1695.9 335.2" stroke="#ccc" stroke-width="5" fill="none"/><ellipse cx="1692.9" cy="360.2" rx="32" ry="30" fill="#aaa"/><path d="M1537.9 333.2 C1557.9 355.2 1552.9 385.2 1577.9 405.2" stroke="#aaa" stroke-width="14" fill="none"/><path d="M1597.9 410.2 C1617.9 415.2 1632.9 417.2 1647.9 420.2" stroke="#aaa" stroke-width="8" fill="none"/></g></mask><mask id="mr2" maskUnits="userSpaceOnUse" x="1537.9" y="245.2" width="190" height="188"><rect x="1537.9" y="245.2" width="190" height="188" fill="#000"/><g filter="url(#bl3)"><ellipse cx="1632.9" cy="290.2" rx="70" ry="32" fill="#fff" transform="rotate(20 1632.9 290.2)"/><path d="M1537.9 273.2 C1567.9 290.2 1592.9 303.2 1617.9 317.2 S1647.9 329.2 1672.9 340.2" stroke="#fff" stroke-width="10" fill="none"/><path d="M1537.9 330.2 C1567.9 345.2 1607.9 360.2 1657.9 375.2" stroke="#ccc" stroke-width="14" fill="none"/><path d="M1702.9 255.2 C1697.9 285.2 1692.9 315.2 1687.9 345.2" stroke="#fff" stroke-width="8" fill="none"/><ellipse cx="1597.9" cy="405.2" rx="60" ry="22" fill="#999"/></g></mask><mask id="mbF" maskUnits="userSpaceOnUse" x="1537.9" y="245.2" width="190" height="188"><rect x="1537.9" y="245.2" width="190" height="188" fill="#fff"/><g filter="url(#bl3)"><path d="M1532.9 275.2 L1622.9 325.2 L1532.9 333.2 Z" fill="#000"/><path d="M1532.9 345.2 L1637.9 380.2 L1532.9 373.2 Z" fill="#000"/><ellipse cx="1625.9" cy="382.2" rx="28" ry="9" fill="#000"/><ellipse cx="1675.9" cy="295.2" rx="11" ry="12" fill="#000"/></g></mask><mask id="mbN" maskUnits="userSpaceOnUse" x="1537.9" y="50.3" width="190" height="188"><rect x="1537.9" y="50.3" width="190" height="188" fill="#fff"/><g filter="url(#bl3)"><ellipse cx="1586.9" cy="152.3" rx="8" ry="11" fill="#000"/><ellipse cx="1584.9" cy="202.3" rx="8" ry="9" fill="#000"/><ellipse cx="1554.9" cy="101.3" rx="7" ry="7" fill="#000"/><ellipse cx="1657.9" cy="160.3" rx="6" ry="6" fill="#000"/></g></mask></defs>
<rect x="1152.9" y="50.3" width="188.9" height="188.2" fill="#030303"/>
<rect x="1344.8" y="50.3" width="189.4" height="188.2" fill="#030303"/>
<rect x="1537.9" y="50.3" width="189.7" height="188.2" fill="#030303"/>
<rect x="1152.9" y="245.2" width="188.9" height="187.2" fill="#030303"/>
<rect x="1344.8" y="245.2" width="189.4" height="187.2" fill="#030303"/>
<rect x="1537.9" y="245.2" width="189.7" height="187.2" fill="#030303"/>
<defs><filter id="sb" x="-5%" y="-5%" width="110%" height="110%"><feGaussianBlur stdDeviation="0.35"/></filter></defs>
<path d="M1539.5 51.5h0m4 1.5h0m5-0.5h0m6-1h0m5 2h0m13 0.5h0m5-2.5h0m7 0h0m4 1h0m8.5 1h0m5-0.5h0m5 0.5h0m4.5-0.5h0m7 0.5h0m5-2h0m4 0h0m2.5 1.5h0m6.5 1h0m5-1h0m9 0h0m11-1h0m8.5-0.5h0m3.5 2h0m5-1h0m4.5 0h0m7.5 1h0m2.5-1h0m7 1.5h0m2.5-2h0m6 1h0m3-0.5h0m6.5 1.5h0m4.5-1h0m3.5 1h0m-182 4h0m3-2.5h0m4 0h0m5 1h0m4.5-0.5h0m6-0.5h0m5.5 0.5h0m4 0.5h0m6 2h0m4-3h0m4 0.5h0m10.5-0.5h0m10.5 2h0m3.5-1.5h0m5 2h0m10.5 0h0m4.5-2h0m3.5-0.5h0m5 0.5h0m11.5 2.5h0m2.5-2.5h0m11.5 1h0m5-1.5h0m5 2.5h0m3.5-2h0m15 0h0m3 2h0m11-1.5h0m14 1.5h0m-185.5 2.5h0m5 1h0m9.5-0.5h0m10.5 0h0m3 0h0m5 1h0m6 0h0m4.5-1h0m6-1h0m3.5 0.5h0m5.5 0.5h0m6 0h0m3.5 0h0m4.5 0h0m6.5 0.5h0m5-1h0m4.5 1.5h0m2.5-1h0m5-1.5h0m6.5 3h0m4.5-1h0m5.5 1h0m5-2h0m5 1.5h0m3-1h0m4-0.5h0m4 0.5h0m5-0.5h0m12 2h0m3-3h0m5 0.5h0m7 2h0m2 0.5h0m6.5-3h0m5 1.5h0m5.5 0.5h0m2 0.5h0m-182 3h0m3.5 1.5h0m3.5-1h0m5-1.5h0m5 0.5h0m6.5 0h0m3 0h0m5-1h0m6 0.5h0m6 0h0m3 1h0m4.5 0h0m7-0.5h0m4 1h0m3.5-1.5h0m4 2h0m5-2h0m7 2h0m3-1.5h0m4.5 0.5h0m7 1.5h0m2.5 0h0m5.5-3h0m5 1.5h0m5-1.5h0m3.5 1.5h0m4.5-0.5h0m6.5 1h0m5 0.5h0m8 0h0m4.5 0.5h0m6.5-0.5h0m3.5-0.5h0m7 0.5h0m4 0.5h0m5-2h0m3 0.5h0m7 0.5h0m-185.5 4.5h0m3 0.5h0m6.5-1h0m3.5 0.5h0m4.5-1.5h0m11 0.5h0m5.5 1.5h0m4.5-2.5h0m3.5 2h0m6-2h0m4 2h0m6-1.5h0m4 1h0m11-1.5h0m4.5 3h0m8-1.5h0m5.5 1.5h0m6-1.5h0m4.5-1h0m4-0.5h0m4.5 1h0m4 0h0m7-1h0m9 2.5h0m9.5-1.5h0m3.5-1h0m9.5 0.5h0m11.5 2h0m5 0.5h0m4.5-3h0m3.5 2h0m9-0.5h0m-180 4.5h0m6-1h0m16 0.5h0m2-1h0m4.5 0h0m6.5 2.5h0m4-1.5h0m5-0.5h0m4.5 2h0m5.5-1h0m3.5-1h0m12 2h0m2-0.5h0m6-0.5h0m5 1h0m6 0h0m2.5-2.5h0m6.5 2.5h0m5-0.5h0m4.5-2.5h0m3.5 3h0m5-2.5h0m6 1.5h0m3-0.5h0m5.5-1h0m4 0.5h0m7.5 1h0m3.5-1.5h0m6.5 1.5h0m1.5-0.5h0m6-0.5h0m6.5-0.5h0m3 1h0m4.5 1h0m-180 4.5h0m4.5-0.5h0m7.5-1h0m2.5 0h0m7-1h0m2.5 3h0m4-3h0m7.5 2.5h0m5.5 0h0m2 0h0m4.5-0.5h0m5.5-1.5h0m4 0h0m10 0.5h0m7 0h0m7.5 0h0m4 0h0m7.5-1h0m2.5 2.5h0m7 0h0m3 0h0m5-0.5h0m5-2.5h0m8.5 1h0m8 2h0m2.5-1.5h0m7-1h0m4 2.5h0m4.5-2h0m4 1.5h0m4 0h0m4.5-2h0m5.5 3h0m7-2.5h0m2 1h0m6-1h0m-179 6h0m3 0h0m6-1.5h0m3.5-0.5h0m5 2h0m10.5-2h0m5.5 2.5h0m4-0.5h0m6-2.5h0m9 3h0m5.5-1.5h0m4.5 1.5h0m4-1h0m4.5-1.5h0m4 1.5h0m5-2h0m6 0.5h0m3.5 2h0m4.5-2.5h0m6 2h0m3.5 0h0m10.5-0.5h0m9.5-1h0m10 2h0m6-1h0m2 0h0m8-1.5h0m3 1.5h0m8.5 0h0m7.5-1h0m5 2.5h0m2 0h0m7.5-1h0m-187.5 4.5h0m6 0h0m4-2h0m6 0.5h0m3.5 1.5h0m4.5-0.5h0m4.5 0.5h0m6.5-0.5h0m4-0.5h0m5.5 0.5h0m4.5-2h0m5 1h0m6 0.5h0m3.5-1h0m5 0h0m5-0.5h0m3.5 2.5h0m6-2.5h0m4.5 3h0m23-2h0m5 2h0m7-2.5h0m5 0h0m3.5 0.5h0m10 2h0m5-2.5h0m4.5 0.5h0m4.5 1h0m3.5 1h0m5.5-0.5h0m7-0.5h0m4-0.5h0m4.5-1.5h0m-176.5 4h0m4.5 2h0m6 1h0m3.5-0.5h0m4.5-1h0m5.5-0.5h0m6 0h0m8.5-0.5h0m6 2.5h0m4-2h0m5.5 1h0m12.5 0h0m5.5-1.5h0m9 0.5h0m21-1h0m5 1.5h0m4-0.5h0m4-0.5h0m6.5 2h0m4.5-1.5h0m4 1.5h0m9 0.5h0m5-2h0m7 1.5h0m4.5-1.5h0m5 1h0m4 1.5h0m5.5-1h0m3.5 0h0m4-1.5h0m4 2h0m-177 2.5h0m2-1h0m6.5 2h0m3-0.5h0m7.5 1h0m10-2.5h0m2 0h0m7 2h0m4-1h0m3.5 1.5h0m5.5-1.5h0m4.5 0h0m10.5 1.5h0m3-1.5h0m7.5 0h0m4-0.5h0m3 2h0m12.5-2.5h0m3.5 2.5h0m4.5-1.5h0m4 2h0m5-1h0m4.5 0h0m7 0h0m4-1h0m4 1.5h0m6.5-2.5h0m3 2.5h0m5 0h0m5-1h0m6 0.5h0m3-1.5h0m6 1.5h0m4 0.5h0m4-1h0m-179.5 5h0m4.5-2h0m26 2h0m3-0.5h0m4.5-0.5h0m5.5 1h0m5-0.5h0m4 0h0m6.5 1h0m4.5-0.5h0m3.5 0h0m6.5 0h0m4.5-0.5h0m3.5 0h0m5.5 0.5h0m5.5-1.5h0m4 1h0m5.5 1h0m5-0.5h0m4 0.5h0m5-2.5h0m6 1h0m3.5 0.5h0m5 0h0m8.5 0h0m10-2h0m5 0h0m5 2.5h0m4-1.5h0m7 0.5h0m4.5 0h0m2.5 1h0m6.5-1h0m-186 6h0m6-0.5h0m18-1.5h0m4 1h0m5.5-1.5h0m5.5 1.5h0m4.5 0.5h0m11-2.5h0m4.5 0h0m5.5 2h0m2-2h0m7 1h0m5.5 1h0m4.5-0.5h0m4 1h0m5.5-2h0m4 1.5h0m6-0.5h0m2.5-1.5h0m4.5 1h0m6 0.5h0m6-2h0m3.5 2h0m6-0.5h0m5-1h0m4 0h0m5 2.5h0m5.5-1h0m4.5-1.5h0m4 1h0m4 0h0m6-0.5h0m4 1h0m4 1h0m5.5-2h0m-179 4.5h0m3.5 1h0m11.5-0.5h0m3-1.5h0m6.5 2h0m4.5 1h0m4-1h0m5 0h0m5-0.5h0m3-1h0m7 2.5h0m3.5-0.5h0m5.5-2h0m4 0.5h0m5.5 2h0m4.5-3h0m9.5 0h0m9.5 1h0m5.5-0.5h0m2.5-0.5h0m5.5 3h0m7-2.5h0m4.5 0h0m3-0.5h0m6.5 2.5h0m3-0.5h0m6 1h0m6-1h0m2 0h0m5-1h0m5 1.5h0m4.5-1.5h0m6 1h0m6-1h0m4 0h0m5.5 2h0m-185.5 2h0m6 1.5h0m9.5-0.5h0m3.5 1h0m5.5-1h0m5-1h0m3 0.5h0m6.5 1.5h0m5-0.5h0m4-1.5h0m9-0.5h0m6 0h0m5.5 0.5h0m4 0.5h0m3.5 1h0m5.5-2h0m5.5 0.5h0m5.5 2h0m3-1h0m4-1.5h0m5.5 1.5h0m5.5-1.5h0m6 1h0m3.5 1h0m5-1.5h0m10.5 0.5h0m2.5 1h0m7 0h0m5-1.5h0m2.5-0.5h0m4.5 1.5h0m9.5 0h0m5 1h0m11-1.5h0m-181 3h0m11.5 0h0m7 0h0m7.5 2h0m4 0h0m3.5-1.5h0m5.5 0h0m4 1.5h0m6.5-1.5h0m10 2h0m9.5-0.5h0m3 0.5h0m6-2.5h0m3 2h0m5 0.5h0m5.5-2.5h0m6.5 1h0m7 2h0m7.5-1h0m3.5-1.5h0m11 2h0m2.5 0h0m9 0h0m5-3h0m6 1h0m6 0h0m2.5 0h0m6.5 0h0m3 1h0m5.5-1h0m6 2h0m3-2.5h0m-184 6h0m6-1h0m5 0.5h0m5 0h0m3-1h0m5 0h0m5.5-0.5h0m4 1.5h0m6 1h0m3.5-0.5h0m6-2h0m5.5 1.5h0m3.5 0h0m6-1h0m2 0h0m5-0.5h0m5 0h0m6 1.5h0m3.5 1h0m4.5-2h0m6.5 0.5h0m4.5-0.5h0m6 0h0m4.5 0h0m5.5 0.5h0m4.5 0.5h0m5 1h0m2.5-1.5h0m11.5 1.5h0m8-1h0m5 0h0m5 0h0m4 1.5h0m7-1h0m5 0.5h0m4-1.5h0m-171.5 4h0m10 0h0m5-0.5h0m3.5 0.5h0m5.5 0h0m5.5 2h0m5-1h0m5-0.5h0m4.5 0h0m3.5-0.5h0m5.5 1h0m4.5 1h0m5.5-1.5h0m6.5-0.5h0m2-0.5h0m5.5 0h0m5 2h0m4 0.5h0m4.5-2h0m6.5 1h0m5.5-0.5h0m4.5 1h0m7.5 0.5h0m7-1h0m5.5 0h0m4 1h0m3.5-1.5h0m6-0.5h0m4 0.5h0m5.5 1.5h0m4-2.5h0m4 1.5h0m4.5 1h0m14-3h0m-183 7h0m4.5 0.5h0m5-1h0m4-0.5h0m7 0.5h0m2-1h0m6.5 0.5h0m6 0h0m3.5 1.5h0m4.5-0.5h0m4 0.5h0m5.5-3h0m11 1h0m3 0.5h0m4.5-1h0m11-0.5h0m5 0.5h0m2.5 0h0m6.5 1.5h0m4.5-0.5h0m10-0.5h0m3.5 1h0m4.5-1.5h0m7 1h0m2.5-1.5h0m5.5 2h0m4.5-1.5h0m7 1h0m3.5-0.5h0m9.5 1h0m3.5 0.5h0m5.5 0h0m10.5 0.5h0m4.5-1h0m-180 4.5h0m4-1.5h0m7.5 0h0m2 0.5h0m5.5-1.5h0m6 1h0m3 0h0m4.5 1h0m5 0h0m5 0.5h0m5.5 0h0m4-1.5h0m5.5 2h0m6.5-1.5h0m3-1h0m4.5 2.5h0m5-2.5h0m4.5 2h0m5.5-1h0m6-0.5h0m4 0h0m3-0.5h0m5.5 1.5h0m6-1h0m4-1h0m4.5 0.5h0m11 2.5h0m3-2h0m6.5 1h0m4 0h0m4 0.5h0m6-2h0m6 2h0m2-2.5h0m5 1h0m4.5 0h0m5.5 1.5h0m6.5-1.5h0m-185 4h0m5 1.5h0m2.5 0.5h0m5-2h0m11.5-0.5h0m4 2h0m9.5 0.5h0m6 0h0m3.5-2.5h0m8.5 2h0m7 0h0m4 0.5h0m5-2h0m4 0.5h0m5-1h0m5.5 0.5h0m9 0h0m4 1h0m7 0h0m2.5 0.5h0m6 0h0m3.5-1.5h0m5-0.5h0m5 2h0m4.5-1.5h0m5.5-0.5h0m3.5 3h0m11.5-3h0m4.5 0h0m3.5 2.5h0m6.5 0h0m4-2h0m4 1.5h0m5.5-2h0m-180.5 6.5h0m7-1.5h0m5 0h0m4 0h0m3.5-1h0m6 2.5h0m6 0.5h0m3.5-2.5h0m5-0.5h0m8 0h0m5 2h0m7 0.5h0m3.5-2h0m5 0.5h0m4.5 1h0m6.5-1.5h0m3 1h0m4-1.5h0m16 2.5h0m5-1h0m4.5 1.5h0m5-2h0m5.5-1h0m4 1h0m5 0h0m4 0.5h0m4.5-1.5h0m6.5 1.5h0m4.5-1h0m4 0h0m5 0h0m3 1h0m5-0.5h0m6 1.5h0m5.5-0.5h0m-182 4.5h0m5 0.5h0m7-2.5h0m2.5 0h0m4.5 1.5h0m5.5 0h0m7 0h0m3.5 1h0m3.5-0.5h0m17 0h0m3.5-2h0m10 0.5h0m4 1.5h0m4-2.5h0m7 0.5h0m3 1.5h0m4.5 1h0m9-2h0m6.5 2h0m3-2.5h0m7 0.5h0m3 1.5h0m7.5-0.5h0m3-1.5h0m5.5-0.5h0m4 1.5h0m5-0.5h0m5.5 0h0m4.5 2h0m3.5-1h0m5.5-0.5h0m11.5-1.5h0m4.5 3h0m4-1h0m-179 5h0m3-0.5h0m5.5-0.5h0m5-0.5h0m9 0h0m4 0h0m4 1.5h0m26-2.5h0m5 3h0m5.5-2h0m2.5 0h0m5.5-0.5h0m4 0h0m5 0.5h0m6 1.5h0m10-2.5h0m5.5 0.5h0m2.5 1h0m6.5 1h0m3.5-0.5h0m5 0h0m4-1h0m6.5-0.5h0m4.5 0h0m3 2h0m8-2.5h0m4 0.5h0m3-0.5h0m4.5 2.5h0m6.5-1h0m5 0h0m5-1h0m5 1.5h0m-185 5h0m7.5-3h0m6.5 2.5h0m6-2h0m2-0.5h0m4.5 1.5h0m5.5 1.5h0m4.5-2.5h0m7.5 0h0m14 1h0m5-1.5h0m2 2h0m7.5-2h0m9 0.5h0m3.5 0.5h0m4.5 1.5h0m5 0.5h0m6-2.5h0m5.5 0h0m4.5 0h0m4 2h0m5.5-1h0m4.5 1h0m5.5-1.5h0m5-0.5h0m5 0.5h0m2 2h0m7.5-2.5h0m2 0h0m14.5 0h0m6.5-0.5h0m3.5 1h0m4 2h0m-178.5 1.5h0m4 1.5h0m6.5-0.5h0m15 1h0m2.5-1.5h0m4.5 0.5h0m6.5-0.5h0m15 1.5h0m8-1.5h0m4.5 2h0m6 0h0m5-2h0m3.5-0.5h0m6.5 2.5h0m4.5-2h0m7.5 1.5h0m10.5-0.5h0m10.5 0h0m4 0h0m4.5 0h0m7-0.5h0m3.5 0h0m3.5 1.5h0m6-1.5h0m4-1h0m5.5 1.5h0m6 1h0m3.5-0.5h0m4-2h0m4.5 0.5h0m6 0.5h0m-185 6h0m5-2h0m5.5-1h0m4 1.5h0m4.5-0.5h0m4-0.5h0m4.5-0.5h0m5.5 0.5h0m7-0.5h0m18.5 0.5h0m4.5 2h0m8.5 0.5h0m5-1h0m4 0h0m12-2h0m3.5 1h0m5 0h0m4.5 0h0m6 1h0m12.5-1.5h0m7-0.5h0m4.5 1.5h0m4.5 0.5h0m3 0h0m6.5 1h0m5.5-3h0m8 0.5h0m4.5 2h0m5.5-1.5h0m4.5 1.5h0m6.5-2h0m2 1h0m-183.5 4h0m4.5 1h0m6.5-1h0m3 0h0m5.5-0.5h0m5.5 0h0m5 0.5h0m5 0h0m2-0.5h0m5 1.5h0m11 0h0m5.5-0.5h0m3 0.5h0m7-2h0m8 1.5h0m6.5 0h0m2 0h0m7.5-1h0m4 0h0m3.5 2h0m7-2.5h0m5 0.5h0m3 1h0m5.5-2h0m5 1h0m3 1.5h0m11-1.5h0m8 0.5h0m6.5 0h0m3.5-1h0m15 2.5h0m4-2h0m5.5 1h0m-183.5 3h0m4.5-0.5h0m5.5 1.5h0m2-0.5h0m7-1h0m4 0.5h0m9.5 1.5h0m5-2h0m6 0h0m4 0h0m3.5 1h0m5.5-1h0m4.5 0h0m6.5 1h0m2 1.5h0m7.5-1h0m3 0.5h0m5-2.5h0m5.5 1h0m3.5 1h0m6.5 0.5h0m3-1.5h0m7.5-1h0m4 2.5h0m7.5 0.5h0m6-2.5h0m6 1.5h0m3.5-1.5h0m11.5 2h0m9-0.5h0m4.5 0.5h0m3 0h0m5 0.5h0m6.5-2.5h0m5.5 2.5h0m-181 2.5h0m5.5 1.5h0m7.5 0.5h0m5-0.5h0m4.5-1.5h0m6 1.5h0m5.5-1.5h0m10 0h0m4 1.5h0m5 0h0m2.5-1h0m5.5 1h0m6-1.5h0m4 0h0m6-0.5h0m3.5 1.5h0m6 0.5h0m5-2.5h0m8.5 0.5h0m5.5 2h0m4.5 0.5h0m6.5-2.5h0m2 1h0m5 1h0m7-2h0m2.5 1h0m12 0.5h0m8 0h0m4.5-0.5h0m6.5 0h0m5-1.5h0m4 1.5h0m5 1h0m5-2.5h0m-187 7h0m5-1h0m4.5-1h0m6.5 0h0m4 0.5h0m7 0.5h0m8.5 0h0m3-0.5h0m7-0.5h0m4 1.5h0m5.5-2h0m2.5 0.5h0m7.5 2h0m3 0h0m4.5-1.5h0m5-0.5h0m7-0.5h0m4.5 1h0m4 1h0m3 0h0m6.5-0.5h0m9.5-1h0m3.5 1.5h0m7-1h0m5-1h0m2 1h0m7-0.5h0m3 0h0m7.5 1h0m8.5-1h0m5 0h0m5 0.5h0m4.5 1.5h0m3.5-3h0m5.5 2.5h0m5-1.5h0m-179.5 5.5h0m4.5 0h0m5.5 0.5h0m4.5-1h0m2.5 0.5h0m6.5-1.5h0m5 1.5h0m3.5-1.5h0m6 2h0m4-0.5h0m6.5-1.5h0m4-0.5h0m3 1h0m7-1.5h0m2.5 1h0m5.5 0h0m4.5 1.5h0m7 0h0m2 0h0m6.5-1h0m5 1h0m4-1h0m11 1.5h0m5.5-2.5h0m2 1h0m6.5 0h0m3.5 0h0m4.5 1h0m5.5-2h0m4 0.5h0m6.5 2h0m5.5 0h0m4.5-2.5h0m2.5 2.5h0m6.5-2h0m8.5-1h0m5 3h0m-184.5 1.5h0m4 2h0m7.5 0.5h0m3 0h0m3.5-1h0m5.5-1h0m12 0.5h0m3 1.5h0m4-2.5h0m6 1h0m5.5 1h0m2.5 0.5h0m5-1.5h0m7 0.5h0m8-1.5h0m4 0.5h0m6.5 1.5h0m4.5-2h0m3.5 1h0m6.5 1h0m5 0h0m3 0.5h0m10-1.5h0m6.5 1h0m9.5-2h0m3 2.5h0m6.5 0h0m5.5-2h0m2 1.5h0m7.5 0h0m4.5-1.5h0m2.5 2h0m7.5-3h0m3.5 3h0m5-1h0m3-1.5h0m-184 5h0m6.5-1h0m5 1.5h0m4-1h0m3 2.5h0m5.5-3h0m6.5 2.5h0m3.5-1.5h0m11-1h0m2.5 2h0m6-0.5h0m15.5 0.5h0m4.5 0.5h0m8.5-0.5h0m4.5-1h0m10.5 2h0m5.5 0h0m3-2.5h0m4 0h0m7.5 0.5h0m4.5 2h0m4-3h0m4 2h0m5.5 1h0m5-1h0m10 1h0m7.5-2.5h0m8 0h0m4 1.5h0m5-1.5h0m2.5 1.5h0m5.5 1h0m-184 3h0m5-1h0m3-1h0m5 0.5h0m7.5 2h0m4-2h0m3.5 1h0m5 1h0m6.5-1.5h0m12.5-1h0m6.5 0.5h0m4 1.5h0m9 0h0m4-1.5h0m10.5 2h0m6-1.5h0m4-0.5h0m5.5 0.5h0m4.5 0h0m3.5 0.5h0m6 0h0m3 0.5h0m5.5-2h0m4 1.5h0m5-1h0m5 0.5h0m4.5-0.5h0m6 2.5h0m3.5-2h0m16 0h0m6 0h0m2.5 2h0m6.5-2.5h0m-180.5 5h0m6 0.5h0m1.5 0.5h0m5-0.5h0m6.5-1h0m5 1.5h0m5.5 1h0m22-1h0m7-1h0m2 2h0m11 0h0m4-0.5h0m7.5-1.5h0m4.5 0h0m3 1h0m5-1.5h0m3.5 1h0m6 0h0m4-1h0m7.5-0.5h0m3.5 1.5h0m3-1h0m6.5 0.5h0m6 1h0m11.5-2h0m17 2h0m2.5-1.5h0m6.5 2h0m6-2h0m4.5 1h0m-185.5 3.5h0m3.5 0.5h0m4 1h0m6-0.5h0m3.5-0.5h0m7 0.5h0m5.5 0.5h0m3 0.5h0m23-2.5h0m6-0.5h0m6.5 2h0m4-0.5h0m4-1.5h0m10.5 2.5h0m8 0h0m5 0h0m6.5 0h0m2.5-2.5h0m6.5 1h0m2.5-0.5h0m5 0h0m7 2.5h0m8-2h0m5 0.5h0m5-1.5h0m15.5 1h0m3.5 2h0m4-2.5h0m6 1.5h0m6 0.5h0m-180 4h0m3-2h0m6 0h0m5 0h0m3.5 0.5h0m6 1.5h0m5-1.5h0m4.5 1.5h0m19.5 0.5h0m3.5-2h0m4 1h0m5 0h0m7.5 1h0m2.5-2.5h0m6 1h0m4.5 1h0m3.5-1h0m5.5 1h0m5-1h0m6 0h0m5.5 1.5h0m2-1.5h0m12.5-1h0m3.5 0.5h0m5.5 1.5h0m2.5-1h0m7.5-1h0m4.5 0h0m2.5 0h0m7 0h0m4.5 1h0m8-0.5h0m7 2h0m5-1h0m-186.5 4.5h0m8.5 0.5h0m5.5-2h0m7 0h0m2.5 0h0m5 0h0m6.5 2h0m2-0.5h0m8 1h0m4.5-0.5h0m3-1.5h0m5-1h0m6.5 1h0m4.5 1h0m9.5 0h0m3 0h0m7-2h0m3 2.5h0m6.5 0h0m2.5 0.5h0m6.5-1h0m5.5-0.5h0m3 1h0m6.5-2h0m3-0.5h0m4 2.5h0m5-2.5h0m5 1.5h0m7 1.5h0m4-0.5h0m5.5-0.5h0m5-0.5h0m4 1h0m4-1.5h0m5.5-0.5h0m4 2.5h0m4-0.5h0m-178 3h0m4 1h0m4.5-2h0m6 0h0m5.5 1h0m4 1.5h0m3.5-2h0m4.5 0.5h0m12 0.5h0m2 1h0m7-0.5h0m5-2h0m13.5 0h0m5.5 1h0m3-0.5h0m5.5 0.5h0m3.5-0.5h0m7-0.5h0m4 0h0m6 0h0m4.5 2h0m4.5-1.5h0m9-1h0m5.5 2h0m8.5 0.5h0m4-2h0m6.5 0.5h0m3.5-1h0m5 1.5h0m10 1.5h0m4-1h0m4.5-2h0m7.5 1.5h0m-186.5 4h0m5-1h0m5-0.5h0m5.5 1.5h0m5.5 0h0m2.5 0.5h0m6.5 1h0m3.5 0h0m5.5-0.5h0m6-0.5h0m2.5-1.5h0m6.5-0.5h0m4 1.5h0m6 0h0m5 0.5h0m3-0.5h0m6-0.5h0m9 0h0m5.5-0.5h0m2.5 0.5h0m7-0.5h0m2.5 0.5h0m11 2h0m6-1.5h0m4.5 1.5h0m2.5 0h0m6.5 0.5h0m3-3h0m7 1.5h0m3-1.5h0m6.5 2.5h0m5.5-1.5h0m10 1h0m2-2h0m6.5 0h0m5-0.5h0m-181 7h0m11 0h0m2.5-2h0m6.5-0.5h0m5 1.5h0m5-0.5h0m4 1h0m10-1h0m3.5 1.5h0m11-1.5h0m3.5 1h0m6.5-0.5h0m9.5-1h0m4 2h0m4.5 0.5h0m6-3h0m2.5 2.5h0m6.5-2h0m5-0.5h0m5 0.5h0m10 2.5h0m3.5-0.5h0m4.5 0h0m6.5-1h0m4-1h0m3 2.5h0m7-3h0m3.5 0.5h0m3.5 1h0m7.5 1h0m3.5-1h0m9-1h0m4.5 0h0m-179 6h0m10 0.5h0m5-1.5h0m10 0.5h0m3-0.5h0m7 1.5h0m4-1h0m3-1.5h0m6 0.5h0m5 1.5h0m3.5 0.5h0m7.5 0h0m3.5 0h0m5-2h0m3.5-0.5h0m15.5 1h0m5-0.5h0m4 2h0m6.5-3h0m3.5 0.5h0m3.5 2h0m11.5 0h0m8.5-0.5h0m5 1h0m6-3h0m3 2.5h0m7-1.5h0m8 1h0m6 1h0m4.5-2h0m-175.5 5.5h0m5-0.5h0m5.5-1h0m2.5-0.5h0m7 0h0m4 1.5h0m4.5-2h0m4.5 1h0m4.5 2h0m4-1.5h0m5.5 1h0m6 0.5h0m4.5 0h0m3.5-2.5h0m5.5 0h0m5 0.5h0m6.5 0h0m9 0.5h0m2.5-1h0m6.5 0h0m3 1.5h0m5 0.5h0m6-2h0m4.5 2h0m6.5-2.5h0m3 1h0m6 2.5h0m3.5-1h0m5 0h0m4-2h0m7.5 2.5h0m3.5-1.5h0m5 0.5h0m3.5 1h0m5.5-2.5h0m4 2h0m6 1h0m5.5-1h0m-186.5 2h0m6.5 1h0m3.5 1h0m6.5-1h0m2 1h0m6.5-1.5h0m5.5-0.5h0m4.5 0h0m28.5 0.5h0m4.5 0.5h0m5 0.5h0m4 0h0m5 0.5h0m5.5-1.5h0m5 2h0m9-1.5h0m4.5 1h0m5 0h0m5-1h0m4.5 1.5h0m4-2h0m6.5 1.5h0m5-1.5h0m14.5 0h0m2.5 2h0m6-1.5h0m5 1h0m9.5-1h0m6.5-0.5h0" stroke="#2d52bc" stroke-width="2.5" stroke-linecap="round" fill="none" filter="url(#sb)"/>
<path d="M1699.5 218h0m-80.5-131.5h0m65.5 34.5h0m-124 99h0m61-95h0m29.5-26.5h0m-109.5 25h0m68.5-71h0m-1.5 141h0m-7.5-15.5h0m55.5-92h0m-114.5 91h0m112-71.5h0m-78 106h0m134.5-117.5h0m-61.5 64.5h0m-50-101.5h0m0.5 114.5h0m52.5-25h0m-91-56h0m36 38h0m10 91.5h0m-47 16h0m23.5-24.5h0m0.5-50.5h0m25.5-103.5h0m79.5 145.5h0m-100-6.5h0m40 39.5h0m-81-114h0m33 46h0m104.5 41h0m-43.5-86h0m47.5-53h0m-102.5 122h0m34.5 45h0m-66.5-100h0m23-86.5h0m-22.5 17h0m52.5 64h0m26-27h0m37 43h0m53-65.5h0m-89 61h0m-26.5 69.5h0m-31 3h0m28.5-102h0m48.5 43h0m-62.5-90.5h0m127 54h0m-159.5 54h0m79.5-62h0m-39 97.5h0m2-80.5h0m117.5-11h0m-105.5-37h0m49.5 94.5h0m-41-49h0m-40.5 72.5h0m42.5 8h0m-15.5-18.5h0m-65.5-97h0m176.5 87h0m-54-34.5h0m-38.5-56.5h0m-57 84h0m99-72.5h0m-9.5-23h0m-6 6.5h0m-19.5 27h0m8-34h0m-13 91h0m-66-58h0m103 44.5h0m-11.5 44h0m-8.5-105h0m-24.5 114.5h0m23.5-14.5h0m-38.5-57.5h0m115 70.5h0m-60.5-134.5h0m-7.5-14h0m61 176.5h0m-39-132.5h0m22.5-17h0m-3.5 65h0m-154 69.5h0m80.5-11.5h0m47-56h0m33-62h0m7 25.5h0m-165.5-0.5h0m7.5-49.5h0m106 9h0m-88.5 32.5h0m23 118h0m118.5-9.5h0m16-81h0m-36.5-30h0m24.5 100h0m-36.5-110h0m-121.5 131.5h0m87-59h0m59-88h0m-31 60h0m16.5-1.5h0m-112 94.5h0m16-40h0m104.5-93.5h0m-26 28h0" stroke="#c82a2a" stroke-width="1.8" stroke-linecap="round" fill="none" opacity="0.85"/>
<path d="M1387.5 91h0m138.5 28.5h0m-84.5 25h0m-91.5 47.5h0m136 23h0m-73.5-125h0m-2 98h0m59-61.5h0m-25-47h0m74.5 59.5h0m-78 59.5h0m-58.5-12h0m29.5 16.5h0m-49.5-101h0m103 39h0m-49 18h0m-30.5-26.5h0m-41 68h0m48 6h0m56.5-43h0m14-89.5h0m28.5 31.5h0m16.5 93h0m-35 5h0m-46-26.5h0m98-91h0m-161.5 42h0m77.5-49.5h0m-54.5 135h0m31.5-135h0m-39 80.5h0m1.5-19.5h0m66-6.5h0m-6.5 75h0m-92.5 17.5h0m34.5-168h0m108 100h0m-43.5-66h0m46 16.5h0m-10.5-14.5h0m-29 79h0m-38-32h0m-58.5 31h0m119-92.5h0m-26.5 109.5h0m-85.5 19.5h0m146-148h0m-118 6h0m0.5 0.5h0m45 31h0m-36 39.5h0m14 61.5h0m66.5-126.5h0m-95-20h0m20.5 18.5h0m69.5 126.5h0m56.5-107.5h0m-181.5 103.5h0m71 32.5h0m-4-116.5h0m-60.5 119.5h0m83.5-95.5h0m-14.5 62h0m75-55h0m-124-13h0m135.5 0h0m-44 28.5h0m-37.5 3h0m-41-3.5h0m117.5-89.5h0m-94 150.5h0m115.5-163h0m-67 116.5h0m41-30.5h0m-135-32h0m110.5 80.5h0m-96.5-16.5h0m86 3h0m-120.5-40.5h0m57.5 29h0m2-88h0m63.5 30h0m23 3.5h0m-46.5 94.5h0m-82-14.5h0m-9 38.5h0m-8-40h0m65-102.5h0m5 60.5h0m4-71h0m20.5 33.5h0m84.5 15.5h0m-101-29.5h0m101 18h0m-61 96h0m-48-14.5h0m-22-121.5h0m-44.5 64h0m157.5-46.5h0m-82 105.5h0m-31.5-115h0m46.5 51.5h0m79.5 88.5h0m-133-63h0m34-99.5h0m5 166h0m-27-62h0m77.5-98.5h0m40.5 9h0m-118 114h0m-53.5-64h0m20.5 18.5h0m-21-61h0m39-13h0m-25 21.5h0m81-11h0m57.5 53h0m-108-33.5h0m111.5-36.5h0m-18.5 9.5h0m38.5 58.5h0m-66 86h0m-94-150.5h0m112.5 98.5h0m5-58.5h0m-42.5-17h0m-11.5 18h0m28.5 3h0m-59 64.5h0m-36 30h0" stroke="#a01c1c" stroke-width="1.8" stroke-linecap="round" fill="none" opacity="0.9"/>
<path d="M1439 93.5h0m-72.5 52.5h0m74 39.5h0m-25-57.5h0m98.5-26h0m17 116.5h0m1.5 9.5h0m-139-24.5h0m67.5-115h0m73 83.5h0m-35.5-16.5h0m-138.5 57.5h0m18-114h0m83.5-12h0m-29 97.5h0m-69.5-10h0m1.5-34.5h0m103.5 39.5h0m-115-93h0m174 37.5h0m-101.5-3h0m51.5 68.5h0m-9-63.5h0m-15 21.5h0m-72.5 81.5h0m147.5-32.5h0m5-58.5h0m-29-42.5h0m-18.5 89.5h0m37.5 22h0m-11.5-106.5h0m-17.5 39.5h0m-90-20.5h0m92.5 89.5h0m8.5-32.5h0" stroke="#d02828" stroke-width="2.3" stroke-linecap="round" fill="none" opacity="0.9"/>
<path d="M1185 79.5h0m75.5 10.5h0m-44-20.5h0m-34 115.5h0m13 25h0m20 0h0m-5-109.5h0m17.5-48h0m7.5 69.5h0m-80 90.5h0m68.5-162h0m111 43h0m-134-38.5h0m-29 129h0m91.5-39h0m-64-40.5h0m137.5 16h0m3.5 96.5h0m-164-7h0m-19.5-26h0m149.5-3h0m-49.5 22.5h0m-75-51.5h0m21.5-26.5h0m-14.5 58h0m72.5 13.5h0m10.5-34h0m56 40h0m-67.5-91.5h0m68.5 8.5h0" stroke="#2a8a2a" stroke-width="1.6" stroke-linecap="round" fill="none" opacity="0.8"/>
<g fill="none" stroke="#38b838" stroke-width="1.3"><ellipse cx="1215.9" cy="128.3" rx="2.6" ry="3.2"/><ellipse cx="1218.9" cy="134.3" rx="2.4" ry="2.6"/><ellipse cx="1220.9" cy="140.3" rx="2.2" ry="3"/><ellipse cx="1222.9" cy="146.3" rx="2.6" ry="2.6"/><ellipse cx="1224.9" cy="152.3" rx="2.4" ry="3"/><ellipse cx="1223.9" cy="158.3" rx="2.6" ry="2.6"/><ellipse cx="1221.9" cy="163.3" rx="2.2" ry="2.4"/><ellipse cx="1216.9" cy="174.3" rx="1.4" ry="1.4"/><ellipse cx="1209.9" cy="197.3" rx="3.4" ry="2.8"/><ellipse cx="1213.9" cy="186.3" rx="1.2" ry="1.2"/></g>
<g fill="none" stroke="#6ad05a" stroke-width="1.3"><ellipse cx="1600.9" cy="128.3" rx="2.6" ry="3.2"/><ellipse cx="1603.9" cy="134.3" rx="2.4" ry="2.6"/><ellipse cx="1605.9" cy="140.3" rx="2.2" ry="3"/><ellipse cx="1607.9" cy="146.3" rx="2.6" ry="2.6"/><ellipse cx="1609.9" cy="152.3" rx="2.4" ry="3"/><ellipse cx="1608.9" cy="158.3" rx="2.6" ry="2.6"/><ellipse cx="1606.9" cy="163.3" rx="2.2" ry="2.4"/><ellipse cx="1601.9" cy="174.3" rx="1.4" ry="1.4"/><ellipse cx="1594.9" cy="197.3" rx="3.4" ry="2.8"/><ellipse cx="1598.9" cy="186.3" rx="1.2" ry="1.2"/></g>
<path d="M1172.5 308h0m114.5 112.5h0m-11.5-50.5h0m55 21.5h0m-93-59.5h0m59.5-27h0m-123.5 57h0m133-70h0m-24 121h0m-105.5-142.5h0m69.5 37.5h0m86.5 125h0m-95.5-38.5h0m35-116.5h0m65 0h0m-170 52.5h0m-11 5h0m74.5 89.5h0m0.5-20h0m69.5-49.5h0m-103-53h0m48 17h0m29.5 21h0m-61.5 19h0m128-76h0m-125.5-36h0m-46 8h0m62.5 147h0m52.5 24.5h0m26-71.5h0m-48.5-108h0m-37.5 47h0m45-37h0m-14.5 58.5h0m-10 5.5h0m-73.5 61.5h0m132-25h0m-129.5 0h0m143 73h0m-21-177h0m22.5 116.5h0m-114 48h0m104-5h0m-109.5-59.5h0m25-53h0m72.5 60h0m-81.5-13.5h0m113 4.5h0m-3-0.5h0m15-101h0m-101 98.5h0m51 78.5h0m-20-92.5h0m2 10.5h0m13.5 78h0m-131-118h0m163.5-49h0m-16-5.5h0m-27 145h0m-78-79h0m-2 61h0m57-19h0m-38.5-3.5h0m119.5 36.5h0m-0.5-100.5h0m-82.5 26.5h0m-32.5 78.5h0m-32.5-46h0m113.5 71h0m-143-125.5h0m90 125.5h0m-62.5-18h0m44-55h0m101-91h0m-113.5 17h0m-37 28h0m107.5 52h0m-110 41.5h0m73-124h0m59.5 127.5h0m-114.5 22.5h0m112.5-133.5h0m-153.5 120h0m156.5-145h0m-11 127h0m-25.5 11.5h0m66.5-95h0m-28.5 111.5h0m-98.5-44.5h0m70 31h0m-22-108h0m-60 50.5h0m-22 59.5h0m143-116h0m-36.5 81h0m-109 19.5h0m122.5-88.5h0m-127-5h0m128 35h0m8-58h0m-134.5 36h0m147-35.5h0m-153 111.5h0m3-16h0m-1.5-79.5h0m110.5 118h0m-48.5-79.5h0m-71.5-20.5h0m40 84h0m89.5-0.5h0m-34.5-16h0m-77-59.5h0m31.5-19h0m84.5-13h0m-78.5 13h0m102.5 67h0m-73-49h0m83.5 105.5h0m-89.5-70h0m78.5-58.5h0m-114.5-29h0m46 125.5h0m-65.5-63.5h0m158.5 9.5h0m-115.5 67h0m96.5-87h0m-145.5 49h0m117 54h0m-15.5-116h0m-27.5-3.5h0m-13 34h0m88.5 82h0m2.5-80.5h0m7.5-63.5h0m-8.5 94h0m-9-42.5h0m22.5-73h0m-27.5 149.5h0m-89.5 1.5h0m-30.5-14h0m48.5-64.5h0m-52 73.5h0m101.5-134h0m47 25h0m-114.5 36h0m38.5 89.5h0m69.5-48h0m-110-99h0m-56 77.5h0m97.5-13.5h0m76-6.5h0m-120 1h0m-34 98h0m79.5-74.5h0m-31.5-55h0m-21 45.5h0m25 91.5h0m22-145.5h0m-96.5-9h0m55.5 117.5h0m103-103h0m-20.5 39h0m-46 17h0m-94-88h0m118.5 117.5h0m-54.5 43h0m83.5-116h0m-143 47.5h0m111.5-62h0m-116 49.5h0" stroke="#2a9a2a" stroke-width="1.8" stroke-linecap="round" fill="none" opacity="0.8"/>
<path d="M1306 357.5h0m-109.5 46.5h0m-38-56h0m140.5-43.5h0m-25.5 24h0m-61.5-19h0m-26.5 73.5h0m110-110h0m-0.5 103h0m-119.5-97h0m87 50h0m-74 50h0m-17.5-16.5h0m71 58h0m14.5 2h0m-99-85h0m158.5 35h0m-147.5 5h0m136.5-107.5h0m16.5 71.5h0m-106.5-37.5h0m76.5 84h0m-118.5-6.5h0m86.5 37h0m37-65.5h0m-55.5-47h0m1 12h0m46.5 13.5h0m-124 51.5h0m142-12.5h0m-134.5-14.5h0m4-67.5h0m125.5-14h0m-65.5 141.5h0m73-67.5h0m-109-48.5h0m64 26h0m-43.5 86.5h0m-48.5-130h0m34.5 14h0m-19.5 113h0m-1-119h0m136.5 43h0m-19-11.5h0m-1 31h0m-130.5 25h0m8.5 10.5h0m43-78.5h0m87 22h0m-93-26.5h0m79.5 44h0m30.5-85h0m-7.5 109.5h0m-31.5-36.5h0m-121 15h0m123.5 48h0m-36.5 25h0m-53-26h0m86-31.5h0m25.5-46h0m-155.5 24.5h0m109-32.5h0m37.5-34h0m-32 50.5h0m-99 55h0m123.5-51.5h0m-13.5 26h0m-123-33.5h0m155.5-3.5h0m-112.5 69h0m97.5-73.5h0m10 53.5h0m13.5 26.5h0m-126.5 8h0m101-98h0m-37 13.5h0m30 39h0m34-7h0m-123.5-63h0m29.5 22h0m92 18.5h0m-24.5-54h0m-108 129.5h0m113-127h0m-84.5 132h0m41-53.5h0m39-68h0m-12 47h0m-50-25h0m66.5-66.5h0m18.5 41h0m-129.5 108h0m110.5-127.5h0m18.5 67.5h0m-138-44.5h0m137.5 39.5h0m-166.5 30h0m40.5 50.5h0m-20-124.5h0m27 9h0m57 64.5h0m80.5 6h0m-173.5-1.5h0m149 9h0m-54 46h0m-18.5 0.5h0m81.5-71.5h0m-151.5 5.5h0m151.5 36.5h0m-0.5-52h0m-6 53.5h0m-31.5-29.5h0m-7.5-18.5h0m35.5 8.5h0m-27-14h0m-4.5-0.5h0m-7 31h0m39-23h0m-10.5-19h0m-143 41h0m115-41.5h0m-102.5-53h0m151 16h0m-47.5 39h0m39.5-12.5h0m-139.5 59h0m154.5 28.5h0m-163.5-24.5h0m15.5-27h0m-27-75.5h0m154.5 59h0m-83 78.5h0m69.5-55.5h0m-42.5 51.5h0m-100-77h0m102.5 91h0m20.5-85.5h0m46-9h0m1 30.5h0m-31.5 29.5h0m-110.5-2h0m106.5-32h0m-98-66h0m30 122h0m108-47h0m-89 51h0m51.5-43.5h0m-31-1h0m73 2.5h0m-157 13h0m143-11h0m-155.5-40h0m41.5-38h0m106.5 70.5h0m-4.5-107h0m-115.5 148.5h0m91-47h0m34 18.5h0m-86.5-69.5h0m67-32.5h0m-90 16.5h0m-21.5-4.5h0m117.5 18h0m-133 73h0m126.5-99h0m-105 123h0m-10.5-23.5h0m106.5-8h0m39.5-6.5h0m-30-30h0m-42-14.5h0m-86.5 55h0m0 13h0m101.5-45.5h0m-37.5 23.5h0m72.5-102.5h0m-54 77.5h0m-78.5 28.5h0m126.5-106h0m-47.5 50h0m54 67.5h0m-7-110.5h0m-19.5 54.5h0m-59 82h0m-9.5-9h0m-47.5-41.5h0m81-35h0m50.5 18.5h0m-84.5 62h0m94.5-150.5h0m-13.5 99h0m-130-17h0m132 21h0m-126.5 27.5h0m8.5-34.5h0m112.5 25.5h0m-132.5-26.5h0m9.5 19h0m130-49.5h0m5.5-63h0m-97.5 43h0m15.5 106h0m-61.5-138.5h0m127 122h0m18.5-82.5h0m-81 1h0m-11.5 113.5h0m69.5-83.5h0m-55.5-25.5h0m74 5.5h0m15.5 49h0m-19.5-50h0m18 33h0m-83 67h0m69.5-149h0m-104.5 21.5h0m20 124.5h0m88-93.5h0m-100.5-27h0m44 20.5h0m-75 61h0m147-68.5h0m-160-34.5h0m-3.5 73.5h0m14 23h0m75.5 45.5h0m69.5-85.5h0m0-11h0m-23 52h0m-7.5 20h0m49-18h0m-84 51.5h0m-77-40h0m159-116.5h0m-167.5 69.5h0m149.5-4h0m-2.5 57h0m-149-117.5h0m140.5 105.5h0m-61 41.5h0m57.5-40.5h0m3-62h0m22.5-29h0m-143-8.5h0m-18.5 75h0m103.5-30.5h0m54.5 64.5h0m-149-37h0m148.5 8.5h0m-92.5-52h0m33.5 111h0m19-54h0m-57.5 45.5h0m111.5-56.5h0m-76 68.5h0m52-68.5h0m15 19.5h0m-14-14.5h0m-5-108h0m-1.5 1h0m10.5 114h0m-32-18.5h0m-114 34.5h0m141.5-39.5h0m-8-48h0m38 81h0m-44.5-69h0m24-3.5h0m-53.5 90h0m46.5-47.5h0m-15.5 29.5h0m-108-82h0m-9.5 100h0m118-64.5h0m13-2h0m17-53h0m-170.5 74h0m36-51.5h0m-7.5 99h0m124.5-44.5h0m22-33.5h0m-143 90.5h0m78 13.5h0m-105.5-72.5h0m45.5 70.5h0m54.5 1h0m43.5-65.5h0m-147-19h0m183-25h0m-114.5 101.5h0m111-58.5h0m-149.5-66h0m115.5 87.5h0m-55 26h0m44-26h0m-13.5-37h0m28.5 13.5h0m-147.5-15.5h0m138-15h0m-69 93h0m99-67h0m-64.5-21.5h0m-83.5 40h0m120.5-81.5h0m-56 74h0m55-29h0m-128 28.5h0m133.5 3.5h0m-56.5-39.5h0m-23-22h0m75.5 28h0m-23 32h0m-38-37.5h0m61.5 1.5h0m-11.5 15h0m34.5-42h0m-18-29h0m-120.5 112.5h0m24.5-81.5h0m108 20h0m-11.5 56.5h0m-140.5-8h0m29-73.5h0m-23 60h0m119.5 8h0m35.5-70.5h0m-74.5 135h0m-74-140h0m43.5 130.5h0m-44.5-30.5h0m142.5-75.5h0m-13.5-15h0m6.5 73.5h0m-132.5-89.5h0m-12.5-5.5h0m94 155.5h0m10.5-78.5h0m-96.5 5.5h0m9 31.5h0m107-19.5h0m-26.5-1.5h0m-72.5 29.5h0m-14.5-1.5h0m45-83h0m-49.5 69h0m132.5-108h0m-0.5 81.5h0m6 9.5h0m-62 51h0m-72.5-134.5h0m17.5 134.5h0m114-88h0m-10-14h0m2 45.5h0m-2.5-73h0m-61.5 31h0m-61.5 67.5h0m107.5-16.5h0m-107-7.5h0m126.5-38.5h0m19.5 45.5h0m-113 46.5h0m34.5 4h0m53-69h0m-130.5-12h0m136.5 35.5h0m26-86.5h0m-149 1h0m18.5 11h0m-18.5-11h0m-7.5 76.5h0m50-61h0m-26.5 112h0m70.5 9.5h0m62-43h0m-23 0.5h0m-5.5-69h0m-118-16h0m144.5 62.5h0m8 8.5h0m-111-56h0m106-45.5h0m-18.5 10.5h0m-145 6.5h0m0.5 68.5h0m113 10h0m-15 64.5h0m-84-30h0m45-98.5h0m39 26h0m-30 93.5h0m-79.5-82.5h0m0.5-58.5h0m59 37h0m97.5 59.5h0m-99 43h0m81.5-46h0m-122.5-2h0m75-46.5h0m-67-34.5h0m124 6.5h0m-9.5-6.5h0m20 70h0m10-76.5h0m-86.5 38.5h0m6.5-5.5h0m48 53.5h0m-130-20h0m70-38h0m-50.5-22h0m116.5 26h0m-125 40h0m52.5 62.5h0m-58.5-65.5h0m-7.5-76h0m96.5 47.5h0m18 43.5h0m-31.5 52h0m31-82.5h0m-81.5 73.5h0" stroke="#34b834" stroke-width="2.0" stroke-linecap="round" fill="none" opacity="0.9"/>
<path d="M1507 290h0m-105.5 54.5h0m-14.5-50.5h0m95.5 99.5h0m49-25h0m-120-35h0m44.5 23h0m63-4.5h0m8-17h0m-97.5-84.5h0m-23 85.5h0m-59.5-8h0m20-32.5h0m145.5 122h0m-146-61.5h0m70.5-100.5h0m-36 90.5h0m24.5 6.5h0m-68 8h0m103.5-79.5h0m-8.5 140h0m61.5-59.5h0m-70.5 25h0m-12.5-8.5h0m-15.5-28.5h0m68.5 6h0m-25-38h0m-48 51h0m18.5-40.5h0m-13-28h0m47 110.5h0m-81.5-43h0m63.5-2.5h0m25-44.5h0m-123.5-7h0m96.5 50h0m77 5.5h0m-52-58h0m27-41.5h0m17 68h0m-81.5 38h0m17 57h0m-80.5-175.5h0m90 31h0m-69.5 145h0m57-132.5h0m-31-13h0m-21.5-17h0m137.5 113h0m-117-118h0m117 147h0m-167-3.5h0m86.5 21.5h0m-21-103.5h0m-82 26.5h0m43.5 57.5h0m-2.5 0.5h0m20.5-14.5h0m72.5 24h0m-26.5-108h0m-59.5-23.5h0m-30 12h0m40.5 98.5h0m-59-60.5h0m95-64.5h0m35.5 9h0m9.5-7h0m25.5 27h0m-149-30.5h0m21-3.5h0m21 158h0m11.5-108.5h0m71.5-60.5h0m-126 150h0m45.5-131h0m-27.5 107h0m150.5-64.5h0m-50 11.5h0m-96.5-27.5h0m25.5-12h0m86.5-30h0m-77.5 121h0m-67 43h0m110.5-58.5h0m-80-84.5h0m123.5 145h0m-157.5-29.5h0m35-139.5h0m75.5 3.5h0m46.5 141h0m-105.5-131.5h0m43 113.5h0m-90-8h0m16-61.5h0m8-56h0m70.5 41h0m71 114h0m-35-74h0m-15-33.5h0m-33.5 40.5h0m-9.5-19.5h0m82 102.5h0m-22-24.5h0m-82-148h0m-15.5 80.5h0m103 44h0m28.5 8.5h0m-117-136.5h0m35 52h0m73.5 108h0m-63-24.5h0m35.5-48h0m-54 81.5h0m67.5-72h0m36-79.5h0m-41.5 75.5h0m-84.5-79.5h0m49 139.5h0m-77 6h0m154-133h0m-82.5 55h0m-41-69h0m-13 155h0m108.5 2h0m-64.5-85.5h0m-83-13.5h0m98.5 106.5h0m-98-63h0m-3.5 59h0m29.5-52h0m82-92h0m-32.5 41h0m-54-5h0m-21.5 58.5h0m172-31.5h0m-108.5-5h0m-48.5 42.5h0m104-119.5h0m-59.5 3.5h0m61.5-20.5h0m32 9.5h0m-6.5 24h0m-58.5 97.5h0m78 31h0m-149.5-30h0m53-103.5h0m6 145h0m-84-45h0m99 35h0m-12.5-119.5h0m71.5-26.5h0m-31 35h0m-120.5-23.5h0m151-2h0m13-2h0m2-18h0m-51 90.5h0m-12 74h0m-70 12.5h0m65-34.5h0m-60.5 35.5h0m89-99h0m-95.5 76.5h0m65 21h0m61.5-45.5h0m-30.5-109h0m20.5 102.5h0m-139-121.5h0m0.5 28.5h0m126 103h0m-13.5-75h0m46.5-41h0m-135 54.5h0m6 55.5h0m109 1.5h0m-97-30.5h0m-1.5-6h0m41-74.5h0m59.5 124h0m-12.5-135.5h0m-103.5 123.5h0m109-24.5h0m24-36h0m-134 9h0m14-17.5h0m91-11h0m-13 51h0m-131-15.5h0m160.5 25.5h0m-3-1.5h0m27-113h0m-108 30h0m63 18h0m-17.5 68h0m-123-7.5h0m59-68h0m60.5 71h0m-82 15h0m-26.5-123.5h0m154 164.5h0m11.5 12.5h0m-39-80h0m-40-6.5h0m78.5 81h0m-96.5-144h0m19.5 42h0m51.5 93.5h0m-36-158h0m-16.5 9h0m0.5 130h0m26-66.5h0m-97.5 87.5h0m135-83.5h0m-155.5 35.5h0m66.5-52.5h0m-4.5-23h0m-45 70.5h0m71.5-41h0m44 13.5h0m-111.5-44.5h0m75.5 75h0m14 15h0m-52.5 4h0m43-96.5h0m-87 70h0m137 61h0m-6-24h0m-43-108.5h0m-55.5 116h0m-4.5-71h0m52.5-88h0m-83 34.5h0m130 110h0m-134.5-117h0m170.5 0.5h0m-35.5 79h0m13.5 28.5h0m-146.5 6h0m117-137h0m43 47h0m-90.5 44h0m17 8.5h0m-92.5 53.5h0m86.5-142.5h0m-4 17.5h0m-13.5 99.5h0m61.5-105h0m-88.5 152h0m64.5-147.5h0m-3.5 12h0m-101.5 77h0m7-97.5h0m107.5 155.5h0m-115.5-41h0m14-130h0m-24-7h0m135.5 167h0m-136-142.5h0m6.5 48.5h0m52-40.5h0" stroke="#b82020" stroke-width="1.9" stroke-linecap="round" fill="none" opacity="0.85"/>
<path d="M1431 271.5h0m67 12.5h0m-124.5-18.5h0m76.5 15h0m6 40.5h0m-99.5 16.5h0m105.5 29h0m41.5-36.5h0m-116 65h0m45.5-27h0m-21 28.5h0m-42.5-75h0m127.5 23h0m-71 22h0m-74-91h0m151.5 5.5h0m-2 87h0m-60 31h0m-20.5-38h0m-66.5-24.5h0m20 10h0m131-98h0m-115 166h0m26.5-33.5h0m39-19.5h0m-68.5-68h0m78-21h0m11 35.5h0m-111 112h0m87.5-166h0m-64 33h0m0.5-12h0m-19 18h0m-15-3.5h0m110-4.5h0m13 94.5h0m-86-24h0m117-95h0m-61 115h0m-47.5-79h0m67.5 87h0m-93.5-101h0m59.5 128.5h0m-88.5-150.5h0m164.5 21h0m-60 95h0m-47-67h0m92 6.5h0m-111.5 22h0m22.5-73h0m38.5 42h0m65-50.5h0m-109.5-0.5h0m28 119h0m-13-39.5h0m-24.5-45h0m63 11h0m-40.5-15h0m66 12.5h0m-8-5.5h0m-13-24h0m-71.5 45h0m-13.5-31.5h0m4-9h0m76 48.5h0m-61 45h0m42-63.5h0m-7.5-47.5h0m45 124h0m-72-34h0m-25.5-85.5h0m37.5 121.5h0m5.5-12h0m-40-32h0m73 69.5h0m-53-60.5h0m4-95.5h0m46.5 111h0m-67.5-15.5h0m54.5-61.5h0m-13 68.5h0m-74-22.5h0m27.5-14.5h0m-21 61.5h0m94-2h0m18.5-65h0m-118 36h0m45.5 67.5h0m21-8h0m-47-76.5h0m5 12.5h0m-2-96h0m51.5 132h0m89.5-117.5h0m-47.5 114.5h0m-112.5-92.5h0m105 78h0m-92-41.5h0m-2 76.5h0m53.5-37.5h0m-29-61h0m-28-16.5h0m142 50h0m5-71.5h0m-69.5 139h0m-35-120.5h0m106.5 8h0m-48 15.5h0m48.5-36.5h0m-23 125h0m12 3.5h0m-51.5 18h0m-60-60h0m98-32.5h0m21-19h0m-117-44h0m48 4.5h0m-10 37h0m-43-32h0m-3 65.5h0m78-33h0m-21.5 1.5h0m42 24h0m-77-19h0m-29.5-6h0m67 2h0m-77 99h0m32.5-44h0m-0.5-96h0m35 96.5h0m77-85h0m-73.5 41.5h0m50.5 25h0m-91-73h0m31 32h0m-19 60.5h0m32.5 41.5h0m-69.5 15h0m8-70h0m62.5 45h0m39.5-14h0m29-122.5h0m-105 86h0m24-67.5h0m-5 120.5h0m62-92h0m-49.5 78.5h0m7 24h0m41-104h0m-49-29h0m-55.5 59.5h0m82.5 43h0m46-57h0m-79 47.5h0m-46.5-6.5h0m108-29.5h0m-70.5 24h0m-29-42h0m6-11h0m51.5-26h0m-84 61h0m141-74h0m-124 29h0m12.5 13.5h0m18.5 55.5h0m73-58.5h0m-29.5 6h0m-99 127h0m15-129h0m77.5-39.5h0m-60 127.5h0m109-64h0m-57.5-78h0m-68.5 143.5h0m39.5-96h0m54.5 27h0m-58.5-17h0m52-31h0m-108.5-10.5h0m152.5 27.5h0m-72-11h0m18 15.5h0m-20.5-18h0m32 17.5h0m-6-21h0m-73 12.5h0m41-19.5h0m20 86.5h0m23.5 27.5h0m23-54.5h0m-19.5-38.5h0m-6.5 30h0m31 43h0m-83-3.5h0m-31-23.5h0m-9-63h0m56.5-1h0m-16 126h0m14 24.5h0m-51-85.5h0m83-12h0m43.5 19.5h0m-151.5-16h0m0 15h0m159-34.5h0m-45.5-18.5h0m-54-31.5h0m2 46h0m45.5 26.5h0m-65.5 100h0m108.5-94.5h0m-43.5-12h0m-104.5 44h0m56.5-113h0m53.5 23.5h0m29.5 34.5h0m-20.5-9h0m-58-18h0m-33.5 4h0m69.5 10.5h0m-30 120h0m-48.5-19.5h0m25.5-138.5h0m-32.5 155.5h0m146.5-128.5h0m-123-37.5h0m-11 91h0m69-46h0m81.5 59.5h0m-44.5 7h0m-51-114.5h0m-54.5 48h0m23.5 99h0m68-23.5h0m-112.5-26h0m37 73.5h0m136-144.5h0m-61.5 27.5h0m3.5-5.5h0m0.5 71h0m6-57h0m-6.5 96h0m-32-98h0m-41 40h0m33-33.5h0m38.5 23.5h0m-63-16.5h0m4-16h0m46.5-33h0m-49 40.5h0m51 4.5h0m-74 36h0m80.5-1.5h0m-60-27h0m-39.5 74.5h0m87.5-110.5h0m-32 5.5h0m-10 1.5h0m66 35.5h0m-102.5 65h0m4.5-52.5h0m55-40.5h0m-5.5-5h0m26.5 22h0m35.5-19.5h0m-66.5 95.5h0m-72-118.5h0m-0.5 52h0m11-69h0m122 34h0m-33.5 106h0m-84.5 12.5h0m19.5-70.5h0m120.5-79h0m-70.5 45h0m27.5-39.5h0m-115.5 140h0m128-125.5h0m-24.5 94h0m-84.5-47.5h0m62-49.5h0m-26.5 15.5h0m-32 50.5h0m80-23.5h0m-46 80.5h0m102-56h0m-104 36.5h0m81.5-59.5h0m-100.5-39h0m83 26h0m-67.5 54h0m-46.5-84h0m104 45h0m2 55h0m49.5-68.5h0m-82-43h0m43.5 57h0m-47.5-27.5h0m-31 119h0m-26.5-155h0m105.5 21h0m-41.5 76.5h0m23 4h0m-38-58.5h0m80 41.5h0m-123.5-64.5h0m80 36.5h0m-60.5 1h0m-30-33h0m32.5-7h0m7.5-11h0m51 118h0m-81-94h0m90 78.5h0m35-33.5h0m-110.5-64h0m55.5 36h0m-4.5 49.5h0m-26-84.5h0m27 6h0m88 1.5h0m9.5 68h0m-170.5-21h0m51.5-27h0m-7-26.5h0m14.5-7.5h0m46 51.5h0m-0.5 11.5h0m41.5-62.5h0m-79.5 123h0m3.5-39.5h0m-25.5-54.5h0m37.5-25.5h0m3 92h0m-54-22.5h0m17 63h0m-4.5-45.5h0m9-50.5h0m-58.5 31h0m78.5 16h0m-76.5-20h0m65.5-43.5h0m-18.5-39h0m-14.5 86.5h0m142-53h0m-30-14h0m-110.5 72.5h0m71-60.5h0m-93 16h0m-17.5-21h0m89.5 36h0m-65 29h0m53 12h0m15 45h0m-84.5-66h0m113.5-10h0m-49.5-34.5h0m59.5 16.5h0m13.5 36.5h0m-41 27.5h0m-2-111.5h0m0 113h0m46-54.5h0m-43 90h0m-55.5-162h0m47 81.5h0m3-7.5h0m64.5-59.5h0m-128.5 13.5h0m33-15.5h0m-14.5 155.5h0m-17.5-60h0m108-45.5h0m-111.5-26h0m87 2.5h0m-71.5 92.5h0m74.5-56.5h0m-48 83.5h0m19-25.5h0m-70 49.5h0m28.5-128h0m-50.5-4.5h0m125.5-14h0m-8.5 79h0m-68.5-26h0m92 12.5h0m-73 49h0m-36-3h0m136-71h0m-109.5 37h0m-2.5-64h0m-24.5 60.5h0m95.5-41h0m1-13h0m-51 20h0m-61-52.5h0m134.5 26h0m-0.5 2.5h0m-49.5 1.5h0m-77-44.5h0m-6.5 84h0m158-50h0m-71 86.5h0m-76-80h0m78.5 79.5h0m42-48.5h0m-87.5 1h0m54-29.5h0m6-20h0m-46.5 122h0m26.5-29h0m-51-29.5h0m18-43.5h0m42.5-35.5h0m-47.5 16h0m74 56h0m-62.5-53h0m49 4.5h0m-74 103h0m74.5-82.5h0m30.5-35h0m-45.5 14.5h0m-60 103.5h0m20.5-83h0m96.5-2h0m-81.5-17.5h0m-60-36.5h0m40.5 18.5h0m8.5 156.5h0m5-70h0m48-64h0m-63.5-14.5h0m14-2h0m2.5 43.5h0m-87-71.5h0m48.5 110.5h0m27-86h0m25.5 11h0m-59.5 16h0m122.5 115.5h0m-19.5-103.5h0m-105 92.5h0m37.5-94.5h0m-60 35h0m112-40h0m2.5-1.5h0m-36 49h0m-95 8h0m99-89.5h0m55.5 15.5h0m-89 14h0m51 10.5h0m-90.5 26.5h0m120 6.5h0m-18.5-7h0m-14.5 72h0m-94.5-129.5h0m10 64.5h0m102-20.5h0m-110 27h0m73-91h0m-20.5 6.5h0m81 38.5h0m-77.5 27.5h0m30-58h0m34 37.5h0m-52.5 47h0m73.5-57h0m-86.5 97h0m-18.5-111.5h0m20 18.5h0m-9.5 60h0m30-64h0m-32.5 49.5h0m50-57h0m-46.5 12h0m-18.5 97.5h0m46.5-30.5h0m-30.5 36.5h0m50-51.5h0m-37-99h0m29 15h0m-17 94h0m-56-37h0m-0.5 12h0m13 12.5h0m75-87.5h0m-33.5 90h0m-75.5 41h0m66.5 8.5h0m17.5-125h0m68-9.5h0m-20 48h0m-36.5 35h0m-10.5-0.5h0m80-79h0m-157.5-12.5h0m17 15.5h0m-22.5 50.5h0m41.5-20.5h0m28-35.5h0m44.5 58h0m-106 10h0m42-76.5h0m76 135h0m-107-117.5h0m65-2h0m32.5 25h0m-123.5 21.5h0m60.5-17.5h0m42.5-38h0m-55.5 71.5h0m57.5-43h0m2.5 88h0m-55.5-99.5h0m44-2h0m-5 14.5h0m-96.5-30h0m107 56.5h0m-78 84h0m115.5-69h0m-82.5 60h0m92.5-97.5h0m-40-39.5h0m16-1h0m-33 11.5h0m-32 8h0m81.5 45h0m-46 100h0m8-114.5h0m29-4h0m-12 61h0m-94.5-44h0m104 56.5h0m23-116h0m-135 12.5h0m17.5-20h0m70 107h0m-99.5-84.5h0m18 8h0m92-6h0m-73.5-6.5h0m92.5-30h0m-93.5 60.5h0m-0.5 85h0m5-92.5h0m63.5 81h0m-4 7.5h0m62-55h0m-29 9.5h0m21-92.5h0m-97 29.5h0m-27 145.5h0m-8-61h0m-7-65.5h0m59 47h0m-12-41h0m-0.5 96.5h0m-72-130.5h0m65 42h0m-52.5 16.5h0m11.5-55.5h0m-9.5 72.5h0m25.5 70h0m20.5-108.5h0m26 107.5h0m36-143h0m-94.5 6.5h0m28.5 73h0m-54-93h0m121 110h0m-63.5-76h0m-2 118h0m119-114.5h0m-93 118.5h0m-54 9.5h0m106.5-129.5h0m-51.5-13h0m-47 13.5h0m20 16h0m55-42h0m-22 125h0m26-24.5h0m-17-103.5h0m4 95.5h0m-83 49.5h0m30-149h0m64 19.5h0m-72-39.5h0m80.5 77.5h0m-117-5.5h0m100.5-28.5h0m-14-12.5h0m-48.5-9.5h0m-41.5 140h0m6.5-110h0m16.5 88.5h0m49-115.5h0m33-19h0m-35.5 36.5h0m47.5 47h0m43.5-52h0m-74.5 110h0m-13.5-78h0m-79 9.5h0m172 1h0m-79-51.5h0m-75.5 64.5h0m59.5 34h0m8 17h0m11 19.5h0m50.5-82h0m-122 17.5h0m-11-29.5h0m11.5 20.5h0m64.5 37h0m-8 44.5h0m-80-150.5h0m33.5 84h0m32.5-72.5h0m8.5 10h0m-62.5 45h0m104-11h0m-26-76.5h0m57.5 98.5h0m-58 8h0m36 35.5h0m-97-34h0m71.5-71h0m9 98h0m-79-95h0m102.5 52h0m-34-54h0m-41.5 30.5h0m-36.5 20.5h0m61.5-63h0m18-1h0m29.5 115.5h0m-95-49h0m80.5 95h0m-56-85h0m-35 72.5h0m-7-78h0m60.5 68h0m35.5-128h0m1 13.5h0m-42.5-25.5h0m-18.5 152.5h0m56-13h0m-26-66.5h0m17.5 18h0m63.5-90h0m-148.5 71h0m21 2h0m69-37h0m57.5 44h0m-66.5-45h0m30.5-6h0m-106.5-11.5h0m44.5 74.5h0m21.5 61.5h0m11-120h0m55-22h0m-135.5-30.5h0m89.5 44h0m-69 14.5h0m-21.5 30.5h0m124-21h0m-99.5-60h0m-13.5 72.5h0m-27-17h0m47.5-16h0m31 61.5h0m33.5-48h0m2.5 66h0m-8.5-82.5h0m-91 37.5h0m151.5-80h0m-6 17.5h0m-74.5 92h0m-78-47.5h0m159-56.5h0m-30 64h0m-9.5-35h0m29.5-27h0m-52.5 31.5h0m-14-3h0m60.5 21.5h0m-101.5 56h0m11.5-86h0m41-6h0m70-23.5h0m-108 35h0m31 73h0m72.5-45h0m-52.5 58.5h0m-84.5-11.5h0m15.5 61h0m85-136.5h0m-124-3.5h0m85 83h0m-71.5-8.5h0m5-24.5h0m38 12h0m-4 78.5h0m-40.5-132.5h0m95.5 6.5h0m7.5 69.5h0m2-102h0m-55-3.5h0m-45 78.5h0m-22-69.5h0m166-7h0m-129 115.5h0m15-105.5h0m-28.5 3h0m91.5 137.5h0m-65.5-14.5h0m-17-104.5h0m-8.5 51h0m54 12h0m2.5 9h0m60-37h0m-129-47h0m112.5 81h0m-35.5-97h0m-89 145h0m163.5-136h0m-61.5 32.5h0m-8.5 62.5h0m-61 31.5h0m-11-73.5h0m-12 90h0m113.5-116h0m-30 76h0m-77-28h0m103-86.5h0m-88 146.5h0m62.5-50.5h0m-43-103h0m-34.5 31.5h0m48-39h0m1.5 12.5h0m81 73h0m6-46.5h0m-113 33.5h0m-17.5-24.5h0m66 109h0m-74-125.5h0m-11 54.5h0m82-18.5h0m25.5-19h0m-30-17.5h0m50.5 51.5h0m-95-27h0m80.5 111h0m-90.5-85h0m49.5 86h0m78-89.5h0m-77.5 26.5h0m18.5 56.5h0m-27-63h0m-27-56.5h0m33.5 62.5h0m28.5-29.5h0m-95 77h0m148.5-102.5h0m-77.5 99.5h0m65.5-86h0m13.5-55h0m-38 50.5h0m-56 17h0m-6-47h0m11.5 28h0m43 3.5h0m25.5-0.5h0m-72 92h0m68.5-55h0m-20 27h0m-20 36.5h0m-12-6.5h0m-82-15h0m-0.5 28h0m113-18.5h0m33-62.5h0m-97.5-24.5h0m36 8.5h0m-29-19.5h0m78.5 31.5h0m36.5-29.5h0m-7-6h0m-33.5 66.5h0m-47 7.5h0m-81-97h0m95.5 44.5h0m-69.5-34.5h0m94.5 4h0m-15-1.5h0m78.5 33h0m-84-40.5h0" stroke="#dc2626" stroke-width="2.2" stroke-linecap="round" fill="none" opacity="0.95"/>
<path d="M1545.5 247.5h0m4.5 0h0m10.5 0.5h0m4.5 0.5h0m4-2h0m6 0.5h0m7-0.5h0m21 2h0m3-2h0m5 0h0m6 1h0m3.5-0.5h0m6 1.5h0m5.5-0.5h0m8.5 0h0m6-1.5h0m3.5 1h0m5 1h0m4.5-1h0m9.5 0h0m7 0h0m5 0h0m4-0.5h0m5.5 2h0m2 0h0m5.5-1.5h0m6-1h0m8.5 0.5h0m4 0.5h0m7.5-1h0m2.5 2h0m-178 2h0m9.5 0.5h0m3-0.5h0m7 2.5h0m3 0h0m4 0h0m10 0h0m4-1.5h0m8 1h0m3 1h0m9-2h0m6 1.5h0m5-0.5h0m10-1.5h0m3.5 0h0m6 0h0m13.5 0h0m5 0.5h0m9.5 0.5h0m5.5-2h0m3.5 2h0m4-1.5h0m8 1.5h0m12.5-2h0m4 0.5h0m7 0h0m9.5 0h0m4.5 0h0m-170.5 6h0m4.5 1h0m4.5-1.5h0m3.5 1h0m7.5-1.5h0m4 1.5h0m5.5-0.5h0m3 1h0m5.5-3h0m4.5 2.5h0m5-0.5h0m5-0.5h0m3.5 0h0m6 1h0m10 0.5h0m10 0h0m3.5 0h0m6.5-2h0m4 1h0m9.5-1h0m3 0h0m5.5 1.5h0m5-1.5h0m16 1h0m2.5 0h0m4.5 1h0m4.5-2.5h0m5.5 1.5h0m7-2h0m2.5 2.5h0m-171 3h0m6 0h0m11 1.5h0m8-2h0m7 0.5h0m4.5 1.5h0m3.5-2h0m6 2h0m2-2.5h0m10.5 1h0m6.5 0.5h0m3.5 1h0m10.5-2h0m3-0.5h0m5 1h0m6 0h0m9.5-1h0m3 2h0m6.5 0h0m6-1.5h0m4.5 2h0m2.5-1h0m6 1h0m6.5-1h0m8.5 1h0m5.5-2h0m2.5-0.5h0m5.5 0h0m4.5 0.5h0m11 1h0m3 0h0m-154.5 5h0m4.5-1.5h0m20.5 0.5h0m2 0.5h0m15.5 1h0m4.5-0.5h0m4.5-1.5h0m6.5 1h0m3-2h0m11 1h0m3.5 1h0m6 0h0m6 1h0m2.5-2.5h0m5 0.5h0m5-1h0m5 1h0m6 1.5h0m4.5-0.5h0m5-1h0m5 1h0m3.5-0.5h0m4 0h0m6.5-1.5h0m2.5 0.5h0m5.5 1.5h0m9.5-0.5h0m-153.5 3.5h0m5 1.5h0m3.5-2.5h0m4 0.5h0m6.5 1.5h0m9.5 0.5h0m4.5-1.5h0m5.5-0.5h0m3.5-0.5h0m10 2.5h0m3-1.5h0m7 0h0m2.5 0h0m16.5 1h0m10 0h0m3.5 0h0m5-2h0m4.5 3h0m5-2.5h0m4 2.5h0m5.5-2h0m5 0.5h0m6-0.5h0m3 0h0m4 2h0m5.5-0.5h0m10.5-2h0m-151 4h0m3.5 2.5h0m14.5-1h0m11 0h0m3-1h0m11 1.5h0m4-0.5h0m6 0.5h0m5.5 0h0m3-0.5h0m6.5 0h0m4.5 0h0m4-0.5h0m10.5 0.5h0m8-0.5h0m9.5 2h0m5.5-1.5h0m4.5-1h0m3.5 1h0m7 0h0m13.5-1h0m4.5 0.5h0m4.5 0h0m4.5 0h0m-184.5 5.5h0m4-2.5h0m35 0h0m4 0.5h0m6 1h0m4-0.5h0m3.5 1.5h0m7.5-0.5h0m4.5 0.5h0m10.5-1.5h0m2.5 0.5h0m9-0.5h0m5.5-0.5h0m5-0.5h0m9 2.5h0m7.5-0.5h0m4.5-1.5h0m4.5 2.5h0m5-1.5h0m2 1h0m7.5-1.5h0m5 1.5h0m2.5-1h0m6 1h0m5.5-1.5h0m3.5 1h0m4.5-0.5h0m4.5-1h0m7 0h0m2.5-0.5h0m-136.5 4.5h0m9 0.5h0m6.5-0.5h0m3 1h0m6.5 0.5h0m9.5-2h0m3.5 1h0m7 1h0m3 0.5h0m6.5-2h0m2.5 2h0m6.5-1.5h0m5.5 1h0m3 0.5h0m7-1.5h0m3.5 0.5h0m10 0.5h0m4.5 0.5h0m4-1.5h0m5-1h0m6.5 2h0m2.5-2h0m6 1.5h0m4 1.5h0m4-2.5h0m7 0h0m-132 5.5h0m5-1h0m4.5 2.5h0m5.5-1h0m2 0.5h0m6-2h0m3.5 1.5h0m8-0.5h0m4 0.5h0m4.5-1.5h0m3.5 1h0m10-1.5h0m9.5 2h0m3.5-0.5h0m5.5-1.5h0m10 0.5h0m11 0.5h0m2.5-0.5h0m11 1h0m6 0.5h0m2.5-1.5h0m7.5 0.5h0m2.5-0.5h0m4 0h0m-177.5 5h0m52-0.5h0m4 2h0m9-0.5h0m6-0.5h0m5-1h0m4 0.5h0m9 1h0m6.5-1h0m5.5-1.5h0m4 2.5h0m6-1.5h0m3 2h0m20-0.5h0m8-1.5h0m5 1h0m6 1h0m5.5-1h0m5.5-0.5h0m6.5-1.5h0m6.5 2.5h0m-123 2h0m11.5 1h0m4 1h0m4.5-0.5h0m3 1h0m6-2.5h0m5 0h0m5.5 2.5h0m4-0.5h0m6-1.5h0m5 1h0m3-1h0m3.5 2h0m27-2.5h0m4.5 2.5h0m3-1.5h0m5 0.5h0m4-1h0m10.5-1h0m4 1h0m5.5 0h0m-146 5h0m29-1.5h0m4.5 2.5h0m5.5-2.5h0m5.5 0h0m3 0.5h0m7 1.5h0m3-1h0m6 1h0m2.5-1.5h0m8-0.5h0m3 0h0m4 2h0m30.5-2h0m9.5-0.5h0m5 1.5h0m4-1.5h0m3.5 1.5h0m6-1.5h0m3 3h0m-139.5 2h0m8.5 1.5h0m19.5-1.5h0m6.5 1.5h0m8.5-1h0m18.5 1.5h0m4.5-2h0m5 2h0m4 0h0m35-2h0m4-0.5h0m4.5 2h0m4.5-1.5h0m5.5 1h0m7-0.5h0m2.5 2h0m6-0.5h0m-104 2h0m6.5 1.5h0m2.5-1h0m6-1h0m5 2.5h0m5-2h0m3.5 0.5h0m4 1.5h0m7-1.5h0m3-0.5h0m34.5 1h0m5.5-1h0m4 1.5h0m6.5 1h0m2.5-1.5h0m5.5-1.5h0m3.5 0h0m-101.5 5.5h0m5 0.5h0m4.5 0.5h0m5-0.5h0m10.5 1h0m4.5-0.5h0m3.5-1h0m5-0.5h0m5.5 2h0m6 0h0m7.5-0.5h0m4.5-1h0m4.5-1h0m10 1h0m5.5-0.5h0m5 2h0m5-2.5h0m4.5 3h0m5.5-2h0m-177.5 3.5h0m82 1h0m6 1h0m4.5-2.5h0m4.5 1.5h0m6.5-1.5h0m3 1h0m4 0.5h0m7 0.5h0m5-1.5h0m8 0.5h0m6.5-0.5h0m2.5 2.5h0m6-2h0m4.5 0h0m3.5-1h0m8 0.5h0m3 1h0m5.5 1h0m5.5-0.5h0m-183 4.5h0m7-0.5h0m3.5 0.5h0m9-2.5h0m6 0.5h0m63 0.5h0m3.5 1h0m6-0.5h0m5 1h0m3-1h0m7 1h0m4-0.5h0m5-2h0m4.5 1.5h0m5.5 0.5h0m4.5 0h0m14-0.5h0m4.5-0.5h0m5.5 0.5h0m5.5 1h0m5-1h0m3.5 0h0m8.5-1.5h0m-185 6h0m5.5-0.5h0m4 0.5h0m5.5 1.5h0m4-0.5h0m6.5-0.5h0m11-0.5h0m2.5 0h0m58-0.5h0m4 1.5h0m7.5-2h0m3 1.5h0m5.5-1h0m5-1h0m3 1.5h0m7 1.5h0m5-3.5h0m4.5 2.5h0m3 0.5h0m5-1.5h0m6-1h0m4 1h0m4.5 0h0m4-0.5h0m6-0.5h0m5 0.5h0m4.5 2h0m3.5-2h0m-183 5h0m10.5-1h0m9 0h0m4.5 1.5h0m5-1.5h0m4-0.5h0m5.5 1.5h0m6 1h0m8.5-1h0m34 0h0m3-1.5h0m4 2.5h0m5.5 0h0m6.5-0.5h0m3 0.5h0m7.5 0h0m2.5 0.5h0m5-1h0m8.5 0h0m6-0.5h0m4 0.5h0m4.5-0.5h0m6.5-1h0m4 1.5h0m4-1.5h0m4.5-0.5h0m5.5 2.5h0m6-1h0m-169 5h0m3.5-2h0m4 1.5h0m3.5 0h0m6 0h0m11 1h0m7.5-2h0m10-0.5h0m5 1.5h0m6 0.5h0m24.5-1h0m5 1h0m3 0h0m7 0.5h0m4.5-2.5h0m3 1h0m6.5-1h0m2 1.5h0m7.5 0h0m3.5 1h0m5-1.5h0m6-0.5h0m2.5 0.5h0m4.5 0.5h0m6.5-2h0m5.5 2.5h0m4.5-2.5h0m4 0h0m4 2.5h0m5.5-1h0m3.5-0.5h0m-178 5h0m10.5 1.5h0m2.5-0.5h0m4.5-1.5h0m5.5-1h0m5 1.5h0m6-0.5h0m5 0h0m2.5-0.5h0m6.5 2h0m4.5-0.5h0m4 0h0m6.5-0.5h0m3.5 1h0m5-1h0m4.5 1h0m6.5-1h0m2.5 1h0m6.5-1h0m2.5-1.5h0m10.5 0.5h0m4.5 0h0m4.5 1h0m6.5 0h0m4.5-1h0m5 0.5h0m4.5 1.5h0m5-1h0m3 0h0m5.5-1h0m5.5-0.5h0m15 2h0m5.5 0h0m2.5-1h0m-155.5 5h0m4 1h0m6-3h0m5.5 3h0m5.5-0.5h0m3-1h0m6.5-0.5h0m3-1h0m10 2.5h0m3.5-0.5h0m5.5-0.5h0m6.5-0.5h0m4 0.5h0m4.5 1h0m5-2.5h0m5.5 2.5h0m3.5-0.5h0m7-2h0m3 0h0m4.5 0h0m5.5 2.5h0m10 0h0m3.5 0h0m4.5-0.5h0m14-0.5h0m10 1.5h0m6.5-2h0m4.5-1h0m3.5 3h0m-156.5 3h0m12 0.5h0m5.5-2h0m3 0.5h0m11 0h0m5 0.5h0m3.5-1h0m3.5 1.5h0m6.5 1h0m4-1.5h0m4.5 0h0m4.5 1h0m6 0.5h0m5.5-1h0m3.5 0.5h0m5-0.5h0m4 0h0m5-1.5h0m4.5 0h0m5.5 2.5h0m5-1.5h0m6 1h0m4 0.5h0m3.5-3h0m5 3h0m4.5-1h0m7 0.5h0m3-1.5h0m5 0h0m4.5 1h0m5.5-0.5h0m-142 4.5h0m5.5-1.5h0m4 0h0m10 0h0m6 0h0m4 1.5h0m5-1.5h0m6 1h0m7 1.5h0m10.5 0.5h0m4.5-1h0m6-1h0m3 1h0m6.5-1.5h0m4.5 0h0m5.5 2h0m3.5 0h0m10.5 0h0m10-2h0m4 1.5h0m3.5 0h0m5.5-1.5h0m5 0h0m5 1.5h0m-127.5 2.5h0m4 1h0m11 0h0m3.5-1h0m6 0h0m5-0.5h0m5 0h0m5.5 1h0m3.5 0.5h0m6 0h0m4-0.5h0m2.5 0h0m6.5 0h0m5 1h0m3-0.5h0m7 0h0m6-1h0m3 2h0m5.5-1h0m3 0.5h0m10 1h0m7-1h0m5-1.5h0m8 2.5h0m3.5-1.5h0m-159.5 4h0m38.5-0.5h0m3.5 1.5h0m5-1h0m6.5 1.5h0m4.5 0h0m6-1.5h0m3 1.5h0m5-1h0m6.5-1h0m2.5-1h0m5.5 1.5h0m3.5 1h0m6.5-1h0m5-0.5h0m3 0.5h0m5.5 0.5h0m5.5-1.5h0m4 1.5h0m9.5-1h0m6-1h0m5.5 1.5h0m5 0h0m2 0h0m7 1h0m9-2h0m3.5 0h0m-116.5 6.5h0m10.5-2h0m5 0.5h0m2.5 0.5h0m10 1h0m7-0.5h0m4.5 0.5h0m3.5-2h0m5 0.5h0m5.5-0.5h0m5-0.5h0m3 2.5h0m6-1.5h0m5.5-1h0m2 2h0m8 0h0m3-0.5h0m3.5 1h0m6.5-1h0m4-0.5h0m5.5 1h0m5.5-0.5h0m5.5 0h0m-109 5.5h0m4.5-3h0m5 3h0m5.5-2.5h0m5 0.5h0m2 0.5h0m6.5 1.5h0m6-0.5h0m12.5-1.5h0m6.5-1h0m4 1h0m4.5 1h0m5.5-0.5h0m3.5 0.5h0m6-0.5h0m3.5-1.5h0m4.5 0.5h0m5 0.5h0m4-0.5h0m5.5 0h0m6.5-0.5h0m-181 5.5h0m4.5 1h0m4.5-0.5h0m5.5 1h0m68-1h0m8.5 1h0m6 0h0m4.5-1.5h0m7.5-1.5h0m5.5 1h0m6 0h0m5.5 1.5h0m5 0.5h0m2 0h0m7-2.5h0m5 1h0m10 1.5h0m5-0.5h0m3.5 0.5h0m9-2.5h0m5.5 2.5h0m4-0.5h0m-184 3h0m3 1h0m6-1.5h0m4 1h0m6 1h0m5-2h0m3 2h0m10.5 0.5h0m57.5-2.5h0m5-0.5h0m7 1.5h0m4-1h0m4.5 2.5h0m9-2h0m5-0.5h0m3.5 2.5h0m6.5-1.5h0m4.5-0.5h0m6-1h0m4 2h0m4.5 0h0m4 0h0m4.5-0.5h0m5 1h0m4.5-1h0m7.5 1h0m-182.5 3.5h0m4.5 0.5h0m7.5-0.5h0m3.5 0.5h0m6-1h0m2.5-1h0m7 1h0m3.5 1h0m4.5-2h0m6 1.5h0m4 0.5h0m63.5-2.5h0m9.5 1h0m4 1.5h0m4-0.5h0m6 1h0m3-1.5h0m7 0h0m7-0.5h0m5.5 1.5h0m6.5-1h0m15 1h0m-180.5 4h0m2 0.5h0m5-2.5h0m7-0.5h0m3 3h0m6 0h0m4-2.5h0m7 0.5h0m2.5 1.5h0m6.5-1.5h0m2.5 1h0m5-1.5h0m5.5 1h0m30-1h0m32 0h0m7 0h0m7.5 2.5h0m6-1h0m5-1.5h0m5.5 1.5h0m2.5-0.5h0m5 0h0m5-1.5h0m5.5 1.5h0m6 0.5h0m4 1h0m4-2.5h0m4 0h0m-185 5.5h0m7-0.5h0m4.5 0.5h0m5.5-1h0m6.5 0h0m7.5 1.5h0m4.5 1h0m4-1.5h0m5.5-1h0m5.5 1h0m46.5 0h0m19.5 0.5h0m6-1.5h0m5 1.5h0m2 1h0m5-3h0m10 1h0m6.5-1h0m14 0.5h0m4 0h0m5.5-0.5h0m5 2.5h0m5-2.5h0m-185.5 5h0m4-0.5h0m5.5 2.5h0m9.5-0.5h0m6 0h0m14-2.5h0m4 1h0m5 1.5h0m5.5-2h0m60.5 1h0m6-0.5h0m4-0.5h0m5-0.5h0m5 1h0m6 2h0m4.5 0h0m5-0.5h0m4.5-1.5h0m5 2h0m3-1.5h0m5-1h0m5 1.5h0m7-1.5h0m3.5 1.5h0m3-0.5h0m-183.5 3.5h0m5 1h0m4.5 1h0m5.5 0.5h0m3.5-1h0m6 0.5h0m9-1.5h0m5 1h0m5.5-0.5h0m4-1.5h0m6 2h0m2.5 0.5h0m20.5 0h0m3.5 0.5h0m19.5-1h0m5.5-1.5h0m5 0.5h0m8.5 0h0m5.5 0.5h0m7 1.5h0m3.5-2h0m5.5-1h0m5 2h0m4.5-1.5h0m2.5 2h0m6.5-1h0m4.5 0h0m5-0.5h0m3.5 0.5h0m5-1.5h0m4.5 0.5h0m-183 6h0m4-2.5h0m5.5 3h0m3.5-0.5h0m6 0h0m5 0h0m5-0.5h0m4.5 0h0m3.5-2h0m11.5 1.5h0m3.5 1h0m10.5 0.5h0m4.5-1h0m5.5-1.5h0m4 0.5h0m3 1.5h0m7.5-1h0m3.5-0.5h0m4 0h0m9-0.5h0m6 2h0m4.5-1h0m10-1h0m8.5 2h0m5 0h0m5.5 0.5h0m6-1.5h0m5.5 1h0m4-1.5h0m5-0.5h0m9.5 0h0m2.5 1.5h0m6.5-1.5h0m-182 6.5h0m11.5-3h0m4 2.5h0m6.5-2h0m3 0.5h0m5.5 2h0m5-2h0m8 2h0m5.5-1.5h0m7 0h0m2 1.5h0m7.5-2.5h0m3.5 2.5h0m6-3h0m3.5 2.5h0m4.5-0.5h0m11.5 0.5h0m4.5 0h0m3.5-2.5h0m5.5 3h0m9.5-0.5h0m5.5-2h0m7.5 0h0m5 2.5h0m6.5-2h0m4 1.5h0m4-2h0m6 1.5h0m19.5-0.5h0m2.5-0.5h0m-177.5 6h0m4-2.5h0m5.5 1h0m8-1h0m13.5 1.5h0m6.5-1.5h0m5 2h0m3 0.5h0m11-2h0m5.5 0.5h0m3.5-0.5h0m5 1.5h0m3.5-1h0m11.5 1h0m5 0h0m3 0h0m12.5-1.5h0m3 1h0m4.5 1h0m6.5 0.5h0m5-2.5h0m3.5 2.5h0m4-1.5h0m4.5 1h0m4.5-0.5h0m5.5 0.5h0m4.5-1h0m4 0.5h0m5.5-1h0m5.5-1h0m3.5 1.5h0m12-1h0m-182 5.5h0m6.5-2h0m6 2h0m2.5-2h0m6 0.5h0m3.5-0.5h0m4 2h0m6.5 0.5h0m3.5-2h0m6 2h0m4.5 0h0m5.5-0.5h0m5 0h0m5 0h0m3-1h0m7 0.5h0m4.5-0.5h0m4 0h0m5-1h0m4 0.5h0m6.5 1.5h0m2.5-1h0m4.5 1h0m7-0.5h0m9.5 0.5h0m4-1h0m4 1h0m7 1h0m8-1.5h0m3.5 1h0m7 0h0m3.5-0.5h0m5.5-0.5h0m3.5 0h0m7 1h0m4.5-0.5h0m-180 2.5h0m3.5 1h0m6.5 1h0m3.5-2h0m29.5 1h0m4.5 0.5h0m6 0.5h0m4-0.5h0m5 0h0m4 0h0m18.5 1h0m6.5 0h0m4-1h0m4 0.5h0m11.5-1.5h0m3.5 1.5h0m6-1h0m4-1.5h0m5 0.5h0m4.5 0h0m3.5 1h0m4.5 1h0m5 0h0m6.5 0.5h0m9.5-2h0m3.5 1.5h0m4.5 0.5h0m6-0.5h0m6-2.5h0m-181.5 5h0m15.5 0.5h0m8-0.5h0m26 0.5h0m3.5 1.5h0m6-1h0m5-1.5h0m3 2h0m4-0.5h0m6.5 0h0m3-1.5h0m6 2h0m5.5-1h0m4.5 1.5h0m3.5 0h0m6.5-1.5h0m5.5-0.5h0m9-0.5h0m2.5 0.5h0m21 2h0m4.5-1.5h0m6 0.5h0m3.5-1h0m4.5 1h0m4 1h0m10.5-1.5h0m5.5 1h0m-186.5 3.5h0m4.5-1.5h0m31 0.5h0m17.5 0h0m6.5-0.5h0m3.5 1h0m11.5 0h0m4.5-1h0m4.5 2.5h0m4-1.5h0m5.5 1.5h0m5-1.5h0m4.5-1h0m15.5 2.5h0m3-0.5h0m6.5-0.5h0m2 1h0m7-2.5h0m4 1.5h0m6.5 1h0m1.5-2h0m7 1h0m3.5 0h0m5 0h0m5.5 0.5h0m5.5 0.5h0m3.5-1.5h0m6.5-1h0m-181 7h0m4.5-1.5h0m5 1h0m3.5-2h0m6 1.5h0m5-0.5h0m18-0.5h0m6 1h0m4 0h0m6.5-1h0m3.5 0h0m5.5 2h0m5-1h0m8.5-1.5h0m6 0.5h0m4.5 0h0m3 0h0m6 1.5h0m4 0.5h0m6.5-1.5h0m8.5 0h0m16 1.5h0m9-2.5h0m3-0.5h0m6 3h0m5.5-1.5h0m3 0h0m5-1.5h0m10.5 2h0m5.5 0h0m-185 2.5h0m14.5 1.5h0m9.5-1.5h0m5 1.5h0m3-1.5h0m5.5 0h0m10.5 1h0m9-0.5h0m4 0h0m5 0h0m13.5-0.5h0m12 0.5h0m2.5 1h0m6-1.5h0m18 1.5h0m6-1h0m10.5-0.5h0m9.5 1.5h0m3 0.5h0m7-2h0m3.5 0h0m10 2h0m6-1h0m4 1h0m3.5-0.5h0" stroke="#2d52bc" stroke-width="2.5" stroke-linecap="round" fill="none" filter="url(#sb)"/>
<path d="M1609 260h0m86 40h0m-93-34h0m8.5 28h0m-54-34.5h0m126.5 83.5h0m6 5h0m-41.5-56h0m22 27h0m-18 17h0m-52.5-90h0m22.5 44h0m6-22h0m46.5 126.5h0m27.5-126h0m-79 13.5h0m-17-8.5h0m-20 147.5h0m52.5-60.5h0m-42-20.5h0m56-64h0m35 54h0m-38.5 2.5h0m-66.5 67h0m72.5-90h0m-57 37.5h0m-10.5 45.5h0m103.5-70.5h0m-144.5-53.5h0m89 2.5h0m-12 16h0m-29 105.5h0m37.5-108h0m-86-8h0m110.5 6.5h0m-114 51.5h0m157.5-77h0m-60 21.5h0m37.5 97.5h0m-42-88.5h0m67.5-29h0m-47.5 77h0m-29 35h0m-56-38h0m4.5 63h0m39.5-101h0m-16.5-30h0m65 124.5h0m-82.5-139h0m-31 34.5h0m119.5 82h0m-70-9h0m98-31h0m-44.5-64.5h0m-0.5 83h0m-73-60h0m97 38.5h0m-16 18h0m14.5 32h0m25-112.5h0m-114 129.5h0m19.5-33.5h0m59-91.5h0m-41 112.5h0m47.5-56h0m-29-1.5h0m-15.5 34.5h0m85.5-23.5h0m-77-41h0m-2 60.5h0m31-15h0m41-86h0m-132 77.5h0m27 17.5h0m110.5-42.5h0m-112.5 112h0m66.5-80h0m-45-21h0m-7 47.5h0m17 14.5h0m56.5 38h0m-28.5-82.5h0m-1 46h0m-39-109.5h0m15.5 82h0m-39-5.5h0m35-57.5h0m-13 73.5h0m71-26h0m-56 39h0m64-82.5h0m-139 49h0m33 3.5h0m0 18h0m38-5h0m-24.5 47h0m-10-122.5h0m-36 59h0m71 23.5h0m-28.5 27h0m100-98h0m-118.5 118.5h0m117-111h0m-123.5 43.5h0m86.5-85h0m8.5 79h0m-115.5-51h0m47 110.5h0m7 33h0m23.5-63h0m-26.5-116h0m50.5 48h0m24.5 9h0m-72.5 51h0m-9.5-73h0m54.5 109.5h0m-35-43.5h0m-3.5-92.5h0m13.5 8.5h0m-34.5 27.5h0m-7 5.5h0m-27.5 38.5h0m104.5-44h0m-22-34.5h0m57.5 51h0m-138 93h0m57-141h0m85 34.5h0m-100.5 112h0m31-92.5h0m7-41h0m62 25h0m-121 27.5h0m63-49h0m-68.5 127.5h0m-17.5-85.5h0m139.5-13.5h0m-86.5-11.5h0m11.5-23h0m53 40h0m8.5 32h0m-46-58.5h0m-45.5 128.5h0m-41-16h0m24-63h0m-1 56.5h0m28.5-145h0m23.5 123.5h0m-2 40h0m14-55.5h0m-4.5 30.5h0m59-73.5h0m-148-46h0m80 78.5h0m26 55.5h0m34.5-62h0m-85-92h0m-50.5 92.5h0m81-21.5h0m92.5-22.5h0m-166.5 86h0m13.5 6.5h0m37.5-105.5h0m-27.5-17h0m-1.5 68.5h0m62.5-43h0m23.5-4.5h0m-123.5 34h0m102-23h0m17.5 2h0m-3-8.5h0m32.5 33h0m-111-68h0m113.5 69h0m-95 65h0m77-83.5h0m29.5-57h0m-65 68.5h0m41 23.5h0m-73 69.5h0m37.5-159h0m3.5 22.5h0m-41 150h0m88.5-144.5h0m-49.5 49.5h0m48.5-14h0m-67.5-23h0m46.5 53h0m22-52.5h0m-86 108h0m80.5-87h0m11-11.5h0m-60.5 55h0m-64.5 40h0m12.5-55.5h0m18.5 72h0m26-18h0m30-20h0m28-82h0m-96-12.5h0m31.5 18h0m27.5 23h0m7.5-22h0m5 32h0m-124 87.5h0m164.5-162.5h0m-81.5 39.5h0m59 6h0m-69.5-28h0m35.5 48h0m57.5-4.5h0m-81.5 94h0m-11.5-135h0m-69.5 67.5h0m49.5 67h0m44.5-79h0m20-16.5h0m-7.5 28.5h0m24.5-67h0m13.5 48h0m-51.5 39h0m57.5-23h0m-142 50h0m58.5 24h0m-8-12.5h0m4-154.5h0m116 64.5h0m-159.5 94h0m36-157h0m25.5 57h0m-28-30h0m65.5 91.5h0m-90.5 50h0m-29.5-24h0m103-58.5h0m-45.5-54.5h0m106-12.5h0m3.5-2.5h0m-152.5-20h0m136 36.5h0m-6 59.5h0m-93-85.5h0m93 63h0m-55 46h0m37.5 6h0m-57.5 2h0m-33-101.5h0m92 1h0m-50.5-3h0m-49 144.5h0m60.5-46.5h0m-1-65h0m15 31h0m27 8.5h0m-124.5-18.5h0m81.5-60h0m-66.5 139h0m91.5-84.5h0m40 25.5h0m-77.5 65.5h0m52.5-57h0m-46-86h0m-53 74h0m122 0h0m-33.5-93.5h0m-55.5 147h0m-40.5-136.5h0m22.5 29.5h0m25.5-39h0m50 145h0m-32.5-96h0m-18-49h0m46.5 21.5h0m-25.5-17h0m-24 152h0m45.5-78.5h0m40.5-30.5h0m-26.5 50.5h0m-99.5-66h0m109 68h0m44.5-25.5h0m-22.5-56.5h0m-112.5 31.5h0m5 100h0m82-127.5h0m22 76.5h0m9-70.5h0m-85 126.5h0m9.5-106.5h0m-41.5 96h0m64.5-100.5h0m52-34.5h0m-30 81h0m-26.5-15.5h0m-36.5-56h0m9 156h0m-27.5-149h0m103-5.5h0m-60 53.5h0m-50-55.5h0m75 65h0m-104.5 79.5h0m105.5-105h0m-86-14h0m-14.5 41h0m136 10h0m-38.5 48.5h0m34-51.5h0m2.5-40.5h0m-60.5-20h0m17.5 77h0m-50.5-64.5h0m16 116h0m6-122.5h0m67 18h0m10.5 19.5h0m-73.5-46.5h0m75.5-13h0m-141 76.5h0m73.5-59h0m4.5 125.5h0m-88-123.5h0m72 114.5h0m18 9.5h0m1.5-44h0m43-23h0m-25-48h0m-89.5-32h0m54.5 19h0m40.5 99.5h0m-10-129.5h0m-37 1.5h0m39 80.5h0m31.5-21h0m14.5-55.5h0m-130 2h0m140.5 40h0m-97-41.5h0m56.5 84.5h0m23.5-89h0m-45 2.5h0m-45.5-3h0m44 38h0m-83 102.5h0m61.5-79h0m-78-45.5h0m78.5-4h0m14 40h0m-82 100.5h0m37.5-109.5h0m-4-13h0m60.5 1h0m47 14.5h0m-134.5-9h0m-15.5 122h0m76.5-115h0m-7.5 81.5h0m4-73.5h0m-25 10.5h0m115.5-29.5h0m-147 8h0m15 54.5h0m61 27.5h0m16.5 12h0m-20-58.5h0m-15.5-42h0m63 25.5h0m-22-37.5h0m-89 118.5h0m-13.5 3h0m31.5 26.5h0m-7.5-22h0m66.5-112.5h0m-19.5 111.5h0m48-47h0m-6-10.5h0m-31-51.5h0m-11 32h0m6 37h0m-18-87h0m-49 144.5h0m29-106h0m-15 101h0m6.5-55.5h0m-7.5-105h0m108.5 42h0m-127.5-22.5h0m57.5 36.5h0m-5.5-14.5h0m36 6h0m-75 34.5h0m59-7.5h0m61.5-32h0m-2 13h0m-117.5 39.5h0m-17.5-96h0m28 99.5h0m-46-20.5h0m-9.5 8.5h0m85.5-46.5h0m-44.5 102.5h0m0.5 1.5h0m50-66.5h0m-82-55.5h0m155.5 101h0m-15-37h0m-123 1h0m64-34h0m-23-11.5h0m-12 57.5h0m46 23.5h0m-17.5 33h0m-62 5.5h0m83-92h0m60-1.5h0m-82-56.5h0m20.5 48.5h0m-84.5 46.5h0m93.5-21h0m-7.5-33.5h0" stroke="#d82828" stroke-width="2.1" stroke-linecap="round" fill="none" opacity="0.9"/>
<path d="M1564 394h0m100.5-45h0m62.5 16.5h0m-44.5-62.5h0m-109.5-23.5h0m129.5 67.5h0m-13.5 22.5h0m-8.5 19.5h0m30.5-128h0m-92.5 153.5h0m-57.5-43.5h0m157.5-22h0m-177-10h0m20.5 46.5h0m120-54h0m-72-18h0m49 16.5h0m49 47h0m6-108h0m-7 15.5h0m-6.5 69h0m-96-47.5h0m99 12.5h0m-15.5-45h0m-9 80h0m-134.5 0.5h0m120-25.5h0m-80 66h0m105.5-12h0m-128-99.5h0m104.5 29h0m-2.5 21.5h0m-84.5-45h0m87.5 48h0m-7.5 38h0m29.5 10h0m11.5-31.5h0m-75.5 58h0m-69-27.5h0m7-18h0m83.5-49h0m-81 91h0m-16-61.5h0m113-7h0m1.5-2h0m-126-65.5h0m56 25.5h0m17.5 115.5h0m37.5-86.5h0m32 15h0m21 26h0m-19.5-7.5h0m-93.5 59.5h0m7-121.5h0m94 36h0m-119.5 60.5h0m-26.5-121h0m141.5 38h0m-91-14h0m110 36h0m13.5-68.5h0m-137.5 25h0m-22.5 56h0m108 16h0m25.5 0.5h0m-6 0.5h0m-6 2.5h0m-31.5 50.5h0m-89-46.5h0m108-35.5h0m14.5-3.5h0m9-29h0m16 68h0m-102 39.5h0m-45.5-126h0m96.5 40h0m-108.5 61h0m159.5-23.5h0m-147 0h0m152.5-5.5h0m-0.5-83.5h0m-102 138.5h0m-27.5-3h0m109-91h0m-8-26.5h0m-123.5 94h0m-21.5-50.5h0m120.5-8h0m-84.5 72h0m33-86.5h0m85-50.5h0m-128.5 97h0m155-89.5h0m-120 37h0m101 58h0m-141 0h0m152.5 22.5h0m-82-7h0m69-2.5h0m-13-53.5h0m-71.5-18.5h0m-1.5 104.5h0m82.5-57h0m-134 26h0m1.5 5.5h0m76.5 32h0m45.5-56.5h0m-95.5-61h0m121 48h0m2-67h0m-24.5 1h0m-131.5 64.5h0m94.5-23h0m-91.5-41.5h0m124 11h0m2 15.5h0m-8.5 70.5h0m-101.5-84h0m34 13h0m77.5 19.5h0m-67.5 97.5h0m70.5-66.5h0m0.5-44h0m18 44.5h0m-70-3.5h0m31.5 15h0m27-31h0m-10-21h0m-8 50.5h0m-129.5-11.5h0m88 57.5h0m51.5-18.5h0m-28.5-40h0m-100.5 38.5h0m67.5 28h0m-74-48h0m160-8.5h0m7.5-9.5h0m-180-26h0m119.5 17.5h0m33-5h0m-131.5-60.5h0m83.5 138.5h0m-20-106h0m68.5 70.5h0m-84 27.5h0m31-51.5h0m-7.5 59.5h0m73-49h0m3.5 16h0m-50.5-3.5h0m47-26.5h0m-21 29.5h0m25.5-26h0m-70.5 59h0m29-19.5h0m-70.5 7.5h0m122.5-78.5h0m-57.5 47.5h0m16.5 37h0m4-31h0m-31-51.5h0m33-32.5h0m-24.5 108.5h0m-102-27.5h0m57.5 37.5h0m4 1.5h0m-55.5-33.5h0m75.5-64.5h0m-75.5-33h0m123-20.5h0m35.5 120h0m-52.5-46.5h0m-125 45.5h0m123-5.5h0m2-39.5h0m11-28h0m9.5 28.5h0m-149 1.5h0m125.5 53.5h0m23-57h0m16-39.5h0m-149.5 52.5h0m40.5-44.5h0m77.5 100h0m-66.5-100.5h0m-56.5 62.5h0m164-27.5h0m-65-18.5h0m52 51.5h0m-68-13h0m21-37.5h0m-2.5-5h0m14 62.5h0m49.5 9.5h0m-171.5-114.5h0m152 56h0m-35.5 44h0m-7.5 0.5h0m-44.5 33.5h0m-51-128.5h0m143 97h0m-23-117.5h0m-123.5 91.5h0m57.5-44h0m-64.5 42.5h0m174.5 24.5h0m-103-61.5h0m72.5-9.5h0m-5.5 70h0m-29-40.5h0m18.5 66.5h0m-31 16h0m1.5-87h0m26 64.5h0m-107-23.5h0m118.5-118h0m23.5 32.5h0m-139 110.5h0m102-9h0m-45.5-61.5h0m-59 45.5h0m110-17.5h0m9-33.5h0m-131-39h0m59 32.5h0m90.5 40h0m-8-36h0m30 42h0m-12 19.5h0m-82.5 45h0m12.5-24.5h0m56.5-62.5h0m-58 20.5h0m-97.5-1.5h0m108 68h0m47-66.5h0m-64 62h0m76.5-158.5h0m-21 76h0m-2-12h0m-65.5-10h0m62 74h0m-64.5 25h0m90-36.5h0m-156.5-25h0m48.5-49.5h0m46 65h0m14 6h0m33.5-76h0m-45 68h0m-105-26.5h0m137 14.5h0m15-40.5h0m-142 73h0m125-65.5h0m-103 87h0m-14-42h0m126-73h0m-137.5 69h0" stroke="#40c040" stroke-width="2.0" stroke-linecap="round" fill="none" opacity="0.85"/>
<path d="M1709 322.5h0m-160.5 87.5h0m31.5-53.5h0m-38 21.5h0m183.5-114h0m-41-6h0m-103 54.5h0m78 69h0m-39-56h0m-64 14.5h0m92-51h0m11.5 141h0m-84.5-70h0m68.5 70.5h0m-9-83.5h0m40.5-29.5h0m-20.5 1.5h0m-49-49h0m83 61h0m-86.5-12h0m-58.5 41h0m24.5-64h0m144.5 19.5h0m6.5 73h0m-163.5 5h0m30-142h0m82 170h0m32.5-47h0m-75-50h0m8-38.5h0m2.5 34h0m-40 97h0m-23.5-26.5h0m80-108.5h0m-9.5-2h0m51.5 15.5h0m-64 11h0m95.5-37h0m-81.5 153.5h0m-74-103.5h0m150-74h0m-85.5 136.5h0m-56-83.5h0m12.5 36h0m46.5 29h0m81 53h0m-144-28h0m-19-22h0m165.5-120h0m-117.5 159.5h0m34-131.5h0m4 130.5h0m-0.5-64.5h0m50.5 69.5h0m11-69h0m-125.5-81.5h0m143.5 97h0m-4-25h0m-104 83.5h0m91.5-58h0m-78-16.5h0m-70-40.5h0m81-32.5h0m-76.5 1.5h0m74.5 12.5h0m75.5 66h0m-53 65.5h0m45-26h0m-6-111h0m-66.5 151h0m-82.5-101.5h0m176.5-20.5h0m-82.5 86h0m65.5-72h0m-68 84.5h0m79-99h0m-179-54h0m140 167.5h0m-42-65h0m8 6.5h0m-94 67h0m172.5-31.5h0m-37 22h0m-5-101.5h0m-89.5 50h0m94-115.5h0m-96.5 39.5h0m-10.5 87.5h0m113.5-105.5h0m-97.5 102h0" stroke="#c03030" stroke-width="1.6" stroke-linecap="round" fill="none" opacity="0.7"/>
<g fill="none" stroke="#7fe060" stroke-width="1.4"><ellipse cx="1283.9" cy="333.2" rx="7" ry="3.6" transform="rotate(40 1283.9 333.2)"/><ellipse cx="1305.9" cy="357.2" rx="3" ry="3.5"/><ellipse cx="1313.9" cy="353.2" rx="2.5" ry="3"/></g>
<g fill="none" stroke="#f04a40" stroke-width="1.4"><ellipse cx="1475.8" cy="333.2" rx="7" ry="3.6" transform="rotate(40 1475.8 333.2)"/><ellipse cx="1497.8" cy="357.2" rx="3" ry="3.5"/><ellipse cx="1505.8" cy="353.2" rx="2.5" ry="3"/></g>
<g fill="none" stroke="#b8f070" stroke-width="1.4"><ellipse cx="1668.9" cy="333.2" rx="7" ry="3.6" transform="rotate(40 1668.9 333.2)"/><ellipse cx="1690.9" cy="357.2" rx="3" ry="3.5"/><ellipse cx="1698.9" cy="353.2" rx="2.5" ry="3"/></g>
<text x="1336.6" y="76.4" font-size="24.5" text-anchor="end" fill="#fff">TGFBI</text>
<text x="1528.6" y="76.4" font-size="24.5" text-anchor="end" fill="#fff">PDGFRβ</text>
<text x="1721.3" y="76.4" font-size="24.5" text-anchor="end" fill="#fff">Merged</text>
<text x="1336.6" y="269.1" font-size="24.5" text-anchor="end" fill="#fff">TGFBI</text>
<text x="1528.6" y="269.1" font-size="24.5" text-anchor="end" fill="#fff">PDGFRβ</text>
<text x="1721.3" y="269.1" font-size="24.5" text-anchor="end" fill="#fff">Merged</text>
<line x1="1693.3" y1="223.6" x2="1714.5" y2="223.6" stroke="#fff" stroke-width="3" />
<line x1="1687.7" y1="416.7" x2="1710" y2="416.7" stroke="#fff" stroke-width="3" />
<text x="1141.7" y="143.2" font-size="26.3" letter-spacing="0.6" text-anchor="middle" transform="rotate(-90 1141.7 143.2)">Normal</text>
<text x="1141.7" y="337.5" font-size="26.3" letter-spacing="0.3" text-anchor="middle" transform="rotate(-90 1141.7 337.5)">Fibrosis</text>
<path d="M1808.7 389.7V331H1828V389.7" fill="none" stroke="#000" stroke-width="3"/>
<path d="M1847.5 389.7V212.4H1867.3V389.7" fill="none" stroke="#000" stroke-width="3"/>
<path d="M1911.7 389.7V331H1931.3V389.7" fill="none" stroke="#000" stroke-width="3"/>
<path d="M1951 389.7V253.5H1970.9V389.7" fill="none" stroke="#000" stroke-width="3"/>
<path d="M1818.2 318.8V343.9M1810.7 318.8H1825.7M1810.7 343.9H1825.7" stroke="#4ca3a8" stroke-width="2.6" fill="none"/>
<circle cx="1809.5" cy="318.8" r="5.8" fill="#4ca3a8"/>
<circle cx="1828" cy="314.2" r="5.8" fill="#4ca3a8"/>
<circle cx="1809.5" cy="333.7" r="5.8" fill="#4ca3a8"/>
<circle cx="1828" cy="333.7" r="5.8" fill="#4ca3a8"/>
<circle cx="1810.4" cy="344.8" r="5.8" fill="#4ca3a8"/>
<circle cx="1828" cy="340.2" r="5.8" fill="#4ca3a8"/>
<circle cx="1913.4" cy="327.2" r="5.8" fill="#4ca3a8"/>
<circle cx="1921.7" cy="324.4" r="5.8" fill="#4ca3a8"/>
<circle cx="1930" cy="319.7" r="5.8" fill="#4ca3a8"/>
<circle cx="1932" cy="329" r="5.8" fill="#4ca3a8"/>
<circle cx="1913.4" cy="338.3" r="5.8" fill="#4ca3a8"/>
<circle cx="1931" cy="338.3" r="5.8" fill="#4ca3a8"/>
<circle cx="1913.4" cy="341.1" r="5.8" fill="#4ca3a8"/>
<rect x="1860.5" y="190.9" width="11" height="11" fill="#e8737c"/>
<rect x="1850.3" y="198.3" width="11" height="11" fill="#e8737c"/>
<rect x="1841.1" y="204.8" width="11" height="11" fill="#e8737c"/>
<rect x="1858.7" y="207.5" width="11" height="11" fill="#e8737c"/>
<rect x="1852.2" y="215.9" width="11" height="11" fill="#e8737c"/>
<rect x="1851.3" y="224.3" width="11" height="11" fill="#e8737c"/>
<rect x="1963.5" y="237.2" width="11" height="11" fill="#e8737c"/>
<rect x="1952.4" y="241" width="11" height="11" fill="#e8737c"/>
<rect x="1945" y="249.3" width="11" height="11" fill="#e8737c"/>
<rect x="1963.5" y="249.3" width="11" height="11" fill="#e8737c"/>
<rect x="1953.3" y="256.7" width="11" height="11" fill="#e8737c"/>
<line x1="1792.2" y1="96.2" x2="1792.2" y2="389.7" stroke="#000" stroke-width="3" />
<line x1="1776" y1="389.7" x2="1988" y2="389.7" stroke="#000" stroke-width="3" />
<line x1="1778" y1="389.7" x2="1792.2" y2="389.7" stroke="#000" stroke-width="3" />
<text x="1772.5" y="397.2" font-size="20.5" text-anchor="end">0</text>
<line x1="1778" y1="331" x2="1792.2" y2="331" stroke="#000" stroke-width="3" />
<text x="1772.5" y="338.5" font-size="20.5" text-anchor="end">1</text>
<line x1="1778" y1="272.3" x2="1792.2" y2="272.3" stroke="#000" stroke-width="3" />
<text x="1772.5" y="279.8" font-size="20.5" text-anchor="end">2</text>
<line x1="1778" y1="213.6" x2="1792.2" y2="213.6" stroke="#000" stroke-width="3" />
<text x="1772.5" y="221.1" font-size="20.5" text-anchor="end">3</text>
<line x1="1778" y1="154.9" x2="1792.2" y2="154.9" stroke="#000" stroke-width="3" />
<text x="1772.5" y="162.4" font-size="20.5" text-anchor="end">4</text>
<line x1="1778" y1="96.2" x2="1792.2" y2="96.2" stroke="#000" stroke-width="3" />
<text x="1772.5" y="103.7" font-size="20.5" text-anchor="end">5</text>
<line x1="1837.2" y1="389.7" x2="1837.2" y2="405.7" stroke="#000" stroke-width="3" />
<line x1="1940.6" y1="389.7" x2="1940.6" y2="405.7" stroke="#000" stroke-width="3" />
<text x="1837.5" y="428.5" font-size="18.8" text-anchor="middle">TGFBI</text>
<text x="1940.6" y="428.5" font-size="18.8" text-anchor="middle">PDGFRβ</text>
<circle cx="1809.5" cy="101.2" r="3.8" fill="#4ca3a8"/>
<text x="1855.5" y="108" font-size="19">Normal</text>
<rect x="1805.7" y="131" width="8.6" height="8.6" fill="#e8737c"/>
<text x="1856" y="142" font-size="19">Fibrosis</text>
<text x="1745.3" y="249" font-size="18.7" text-anchor="middle" transform="rotate(-90 1745.3 249)">Relative fluorescence intensity</text>
<text x="1842.3" y="182.7" font-size="32.7" text-anchor="middle" font-weight="bold" letter-spacing="1.6">****</text>
<line x1="1820.6" y1="186" x2="1858.6" y2="186" stroke="#000" stroke-width="2.8" />
<text x="1939.2" y="206.9" font-size="32.7" text-anchor="middle" font-weight="bold" letter-spacing="1.6">****</text>
<line x1="1918" y1="210" x2="1956" y2="210" stroke="#000" stroke-width="2.8" />
<text x="1122.7" y="471.3" font-size="45">D</text>
<circle cx="1374.7" cy="735.2" r="5.5" fill="#4aa0a6"/>
<circle cx="1415.2" cy="752.9" r="5.5" fill="#4aa0a6"/>
<circle cx="1435.7" cy="714.7" r="5.5" fill="#4aa0a6"/>
<circle cx="1485.1" cy="679.8" r="5.5" fill="#4aa0a6"/>
<circle cx="1487.4" cy="699.3" r="5.5" fill="#4aa0a6"/>
<circle cx="1497.2" cy="752.5" r="5.5" fill="#4aa0a6"/>
<circle cx="1503.8" cy="771.6" r="5.5" fill="#4aa0a6"/>
<circle cx="1515.9" cy="709.1" r="5.5" fill="#4aa0a6"/>
<circle cx="1518.2" cy="661.6" r="5.5" fill="#4aa0a6"/>
<circle cx="1523.8" cy="735.2" r="5.5" fill="#4aa0a6"/>
<circle cx="1532.6" cy="754.8" r="5.5" fill="#4aa0a6"/>
<circle cx="1533.1" cy="735.2" r="5.5" fill="#4aa0a6"/>
<circle cx="1533.6" cy="765" r="5.5" fill="#4aa0a6"/>
<circle cx="1537.3" cy="709.1" r="5.5" fill="#4aa0a6"/>
<circle cx="1536.4" cy="717.5" r="5.5" fill="#4aa0a6"/>
<circle cx="1542.9" cy="638.3" r="5.5" fill="#4aa0a6"/>
<circle cx="1543.4" cy="737.1" r="5.5" fill="#4aa0a6"/>
<circle cx="1545.2" cy="761.3" r="5.5" fill="#4aa0a6"/>
<circle cx="1542.9" cy="716.6" r="5.5" fill="#4aa0a6"/>
<circle cx="1555" cy="713.8" r="5.5" fill="#4aa0a6"/>
<circle cx="1555.5" cy="753.4" r="5.5" fill="#4aa0a6"/>
<circle cx="1555" cy="735.2" r="5.5" fill="#4aa0a6"/>
<circle cx="1560.1" cy="677" r="5.5" fill="#4aa0a6"/>
<circle cx="1557.3" cy="718.9" r="5.5" fill="#4aa0a6"/>
<circle cx="1562" cy="735.7" r="5.5" fill="#4aa0a6"/>
<circle cx="1565.7" cy="724.5" r="5.5" fill="#4aa0a6"/>
<circle cx="1579.7" cy="652.7" r="5.5" fill="#4aa0a6"/>
<circle cx="1583" cy="712.4" r="5.5" fill="#4aa0a6"/>
<circle cx="1587.2" cy="633.2" r="5.5" fill="#4aa0a6"/>
<circle cx="1588.6" cy="715.2" r="5.5" fill="#4aa0a6"/>
<circle cx="1588.6" cy="748.7" r="5.5" fill="#4aa0a6"/>
<circle cx="1596" cy="757.6" r="5.5" fill="#4aa0a6"/>
<circle cx="1602.1" cy="698.4" r="5.5" fill="#4aa0a6"/>
<circle cx="1605.3" cy="735.7" r="5.5" fill="#4aa0a6"/>
<circle cx="1607.2" cy="710.1" r="5.5" fill="#4aa0a6"/>
<circle cx="1612.8" cy="713.3" r="5.5" fill="#4aa0a6"/>
<circle cx="1621.2" cy="661.1" r="5.5" fill="#4aa0a6"/>
<circle cx="1625.8" cy="734.8" r="5.5" fill="#4aa0a6"/>
<circle cx="1631" cy="649" r="5.5" fill="#4aa0a6"/>
<circle cx="1635.6" cy="567" r="5.5" fill="#4aa0a6"/>
<circle cx="1638.4" cy="688.6" r="5.5" fill="#4aa0a6"/>
<circle cx="1640.8" cy="721.2" r="5.5" fill="#4aa0a6"/>
<circle cx="1653.3" cy="657.9" r="5.5" fill="#4aa0a6"/>
<circle cx="1653.3" cy="697" r="5.5" fill="#4aa0a6"/>
<circle cx="1668.7" cy="561.4" r="5.5" fill="#4aa0a6"/>
<circle cx="1668.7" cy="668.6" r="5.5" fill="#4aa0a6"/>
<circle cx="1672.9" cy="622.5" r="5.5" fill="#4aa0a6"/>
<circle cx="1682.2" cy="645.3" r="5.5" fill="#4aa0a6"/>
<circle cx="1682.2" cy="652.7" r="5.5" fill="#4aa0a6"/>
<circle cx="1684.6" cy="610.8" r="5.5" fill="#4aa0a6"/>
<circle cx="1685" cy="618.3" r="5.5" fill="#4aa0a6"/>
<circle cx="1689.2" cy="627.6" r="5.5" fill="#4aa0a6"/>
<circle cx="1711.1" cy="638.8" r="5.5" fill="#4aa0a6"/>
<circle cx="1716.7" cy="633.6" r="5.5" fill="#4aa0a6"/>
<circle cx="1720.4" cy="614.5" r="5.5" fill="#4aa0a6"/>
<circle cx="1754" cy="543.2" r="5.5" fill="#4aa0a6"/>
<circle cx="1796.4" cy="657.9" r="5.5" fill="#4aa0a6"/>
<circle cx="1753.1" cy="544.2" r="5.5" fill="#4aa0a6"/>
<line x1="1375.6" y1="785.1" x2="1796.4" y2="601" stroke="#e0383a" stroke-width="3" />
<path d="M1281.5 467.1V867.1H1882.1000000000001" fill="none" stroke="#000" stroke-width="3"/>
<line x1="1267.5" y1="867.1" x2="1281.5" y2="867.1" stroke="#000" stroke-width="3" />
<text x="1261.8" y="877.1" font-size="28.8" text-anchor="end">1.8</text>
<line x1="1267.5" y1="767.1" x2="1281.5" y2="767.1" stroke="#000" stroke-width="3" />
<text x="1261.8" y="777.1" font-size="28.8" text-anchor="end">2.0</text>
<line x1="1267.5" y1="667.1" x2="1281.5" y2="667.1" stroke="#000" stroke-width="3" />
<text x="1261.8" y="677.1" font-size="28.8" text-anchor="end">2.2</text>
<line x1="1267.5" y1="567.1" x2="1281.5" y2="567.1" stroke="#000" stroke-width="3" />
<text x="1261.8" y="577.1" font-size="28.8" text-anchor="end">2.4</text>
<line x1="1267.5" y1="467.1" x2="1281.5" y2="467.1" stroke="#000" stroke-width="3" />
<text x="1261.8" y="477.1" font-size="28.8" text-anchor="end">2.6</text>
<line x1="1281.5" y1="867.1" x2="1281.5" y2="881.1" stroke="#000" stroke-width="3" />
<text x="1281.5" y="912.3" font-size="28.8" text-anchor="middle">3.0</text>
<line x1="1381.6" y1="867.1" x2="1381.6" y2="881.1" stroke="#000" stroke-width="3" />
<text x="1381.6" y="912.3" font-size="28.8" text-anchor="middle">3.1</text>
<line x1="1481.7" y1="867.1" x2="1481.7" y2="881.1" stroke="#000" stroke-width="3" />
<text x="1481.7" y="912.3" font-size="28.8" text-anchor="middle">3.2</text>
<line x1="1581.8" y1="867.1" x2="1581.8" y2="881.1" stroke="#000" stroke-width="3" />
<text x="1581.8" y="912.3" font-size="28.8" text-anchor="middle">3.3</text>
<line x1="1681.9" y1="867.1" x2="1681.9" y2="881.1" stroke="#000" stroke-width="3" />
<text x="1681.9" y="912.3" font-size="28.8" text-anchor="middle">3.4</text>
<line x1="1782" y1="867.1" x2="1782" y2="881.1" stroke="#000" stroke-width="3" />
<text x="1782" y="912.3" font-size="28.8" text-anchor="middle">3.5</text>
<line x1="1882.1" y1="867.1" x2="1882.1" y2="881.1" stroke="#000" stroke-width="3" />
<text x="1882.1" y="912.3" font-size="28.8" text-anchor="middle">3.6</text>
<text x="1357.5" y="505.5" font-size="20.8" text-anchor="middle">r=0.4352</text>
<text x="1363.7" y="553" font-size="20.5" text-anchor="middle">p=0.0534</text>
<text x="1584" y="949" font-size="30.5" text-anchor="middle" font-style="italic">Tgfbi</text>
<text x="1191" y="667.6" font-size="31.5" font-style="italic" text-anchor="middle" transform="rotate(-90 1191 667.6)">Pdgfrb</text>
<defs><filter id="bb3" x="-50%" y="-80%" width="200%" height="260%"><feGaussianBlur stdDeviation="3"/></filter><filter id="bb2" x="-50%" y="-80%" width="200%" height="260%"><feGaussianBlur stdDeviation="2"/></filter><filter id="bb5" x="-50%" y="-80%" width="200%" height="260%"><feGaussianBlur stdDeviation="5"/></filter></defs>
<text x="45" y="997.8" font-size="48">E</text>
<text x="306.6" y="996" font-size="25.4" text-anchor="middle">Oil</text>
<line x1="167" y1="1004" x2="441.7" y2="1004" stroke="#000" stroke-width="2.2" />
<text x="604" y="996" font-size="25.4" text-anchor="middle">CCl<tspan font-size="15" dy="5">4</tspan></text>
<line x1="469" y1="1004" x2="743.5" y2="1004" stroke="#000" stroke-width="2.2" />
<line x1="160" y1="1044.6" x2="297.5" y2="1044.6" stroke="#000" stroke-width="2.2" />
<text x="228.8" y="1037" font-size="25.5" text-anchor="middle">WT</text>
<line x1="312.8" y1="1044.6" x2="449.9" y2="1044.6" stroke="#000" stroke-width="2.2" />
<text x="385.4" y="1037" font-size="25.5" text-anchor="middle"><tspan font-style="italic">Tgfbi</tspan><tspan font-size="15.8" dy="-9.2">-/-</tspan></text>
<line x1="461.3" y1="1044.6" x2="598.4" y2="1044.6" stroke="#000" stroke-width="2.2" />
<text x="529.9" y="1037" font-size="25.5" text-anchor="middle">WT</text>
<line x1="611.7" y1="1044.6" x2="748.8" y2="1044.6" stroke="#000" stroke-width="2.2" />
<text x="684.2" y="1037" font-size="25.5" text-anchor="middle"><tspan font-style="italic">Tgfbi</tspan><tspan font-size="15.8" dy="-9.2">-/-</tspan></text>
<text x="786" y="1045" font-size="25">kDa</text>
<clipPath id="e1"><rect x="125.9" y="1059.9" width="656.3" height="59.5"/></clipPath>
<rect x="125.9" y="1059.9" width="656.3" height="59.5" fill="#dadada"/>
<g clip-path="url(#e1)"><g filter="url(#bb3)">
<rect x="162.5" y="1085" width="28" height="34" fill="#cfcfcf"/><rect x="215.9" y="1085" width="28" height="34" fill="#cfcfcf"/><rect x="264.4" y="1085" width="28" height="34" fill="#cfcfcf"/><rect x="314.4" y="1085" width="28" height="34" fill="#cfcfcf"/><rect x="363.9" y="1085" width="28" height="34" fill="#cfcfcf"/><rect x="412.4" y="1085" width="28" height="34" fill="#cfcfcf"/><rect x="461.5" y="1062" width="28" height="50" fill="#c8c8c8"/><rect x="510.9" y="1062" width="28" height="50" fill="#c8c8c8"/><rect x="560.5" y="1062" width="28" height="50" fill="#c8c8c8"/>
<rect x="160.5" y="1078.1" width="32" height="17" rx="8.5" fill="#d0d0d0"/>
<rect x="213.9" y="1078.1" width="32" height="17" rx="8.5" fill="#ababab"/>
<rect x="262.4" y="1078.1" width="32" height="17" rx="8.5" fill="#a8a8a8"/>
<rect x="312.4" y="1078.1" width="32" height="17" rx="8.5" fill="#b2b2b2"/>
<rect x="361.9" y="1078.1" width="32" height="17" rx="8.5" fill="#b6b6b6"/>
<rect x="410.4" y="1078.1" width="32" height="17" rx="8.5" fill="#ababab"/>
<rect x="456.5" y="1076.5" width="38" height="24" rx="12" fill="#0c0c0c"/>
<rect x="505.9" y="1076.5" width="38" height="24" rx="12" fill="#080808"/>
<rect x="555.5" y="1076.5" width="38" height="24" rx="12" fill="#101010"/>
<rect x="607.9" y="1078.5" width="34" height="16" rx="8" fill="#666"/>
<rect x="656.5" y="1078.5" width="34" height="16" rx="8" fill="#4e4e4e"/>
<rect x="705.9" y="1078.5" width="34" height="16" rx="8" fill="#727272"/>
</g></g>
<rect x="125.9" y="1059.9" width="656.3" height="59.5" fill="none" stroke="#000" stroke-width="2.2"/>
<clipPath id="e2"><rect x="125.9" y="1141" width="656.3" height="59.5"/></clipPath>
<rect x="125.9" y="1141" width="656.3" height="59.5" fill="#d9d9d9"/>
<g clip-path="url(#e2)"><g filter="url(#bb2)">
<rect x="156.9" y="1151" width="44" height="16" rx="8" fill="#060606"/>
<rect x="207.9" y="1158" width="44" height="16" rx="8" fill="#060606"/>
<rect x="258.9" y="1163" width="44" height="16" rx="8" fill="#060606"/>
<rect x="309.4" y="1167" width="44" height="16" rx="8" fill="#060606"/>
<rect x="358.9" y="1169.7" width="44" height="16" rx="8" fill="#060606"/>
<rect x="406.9" y="1169.7" width="44" height="16" rx="8" fill="#060606"/>
<rect x="456" y="1171" width="44" height="16" rx="8" fill="#060606"/>
<rect x="504" y="1171" width="44" height="16" rx="8" fill="#060606"/>
<rect x="553" y="1171" width="44" height="16" rx="8" fill="#060606"/>
<rect x="603" y="1171" width="44" height="16" rx="8" fill="#060606"/>
<rect x="653" y="1171" width="44" height="16" rx="8" fill="#060606"/>
<rect x="702" y="1167" width="48" height="18" rx="9" fill="#050505"/>
</g></g>
<rect x="125.9" y="1141" width="656.3" height="59.5" fill="none" stroke="#000" stroke-width="2.2"/>
<text x="16.7" y="1099.5" font-size="25.8">PDGFRβ</text>
<text x="23.9" y="1181" font-size="25.5">GAPDH</text>
<text x="787" y="1099" font-size="25.2">190</text>
<text x="792" y="1181" font-size="25.2">36</text>
<text x="305.6" y="1236" font-size="26" text-anchor="middle">Sham</text>
<line x1="163.8" y1="1241.3" x2="437.4" y2="1241.3" stroke="#000" stroke-width="2.2" />
<text x="601.7" y="1236" font-size="25" text-anchor="middle">BDL</text>
<line x1="464" y1="1241.3" x2="738.8" y2="1241.3" stroke="#000" stroke-width="2.2" />
<line x1="156.6" y1="1281.9" x2="293.2" y2="1281.9" stroke="#000" stroke-width="2.2" />
<text x="224.9" y="1275.5" font-size="25.5" text-anchor="middle">WT</text>
<line x1="308.5" y1="1281.9" x2="445.6" y2="1281.9" stroke="#000" stroke-width="2.2" />
<text x="381.1" y="1275.5" font-size="25.5" text-anchor="middle"><tspan font-style="italic">Tgfbi</tspan><tspan font-size="15.8" dy="-9.2">-/-</tspan></text>
<line x1="457" y1="1281.9" x2="594.6" y2="1281.9" stroke="#000" stroke-width="2.2" />
<text x="525.8" y="1275.5" font-size="25.5" text-anchor="middle">WT</text>
<line x1="606.5" y1="1281.9" x2="744" y2="1281.9" stroke="#000" stroke-width="2.2" />
<text x="679.2" y="1275.5" font-size="25.5" text-anchor="middle"><tspan font-style="italic">Tgfbi</tspan><tspan font-size="15.8" dy="-9.2">-/-</tspan></text>
<text x="786" y="1283" font-size="25">kDa</text>
<clipPath id="e3"><rect x="127.1" y="1297.1" width="655.5" height="59.4"/></clipPath>
<rect x="127.1" y="1297.1" width="655.5" height="59.4" fill="#dbdbdb"/>
<g clip-path="url(#e3)"><g filter="url(#bb2)">
<rect x="154.5" y="1322.1" width="30" height="11" rx="5.5" fill="#6e6e6e"/>
<rect x="203" y="1322.1" width="32" height="11" rx="5.5" fill="#b8b8b8"/>
<rect x="264.4" y="1322.6" width="28" height="10" rx="5" fill="#b0b0b0"/>
<rect x="310.7" y="1322.1" width="32" height="11" rx="5.5" fill="#7c7c7c"/>
<rect x="361.4" y="1322.6" width="32" height="10" rx="5" fill="#8c8c8c"/>
<rect x="414.1" y="1320.1" width="32" height="15" rx="7.5" fill="#141414"/>
<rect x="462.4" y="1317.6" width="36" height="20" rx="10" fill="#060606"/>
<rect x="514.9" y="1319.6" width="34" height="16" rx="8" fill="#262626"/>
<rect x="564.4" y="1314.6" width="38" height="26" rx="13" fill="#040404"/>
<rect x="616.9" y="1317.6" width="36" height="20" rx="10" fill="#0a0a0a"/>
<rect x="671.1" y="1322.1" width="32" height="11" rx="5.5" fill="#4a4a4a"/>
<rect x="723.8" y="1323.1" width="32" height="9" rx="4.5" fill="#d0d0d0"/>
</g></g>
<rect x="127.1" y="1297.1" width="655.5" height="59.4" fill="none" stroke="#000" stroke-width="2.2"/>
<clipPath id="e4"><rect x="127.1" y="1376.3" width="655.5" height="60.2"/></clipPath>
<rect x="127.1" y="1376.3" width="655.5" height="60.2" fill="#d9d9d9"/>
<g clip-path="url(#e4)"><g filter="url(#bb2)">
<rect x="143" y="1397" width="58" height="21" rx="10.5" fill="#050505"/>
<rect x="194" y="1396.3" width="58" height="21" rx="10.5" fill="#050505"/>
<rect x="247" y="1395.7" width="58" height="21" rx="10.5" fill="#050505"/>
<rect x="298" y="1395" width="58" height="21" rx="10.5" fill="#050505"/>
<rect x="349" y="1394.4" width="58" height="21" rx="10.5" fill="#050505"/>
<rect x="401" y="1393.8" width="58" height="21" rx="10.5" fill="#050505"/>
<rect x="452" y="1393.1" width="58" height="21" rx="10.5" fill="#050505"/>
<rect x="503" y="1392.5" width="58" height="21" rx="10.5" fill="#050505"/>
<rect x="554" y="1391.8" width="58" height="21" rx="10.5" fill="#050505"/>
<rect x="606" y="1391.2" width="58" height="21" rx="10.5" fill="#050505"/>
<rect x="658" y="1390.5" width="58" height="21" rx="10.5" fill="#050505"/>
<rect x="707" y="1389.8" width="58" height="21" rx="10.5" fill="#050505"/>
</g></g>
<rect x="127.1" y="1376.3" width="655.5" height="60.2" fill="none" stroke="#000" stroke-width="2.2"/>
<text x="16.7" y="1339" font-size="25.8">PDGFRβ</text>
<text x="23.9" y="1418" font-size="25.5">GAPDH</text>
<text x="787" y="1338" font-size="25.2">190</text>
<text x="792" y="1416" font-size="25.2">36</text>
<text x="866.6" y="997.7" font-size="46.5">F</text>
<path d="M1076.2 1402.5V1284.3H1120.3V1402.5" fill="none" stroke="#000" stroke-width="3"/>
<path d="M1151.3 1402.5V1307.9H1195.5V1402.5" fill="none" stroke="#000" stroke-width="3"/>
<path d="M1276 1402.5V1184.1H1320.2V1402.5" fill="none" stroke="#000" stroke-width="3"/>
<path d="M1351.1 1402.5V1267.6H1395.3V1402.5" fill="none" stroke="#000" stroke-width="3"/>
<path d="M1097.4 1258.5V1308.8M1085.2 1258.5H1109.7M1085.2 1308.8H1109.7" stroke="#4ca3a8" stroke-width="2.6" fill="none"/>
<circle cx="1097.4" cy="1248.7" r="6" fill="#4ca3a8"/>
<circle cx="1097.4" cy="1280.2" r="6" fill="#4ca3a8"/>
<circle cx="1088.6" cy="1304" r="6" fill="#4ca3a8"/>
<circle cx="1107.2" cy="1301.1" r="6" fill="#4ca3a8"/>
<path d="M1172.5 1282.6V1331.9M1162.8 1282.6H1182.2M1162.8 1331.9H1182.2" stroke="#e8737c" stroke-width="2.6" fill="none"/>
<rect x="1157.7" y="1271" width="11.5" height="11.5" fill="#e8737c"/>
<rect x="1176.8" y="1276.8" width="11.5" height="11.5" fill="#e8737c"/>
<rect x="1157" y="1314.7" width="11.5" height="11.5" fill="#e8737c"/>
<rect x="1176.2" y="1316.3" width="11.5" height="11.5" fill="#e8737c"/>
<rect x="1166.5" y="1325.2" width="11.5" height="11.5" fill="#e8737c"/>
<path d="M1297.2 1149.9V1216.2M1285 1149.9H1309.5M1285 1216.2H1309.5" stroke="#4ca3a8" stroke-width="2.6" fill="none"/>
<circle cx="1297.2" cy="1124.7" r="6" fill="#4ca3a8"/>
<circle cx="1287.8" cy="1194.6" r="6" fill="#4ca3a8"/>
<circle cx="1306.7" cy="1186.5" r="6" fill="#4ca3a8"/>
<circle cx="1306.7" cy="1197" r="6" fill="#4ca3a8"/>
<circle cx="1297.2" cy="1210.3" r="6" fill="#4ca3a8"/>
<path d="M1372.4 1240V1292.4M1360.2 1240H1384.7M1360.2 1292.4H1384.7" stroke="#e8737c" stroke-width="2.6" fill="none"/>
<rect x="1366.7" y="1222.8" width="11.5" height="11.5" fill="#e8737c"/>
<rect x="1366.7" y="1244.8" width="11.5" height="11.5" fill="#e8737c"/>
<rect x="1356.8" y="1273.3" width="11.5" height="11.5" fill="#e8737c"/>
<rect x="1376" y="1274.5" width="11.5" height="11.5" fill="#e8737c"/>
<rect x="1366.7" y="1288.5" width="11.5" height="11.5" fill="#e8737c"/>
<line x1="1048.1" y1="1054.8" x2="1048.1" y2="1402.5" stroke="#000" stroke-width="3" />
<line x1="1028.1" y1="1402.5" x2="1048.1" y2="1402.5" stroke="#000" stroke-width="3" />
<text x="1019.5" y="1409.3" font-size="18.8" text-anchor="end">0.0</text>
<line x1="1028.1" y1="1333" x2="1048.1" y2="1333" stroke="#000" stroke-width="3" />
<text x="1019.5" y="1339.7" font-size="18.8" text-anchor="end">0.5</text>
<line x1="1028.1" y1="1263.4" x2="1048.1" y2="1263.4" stroke="#000" stroke-width="3" />
<text x="1019.5" y="1270.2" font-size="18.8" text-anchor="end">1.0</text>
<line x1="1028.1" y1="1193.8" x2="1048.1" y2="1193.8" stroke="#000" stroke-width="3" />
<text x="1019.5" y="1200.6" font-size="18.8" text-anchor="end">1.5</text>
<line x1="1028.1" y1="1124.3" x2="1048.1" y2="1124.3" stroke="#000" stroke-width="3" />
<text x="1019.5" y="1131.1" font-size="18.8" text-anchor="end">2.0</text>
<line x1="1028.1" y1="1054.8" x2="1048.1" y2="1054.8" stroke="#000" stroke-width="3" />
<text x="1019.5" y="1061.5" font-size="18.8" text-anchor="end">2.5</text>
<line x1="1028.2" y1="1402.5" x2="1424.8" y2="1402.5" stroke="#000" stroke-width="3" />
<line x1="1134.8" y1="1402.5" x2="1134.8" y2="1421.7" stroke="#000" stroke-width="3" />
<line x1="1334.6" y1="1402.5" x2="1334.6" y2="1421.7" stroke="#000" stroke-width="3" />
<text x="1131.3" y="1445.4" font-size="17.5" text-anchor="middle">Oil</text>
<text x="1310.5" y="1445.4" font-size="17.5">CCl <tspan font-size="11" dy="3">4</tspan></text>
<circle cx="1068.4" cy="995.4" r="5" fill="#4ca3a8"/>
<text x="1122.5" y="1001.7" font-size="18.5">WT</text>
<rect x="1063.5" y="1017.8" width="9.8" height="9.8" fill="#e8737c"/>
<text x="1124.3" y="1031" font-size="18.5" font-style="italic">Tgfbi<tspan font-size="11" font-style="normal" dx="6" dy="-17">-/-</tspan></text>
<text x="974" y="1237.4" font-size="24.6" text-anchor="middle" transform="rotate(-90 974 1237.4)" >Relative mRNA expression of <tspan font-style="italic">Pdgfrb</tspan></text>
<line x1="1103.3" y1="1079.3" x2="1299.7" y2="1079.3" stroke="#000" stroke-width="2.8" />
<text x="1196.8" y="1071.4" font-size="32" text-anchor="middle" font-weight="bold" letter-spacing="1.5">***</text>
<line x1="1297.2" y1="1108.3" x2="1372.4" y2="1108.3" stroke="#000" stroke-width="2.8" />
<text x="1330.2" y="1102.9" font-size="32" text-anchor="middle" font-weight="bold" letter-spacing="1.5">**</text>
<path d="M1631.5 1401.6V1358.8H1677.8V1401.6" fill="none" stroke="#000" stroke-width="3"/>
<path d="M1710.3 1401.6V1340.7H1756V1401.6" fill="none" stroke="#000" stroke-width="3"/>
<path d="M1839.1 1401.6V1205.4H1885.7V1401.6" fill="none" stroke="#000" stroke-width="3"/>
<path d="M1917.5 1401.6V1333.9H1964.2V1401.6" fill="none" stroke="#000" stroke-width="3"/>
<path d="M1654.4 1334.4V1378.2M1642.2 1334.4H1666.6M1642.2 1378.2H1666.6" stroke="#4ca3a8" stroke-width="2.6" fill="none"/>
<circle cx="1654.4" cy="1333.4" r="6" fill="#4ca3a8"/>
<circle cx="1654.4" cy="1359.4" r="6" fill="#4ca3a8"/>
<circle cx="1654.4" cy="1377" r="6" fill="#4ca3a8"/>
<path d="M1731.9 1296.6V1376M1719.9 1296.6H1743.9M1719.9 1376H1743.9" stroke="#e8737c" stroke-width="2.6" fill="none"/>
<rect x="1726.2" y="1292.8" width="11.5" height="11.5" fill="#e8737c"/>
<rect x="1726.2" y="1328.7" width="11.5" height="11.5" fill="#e8737c"/>
<rect x="1726.2" y="1371.2" width="11.5" height="11.5" fill="#e8737c"/>
<path d="M1862.2 1133.5V1271.9M1849.9 1133.5H1874.5M1849.9 1271.9H1874.5" stroke="#4ca3a8" stroke-width="2.6" fill="none"/>
<circle cx="1862.2" cy="1127.8" r="6" fill="#4ca3a8"/>
<circle cx="1862.2" cy="1151.2" r="6" fill="#4ca3a8"/>
<circle cx="1862.2" cy="1208.8" r="6" fill="#4ca3a8"/>
<circle cx="1862.2" cy="1220" r="6" fill="#4ca3a8"/>
<circle cx="1862.2" cy="1305.5" r="6" fill="#4ca3a8"/>
<path d="M1940.7 1304.9V1358.4M1928.4 1304.9H1953M1928.4 1358.4H1953" stroke="#e8737c" stroke-width="2.6" fill="none"/>
<rect x="1935" y="1287" width="11.5" height="11.5" fill="#e8737c"/>
<rect x="1935" y="1311" width="11.5" height="11.5" fill="#e8737c"/>
<rect x="1924.8" y="1338.8" width="11.5" height="11.5" fill="#e8737c"/>
<rect x="1944" y="1338.8" width="11.5" height="11.5" fill="#e8737c"/>
<rect x="1935" y="1354.8" width="11.5" height="11.5" fill="#e8737c"/>
<line x1="1602.5" y1="1040.8" x2="1602.5" y2="1401.6" stroke="#000" stroke-width="3" />
<line x1="1581.5" y1="1401.6" x2="1602.5" y2="1401.6" stroke="#000" stroke-width="3" />
<text x="1573.3" y="1408.3" font-size="18.5" text-anchor="end">0</text>
<line x1="1581.5" y1="1311.4" x2="1602.5" y2="1311.4" stroke="#000" stroke-width="3" />
<text x="1573.3" y="1318.1" font-size="18.5" text-anchor="end">2</text>
<line x1="1581.5" y1="1221.2" x2="1602.5" y2="1221.2" stroke="#000" stroke-width="3" />
<text x="1573.3" y="1227.9" font-size="18.5" text-anchor="end">4</text>
<line x1="1581.5" y1="1131" x2="1602.5" y2="1131" stroke="#000" stroke-width="3" />
<text x="1573.3" y="1137.7" font-size="18.5" text-anchor="end">6</text>
<line x1="1581.5" y1="1040.8" x2="1602.5" y2="1040.8" stroke="#000" stroke-width="3" />
<text x="1573.3" y="1047.5" font-size="18.5" text-anchor="end">8</text>
<line x1="1581.3" y1="1401.6" x2="1994.5" y2="1401.6" stroke="#000" stroke-width="3" />
<line x1="1692.8" y1="1401.6" x2="1692.8" y2="1420.8" stroke="#000" stroke-width="3" />
<line x1="1901.6" y1="1401.6" x2="1901.6" y2="1420.8" stroke="#000" stroke-width="3" />
<text x="1686" y="1444.9" font-size="18.6" text-anchor="middle">Sham</text>
<text x="1895.9" y="1444.9" font-size="18.1" text-anchor="middle">BDL</text>
<circle cx="1616.6" cy="999" r="5" fill="#4ca3a8"/>
<text x="1671" y="1005.5" font-size="20">WT</text>
<rect x="1610.6" y="1029.5" width="12" height="12" fill="#e8737c"/>
<text x="1672.6" y="1043.5" font-size="19.5" font-style="italic">Tgfbi<tspan font-size="11" font-style="normal" dx="7" dy="-18">-/-</tspan></text>
<text x="1545" y="1229.5" font-size="25.5" text-anchor="middle" transform="rotate(-90 1545 1229.5)" >Relative mRNA expression of <tspan font-style="italic">Pdgfrb</tspan></text>
<line x1="1655" y1="1081.3" x2="1857.7" y2="1081.3" stroke="#000" stroke-width="2.8" />
<text x="1750.2" y="1077.1" font-size="32" text-anchor="middle" font-weight="bold" letter-spacing="1.5">**</text>
<line x1="1859" y1="1111.8" x2="1940" y2="1111.8" stroke="#000" stroke-width="2.8" />
<text x="1895.8" y="1109.1" font-size="32" text-anchor="middle" font-weight="bold" letter-spacing="1.5">**</text>
<text x="28.5" y="1506.3" font-size="47">G</text>
<line x1="113.6" y1="1556.2" x2="113.6" y2="1697" stroke="#000" stroke-width="3" />
<line x1="113.6" y1="1729" x2="113.6" y2="1872" stroke="#000" stroke-width="3" />
<line x1="93.6" y1="1556.2" x2="113.6" y2="1556.2" stroke="#000" stroke-width="3" />
<text x="83.3" y="1562.7" font-size="17.8" text-anchor="end">150</text>
<line x1="93.6" y1="1611.2" x2="113.6" y2="1611.2" stroke="#000" stroke-width="3" />
<text x="83.3" y="1617.7" font-size="17.8" text-anchor="end">100</text>
<line x1="93.6" y1="1666.2" x2="113.6" y2="1666.2" stroke="#000" stroke-width="3" />
<text x="83.3" y="1672.7" font-size="17.8" text-anchor="end">50</text>
<line x1="93.6" y1="1728.5" x2="113.6" y2="1728.5" stroke="#000" stroke-width="3" />
<text x="83.3" y="1735" font-size="17.8" text-anchor="end">20</text>
<line x1="93.6" y1="1764.4" x2="113.6" y2="1764.4" stroke="#000" stroke-width="3" />
<text x="83.3" y="1770.9" font-size="17.8" text-anchor="end">15</text>
<line x1="93.6" y1="1800.2" x2="113.6" y2="1800.2" stroke="#000" stroke-width="3" />
<text x="83.3" y="1806.8" font-size="17.8" text-anchor="end">10</text>
<line x1="93.6" y1="1836.1" x2="113.6" y2="1836.1" stroke="#000" stroke-width="3" />
<text x="83.3" y="1842.6" font-size="17.8" text-anchor="end">5</text>
<line x1="93.6" y1="1872" x2="113.6" y2="1872" stroke="#000" stroke-width="3" />
<text x="83.3" y="1878.5" font-size="17.8" text-anchor="end">0</text>
<line x1="103.4" y1="1707" x2="125" y2="1690" stroke="#000" stroke-width="3" />
<line x1="103.4" y1="1738" x2="125" y2="1719" stroke="#000" stroke-width="3" />
<line x1="95.7" y1="1872" x2="518.5" y2="1872" stroke="#000" stroke-width="3" />
<line x1="174.4" y1="1872" x2="174.4" y2="1889" stroke="#000" stroke-width="3" />
<line x1="314.2" y1="1872" x2="314.2" y2="1889" stroke="#000" stroke-width="3" />
<line x1="454.3" y1="1872" x2="454.3" y2="1889" stroke="#000" stroke-width="3" />
<path d="M135.5 1872V1865.5H159V1872" fill="none" stroke="#000" stroke-width="3"/>
<path d="M186.5 1872V1851.9H216.1V1872" fill="none" stroke="#000" stroke-width="3"/>
<path d="M274.5 1872V1770.1H304.1V1872" fill="none" stroke="#000" stroke-width="3"/>
<path d="M414.5 1872V1850.5H443.9V1872" fill="none" stroke="#000" stroke-width="3"/>
<path d="M327.1 1698V1626.7H356.5V1698M327.1 1872V1731.6M356.5 1872V1731.6" fill="none" stroke="#000" stroke-width="3"/>
<path d="M466.9 1698V1670H496V1698M466.9 1872V1731.6M496 1872V1731.6" fill="none" stroke="#000" stroke-width="3"/>
<circle cx="135.8" cy="1868" r="5.4" fill="#4ca3a8"/>
<circle cx="142.6" cy="1862.8" r="5.4" fill="#4ca3a8"/>
<circle cx="149.7" cy="1867.5" r="5.4" fill="#4ca3a8"/>
<circle cx="155.9" cy="1865" r="5.4" fill="#4ca3a8"/>
<circle cx="162" cy="1859.8" r="5.4" fill="#4ca3a8"/>
<circle cx="160.5" cy="1869" r="5.4" fill="#4ca3a8"/>
<rect x="181.3" y="1851.2" width="10.8" height="10.8" fill="#e8737c"/>
<rect x="189" y="1845" width="10.8" height="10.8" fill="#e8737c"/>
<rect x="198.3" y="1848.1" width="10.8" height="10.8" fill="#e8737c"/>
<rect x="207.6" y="1842" width="10.8" height="10.8" fill="#e8737c"/>
<rect x="209.1" y="1852.7" width="10.8" height="10.8" fill="#e8737c"/>
<path d="M289.5 1751.7V1786.5M281.8 1751.7H297.2M281.8 1786.5H297.2" stroke="#4ca3a8" stroke-width="2.6" fill="none"/>
<circle cx="285.5" cy="1751.7" r="5.4" fill="#4ca3a8"/>
<circle cx="287" cy="1765.6" r="5.4" fill="#4ca3a8"/>
<circle cx="301" cy="1761" r="5.4" fill="#4ca3a8"/>
<circle cx="301" cy="1768.6" r="5.4" fill="#4ca3a8"/>
<circle cx="288.6" cy="1803.2" r="5.4" fill="#4ca3a8"/>
<circle cx="284" cy="1768.6" r="5.4" fill="#4ca3a8"/>
<rect x="327.3" y="1610.5" width="10.8" height="10.8" fill="#e8737c"/>
<rect x="343.4" y="1604.3" width="10.8" height="10.8" fill="#e8737c"/>
<rect x="327.3" y="1633.6" width="10.8" height="10.8" fill="#e8737c"/>
<rect x="344.9" y="1622.8" width="10.8" height="10.8" fill="#e8737c"/>
<rect x="343.4" y="1632.1" width="10.8" height="10.8" fill="#e8737c"/>
<rect x="335.6" y="1621.3" width="10.8" height="10.8" fill="#e8737c"/>
<circle cx="415.1" cy="1849.5" r="5.4" fill="#4ca3a8"/>
<circle cx="421.3" cy="1842.7" r="5.4" fill="#4ca3a8"/>
<circle cx="430.6" cy="1844.3" r="5.4" fill="#4ca3a8"/>
<circle cx="435.2" cy="1834.1" r="5.4" fill="#4ca3a8"/>
<circle cx="442" cy="1849.5" r="5.4" fill="#4ca3a8"/>
<circle cx="425.9" cy="1847.3" r="5.4" fill="#4ca3a8"/>
<rect x="462.2" y="1664.5" width="10.8" height="10.8" fill="#e8737c"/>
<rect x="474.5" y="1655.2" width="10.8" height="10.8" fill="#e8737c"/>
<rect x="488.4" y="1664.5" width="10.8" height="10.8" fill="#e8737c"/>
<rect x="463.7" y="1670.6" width="10.8" height="10.8" fill="#e8737c"/>
<rect x="487.8" y="1670.6" width="10.8" height="10.8" fill="#e8737c"/>
<text x="163.6" y="1912" font-size="18.2" text-anchor="middle">Hepatocytes</text>
<text x="315.4" y="1912" font-size="18" text-anchor="middle">HSCs</text>
<text x="442" y="1912" font-size="18" text-anchor="middle">Macrophages</text>
<circle cx="121.9" cy="1526.4" r="4.5" fill="#4ca3a8"/>
<text x="171.3" y="1531.6" font-size="17">Oil</text>
<rect x="116.4" y="1553.9" width="11" height="11" fill="#e8737c"/>
<text x="171.3" y="1564.3" font-size="17">CCl <tspan font-size="11" dy="3">4</tspan></text>
<line x1="213" y1="1596.7" x2="341" y2="1596.7" stroke="#000" stroke-width="2.8" />
<text x="270.1" y="1593.1" font-size="30.3" text-anchor="middle" font-weight="bold" letter-spacing="1.5">****</text>
<line x1="341" y1="1579.1" x2="480" y2="1579.1" stroke="#000" stroke-width="2.8" />
<text x="401.9" y="1576.1" font-size="30.3" text-anchor="middle" font-weight="bold" letter-spacing="1.5">****</text>
<text x="34.8" y="1718.5" font-size="24.6" text-anchor="middle" transform="rotate(-90 34.8 1718.5)" >Relative mRNA expression of <tspan font-style="italic">Pdgfrb</tspan></text>
<path d="M642.5 1876.7V1867H672.5V1876.7" fill="none" stroke="#000" stroke-width="3"/>
<path d="M696 1876.7V1826.9H726.7V1876.7" fill="none" stroke="#000" stroke-width="3"/>
<path d="M787.2 1876.7V1848.5H817.2V1876.7" fill="none" stroke="#000" stroke-width="3"/>
<path d="M840.7 1876.7V1653.6H871.3V1876.7" fill="none" stroke="#000" stroke-width="3"/>
<path d="M931.9 1876.7V1789H961.3V1876.7" fill="none" stroke="#000" stroke-width="3"/>
<path d="M985.3 1876.7V1726.2H1015.4V1876.7" fill="none" stroke="#000" stroke-width="3"/>
<circle cx="644.2" cy="1867.9" r="5.4" fill="#4ca3a8"/>
<circle cx="657.4" cy="1862.5" r="5.4" fill="#4ca3a8"/>
<circle cx="670.9" cy="1867.9" r="5.4" fill="#4ca3a8"/>
<rect x="692.3" y="1822.5" width="10.8" height="10.8" fill="#e8737c"/>
<rect x="705.8" y="1819.4" width="10.8" height="10.8" fill="#e8737c"/>
<rect x="719" y="1822.5" width="10.8" height="10.8" fill="#e8737c"/>
<circle cx="788.2" cy="1849" r="5.4" fill="#4ca3a8"/>
<circle cx="802.1" cy="1846.2" r="5.4" fill="#4ca3a8"/>
<circle cx="815.6" cy="1849" r="5.4" fill="#4ca3a8"/>
<path d="M855.5 1634.5V1669.1M848.4 1634.5H862.6M848.4 1669.1H862.6" stroke="#e8737c" stroke-width="2.6" fill="none"/>
<rect x="850.1" y="1629.1" width="10.8" height="10.8" fill="#e8737c"/>
<rect x="850.1" y="1651.1" width="10.8" height="10.8" fill="#e8737c"/>
<rect x="850.1" y="1662.1" width="10.8" height="10.8" fill="#e8737c"/>
<circle cx="932" cy="1790.2" r="5.4" fill="#4ca3a8"/>
<circle cx="946.1" cy="1784.8" r="5.4" fill="#4ca3a8"/>
<circle cx="959.6" cy="1784.8" r="5.4" fill="#4ca3a8"/>
<path d="M999.6 1714.1V1738.3M991.8 1714.1H1007.5M991.8 1738.3H1007.5" stroke="#e8737c" stroke-width="2.6" fill="none"/>
<rect x="986.3" y="1710.9" width="10.8" height="10.8" fill="#e8737c"/>
<rect x="1002.6" y="1715" width="10.8" height="10.8" fill="#e8737c"/>
<rect x="994.2" y="1732.9" width="10.8" height="10.8" fill="#e8737c"/>
<rect x="995.6" y="1710.9" width="10.8" height="10.8" fill="#e8737c"/>
<line x1="621.6" y1="1551.8" x2="621.6" y2="1876.7" stroke="#000" stroke-width="3" />
<line x1="603.6" y1="1876.7" x2="621.6" y2="1876.7" stroke="#000" stroke-width="3" />
<text x="593.9" y="1883.8" font-size="19.8" text-anchor="end">0</text>
<line x1="603.6" y1="1822.5" x2="621.6" y2="1822.5" stroke="#000" stroke-width="3" />
<text x="593.9" y="1829.7" font-size="19.8" text-anchor="end">5</text>
<line x1="603.6" y1="1768.4" x2="621.6" y2="1768.4" stroke="#000" stroke-width="3" />
<text x="593.9" y="1775.5" font-size="19.8" text-anchor="end">10</text>
<line x1="603.6" y1="1714.2" x2="621.6" y2="1714.2" stroke="#000" stroke-width="3" />
<text x="593.9" y="1721.4" font-size="19.8" text-anchor="end">15</text>
<line x1="603.6" y1="1660.1" x2="621.6" y2="1660.1" stroke="#000" stroke-width="3" />
<text x="593.9" y="1667.2" font-size="19.8" text-anchor="end">20</text>
<line x1="603.6" y1="1606" x2="621.6" y2="1606" stroke="#000" stroke-width="3" />
<text x="593.9" y="1613.1" font-size="19.8" text-anchor="end">25</text>
<line x1="603.6" y1="1551.8" x2="621.6" y2="1551.8" stroke="#000" stroke-width="3" />
<text x="593.9" y="1558.9" font-size="19.8" text-anchor="end">30</text>
<line x1="603.3" y1="1876.7" x2="1038.2" y2="1876.7" stroke="#000" stroke-width="3" />
<line x1="683.5" y1="1876.7" x2="683.5" y2="1895.5" stroke="#000" stroke-width="3" />
<line x1="828.2" y1="1876.7" x2="828.2" y2="1895.5" stroke="#000" stroke-width="3" />
<line x1="972.8" y1="1876.7" x2="972.8" y2="1895.5" stroke="#000" stroke-width="3" />
<text x="671" y="1919" font-size="18.6" text-anchor="middle">Hepatocytes</text>
<text x="828.2" y="1919" font-size="18.6" text-anchor="middle">HSCs</text>
<text x="958" y="1919" font-size="18.3" text-anchor="middle">Macrophages</text>
<circle cx="626.9" cy="1522.3" r="4.5" fill="#4ca3a8"/>
<text x="677.2" y="1528.5" font-size="19">Sham</text>
<rect x="621.4" y="1548.8" width="11" height="11" fill="#e8737c"/>
<text x="677.2" y="1561" font-size="19">BDL</text>
<line x1="713.4" y1="1622.9" x2="857.1" y2="1622.9" stroke="#000" stroke-width="2.8" />
<text x="780.1" y="1618.8" font-size="30.3" text-anchor="middle" font-weight="bold" letter-spacing="1.5">****</text>
<line x1="858" y1="1607.2" x2="1005.8" y2="1607.2" stroke="#000" stroke-width="2.8" />
<text x="925.5" y="1603.2" font-size="30.3" text-anchor="middle" font-weight="bold" letter-spacing="1.5">****</text>
<text x="553.6" y="1718.5" font-size="25" text-anchor="middle" transform="rotate(-90 553.6 1718.5)" >Relative mRNA expression of <tspan font-style="italic">Pdgfrb</tspan></text>
<text x="1061.6" y="1506" font-size="47.5">H</text>
<text x="1307" y="1644.3" font-size="23.5" text-anchor="middle">HSCs</text>
<line x1="1156.5" y1="1651" x2="1447.2" y2="1651" stroke="#000" stroke-width="2.6" />
<text x="1060" y="1682.3" font-size="25.3">rTGFBI</text>
<text x="1185.5" y="1682.3" font-size="24" text-anchor="middle">0</text>
<text x="1259.7" y="1682.3" font-size="24" text-anchor="middle">50</text>
<text x="1331.2" y="1682.3" font-size="24" text-anchor="middle">100</text>
<text x="1413.7" y="1682.3" font-size="24" text-anchor="middle">200</text>
<text x="1460.6" y="1683" font-size="25">kDa</text>
<clipPath id="h1"><rect x="1148.5" y="1691.7" width="308" height="64.3"/></clipPath>
<rect x="1148.5" y="1691.7" width="308" height="64.3" fill="#b6b6b6"/>
<g clip-path="url(#h1)"><g filter="url(#bb3)">
<rect x="1164" y="1719" width="42" height="16" rx="8" fill="#a9a9a9"/>
<rect x="1229" y="1719" width="28" height="16" rx="8" fill="#8c8c8c"/>
<rect x="1259" y="1719" width="28" height="16" rx="8" fill="#8c8c8c"/>
<rect x="1307" y="1719" width="30" height="18" rx="9" fill="#7c7c7c"/>
<rect x="1341" y="1719" width="28" height="18" rx="9" fill="#6e6e6e"/>
<rect x="1389" y="1718.5" width="28" height="17" rx="8.5" fill="#7e7e7e"/>
<rect x="1420" y="1718.5" width="26" height="17" rx="8.5" fill="#727272"/>
</g></g>
<rect x="1148.5" y="1691.7" width="308" height="64.3" fill="none" stroke="#000" stroke-width="3"/>
<clipPath id="h2"><rect x="1148.5" y="1764.8" width="308.9" height="65.7"/></clipPath>
<rect x="1148.5" y="1764.8" width="308.9" height="65.7" fill="#b9b9b9"/>
<g clip-path="url(#h2)"><g filter="url(#bb2)">
<rect x="1164.6" y="1792" width="54" height="20" rx="10" fill="#050505"/>
<rect x="1228.1" y="1790.9" width="65" height="23" rx="11.5" fill="#050505"/>
<rect x="1306.8" y="1790" width="63" height="19" rx="9.5" fill="#050505"/>
<rect x="1380.7" y="1783.2" width="60" height="27" rx="13.5" fill="#050505"/>
</g></g>
<rect x="1148.5" y="1764.8" width="308.9" height="65.7" fill="none" stroke="#000" stroke-width="3"/>
<text x="1050.7" y="1735" font-size="23.6">PDGFRβ</text>
<text x="1057.4" y="1801.2" font-size="23.7">GAPDH</text>
<text x="1462.7" y="1732.4" font-size="24.5">190</text>
<text x="1468.6" y="1805.5" font-size="24.1">36</text>
<rect x="1631.7" y="1851.2" width="52.6" height="39.8" fill="#b1dfaa" stroke="#000" stroke-width="3"/>
<rect x="1721.9" y="1833" width="52.4" height="58" fill="#e9b87a" stroke="#000" stroke-width="3"/>
<rect x="1811.5" y="1795.1" width="53" height="95.9" fill="#93b9e0" stroke="#000" stroke-width="3"/>
<rect x="1901.9" y="1632.9" width="52.3" height="258.1" fill="#e8949a" stroke="#000" stroke-width="3"/>
<path d="M1657.8 1841.5V1857.5M1642.8 1841.5H1672.8M1642.8 1857.5H1672.8" stroke="#000" stroke-width="2.6" fill="none"/>
<circle cx="1647.9" cy="1843.8" r="5.8" fill="#000"/>
<circle cx="1667.4" cy="1845.8" r="5.8" fill="#000"/>
<circle cx="1657.8" cy="1859.5" r="5.8" fill="#000"/>
<path d="M1748.1 1829.5V1832M1733.1 1829.5H1763.1M1733.1 1832H1763.1" stroke="#000" stroke-width="2.6" fill="none"/>
<circle cx="1728.6" cy="1831.9" r="5.8" fill="#000"/>
<circle cx="1748.1" cy="1829.3" r="5.8" fill="#000"/>
<circle cx="1767.3" cy="1830.4" r="5.8" fill="#000"/>
<path d="M1837.8 1777.4V1808.6M1823.3 1777.4H1852.3M1823.3 1808.6H1852.3" stroke="#000" stroke-width="2.6" fill="none"/>
<circle cx="1837.8" cy="1775.1" r="5.8" fill="#000"/>
<circle cx="1828.2" cy="1804.5" r="5.8" fill="#000"/>
<circle cx="1848" cy="1799.2" r="5.8" fill="#000"/>
<path d="M1927.5 1573.6V1690.9M1913 1573.6H1942M1913 1690.9H1942" stroke="#000" stroke-width="2.6" fill="none"/>
<circle cx="1927.5" cy="1564.8" r="5.8" fill="#000"/>
<circle cx="1927.5" cy="1658.6" r="5.8" fill="#000"/>
<circle cx="1927.5" cy="1674.6" r="5.8" fill="#000"/>
<line x1="1598.4" y1="1525.5" x2="1598.4" y2="1891" stroke="#000" stroke-width="3" />
<line x1="1578.4" y1="1891" x2="1598.4" y2="1891" stroke="#000" stroke-width="3" />
<text x="1569.9" y="1897.9" font-size="19.2" text-anchor="end">0</text>
<line x1="1578.4" y1="1799.6" x2="1598.4" y2="1799.6" stroke="#000" stroke-width="3" />
<text x="1569.9" y="1806.5" font-size="19.2" text-anchor="end">2</text>
<line x1="1578.4" y1="1708.2" x2="1598.4" y2="1708.2" stroke="#000" stroke-width="3" />
<text x="1569.9" y="1715.2" font-size="19.2" text-anchor="end">4</text>
<line x1="1578.4" y1="1616.9" x2="1598.4" y2="1616.9" stroke="#000" stroke-width="3" />
<text x="1569.9" y="1623.8" font-size="19.2" text-anchor="end">6</text>
<line x1="1578.4" y1="1525.5" x2="1598.4" y2="1525.5" stroke="#000" stroke-width="3" />
<text x="1569.9" y="1532.4" font-size="19.2" text-anchor="end">8</text>
<line x1="1578" y1="1891" x2="1990.7" y2="1891" stroke="#000" stroke-width="3" />
<line x1="1657.8" y1="1891" x2="1657.8" y2="1911.4" stroke="#000" stroke-width="3" />
<text x="1657.8" y="1936" font-size="19.2" text-anchor="middle">0</text>
<line x1="1747.5" y1="1891" x2="1747.5" y2="1911.4" stroke="#000" stroke-width="3" />
<text x="1747.5" y="1936" font-size="19.2" text-anchor="middle">50</text>
<line x1="1837.8" y1="1891" x2="1837.8" y2="1911.4" stroke="#000" stroke-width="3" />
<text x="1837.8" y="1936" font-size="19.2" text-anchor="middle">100</text>
<line x1="1927.5" y1="1891" x2="1927.5" y2="1911.4" stroke="#000" stroke-width="3" />
<text x="1927.5" y="1936" font-size="19.2" text-anchor="middle">200</text>
<text x="1794" y="1505.8" font-size="18.3" text-anchor="middle">HSCs</text>
<line x1="1657.2" y1="1553.8" x2="1927.5" y2="1553.8" stroke="#000" stroke-width="2.8" />
<text x="1787" y="1548.5" font-size="35.5" text-anchor="middle" font-weight="bold" letter-spacing="1.5">****</text>
<line x1="1658" y1="1708.4" x2="1837.8" y2="1708.4" stroke="#000" stroke-width="2.8" />
<text x="1749" y="1697.5" font-size="20" text-anchor="middle">ns</text>
<line x1="1657.2" y1="1787.6" x2="1747.5" y2="1787.6" stroke="#000" stroke-width="2.8" />
<text x="1700.3" y="1775.5" font-size="20" text-anchor="middle">ns</text>
<text x="1541" y="1716.3" font-size="25.8" text-anchor="middle" transform="rotate(-90 1541 1716.3)" >Relative mRNA expression of <tspan font-style="italic">Pdgfrb</tspan></text>
<text x="39.7" y="2008.6" font-size="46.8">I</text>
<text x="306.5" y="2062.7" font-size="23.5" text-anchor="middle">HSCs</text>
<line x1="144.8" y1="2077.2" x2="454.9" y2="2077.2" stroke="#000" stroke-width="2.6" />
<text x="54.5" y="2108" font-size="25.5" text-anchor="middle">rTGFBI</text>
<text x="56.3" y="2141.4" font-size="25.4" text-anchor="middle">anti-<tspan font-family="Liberation Serif, serif">α</tspan>v<tspan font-family="Liberation Serif, serif">β</tspan>3</text>
<text x="56.3" y="2176.2" font-size="25.4" text-anchor="middle">anti-<tspan font-family="Liberation Serif, serif">α</tspan>v<tspan font-family="Liberation Serif, serif">β</tspan>5</text>
<text x="61" y="2211" font-size="25" text-anchor="middle">IgG</text>
<text x="156.9" y="2106.7" font-size="30" text-anchor="middle">−</text>
<text x="224.7" y="2105" font-size="25" text-anchor="middle">+</text>
<text x="297.7" y="2105" font-size="25" text-anchor="middle">+</text>
<text x="364.9" y="2105" font-size="25" text-anchor="middle">+</text>
<text x="439.1" y="2105" font-size="25" text-anchor="middle">+</text>
<text x="156.9" y="2142.7" font-size="30" text-anchor="middle">−</text>
<text x="224.7" y="2142.7" font-size="30" text-anchor="middle">−</text>
<text x="297.7" y="2141" font-size="25" text-anchor="middle">+</text>
<text x="364.9" y="2142.7" font-size="30" text-anchor="middle">−</text>
<text x="439.1" y="2142.7" font-size="30" text-anchor="middle">−</text>
<text x="156.9" y="2177.7" font-size="30" text-anchor="middle">−</text>
<text x="224.7" y="2177.7" font-size="30" text-anchor="middle">−</text>
<text x="297.7" y="2177.7" font-size="30" text-anchor="middle">−</text>
<text x="364.9" y="2176" font-size="25" text-anchor="middle">+</text>
<text x="439.1" y="2177.7" font-size="30" text-anchor="middle">−</text>
<text x="156.9" y="2212.7" font-size="30" text-anchor="middle">−</text>
<text x="224.7" y="2212.7" font-size="30" text-anchor="middle">−</text>
<text x="297.7" y="2212.7" font-size="30" text-anchor="middle">−</text>
<text x="364.9" y="2212.7" font-size="30" text-anchor="middle">−</text>
<text x="439.1" y="2211" font-size="25" text-anchor="middle">+</text>
<text x="479" y="2215.6" font-size="25">kDa</text>
<defs><linearGradient id="laneI" x1="0" y1="0" x2="0" y2="1"><stop offset="0" stop-color="#acacac"/><stop offset="0.4" stop-color="#8c8c8c"/><stop offset="1" stop-color="#6c6c6c"/></linearGradient></defs>
<clipPath id="i1"><rect x="117.5" y="2224.7" width="357.4" height="72.7"/></clipPath>
<rect x="117.5" y="2224.7" width="357.4" height="72.7" fill="#d4d4d4"/>
<g clip-path="url(#i1)"><g filter="url(#bb3)">
<path d="M130.3 2226H178L181 2299H127.3Z" fill="url(#laneI)"/><path d="M201.4 2226H251.3L254.3 2299H198.4Z" fill="url(#laneI)"/><path d="M273.6 2226H317L320 2299H270.6Z" fill="url(#laneI)"/><path d="M338.3 2226H383.9L386.9 2299H335.3Z" fill="url(#laneI)"/><path d="M407.3 2226H457.1L460.1 2299H404.3Z" fill="url(#laneI)"/>
<rect x="127.3" y="2252.2" width="53.7" height="14" rx="7" fill="#303030"/>
<rect x="198.4" y="2252.2" width="55.9" height="14" rx="7" fill="#303030"/>
<rect x="270.6" y="2252.2" width="49.4" height="14" rx="7" fill="#303030"/>
<rect x="335.3" y="2252.2" width="51.6" height="14" rx="7" fill="#303030"/>
<rect x="404.3" y="2252.2" width="55.8" height="14" rx="7" fill="#303030"/>
</g></g>
<rect x="117.5" y="2224.7" width="357.4" height="72.7" fill="none" stroke="#000" stroke-width="3"/>
<clipPath id="i2"><rect x="117.5" y="2308" width="357.4" height="73.2"/></clipPath>
<rect x="117.5" y="2308" width="357.4" height="73.2" fill="#ececec"/>
<g clip-path="url(#i2)"><g filter="url(#bb3)">
<rect x="129.5" y="2331.3" width="58" height="21" rx="10.5" fill="#0c0c0c"/>
<rect x="192" y="2331.9" width="67.7" height="21" rx="10.5" fill="#0c0c0c"/>
<rect x="263" y="2332.5" width="58" height="21" rx="10.5" fill="#0c0c0c"/>
<rect x="325.6" y="2333.1" width="66.7" height="21" rx="10.5" fill="#0c0c0c"/>
<rect x="397.8" y="2333.7" width="61.2" height="21" rx="10.5" fill="#0c0c0c"/>
</g></g>
<rect x="117.5" y="2308" width="357.4" height="73.2" fill="none" stroke="#000" stroke-width="3"/>
<text x="3" y="2267" font-size="23.8">PDGFRβ</text>
<text x="10.6" y="2343" font-size="23.8">GAPDH</text>
<text x="480" y="2268.6" font-size="25">190</text>
<text x="488.2" y="2349.5" font-size="24.1">36</text>
<rect x="638.5" y="2258.8" width="41" height="110.1" fill="#b1dfaa" stroke="#000" stroke-width="3"/>
<rect x="708.5" y="2143.4" width="41.1" height="225.5" fill="#e9b87a" stroke="#000" stroke-width="3"/>
<rect x="778.7" y="2251.4" width="41.1" height="117.5" fill="#93b9e0" stroke="#000" stroke-width="3"/>
<rect x="848.2" y="2169.6" width="41" height="199.3" fill="#e8949a" stroke="#000" stroke-width="3"/>
<rect x="918.3" y="2150.7" width="41.1" height="218.2" fill="#b8b8e0" stroke="#000" stroke-width="3"/>
<path d="M659.2 2234.5V2280.8M647.9 2234.5H670.5M647.9 2280.8H670.5" stroke="#000" stroke-width="2.6" fill="none"/>
<circle cx="659.2" cy="2231.3" r="5.8" fill="#000"/>
<circle cx="659.2" cy="2264.5" r="5.8" fill="#000"/>
<circle cx="659.2" cy="2276.9" r="5.8" fill="#000"/>
<path d="M729.3 2130.8V2153.6M717.9 2130.8H740.7M717.9 2153.6H740.7" stroke="#000" stroke-width="2.6" fill="none"/>
<circle cx="729.3" cy="2130.8" r="5.8" fill="#000"/>
<circle cx="729.3" cy="2142.2" r="5.8" fill="#000"/>
<circle cx="729.3" cy="2154.3" r="5.8" fill="#000"/>
<path d="M798.8 2212.3V2287.4M787.7 2212.3H809.9M787.7 2287.4H809.9" stroke="#000" stroke-width="2.6" fill="none"/>
<circle cx="791.3" cy="2228" r="5.8" fill="#000"/>
<circle cx="807.6" cy="2228" r="5.8" fill="#000"/>
<circle cx="798.8" cy="2293.9" r="5.8" fill="#000"/>
<path d="M868.9 2150.4V2186.2M857.8 2150.4H880M857.8 2186.2H880" stroke="#000" stroke-width="2.6" fill="none"/>
<circle cx="868.9" cy="2147.8" r="5.8" fill="#000"/>
<circle cx="860.4" cy="2180.7" r="5.8" fill="#000"/>
<circle cx="877.7" cy="2176.5" r="5.8" fill="#000"/>
<path d="M939 2098.8V2200.9M928 2098.8H950M928 2200.9H950" stroke="#000" stroke-width="2.6" fill="none"/>
<circle cx="939" cy="2098.8" r="5.8" fill="#000"/>
<circle cx="939" cy="2151.3" r="5.8" fill="#000"/>
<circle cx="939" cy="2200.9" r="5.8" fill="#000"/>
<line x1="613.5" y1="2054.2" x2="613.5" y2="2368.9" stroke="#000" stroke-width="3" />
<line x1="595.5" y1="2368.9" x2="613.5" y2="2368.9" stroke="#000" stroke-width="3" />
<text x="589.7" y="2376.5" font-size="21" text-anchor="end">0</text>
<line x1="595.5" y1="2264" x2="613.5" y2="2264" stroke="#000" stroke-width="3" />
<text x="589.7" y="2271.6" font-size="21" text-anchor="end">1</text>
<line x1="595.5" y1="2159.1" x2="613.5" y2="2159.1" stroke="#000" stroke-width="3" />
<text x="589.7" y="2166.7" font-size="21" text-anchor="end">2</text>
<line x1="595.5" y1="2054.2" x2="613.5" y2="2054.2" stroke="#000" stroke-width="3" />
<text x="589.7" y="2061.8" font-size="21" text-anchor="end">3</text>
<line x1="595.2" y1="2368.9" x2="987.6" y2="2368.9" stroke="#000" stroke-width="3" />
<line x1="659.2" y1="2368.9" x2="659.2" y2="2386.8" stroke="#000" stroke-width="3" />
<line x1="729.3" y1="2368.9" x2="729.3" y2="2386.8" stroke="#000" stroke-width="3" />
<line x1="798.8" y1="2368.9" x2="798.8" y2="2386.8" stroke="#000" stroke-width="3" />
<line x1="868.9" y1="2368.9" x2="868.9" y2="2386.8" stroke="#000" stroke-width="3" />
<line x1="939" y1="2368.9" x2="939" y2="2386.8" stroke="#000" stroke-width="3" />
<text x="801.7" y="2030.5" font-size="18.7" text-anchor="middle">HSCs</text>
<line x1="654.9" y1="2118.7" x2="729.3" y2="2118.7" stroke="#000" stroke-width="2.8" />
<text x="692.5" y="2122.9" font-size="35" text-anchor="middle" font-weight="bold" letter-spacing="1.5">**</text>
<line x1="729.3" y1="2105.4" x2="799.4" y2="2105.4" stroke="#000" stroke-width="2.8" />
<text x="765.5" y="2114.8" font-size="35" text-anchor="middle" font-weight="bold" letter-spacing="1.5">*</text>
<line x1="729.3" y1="2082.5" x2="868.9" y2="2082.5" stroke="#000" stroke-width="2.8" />
<text x="799.4" y="2078" font-size="20.5" text-anchor="middle">ns</text>
<line x1="729.3" y1="2055.8" x2="938.7" y2="2055.8" stroke="#000" stroke-width="2.8" />
<text x="833.3" y="2052" font-size="20.5" text-anchor="middle">ns</text>
<text x="553.7" y="2215.6" font-size="22.3" text-anchor="middle" transform="rotate(-90 553.7 2215.6)" >Relative mRNA expression of <tspan font-style="italic">Pdgfrb</tspan></text>
<text x="561.5" y="2415" font-size="20.6" text-anchor="middle">rTGFBI</text>
<text x="560.4" y="2443.7" font-size="21" text-anchor="middle">anti-<tspan font-family="Liberation Serif, serif">α</tspan>v<tspan font-family="Liberation Serif, serif">β</tspan>3</text>
<text x="561.2" y="2470.5" font-size="21" text-anchor="middle">anti-<tspan font-family="Liberation Serif, serif">α</tspan>v<tspan font-family="Liberation Serif, serif">β</tspan>5</text>
<text x="563.6" y="2497.5" font-size="20.2" text-anchor="middle">IgG</text>
<text x="663.7" y="2416.4" font-size="25.2" text-anchor="middle">−</text>
<text x="733.9" y="2415" font-size="21" text-anchor="middle">+</text>
<text x="803.3" y="2415" font-size="21" text-anchor="middle">+</text>
<text x="874.1" y="2415" font-size="21" text-anchor="middle">+</text>
<text x="949.1" y="2415" font-size="21" text-anchor="middle">+</text>
<text x="663.7" y="2445.1" font-size="25.2" text-anchor="middle">−</text>
<text x="733.9" y="2445.1" font-size="25.2" text-anchor="middle">−</text>
<text x="803.3" y="2443.7" font-size="21" text-anchor="middle">+</text>
<text x="874.1" y="2445.1" font-size="25.2" text-anchor="middle">−</text>
<text x="949.1" y="2445.1" font-size="25.2" text-anchor="middle">−</text>
<text x="663.7" y="2471.9" font-size="25.2" text-anchor="middle">−</text>
<text x="733.9" y="2471.9" font-size="25.2" text-anchor="middle">−</text>
<text x="803.3" y="2471.9" font-size="25.2" text-anchor="middle">−</text>
<text x="874.1" y="2470.5" font-size="21" text-anchor="middle">+</text>
<text x="949.1" y="2471.9" font-size="25.2" text-anchor="middle">−</text>
<text x="663.7" y="2498.9" font-size="25.2" text-anchor="middle">−</text>
<text x="733.9" y="2498.9" font-size="25.2" text-anchor="middle">−</text>
<text x="803.3" y="2498.9" font-size="25.2" text-anchor="middle">−</text>
<text x="874.1" y="2498.9" font-size="25.2" text-anchor="middle">−</text>
<text x="949.1" y="2497.5" font-size="21" text-anchor="middle">+</text>
<text x="1060" y="1983.5" font-size="48">J</text>
<text x="1314" y="2062.2" font-size="24.5" text-anchor="middle">HSCs</text>
<line x1="1146.8" y1="2071.4" x2="1453.2" y2="2071.4" stroke="#000" stroke-width="2.6" />
<text x="1121" y="2107.7" font-size="25.5" text-anchor="end">rTGFBI</text>
<text x="1141.2" y="2139.9" font-size="25.5" text-anchor="end">PF573228</text>
<text x="1082" y="2173.4" font-size="25.5" text-anchor="middle">PP2</text>
<text x="1140" y="2201.4" font-size="25.5" text-anchor="end">LY294002</text>
<text x="1082" y="2230.7" font-size="25.5" text-anchor="middle">Stattic</text>
<text x="1163" y="2109.4" font-size="30.6" text-anchor="middle">−</text>
<text x="1218.4" y="2107.7" font-size="25.5" text-anchor="middle">+</text>
<text x="1274.3" y="2107.7" font-size="25.5" text-anchor="middle">+</text>
<text x="1333" y="2107.7" font-size="25.5" text-anchor="middle">+</text>
<text x="1381.6" y="2107.7" font-size="25.5" text-anchor="middle">+</text>
<text x="1432.2" y="2107.7" font-size="25.5" text-anchor="middle">+</text>
<text x="1163" y="2141.6" font-size="30.6" text-anchor="middle">−</text>
<text x="1218.4" y="2141.6" font-size="30.6" text-anchor="middle">−</text>
<text x="1274.3" y="2139.9" font-size="25.5" text-anchor="middle">+</text>
<text x="1333" y="2141.6" font-size="30.6" text-anchor="middle">−</text>
<text x="1381.6" y="2141.6" font-size="30.6" text-anchor="middle">−</text>
<text x="1432.2" y="2141.6" font-size="30.6" text-anchor="middle">−</text>
<text x="1163" y="2175.1" font-size="30.6" text-anchor="middle">−</text>
<text x="1218.4" y="2175.1" font-size="30.6" text-anchor="middle">−</text>
<text x="1274.3" y="2175.1" font-size="30.6" text-anchor="middle">−</text>
<text x="1333" y="2173.4" font-size="25.5" text-anchor="middle">+</text>
<text x="1381.6" y="2175.1" font-size="30.6" text-anchor="middle">−</text>
<text x="1432.2" y="2175.1" font-size="30.6" text-anchor="middle">−</text>
<text x="1163" y="2203.1" font-size="30.6" text-anchor="middle">−</text>
<text x="1218.4" y="2203.1" font-size="30.6" text-anchor="middle">−</text>
<text x="1274.3" y="2203.1" font-size="30.6" text-anchor="middle">−</text>
<text x="1333" y="2203.1" font-size="30.6" text-anchor="middle">−</text>
<text x="1381.6" y="2201.4" font-size="25.5" text-anchor="middle">+</text>
<text x="1432.2" y="2203.1" font-size="30.6" text-anchor="middle">−</text>
<text x="1163" y="2232.4" font-size="30.6" text-anchor="middle">−</text>
<text x="1218.4" y="2232.4" font-size="30.6" text-anchor="middle">−</text>
<text x="1274.3" y="2232.4" font-size="30.6" text-anchor="middle">−</text>
<text x="1333" y="2232.4" font-size="30.6" text-anchor="middle">−</text>
<text x="1381.6" y="2232.4" font-size="30.6" text-anchor="middle">−</text>
<text x="1432.2" y="2230.7" font-size="25.5" text-anchor="middle">+</text>
<text x="1458" y="2231" font-size="25.9">kDa</text>
<clipPath id="j1"><rect x="1140.6" y="2240.5" width="315.1" height="64.3"/></clipPath>
<rect x="1140.6" y="2240.5" width="315.1" height="64.3" fill="#bdbdbd"/>
<g clip-path="url(#j1)"><g filter="url(#bb3)">
<rect x="1144.2" y="2242" width="46" height="62" fill="#acacac"/><rect x="1197.3" y="2242" width="46" height="62" fill="#acacac"/><rect x="1249" y="2242" width="46" height="62" fill="#acacac"/><rect x="1300.8" y="2242" width="46" height="62" fill="#acacac"/><rect x="1351" y="2242" width="46" height="62" fill="#acacac"/><rect x="1402.8" y="2242" width="46" height="62" fill="#acacac"/><ellipse cx="1440" cy="2296" rx="14" ry="10" fill="#d0d0d0"/>
<rect x="1145.2" y="2265.2" width="44" height="14" rx="7" fill="#5e5e5e"/>
<rect x="1198.3" y="2265.2" width="44" height="14" rx="7" fill="#4a4a4a"/>
<rect x="1250" y="2265.2" width="44" height="14" rx="7" fill="#606060"/>
<rect x="1301.8" y="2265.2" width="44" height="14" rx="7" fill="#525252"/>
<rect x="1352" y="2265.2" width="44" height="14" rx="7" fill="#424242"/>
<rect x="1403.8" y="2265.2" width="44" height="14" rx="7" fill="#4c4c4c"/>
</g></g>
<rect x="1140.6" y="2240.5" width="315.1" height="64.3" fill="none" stroke="#000" stroke-width="3"/>
<clipPath id="j2"><rect x="1140.6" y="2314.6" width="315.1" height="64.9"/></clipPath>
<rect x="1140.6" y="2314.6" width="315.1" height="64.9" fill="#c4c4c4"/>
<g clip-path="url(#j2)"><g filter="url(#bb3)">
<rect x="1152.4" y="2338.5" width="40" height="16" rx="8" fill="#060606"/>
<rect x="1200.6" y="2338.5" width="40" height="16" rx="8" fill="#060606"/>
<rect x="1247.8" y="2336.5" width="44" height="20" rx="10" fill="#060606"/>
<rect x="1301" y="2338.5" width="40" height="16" rx="8" fill="#060606"/>
<rect x="1352.5" y="2338.5" width="40" height="16" rx="8" fill="#060606"/>
<rect x="1403.7" y="2338.5" width="40" height="16" rx="8" fill="#060606"/>
</g></g>
<rect x="1140.6" y="2314.6" width="315.1" height="64.9" fill="none" stroke="#000" stroke-width="3"/>
<text x="1041.4" y="2281.2" font-size="23.7">PDGFRβ</text>
<text x="1047.8" y="2356.7" font-size="23.8">GAPDH</text>
<text x="1459.3" y="2281.2" font-size="25.2">190</text>
<text x="1467.2" y="2353" font-size="24.5">36</text>
<rect x="1627.8" y="2347" width="34.5" height="13.4" fill="#b1dfaa" stroke="#000" stroke-width="3"/>
<rect x="1689" y="2204.1" width="34.8" height="156.3" fill="#e9b87a" stroke="#000" stroke-width="3"/>
<rect x="1750.1" y="2335.1" width="35.8" height="25.3" fill="#93b9e0" stroke="#000" stroke-width="3"/>
<rect x="1812.2" y="2262.2" width="35.8" height="98.2" fill="#e8949a" stroke="#000" stroke-width="3"/>
<rect x="1873.7" y="2263.6" width="35.8" height="96.8" fill="#b8b8e0" stroke="#000" stroke-width="3"/>
<rect x="1935.2" y="2323.2" width="36" height="37.2" fill="#ecb8d8" stroke="#000" stroke-width="3"/>
<path d="M1644.4 2342V2348M1631.9 2342H1656.9M1631.9 2348H1656.9" stroke="#000" stroke-width="2.6" fill="none"/>
<circle cx="1627.5" cy="2348.8" r="5.5" fill="#000"/>
<circle cx="1644.4" cy="2342.8" r="5.5" fill="#000"/>
<circle cx="1661.1" cy="2344.9" r="5.5" fill="#000"/>
<path d="M1706.2 2199V2206M1693.7 2199H1718.7M1693.7 2206H1718.7" stroke="#000" stroke-width="2.6" fill="none"/>
<circle cx="1689" cy="2205.6" r="5.5" fill="#000"/>
<circle cx="1706.2" cy="2198.9" r="5.5" fill="#000"/>
<circle cx="1723.2" cy="2205.6" r="5.5" fill="#000"/>
<path d="M1768.3 2328V2340M1757.8 2328H1778.8M1757.8 2340H1778.8" stroke="#000" stroke-width="2.6" fill="none"/>
<circle cx="1760.1" cy="2339.2" r="5.5" fill="#000"/>
<circle cx="1768.3" cy="2327.6" r="5.5" fill="#000"/>
<circle cx="1776.8" cy="2335.2" r="5.5" fill="#000"/>
<path d="M1829.8 2245.9V2279.8M1819.5 2245.9H1840.1M1819.5 2279.8H1840.1" stroke="#000" stroke-width="2.6" fill="none"/>
<circle cx="1829.8" cy="2247.4" r="5.5" fill="#000"/>
<circle cx="1829.8" cy="2261" r="5.5" fill="#000"/>
<circle cx="1829.8" cy="2280.7" r="5.5" fill="#000"/>
<path d="M1891.9 2252V2274.6M1881.6 2252H1902.2M1881.6 2274.6H1902.2" stroke="#000" stroke-width="2.6" fill="none"/>
<circle cx="1884.3" cy="2255.9" r="5.5" fill="#000"/>
<circle cx="1899.4" cy="2259.5" r="5.5" fill="#000"/>
<circle cx="1891.9" cy="2274.6" r="5.5" fill="#000"/>
<path d="M1953.4 2318V2322M1940.9 2318H1965.9M1940.9 2322H1965.9" stroke="#000" stroke-width="2.6" fill="none"/>
<circle cx="1937.3" cy="2322.5" r="5.5" fill="#000"/>
<circle cx="1953.4" cy="2318.6" r="5.5" fill="#000"/>
<circle cx="1969.1" cy="2322.5" r="5.5" fill="#000"/>
<line x1="1603.6" y1="2062.7" x2="1603.6" y2="2360.4" stroke="#000" stroke-width="3" />
<line x1="1586.6" y1="2360.4" x2="1603.6" y2="2360.4" stroke="#000" stroke-width="3" />
<text x="1583" y="2367.4" font-size="19.5" text-anchor="end">0</text>
<line x1="1586.6" y1="2286" x2="1603.6" y2="2286" stroke="#000" stroke-width="3" />
<text x="1583" y="2293" font-size="19.5" text-anchor="end">5</text>
<line x1="1586.6" y1="2211.6" x2="1603.6" y2="2211.6" stroke="#000" stroke-width="3" />
<text x="1583" y="2218.6" font-size="19.5" text-anchor="end">10</text>
<line x1="1586.6" y1="2137.1" x2="1603.6" y2="2137.1" stroke="#000" stroke-width="3" />
<text x="1583" y="2144.1" font-size="19.5" text-anchor="end">15</text>
<line x1="1586.6" y1="2062.7" x2="1603.6" y2="2062.7" stroke="#000" stroke-width="3" />
<text x="1583" y="2069.7" font-size="19.5" text-anchor="end">20</text>
<line x1="1586.6" y1="2360.4" x2="1996.3" y2="2360.4" stroke="#000" stroke-width="3" />
<line x1="1644.4" y1="2360.4" x2="1644.4" y2="2377.6" stroke="#000" stroke-width="3" />
<line x1="1706.2" y1="2360.4" x2="1706.2" y2="2377.6" stroke="#000" stroke-width="3" />
<line x1="1768.3" y1="2360.4" x2="1768.3" y2="2377.6" stroke="#000" stroke-width="3" />
<line x1="1830.4" y1="2360.4" x2="1830.4" y2="2377.6" stroke="#000" stroke-width="3" />
<line x1="1891.9" y1="2360.4" x2="1891.9" y2="2377.6" stroke="#000" stroke-width="3" />
<line x1="1953.4" y1="2360.4" x2="1953.4" y2="2377.6" stroke="#000" stroke-width="3" />
<text x="1804" y="2042.8" font-size="18.6" text-anchor="middle">HSCs</text>
<line x1="1650.5" y1="2180.8" x2="1706.5" y2="2180.8" stroke="#000" stroke-width="2.8" />
<text x="1675.5" y="2181.8" font-size="34" text-anchor="middle" letter-spacing="1.5">****</text>
<line x1="1707.7" y1="2167.1" x2="1772.2" y2="2167.1" stroke="#000" stroke-width="2.8" />
<text x="1739.8" y="2167.6" font-size="34" text-anchor="middle" letter-spacing="1.5">****</text>
<line x1="1706.5" y1="2142.3" x2="1829.8" y2="2142.3" stroke="#000" stroke-width="2.8" />
<text x="1767" y="2144" font-size="34" text-anchor="middle" letter-spacing="1.5">****</text>
<line x1="1706.5" y1="2113.5" x2="1898.8" y2="2113.5" stroke="#000" stroke-width="2.8" />
<text x="1800.2" y="2115.8" font-size="34" text-anchor="middle" letter-spacing="1.5">****</text>
<line x1="1706.5" y1="2083.9" x2="1963" y2="2083.9" stroke="#000" stroke-width="2.8" />
<text x="1831.2" y="2085.8" font-size="34" text-anchor="middle" letter-spacing="1.5">****</text>
<text x="1543.5" y="2211" font-size="21" text-anchor="middle" transform="rotate(-90 1543.5 2211)" >Relative mRNA expression of <tspan font-style="italic">Pdgfrb</tspan></text>
<text x="1542.1" y="2407.9" font-size="21" text-anchor="middle">rTGFBI</text>
<text x="1540.9" y="2432.1" font-size="21.1" text-anchor="middle">PF573228</text>
<text x="1542" y="2454.8" font-size="21" text-anchor="middle">PP2</text>
<text x="1541.5" y="2476.6" font-size="21" text-anchor="middle">LY294002</text>
<text x="1542.9" y="2503.3" font-size="21.2" text-anchor="middle">Stattic</text>
<text x="1644.4" y="2409.3" font-size="25.2" text-anchor="middle">−</text>
<text x="1708.6" y="2407.9" font-size="21" text-anchor="middle">+</text>
<text x="1770.7" y="2407.9" font-size="21" text-anchor="middle">+</text>
<text x="1831.3" y="2407.9" font-size="21" text-anchor="middle">+</text>
<text x="1894.9" y="2407.9" font-size="21" text-anchor="middle">+</text>
<text x="1957.9" y="2407.9" font-size="21" text-anchor="middle">+</text>
<text x="1644.4" y="2433.5" font-size="25.2" text-anchor="middle">−</text>
<text x="1708.6" y="2433.5" font-size="25.2" text-anchor="middle">−</text>
<text x="1770.7" y="2432.1" font-size="21" text-anchor="middle">+</text>
<text x="1831.3" y="2433.5" font-size="25.2" text-anchor="middle">−</text>
<text x="1894.9" y="2433.5" font-size="25.2" text-anchor="middle">−</text>
<text x="1957.9" y="2433.5" font-size="25.2" text-anchor="middle">−</text>
<text x="1644.4" y="2456.2" font-size="25.2" text-anchor="middle">−</text>
<text x="1708.6" y="2456.2" font-size="25.2" text-anchor="middle">−</text>
<text x="1770.7" y="2456.2" font-size="25.2" text-anchor="middle">−</text>
<text x="1831.3" y="2454.8" font-size="21" text-anchor="middle">+</text>
<text x="1894.9" y="2456.2" font-size="25.2" text-anchor="middle">−</text>
<text x="1957.9" y="2456.2" font-size="25.2" text-anchor="middle">−</text>
<text x="1644.4" y="2478" font-size="25.2" text-anchor="middle">−</text>
<text x="1708.6" y="2478" font-size="25.2" text-anchor="middle">−</text>
<text x="1770.7" y="2478" font-size="25.2" text-anchor="middle">−</text>
<text x="1831.3" y="2478" font-size="25.2" text-anchor="middle">−</text>
<text x="1894.9" y="2476.6" font-size="21" text-anchor="middle">+</text>
<text x="1957.9" y="2478" font-size="25.2" text-anchor="middle">−</text>
<text x="1644.4" y="2504.7" font-size="25.2" text-anchor="middle">−</text>
<text x="1708.6" y="2504.7" font-size="25.2" text-anchor="middle">−</text>
<text x="1770.7" y="2504.7" font-size="25.2" text-anchor="middle">−</text>
<text x="1831.3" y="2504.7" font-size="25.2" text-anchor="middle">−</text>
<text x="1894.9" y="2504.7" font-size="25.2" text-anchor="middle">−</text>
<text x="1957.9" y="2503.3" font-size="21" text-anchor="middle">+</text>
</svg></body></html>
